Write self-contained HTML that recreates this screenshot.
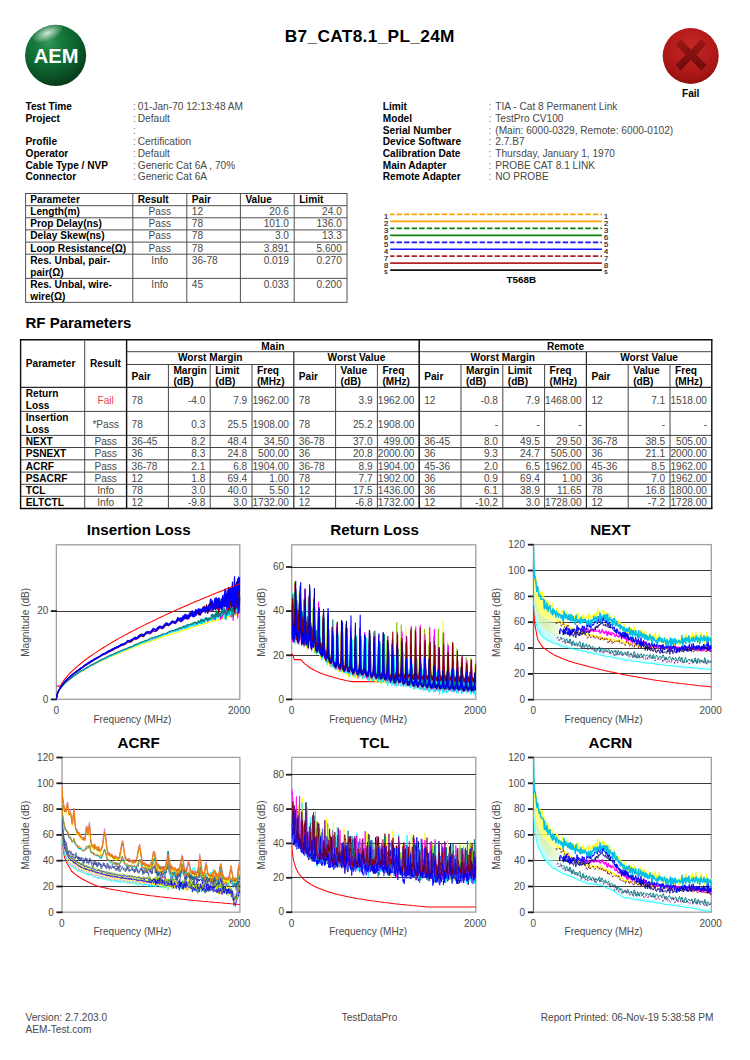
<!DOCTYPE html>
<html><head><meta charset="utf-8"><title>B7_CAT8.1_PL_24M</title>
<style>
html,body{margin:0;padding:0;background:#fff;}
body{width:750px;height:1060px;position:relative;overflow:hidden;font-family:"Liberation Sans", sans-serif;}
.t{position:absolute;white-space:nowrap;}
svg{position:absolute;left:0;top:0;}
</style></head><body>
<div class="t" style="top:25px;font-size:17.3px;line-height:22px;color:#000;font-weight:bold;left:219.80px;width:300px;text-align:center;letter-spacing:0.32px;">B7_CAT8.1_PL_24M</div>
<div class="t" style="top:100px;font-size:10.15px;line-height:13px;color:#000;font-weight:bold;left:25.50px;">Test Time</div>
<div class="t" style="top:100px;font-size:10.15px;line-height:13px;color:#808080;left:133.00px;">:</div>
<div class="t" style="top:100px;font-size:10.15px;line-height:13px;color:#484848;left:137.80px;">01-Jan-70 12:13:48 AM</div>
<div class="t" style="top:112px;font-size:10.15px;line-height:13px;color:#000;font-weight:bold;left:25.50px;">Project</div>
<div class="t" style="top:112px;font-size:10.15px;line-height:13px;color:#808080;left:133.00px;">:</div>
<div class="t" style="top:112px;font-size:10.15px;line-height:13px;color:#484848;left:137.80px;">Default</div>
<div class="t" style="top:124px;font-size:10.15px;line-height:13px;color:#808080;left:133.00px;">:</div>
<div class="t" style="top:135px;font-size:10.15px;line-height:13px;color:#000;font-weight:bold;left:25.50px;">Profile</div>
<div class="t" style="top:135px;font-size:10.15px;line-height:13px;color:#808080;left:133.00px;">:</div>
<div class="t" style="top:135px;font-size:10.15px;line-height:13px;color:#484848;left:137.80px;">Certification</div>
<div class="t" style="top:147px;font-size:10.15px;line-height:13px;color:#000;font-weight:bold;left:25.50px;">Operator</div>
<div class="t" style="top:147px;font-size:10.15px;line-height:13px;color:#808080;left:133.00px;">:</div>
<div class="t" style="top:147px;font-size:10.15px;line-height:13px;color:#484848;left:137.80px;">Default</div>
<div class="t" style="top:159px;font-size:10.15px;line-height:13px;color:#000;font-weight:bold;left:25.50px;">Cable Type / NVP</div>
<div class="t" style="top:159px;font-size:10.15px;line-height:13px;color:#808080;left:133.00px;">:</div>
<div class="t" style="top:159px;font-size:10.15px;line-height:13px;color:#484848;left:137.80px;">Generic Cat 6A , 70%</div>
<div class="t" style="top:170px;font-size:10.15px;line-height:13px;color:#000;font-weight:bold;left:25.50px;">Connector</div>
<div class="t" style="top:170px;font-size:10.15px;line-height:13px;color:#808080;left:133.00px;">:</div>
<div class="t" style="top:170px;font-size:10.15px;line-height:13px;color:#484848;left:137.80px;">Generic Cat 6A</div>
<div class="t" style="top:100px;font-size:10.15px;line-height:13px;color:#000;font-weight:bold;left:382.80px;">Limit</div>
<div class="t" style="top:100px;font-size:10.15px;line-height:13px;color:#808080;left:488.50px;">:</div>
<div class="t" style="top:100px;font-size:10.15px;line-height:13px;color:#484848;left:495.30px;">TIA - Cat 8 Permanent Link</div>
<div class="t" style="top:112px;font-size:10.15px;line-height:13px;color:#000;font-weight:bold;left:382.80px;">Model</div>
<div class="t" style="top:112px;font-size:10.15px;line-height:13px;color:#808080;left:488.50px;">:</div>
<div class="t" style="top:112px;font-size:10.15px;line-height:13px;color:#484848;left:495.30px;">TestPro CV100</div>
<div class="t" style="top:124px;font-size:10.15px;line-height:13px;color:#000;font-weight:bold;left:382.80px;">Serial Number</div>
<div class="t" style="top:124px;font-size:10.15px;line-height:13px;color:#808080;left:488.50px;">:</div>
<div class="t" style="top:124px;font-size:10.15px;line-height:13px;color:#484848;left:495.30px;">(Main: 6000-0329, Remote: 6000-0102)</div>
<div class="t" style="top:135px;font-size:10.15px;line-height:13px;color:#000;font-weight:bold;left:382.80px;">Device Software</div>
<div class="t" style="top:135px;font-size:10.15px;line-height:13px;color:#808080;left:488.50px;">:</div>
<div class="t" style="top:135px;font-size:10.15px;line-height:13px;color:#484848;left:495.30px;">2.7.B7</div>
<div class="t" style="top:147px;font-size:10.15px;line-height:13px;color:#000;font-weight:bold;left:382.80px;">Calibration Date</div>
<div class="t" style="top:147px;font-size:10.15px;line-height:13px;color:#808080;left:488.50px;">:</div>
<div class="t" style="top:147px;font-size:10.15px;line-height:13px;color:#484848;left:495.30px;">Thursday, January 1, 1970</div>
<div class="t" style="top:159px;font-size:10.15px;line-height:13px;color:#000;font-weight:bold;left:382.80px;">Main Adapter</div>
<div class="t" style="top:159px;font-size:10.15px;line-height:13px;color:#808080;left:488.50px;">:</div>
<div class="t" style="top:159px;font-size:10.15px;line-height:13px;color:#484848;left:495.30px;">PROBE CAT 8.1 LINK</div>
<div class="t" style="top:170px;font-size:10.15px;line-height:13px;color:#000;font-weight:bold;left:382.80px;">Remote Adapter</div>
<div class="t" style="top:170px;font-size:10.15px;line-height:13px;color:#808080;left:488.50px;">:</div>
<div class="t" style="top:170px;font-size:10.15px;line-height:13px;color:#484848;left:495.30px;">NO PROBE</div>
<div class="t" style="top:87px;font-size:10.15px;line-height:13px;color:#000;font-weight:bold;left:540.70px;width:300px;text-align:center;">Fail</div>
<div class="t" style="top:193px;font-size:10.15px;line-height:13px;color:#000;font-weight:bold;left:30.30px;">Parameter</div>
<div class="t" style="top:193px;font-size:10.15px;line-height:13px;color:#000;font-weight:bold;left:137.80px;">Result</div>
<div class="t" style="top:193px;font-size:10.15px;line-height:13px;color:#000;font-weight:bold;left:191.80px;">Pair</div>
<div class="t" style="top:193px;font-size:10.15px;line-height:13px;color:#000;font-weight:bold;left:245.40px;">Value</div>
<div class="t" style="top:193px;font-size:10.15px;line-height:13px;color:#000;font-weight:bold;left:299.20px;">Limit</div>
<div class="t" style="top:205px;font-size:10.15px;line-height:13px;color:#000;font-weight:bold;left:30.30px;">Length(m)</div>
<div class="t" style="top:205px;font-size:10.15px;line-height:13px;color:#484848;left:9.80px;width:300px;text-align:center;">Pass</div>
<div class="t" style="top:205px;font-size:10.15px;line-height:13px;color:#484848;left:191.80px;">12</div>
<div class="t" style="top:205px;font-size:10.15px;line-height:13px;color:#484848;right:461.00px;text-align:right;">20.6</div>
<div class="t" style="top:205px;font-size:10.15px;line-height:13px;color:#484848;right:408.20px;text-align:right;">24.0</div>
<div class="t" style="top:217px;font-size:10.15px;line-height:13px;color:#000;font-weight:bold;left:30.30px;">Prop Delay(ns)</div>
<div class="t" style="top:217px;font-size:10.15px;line-height:13px;color:#484848;left:9.80px;width:300px;text-align:center;">Pass</div>
<div class="t" style="top:217px;font-size:10.15px;line-height:13px;color:#484848;left:191.80px;">78</div>
<div class="t" style="top:217px;font-size:10.15px;line-height:13px;color:#484848;right:461.00px;text-align:right;">101.0</div>
<div class="t" style="top:217px;font-size:10.15px;line-height:13px;color:#484848;right:408.20px;text-align:right;">136.0</div>
<div class="t" style="top:229px;font-size:10.15px;line-height:13px;color:#000;font-weight:bold;left:30.30px;">Delay Skew(ns)</div>
<div class="t" style="top:229px;font-size:10.15px;line-height:13px;color:#484848;left:9.80px;width:300px;text-align:center;">Pass</div>
<div class="t" style="top:229px;font-size:10.15px;line-height:13px;color:#484848;left:191.80px;">78</div>
<div class="t" style="top:229px;font-size:10.15px;line-height:13px;color:#484848;right:461.00px;text-align:right;">3.0</div>
<div class="t" style="top:229px;font-size:10.15px;line-height:13px;color:#484848;right:408.20px;text-align:right;">13.3</div>
<div class="t" style="top:242px;font-size:10.15px;line-height:13px;color:#000;font-weight:bold;left:30.30px;">Loop Resistance(Ω)</div>
<div class="t" style="top:242px;font-size:10.15px;line-height:13px;color:#484848;left:9.80px;width:300px;text-align:center;">Pass</div>
<div class="t" style="top:242px;font-size:10.15px;line-height:13px;color:#484848;left:191.80px;">78</div>
<div class="t" style="top:242px;font-size:10.15px;line-height:13px;color:#484848;right:461.00px;text-align:right;">3.891</div>
<div class="t" style="top:242px;font-size:10.15px;line-height:13px;color:#484848;right:408.20px;text-align:right;">5.600</div>
<div class="t" style="top:254px;font-size:10.15px;line-height:13px;color:#000;font-weight:bold;left:30.30px;">Res. Unbal, pair-</div>
<div class="t" style="top:266px;font-size:10.15px;line-height:13px;color:#000;font-weight:bold;left:30.30px;">pair(Ω)</div>
<div class="t" style="top:254px;font-size:10.15px;line-height:13px;color:#484848;left:9.80px;width:300px;text-align:center;">Info</div>
<div class="t" style="top:254px;font-size:10.15px;line-height:13px;color:#484848;left:191.80px;">36-78</div>
<div class="t" style="top:254px;font-size:10.15px;line-height:13px;color:#484848;right:461.00px;text-align:right;">0.019</div>
<div class="t" style="top:254px;font-size:10.15px;line-height:13px;color:#484848;right:408.20px;text-align:right;">0.270</div>
<div class="t" style="top:278px;font-size:10.15px;line-height:13px;color:#000;font-weight:bold;left:30.30px;">Res. Unbal, wire-</div>
<div class="t" style="top:290px;font-size:10.15px;line-height:13px;color:#000;font-weight:bold;left:30.30px;">wire(Ω)</div>
<div class="t" style="top:278px;font-size:10.15px;line-height:13px;color:#484848;left:9.80px;width:300px;text-align:center;">Info</div>
<div class="t" style="top:278px;font-size:10.15px;line-height:13px;color:#484848;left:191.80px;">45</div>
<div class="t" style="top:278px;font-size:10.15px;line-height:13px;color:#484848;right:461.00px;text-align:right;">0.033</div>
<div class="t" style="top:278px;font-size:10.15px;line-height:13px;color:#484848;right:408.20px;text-align:right;">0.200</div>
<div class="t" style="top:313px;font-size:15px;line-height:19px;color:#000;font-weight:bold;left:25.50px;">RF Parameters</div>
<div class="t" style="top:357px;font-size:10.15px;line-height:13px;color:#000;font-weight:bold;left:25.80px;">Parameter</div>
<div class="t" style="top:357px;font-size:10.15px;line-height:13px;color:#000;font-weight:bold;left:90.00px;">Result</div>
<div class="t" style="top:340px;font-size:10.15px;line-height:13px;color:#000;font-weight:bold;left:122.90px;width:300px;text-align:center;">Main</div>
<div class="t" style="top:340px;font-size:10.15px;line-height:13px;color:#000;font-weight:bold;left:415.50px;width:300px;text-align:center;">Remote</div>
<div class="t" style="top:351px;font-size:10.15px;line-height:13px;color:#000;font-weight:bold;left:60.20px;width:300px;text-align:center;">Worst Margin</div>
<div class="t" style="top:351px;font-size:10.15px;line-height:13px;color:#000;font-weight:bold;left:206.50px;width:300px;text-align:center;">Worst Value</div>
<div class="t" style="top:370px;font-size:10.15px;line-height:13px;color:#000;font-weight:bold;left:131.60px;">Pair</div>
<div class="t" style="top:364px;font-size:10.15px;line-height:13px;color:#000;font-weight:bold;left:173.40px;">Margin</div>
<div class="t" style="top:375px;font-size:10.15px;line-height:13px;color:#000;font-weight:bold;left:173.40px;">(dB)</div>
<div class="t" style="top:364px;font-size:10.15px;line-height:13px;color:#000;font-weight:bold;left:215.20px;">Limit</div>
<div class="t" style="top:375px;font-size:10.15px;line-height:13px;color:#000;font-weight:bold;left:215.20px;">(dB)</div>
<div class="t" style="top:364px;font-size:10.15px;line-height:13px;color:#000;font-weight:bold;left:257.00px;">Freq</div>
<div class="t" style="top:375px;font-size:10.15px;line-height:13px;color:#000;font-weight:bold;left:257.00px;">(MHz)</div>
<div class="t" style="top:370px;font-size:10.15px;line-height:13px;color:#000;font-weight:bold;left:298.80px;">Pair</div>
<div class="t" style="top:364px;font-size:10.15px;line-height:13px;color:#000;font-weight:bold;left:340.60px;">Value</div>
<div class="t" style="top:375px;font-size:10.15px;line-height:13px;color:#000;font-weight:bold;left:340.60px;">(dB)</div>
<div class="t" style="top:364px;font-size:10.15px;line-height:13px;color:#000;font-weight:bold;left:382.40px;">Freq</div>
<div class="t" style="top:375px;font-size:10.15px;line-height:13px;color:#000;font-weight:bold;left:382.40px;">(MHz)</div>
<div class="t" style="top:351px;font-size:10.15px;line-height:13px;color:#000;font-weight:bold;left:352.80px;width:300px;text-align:center;">Worst Margin</div>
<div class="t" style="top:351px;font-size:10.15px;line-height:13px;color:#000;font-weight:bold;left:499.10px;width:300px;text-align:center;">Worst Value</div>
<div class="t" style="top:370px;font-size:10.15px;line-height:13px;color:#000;font-weight:bold;left:424.20px;">Pair</div>
<div class="t" style="top:364px;font-size:10.15px;line-height:13px;color:#000;font-weight:bold;left:466.00px;">Margin</div>
<div class="t" style="top:375px;font-size:10.15px;line-height:13px;color:#000;font-weight:bold;left:466.00px;">(dB)</div>
<div class="t" style="top:364px;font-size:10.15px;line-height:13px;color:#000;font-weight:bold;left:507.80px;">Limit</div>
<div class="t" style="top:375px;font-size:10.15px;line-height:13px;color:#000;font-weight:bold;left:507.80px;">(dB)</div>
<div class="t" style="top:364px;font-size:10.15px;line-height:13px;color:#000;font-weight:bold;left:549.60px;">Freq</div>
<div class="t" style="top:375px;font-size:10.15px;line-height:13px;color:#000;font-weight:bold;left:549.60px;">(MHz)</div>
<div class="t" style="top:370px;font-size:10.15px;line-height:13px;color:#000;font-weight:bold;left:591.40px;">Pair</div>
<div class="t" style="top:364px;font-size:10.15px;line-height:13px;color:#000;font-weight:bold;left:633.20px;">Value</div>
<div class="t" style="top:375px;font-size:10.15px;line-height:13px;color:#000;font-weight:bold;left:633.20px;">(dB)</div>
<div class="t" style="top:364px;font-size:10.15px;line-height:13px;color:#000;font-weight:bold;left:675.00px;">Freq</div>
<div class="t" style="top:375px;font-size:10.15px;line-height:13px;color:#000;font-weight:bold;left:675.00px;">(MHz)</div>
<div class="t" style="top:387px;font-size:10.15px;line-height:13px;color:#000;font-weight:bold;left:25.80px;">Return</div>
<div class="t" style="top:399px;font-size:10.15px;line-height:13px;color:#000;font-weight:bold;left:25.80px;">Loss</div>
<div class="t" style="top:394px;font-size:10.15px;line-height:13px;color:#e8474a;left:-44.35px;width:300px;text-align:center;">Fail</div>
<div class="t" style="top:394px;font-size:10.15px;line-height:13px;color:#484848;left:131.60px;">78</div>
<div class="t" style="top:394px;font-size:10.15px;line-height:13px;color:#484848;right:544.60px;text-align:right;">-4.0</div>
<div class="t" style="top:394px;font-size:10.15px;line-height:13px;color:#484848;right:502.80px;text-align:right;">7.9</div>
<div class="t" style="top:394px;font-size:10.15px;line-height:13px;color:#484848;right:461.00px;text-align:right;">1962.00</div>
<div class="t" style="top:394px;font-size:10.15px;line-height:13px;color:#484848;left:298.80px;">78</div>
<div class="t" style="top:394px;font-size:10.15px;line-height:13px;color:#484848;right:377.40px;text-align:right;">3.9</div>
<div class="t" style="top:394px;font-size:10.15px;line-height:13px;color:#484848;right:335.60px;text-align:right;">1962.00</div>
<div class="t" style="top:394px;font-size:10.15px;line-height:13px;color:#484848;left:424.20px;">12</div>
<div class="t" style="top:394px;font-size:10.15px;line-height:13px;color:#484848;right:252.00px;text-align:right;">-0.8</div>
<div class="t" style="top:394px;font-size:10.15px;line-height:13px;color:#484848;right:210.20px;text-align:right;">7.9</div>
<div class="t" style="top:394px;font-size:10.15px;line-height:13px;color:#484848;right:168.40px;text-align:right;">1468.00</div>
<div class="t" style="top:394px;font-size:10.15px;line-height:13px;color:#484848;left:591.40px;">12</div>
<div class="t" style="top:394px;font-size:10.15px;line-height:13px;color:#484848;right:84.80px;text-align:right;">7.1</div>
<div class="t" style="top:394px;font-size:10.15px;line-height:13px;color:#484848;right:43.00px;text-align:right;">1518.00</div>
<div class="t" style="top:411px;font-size:10.15px;line-height:13px;color:#000;font-weight:bold;left:25.80px;">Insertion</div>
<div class="t" style="top:423px;font-size:10.15px;line-height:13px;color:#000;font-weight:bold;left:25.80px;">Loss</div>
<div class="t" style="top:418px;font-size:10.15px;line-height:13px;color:#484848;left:-44.35px;width:300px;text-align:center;">*Pass</div>
<div class="t" style="top:418px;font-size:10.15px;line-height:13px;color:#484848;left:131.60px;">78</div>
<div class="t" style="top:418px;font-size:10.15px;line-height:13px;color:#484848;right:544.60px;text-align:right;">0.3</div>
<div class="t" style="top:418px;font-size:10.15px;line-height:13px;color:#484848;right:502.80px;text-align:right;">25.5</div>
<div class="t" style="top:418px;font-size:10.15px;line-height:13px;color:#484848;right:461.00px;text-align:right;">1908.00</div>
<div class="t" style="top:418px;font-size:10.15px;line-height:13px;color:#484848;left:298.80px;">78</div>
<div class="t" style="top:418px;font-size:10.15px;line-height:13px;color:#484848;right:377.40px;text-align:right;">25.2</div>
<div class="t" style="top:418px;font-size:10.15px;line-height:13px;color:#484848;right:335.60px;text-align:right;">1908.00</div>
<div class="t" style="top:418px;font-size:10.15px;line-height:13px;color:#484848;right:252.00px;text-align:right;">-</div>
<div class="t" style="top:418px;font-size:10.15px;line-height:13px;color:#484848;right:210.20px;text-align:right;">-</div>
<div class="t" style="top:418px;font-size:10.15px;line-height:13px;color:#484848;right:168.40px;text-align:right;">-</div>
<div class="t" style="top:418px;font-size:10.15px;line-height:13px;color:#484848;right:84.80px;text-align:right;">-</div>
<div class="t" style="top:418px;font-size:10.15px;line-height:13px;color:#484848;right:43.00px;text-align:right;">-</div>
<div class="t" style="top:435px;font-size:10.15px;line-height:13px;color:#000;font-weight:bold;left:25.80px;">NEXT</div>
<div class="t" style="top:435px;font-size:10.15px;line-height:13px;color:#484848;left:-44.35px;width:300px;text-align:center;">Pass</div>
<div class="t" style="top:435px;font-size:10.15px;line-height:13px;color:#484848;left:131.60px;">36-45</div>
<div class="t" style="top:435px;font-size:10.15px;line-height:13px;color:#484848;right:544.60px;text-align:right;">8.2</div>
<div class="t" style="top:435px;font-size:10.15px;line-height:13px;color:#484848;right:502.80px;text-align:right;">48.4</div>
<div class="t" style="top:435px;font-size:10.15px;line-height:13px;color:#484848;right:461.00px;text-align:right;">34.50</div>
<div class="t" style="top:435px;font-size:10.15px;line-height:13px;color:#484848;left:298.80px;">36-78</div>
<div class="t" style="top:435px;font-size:10.15px;line-height:13px;color:#484848;right:377.40px;text-align:right;">37.0</div>
<div class="t" style="top:435px;font-size:10.15px;line-height:13px;color:#484848;right:335.60px;text-align:right;">499.00</div>
<div class="t" style="top:435px;font-size:10.15px;line-height:13px;color:#484848;left:424.20px;">36-45</div>
<div class="t" style="top:435px;font-size:10.15px;line-height:13px;color:#484848;right:252.00px;text-align:right;">8.0</div>
<div class="t" style="top:435px;font-size:10.15px;line-height:13px;color:#484848;right:210.20px;text-align:right;">49.5</div>
<div class="t" style="top:435px;font-size:10.15px;line-height:13px;color:#484848;right:168.40px;text-align:right;">29.50</div>
<div class="t" style="top:435px;font-size:10.15px;line-height:13px;color:#484848;left:591.40px;">36-78</div>
<div class="t" style="top:435px;font-size:10.15px;line-height:13px;color:#484848;right:84.80px;text-align:right;">38.5</div>
<div class="t" style="top:435px;font-size:10.15px;line-height:13px;color:#484848;right:43.00px;text-align:right;">505.00</div>
<div class="t" style="top:447px;font-size:10.15px;line-height:13px;color:#000;font-weight:bold;left:25.80px;">PSNEXT</div>
<div class="t" style="top:447px;font-size:10.15px;line-height:13px;color:#484848;left:-44.35px;width:300px;text-align:center;">Pass</div>
<div class="t" style="top:447px;font-size:10.15px;line-height:13px;color:#484848;left:131.60px;">36</div>
<div class="t" style="top:447px;font-size:10.15px;line-height:13px;color:#484848;right:544.60px;text-align:right;">8.3</div>
<div class="t" style="top:447px;font-size:10.15px;line-height:13px;color:#484848;right:502.80px;text-align:right;">24.8</div>
<div class="t" style="top:447px;font-size:10.15px;line-height:13px;color:#484848;right:461.00px;text-align:right;">500.00</div>
<div class="t" style="top:447px;font-size:10.15px;line-height:13px;color:#484848;left:298.80px;">36</div>
<div class="t" style="top:447px;font-size:10.15px;line-height:13px;color:#484848;right:377.40px;text-align:right;">20.8</div>
<div class="t" style="top:447px;font-size:10.15px;line-height:13px;color:#484848;right:335.60px;text-align:right;">2000.00</div>
<div class="t" style="top:447px;font-size:10.15px;line-height:13px;color:#484848;left:424.20px;">36</div>
<div class="t" style="top:447px;font-size:10.15px;line-height:13px;color:#484848;right:252.00px;text-align:right;">9.3</div>
<div class="t" style="top:447px;font-size:10.15px;line-height:13px;color:#484848;right:210.20px;text-align:right;">24.7</div>
<div class="t" style="top:447px;font-size:10.15px;line-height:13px;color:#484848;right:168.40px;text-align:right;">505.00</div>
<div class="t" style="top:447px;font-size:10.15px;line-height:13px;color:#484848;left:591.40px;">36</div>
<div class="t" style="top:447px;font-size:10.15px;line-height:13px;color:#484848;right:84.80px;text-align:right;">21.1</div>
<div class="t" style="top:447px;font-size:10.15px;line-height:13px;color:#484848;right:43.00px;text-align:right;">2000.00</div>
<div class="t" style="top:460px;font-size:10.15px;line-height:13px;color:#000;font-weight:bold;left:25.80px;">ACRF</div>
<div class="t" style="top:460px;font-size:10.15px;line-height:13px;color:#484848;left:-44.35px;width:300px;text-align:center;">Pass</div>
<div class="t" style="top:460px;font-size:10.15px;line-height:13px;color:#484848;left:131.60px;">36-78</div>
<div class="t" style="top:460px;font-size:10.15px;line-height:13px;color:#484848;right:544.60px;text-align:right;">2.1</div>
<div class="t" style="top:460px;font-size:10.15px;line-height:13px;color:#484848;right:502.80px;text-align:right;">6.8</div>
<div class="t" style="top:460px;font-size:10.15px;line-height:13px;color:#484848;right:461.00px;text-align:right;">1904.00</div>
<div class="t" style="top:460px;font-size:10.15px;line-height:13px;color:#484848;left:298.80px;">36-78</div>
<div class="t" style="top:460px;font-size:10.15px;line-height:13px;color:#484848;right:377.40px;text-align:right;">8.9</div>
<div class="t" style="top:460px;font-size:10.15px;line-height:13px;color:#484848;right:335.60px;text-align:right;">1904.00</div>
<div class="t" style="top:460px;font-size:10.15px;line-height:13px;color:#484848;left:424.20px;">45-36</div>
<div class="t" style="top:460px;font-size:10.15px;line-height:13px;color:#484848;right:252.00px;text-align:right;">2.0</div>
<div class="t" style="top:460px;font-size:10.15px;line-height:13px;color:#484848;right:210.20px;text-align:right;">6.5</div>
<div class="t" style="top:460px;font-size:10.15px;line-height:13px;color:#484848;right:168.40px;text-align:right;">1962.00</div>
<div class="t" style="top:460px;font-size:10.15px;line-height:13px;color:#484848;left:591.40px;">45-36</div>
<div class="t" style="top:460px;font-size:10.15px;line-height:13px;color:#484848;right:84.80px;text-align:right;">8.5</div>
<div class="t" style="top:460px;font-size:10.15px;line-height:13px;color:#484848;right:43.00px;text-align:right;">1962.00</div>
<div class="t" style="top:472px;font-size:10.15px;line-height:13px;color:#000;font-weight:bold;left:25.80px;">PSACRF</div>
<div class="t" style="top:472px;font-size:10.15px;line-height:13px;color:#484848;left:-44.35px;width:300px;text-align:center;">Pass</div>
<div class="t" style="top:472px;font-size:10.15px;line-height:13px;color:#484848;left:131.60px;">12</div>
<div class="t" style="top:472px;font-size:10.15px;line-height:13px;color:#484848;right:544.60px;text-align:right;">1.8</div>
<div class="t" style="top:472px;font-size:10.15px;line-height:13px;color:#484848;right:502.80px;text-align:right;">69.4</div>
<div class="t" style="top:472px;font-size:10.15px;line-height:13px;color:#484848;right:461.00px;text-align:right;">1.00</div>
<div class="t" style="top:472px;font-size:10.15px;line-height:13px;color:#484848;left:298.80px;">78</div>
<div class="t" style="top:472px;font-size:10.15px;line-height:13px;color:#484848;right:377.40px;text-align:right;">7.7</div>
<div class="t" style="top:472px;font-size:10.15px;line-height:13px;color:#484848;right:335.60px;text-align:right;">1902.00</div>
<div class="t" style="top:472px;font-size:10.15px;line-height:13px;color:#484848;left:424.20px;">36</div>
<div class="t" style="top:472px;font-size:10.15px;line-height:13px;color:#484848;right:252.00px;text-align:right;">0.9</div>
<div class="t" style="top:472px;font-size:10.15px;line-height:13px;color:#484848;right:210.20px;text-align:right;">69.4</div>
<div class="t" style="top:472px;font-size:10.15px;line-height:13px;color:#484848;right:168.40px;text-align:right;">1.00</div>
<div class="t" style="top:472px;font-size:10.15px;line-height:13px;color:#484848;left:591.40px;">36</div>
<div class="t" style="top:472px;font-size:10.15px;line-height:13px;color:#484848;right:84.80px;text-align:right;">7.0</div>
<div class="t" style="top:472px;font-size:10.15px;line-height:13px;color:#484848;right:43.00px;text-align:right;">1962.00</div>
<div class="t" style="top:484px;font-size:10.15px;line-height:13px;color:#000;font-weight:bold;left:25.80px;">TCL</div>
<div class="t" style="top:484px;font-size:10.15px;line-height:13px;color:#484848;left:-44.35px;width:300px;text-align:center;">Info</div>
<div class="t" style="top:484px;font-size:10.15px;line-height:13px;color:#484848;left:131.60px;">78</div>
<div class="t" style="top:484px;font-size:10.15px;line-height:13px;color:#484848;right:544.60px;text-align:right;">3.0</div>
<div class="t" style="top:484px;font-size:10.15px;line-height:13px;color:#484848;right:502.80px;text-align:right;">40.0</div>
<div class="t" style="top:484px;font-size:10.15px;line-height:13px;color:#484848;right:461.00px;text-align:right;">5.50</div>
<div class="t" style="top:484px;font-size:10.15px;line-height:13px;color:#484848;left:298.80px;">12</div>
<div class="t" style="top:484px;font-size:10.15px;line-height:13px;color:#484848;right:377.40px;text-align:right;">17.5</div>
<div class="t" style="top:484px;font-size:10.15px;line-height:13px;color:#484848;right:335.60px;text-align:right;">1436.00</div>
<div class="t" style="top:484px;font-size:10.15px;line-height:13px;color:#484848;left:424.20px;">36</div>
<div class="t" style="top:484px;font-size:10.15px;line-height:13px;color:#484848;right:252.00px;text-align:right;">6.1</div>
<div class="t" style="top:484px;font-size:10.15px;line-height:13px;color:#484848;right:210.20px;text-align:right;">38.9</div>
<div class="t" style="top:484px;font-size:10.15px;line-height:13px;color:#484848;right:168.40px;text-align:right;">11.65</div>
<div class="t" style="top:484px;font-size:10.15px;line-height:13px;color:#484848;left:591.40px;">78</div>
<div class="t" style="top:484px;font-size:10.15px;line-height:13px;color:#484848;right:84.80px;text-align:right;">16.8</div>
<div class="t" style="top:484px;font-size:10.15px;line-height:13px;color:#484848;right:43.00px;text-align:right;">1800.00</div>
<div class="t" style="top:496px;font-size:10.15px;line-height:13px;color:#000;font-weight:bold;left:25.80px;">ELTCTL</div>
<div class="t" style="top:496px;font-size:10.15px;line-height:13px;color:#484848;left:-44.35px;width:300px;text-align:center;">Info</div>
<div class="t" style="top:496px;font-size:10.15px;line-height:13px;color:#484848;left:131.60px;">12</div>
<div class="t" style="top:496px;font-size:10.15px;line-height:13px;color:#484848;right:544.60px;text-align:right;">-9.8</div>
<div class="t" style="top:496px;font-size:10.15px;line-height:13px;color:#484848;right:502.80px;text-align:right;">3.0</div>
<div class="t" style="top:496px;font-size:10.15px;line-height:13px;color:#484848;right:461.00px;text-align:right;">1732.00</div>
<div class="t" style="top:496px;font-size:10.15px;line-height:13px;color:#484848;left:298.80px;">12</div>
<div class="t" style="top:496px;font-size:10.15px;line-height:13px;color:#484848;right:377.40px;text-align:right;">-6.8</div>
<div class="t" style="top:496px;font-size:10.15px;line-height:13px;color:#484848;right:335.60px;text-align:right;">1732.00</div>
<div class="t" style="top:496px;font-size:10.15px;line-height:13px;color:#484848;left:424.20px;">12</div>
<div class="t" style="top:496px;font-size:10.15px;line-height:13px;color:#484848;right:252.00px;text-align:right;">-10.2</div>
<div class="t" style="top:496px;font-size:10.15px;line-height:13px;color:#484848;right:210.20px;text-align:right;">3.0</div>
<div class="t" style="top:496px;font-size:10.15px;line-height:13px;color:#484848;right:168.40px;text-align:right;">1728.00</div>
<div class="t" style="top:496px;font-size:10.15px;line-height:13px;color:#484848;left:591.40px;">12</div>
<div class="t" style="top:496px;font-size:10.15px;line-height:13px;color:#484848;right:84.80px;text-align:right;">-7.2</div>
<div class="t" style="top:496px;font-size:10.15px;line-height:13px;color:#484848;right:43.00px;text-align:right;">1728.00</div>
<div class="t" style="top:1011px;font-size:10.15px;line-height:13px;color:#484848;left:25.50px;">Version: 2.7.203.0</div>
<div class="t" style="top:1023px;font-size:10.15px;line-height:13px;color:#484848;left:25.50px;">AEM-Test.com</div>
<div class="t" style="top:1011px;font-size:10.15px;line-height:13px;color:#484848;left:219.50px;width:300px;text-align:center;">TestDataPro</div>
<div class="t" style="top:1011px;font-size:10.15px;line-height:13px;color:#484848;right:36.50px;text-align:right;">Report Printed: 06-Nov-19 5:38:58 PM</div>
<svg width="750" height="1060" viewBox="0 0 750 1060" font-family='"Liberation Sans", sans-serif'>
<defs>
<radialGradient id="gLogo" cx="0.38" cy="0.28" r="0.8"><stop offset="0" stop-color="#36975c"/><stop offset="0.25" stop-color="#177c3d"/><stop offset="0.5" stop-color="#0f6831"/><stop offset="0.75" stop-color="#0a4f25"/><stop offset="1" stop-color="#053014"/></radialGradient>
<radialGradient id="gLogoHi" cx="0.5" cy="0.5" r="0.5"><stop offset="0" stop-color="#fff" stop-opacity="0.8"/><stop offset="1" stop-color="#fff" stop-opacity="0"/></radialGradient>
<radialGradient id="gFail" cx="0.5" cy="0.36" r="0.66"><stop offset="0" stop-color="#c62828"/><stop offset="0.55" stop-color="#b41b1b"/><stop offset="0.85" stop-color="#a01414"/><stop offset="1" stop-color="#820d0d"/></radialGradient><linearGradient id="gX" x1="0" y1="0" x2="0" y2="1"><stop offset="0" stop-color="#9a1818"/><stop offset="1" stop-color="#6e0a0a"/></linearGradient>
</defs>
<circle cx="55.6" cy="55.4" r="30.6" fill="url(#gLogo)"/>
<ellipse cx="47.5" cy="33" rx="17" ry="8" fill="url(#gLogoHi)" transform="rotate(-22 47.5 33)"/>
<text x="56.1" y="62.9" font-size="19.8" font-weight="bold" fill="#fff" text-anchor="middle" textLength="44.6" lengthAdjust="spacingAndGlyphs">AEM</text>
<circle cx="690.7" cy="56" r="28" fill="url(#gFail)"/>
<path d="M675.5 44.6 L680.8 39.3 L691 49.5 L701.2 39.3 L706.5 44.6 L696.3 54.8 L706.5 65 L701.2 70.3 L691 60.1 L680.8 70.3 L675.5 65 L685.7 54.8 Z" fill="url(#gX)"/>
<line x1="25.6" y1="193.5" x2="347.0" y2="193.5" stroke="#505050" stroke-width="1"/>
<line x1="25.6" y1="205.7" x2="347.0" y2="205.7" stroke="#505050" stroke-width="1"/>
<line x1="25.6" y1="217.8" x2="347.0" y2="217.8" stroke="#505050" stroke-width="1"/>
<line x1="25.6" y1="229.9" x2="347.0" y2="229.9" stroke="#505050" stroke-width="1"/>
<line x1="25.6" y1="242.1" x2="347.0" y2="242.1" stroke="#505050" stroke-width="1"/>
<line x1="25.6" y1="254.2" x2="347.0" y2="254.2" stroke="#505050" stroke-width="1"/>
<line x1="25.6" y1="278.4" x2="347.0" y2="278.4" stroke="#505050" stroke-width="1"/>
<line x1="25.6" y1="302.4" x2="347.0" y2="302.4" stroke="#505050" stroke-width="1"/>
<line x1="25.6" y1="193.0" x2="25.6" y2="302.9" stroke="#505050" stroke-width="1"/>
<line x1="132.8" y1="193.0" x2="132.8" y2="302.9" stroke="#505050" stroke-width="1"/>
<line x1="186.8" y1="193.0" x2="186.8" y2="302.9" stroke="#505050" stroke-width="1"/>
<line x1="240.4" y1="193.0" x2="240.4" y2="302.9" stroke="#505050" stroke-width="1"/>
<line x1="294.2" y1="193.0" x2="294.2" y2="302.9" stroke="#505050" stroke-width="1"/>
<line x1="347.0" y1="193.0" x2="347.0" y2="302.9" stroke="#505050" stroke-width="1"/>
<line x1="19.9" y1="339.7" x2="712.5" y2="339.7" stroke="#0c0c0c" stroke-width="1.5"/>
<line x1="126.6" y1="351.7" x2="711.8" y2="351.7" stroke="#454545" stroke-width="1"/>
<line x1="126.6" y1="364.5" x2="711.8" y2="364.5" stroke="#454545" stroke-width="1"/>
<line x1="20.6" y1="387.4" x2="711.8" y2="387.4" stroke="#2a2a2a" stroke-width="1.1"/>
<line x1="20.6" y1="411.4" x2="711.8" y2="411.4" stroke="#454545" stroke-width="1"/>
<line x1="20.6" y1="435.4" x2="711.8" y2="435.4" stroke="#454545" stroke-width="1"/>
<line x1="20.6" y1="447.5" x2="711.8" y2="447.5" stroke="#454545" stroke-width="1"/>
<line x1="20.6" y1="459.8" x2="711.8" y2="459.8" stroke="#454545" stroke-width="1"/>
<line x1="20.6" y1="472.1" x2="711.8" y2="472.1" stroke="#454545" stroke-width="1"/>
<line x1="20.6" y1="484.3" x2="711.8" y2="484.3" stroke="#454545" stroke-width="1"/>
<line x1="20.6" y1="496.3" x2="711.8" y2="496.3" stroke="#454545" stroke-width="1"/>
<line x1="19.9" y1="508.5" x2="712.5" y2="508.5" stroke="#0c0c0c" stroke-width="1.5"/>
<line x1="20.6" y1="339.7" x2="20.6" y2="508.5" stroke="#0c0c0c" stroke-width="1.4"/>
<line x1="711.8" y1="339.7" x2="711.8" y2="508.5" stroke="#0c0c0c" stroke-width="1.4"/>
<line x1="84.7" y1="339.7" x2="84.7" y2="508.5" stroke="#454545" stroke-width="1"/>
<line x1="126.6" y1="339.7" x2="126.6" y2="508.5" stroke="#0c0c0c" stroke-width="1.4"/>
<line x1="168.4" y1="364.5" x2="168.4" y2="508.5" stroke="#454545" stroke-width="1"/>
<line x1="210.2" y1="364.5" x2="210.2" y2="508.5" stroke="#454545" stroke-width="1"/>
<line x1="252.0" y1="364.5" x2="252.0" y2="508.5" stroke="#454545" stroke-width="1"/>
<line x1="293.8" y1="351.7" x2="293.8" y2="508.5" stroke="#2a2a2a" stroke-width="1.2"/>
<line x1="335.6" y1="364.5" x2="335.6" y2="508.5" stroke="#454545" stroke-width="1"/>
<line x1="377.4" y1="364.5" x2="377.4" y2="508.5" stroke="#454545" stroke-width="1"/>
<line x1="419.2" y1="339.7" x2="419.2" y2="508.5" stroke="#0c0c0c" stroke-width="1.5"/>
<line x1="461.0" y1="364.5" x2="461.0" y2="508.5" stroke="#454545" stroke-width="1"/>
<line x1="502.8" y1="364.5" x2="502.8" y2="508.5" stroke="#454545" stroke-width="1"/>
<line x1="544.6" y1="364.5" x2="544.6" y2="508.5" stroke="#454545" stroke-width="1"/>
<line x1="586.4" y1="351.7" x2="586.4" y2="508.5" stroke="#2a2a2a" stroke-width="1.2"/>
<line x1="628.2" y1="364.5" x2="628.2" y2="508.5" stroke="#454545" stroke-width="1"/>
<line x1="670.0" y1="364.5" x2="670.0" y2="508.5" stroke="#454545" stroke-width="1"/>
<line x1="390.2" y1="214.40" x2="601.9" y2="214.40" stroke="#ffa200" stroke-width="1.7" stroke-dasharray="5.4 2.15" stroke-dashoffset="1.2"/>
<text x="384" y="219.40" font-size="7.6" fill="#222" stroke="#222" stroke-width="0.2">1</text>
<text x="604" y="219.40" font-size="7.6" fill="#222" stroke="#222" stroke-width="0.2">1</text>
<line x1="390.2" y1="221.37" x2="601.9" y2="221.37" stroke="#ffa200" stroke-width="1.7"/>
<text x="384" y="226.37" font-size="7.6" fill="#222" stroke="#222" stroke-width="0.2">2</text>
<text x="604" y="226.37" font-size="7.6" fill="#222" stroke="#222" stroke-width="0.2">2</text>
<line x1="390.2" y1="228.34" x2="601.9" y2="228.34" stroke="#088008" stroke-width="1.7" stroke-dasharray="5.4 2.15" stroke-dashoffset="1.2"/>
<text x="384" y="233.34" font-size="7.6" fill="#222" stroke="#222" stroke-width="0.2">3</text>
<text x="604" y="233.34" font-size="7.6" fill="#222" stroke="#222" stroke-width="0.2">3</text>
<line x1="390.2" y1="235.31" x2="601.9" y2="235.31" stroke="#088008" stroke-width="1.7"/>
<text x="384" y="240.31" font-size="7.6" fill="#222" stroke="#222" stroke-width="0.2">6</text>
<text x="604" y="240.31" font-size="7.6" fill="#222" stroke="#222" stroke-width="0.2">6</text>
<line x1="390.2" y1="242.28" x2="601.9" y2="242.28" stroke="#1414ff" stroke-width="1.7" stroke-dasharray="5.4 2.15" stroke-dashoffset="1.2"/>
<text x="384" y="247.28" font-size="7.6" fill="#222" stroke="#222" stroke-width="0.2">5</text>
<text x="604" y="247.28" font-size="7.6" fill="#222" stroke="#222" stroke-width="0.2">5</text>
<line x1="390.2" y1="249.25" x2="601.9" y2="249.25" stroke="#1414ff" stroke-width="1.7"/>
<text x="384" y="254.25" font-size="7.6" fill="#222" stroke="#222" stroke-width="0.2">4</text>
<text x="604" y="254.25" font-size="7.6" fill="#222" stroke="#222" stroke-width="0.2">4</text>
<line x1="390.2" y1="256.22" x2="601.9" y2="256.22" stroke="#b02222" stroke-width="1.7" stroke-dasharray="5.4 2.15" stroke-dashoffset="1.2"/>
<text x="384" y="261.22" font-size="7.6" fill="#222" stroke="#222" stroke-width="0.2">7</text>
<text x="604" y="261.22" font-size="7.6" fill="#222" stroke="#222" stroke-width="0.2">7</text>
<line x1="390.2" y1="263.19" x2="601.9" y2="263.19" stroke="#b02222" stroke-width="1.7"/>
<text x="384" y="268.19" font-size="7.6" fill="#222" stroke="#222" stroke-width="0.2">8</text>
<text x="604" y="268.19" font-size="7.6" fill="#222" stroke="#222" stroke-width="0.2">8</text>
<line x1="390.2" y1="270.16" x2="601.9" y2="270.16" stroke="#111" stroke-width="1.6"/>
<text x="384.2" y="274.06" font-size="6.5" fill="#222" stroke="#222" stroke-width="0.2">s</text>
<text x="604.2" y="274.06" font-size="6.5" fill="#222" stroke="#222" stroke-width="0.2">s</text>
<text x="521.2" y="282.8" font-size="9.9" font-weight="bold" text-anchor="middle">T568B</text>
<g id="c1">
<text x="138.7" y="535.1" font-size="15.2" font-weight="bold" text-anchor="middle" fill="#000">Insertion Loss</text>
<rect x="56.4" y="544.8" width="183.4" height="154.5" fill="#fff" stroke="#a0a0a0" stroke-width="1.3"/>
<line x1="50.8" y1="699.4" x2="56.9" y2="699.4" stroke="#1a1a1a" stroke-width="1.8"/>
<text x="48.4" y="702.6" font-size="10" text-anchor="end" fill="#4a4a4a">0</text>
<line x1="56.4" y1="611.5" x2="239.8" y2="611.5" stroke="#3a3a3a" stroke-width="1"/>
<line x1="50.8" y1="611.1" x2="56.9" y2="611.1" stroke="#1a1a1a" stroke-width="1.8"/>
<text x="48.4" y="614.3" font-size="10" text-anchor="end" fill="#4a4a4a">20</text>
<clipPath id="c1c"><rect x="56.4" y="544.8" width="184.0" height="155.1"/></clipPath>
<g clip-path="url(#c1c)" fill="none" stroke-linejoin="round">
<path d="M56.4 699.3l.5-3.6 .5-1.6 .5-1.2 .5-.9 .5-.9 .5-.9 .5-.7 .5-.7 .5-.7 .5-.6 .5-.6 .5-.5 .6-.8 .7-.6 .7-.7 .6-.7 .7-.6 .7-.6 .7-.6 .6-.6 .7-.6 .7-.5 .6-.6 .7-.5 .7-.5 .6-.5 .7-.5 .7-.4 .7-.6 .6-.4 .7-.5 .7-.4 .6-.5 .7-.4 .7-.4 .6-.4 .7-.5 .7-.4 .7-.4 .6-.4 .7-.4 .7-.4 .6-.4 .7-.4 .7-.4 .6-.4 .7-.4 .7-.3 .7-.4 .6-.3 .7-.4 .7-.4 .6-.3 .7-.4 .7-.3 .6-.4 .7-.3 .7-.4 .7-.3 .6-.4 .7-.3 .7-.4 .6-.3 .7-.4 .7-.2 .6-.4 .7-.3 .7-.3 .7-.4 .6-.2 .7-.4 .7-.3 .6-.3 .7-.3 .7-.3 .6-.4 .7-.3 .7-.3 .7-.2 .6-.3 .7-.4 .7-.2 .6-.4 .7-.3 .7-.2 .6-.3 .7-.3 .7-.3 .7-.3 .6-.3 .7-.2 .7-.3 .6-.2 .7-.3 .7-.3 .7-.3 .6-.3 .7-.3 .7-.3 .6-.2 .7-.2 .7-.3 .6-.3 .7-.4 .7-.2 .7-.3 .6-.2 .7-.3 .7-.3 .6-.2 .7-.3 .7-.3 .6-.3 .7-.3 .7-.2 .7-.2 .6-.2 .7-.2 .7-.3 .6-.3 .7-.3 .7-.2 .6-.3 .7-.3 .7-.2 .7-.3 .6-.2 .7-.2 .7-.3 .6-.3 .7-.2 .7-.2 .6-.3 .7-.3 .7-.2 .7-.3 .6-.2 .7-.2 .7-.2 .6-.3 .7-.2 .7-.3 .6-.3 .7-.2 .7-.2 .7-.2 .6-.2 .7-.2 .7-.2 .6-.3 .7-.3 .7-.2 .6-.3 .7-.1 .7-.3 .7-.2 .6-.2 .7-.3 .7-.3 .6-.2 .7-.3 .7-.2 .6-.3 .7-.2 .7-.1 .7-.3 .6-.3 .7-.1 .7-.2 .6-.2 .7-.3 .7-.2 .6-.2 .7-.3 .7-.2 .7-.2 .6-.2 .7-.2 .7-.3 .6-.1 .7-.3 .4-.2 .2 0 .3 0 .2-.2 .3-.1 .2-.1 .3 0 .2-.1 .2-.3 .3 0 .2 .2 .3-.3 .2 .1 .3-.2 .2-.1 .3 0 .2-.1 .3 0 .2-.2 .3-.1 .2-.1 .3-.1 .2 0 .2-.1 .3-.2 .2-.1 .3 .1 .2 0 .3-.2 .2 0 .3-.1 .2-.1 .3-.2 .2 0 .3 .1 .2-.2 .2 .1 .3-.2 .2-.1 .3-.2 .2-.1 .3-.1 .2-.2 .3 .1 .2 0 .3-.1 .2 0 .3-.1 .2-.1 .3-.1 .2 0 .2-.1 .3 .2 .2-.3 .3-.2 .2 .1 .3 0 .2-.4 .3-.1 .2 .1 .3 .1 .2-.1 .3-.2 .2 0 .2-.3 .3-.1 .2 .2 .3-.2 .2-.1 .3-.1 .2 0 .3 0 .2-.1 .3-.2 .2-.2 .3-.2 .2-.1 .3 0 .2 .1 .2 0 .3-.2 .2-.3 .3 .2 .2-.2 .3 0 .2-.1 .3-.3 .2 .1 .3-.1 .2 .2 .3-.2 .2 0 .2-.2 .3 .1 .2-.1 .3-.3 .2 0 .3-.3 .2 0 .3 .2 .2-.2 .3 0 .2-.3 .3 .1 .2-.1 .3-.3 .2 0 .2 .1 .3-.1 .2 .1 .3-.4 .2-.1 .3 .2 .2-.2 .3-.2 .2 .1 .3-.1 .2 0 .3 0 .2 0 .2-.2 .3-.2 .2 .1 .3-.1 .2-.3 .3 .2 .2 0 .3 0 .2-.2 .3-.3 .2-.2 .3-.1 .2-.2 .3 .1 .2 .2 .2-.2 .3 0 .2 0 .3-.2 .2 0 .3-.3 .2 .1 .3-.2 .2-.3 .3 0 .2-.3 .3 .4 .2-.3 .2-.3 .3 .1 .2 .2 .3-.2 .2-.2 .3 0 .2-.1 .3 .1 .2 .1 .3 .2 .2-.4 .3-.2 .2-.2 .3-.1 .2 0 .2-.1 .3 0 .2 .1 .3-.2 .2 .2 .3-.1 .2 0 .3-.1 .2 .1 .3-.4 .2 .2 .3 0 .2-.3 .2-.9 .3 .1 .2 .1 .3 .3 .2-.5 .3 .1 .2 .3 .3 0 .2-.4 .3-.2 .2 .3 .3 .6 .2-1.3 .3 .1 .2-.3 .2 .3 .3 .4 .2-.8 .3 .7 .2 .4 .3-.7 .2-1 .3-.9 .2 .5 .3 .4 .2 .4 .3-.6 .2 .8 .2 .1 .3-.5 .2 .6 .3-.4 .2-.3 .3-.8 .2 .5 .3-.8 .2 .1 .3 0 .2 .4 .3 0 .2 .5 .3 .4 .2-.7 .2-.1 .3 .2 .2-1.1 .3 .5 .2 .5 .3-1.8 .2 .7 .3 .2 .2 .1 .3-.7 .2-.3 .3-.8 .2 .6 .2-.5 .3-.5 .2 .9 .3 .1 .2-.6 .3-.2 .2 1.3 .3-.4 .2-.4 .3-1 .2 .3 .3 0 .2 .2 .3 1.2 .2 .2 .2-.8 .3-1.5 .2 .1 .3 1.1 .2-.7 .3-.5 .2 1 .3-2.2 .2 1.2 .3 0 .2 .6 .3 .6 .2-1" stroke="#ffff00" stroke-width="1.1"/>
<path d="M56.4 699.3l.5-3.7 .5-1.6 .5-1.1 .5-1.1 .5-.7 .5-.8 .5-.8 .5-.7 .5-.8 .5-.7 .5-.6 .5-.5 .6-.8 .7-.6 .7-.9 .6-.4 .7-.8 .7-.7 .7-.6 .6-.4 .7-.6 .7-.7 .6-.4 .7-.7 .7-.2 .6-.7 .7-.5 .7-.7 .7-.3 .6-.7 .7-.3 .7-.4 .6-.6 .7-.5 .7-.3 .6-.4 .7-.3 .7-.6 .7-.4 .6-.5 .7-.4 .7-.3 .6-.4 .7-.6 .7-.3 .6-.6 .7-.2 .7-.2 .7-.3 .6-.5 .7-.3 .7-.5 .6-.3 .7-.4 .7-.4 .6-.3 .7-.2 .7-.2 .7-.6 .6-.5 .7 0 .7-.7 .6-.2 .7-.5 .7-.4 .6-.5 .7-.1 .7-.6 .7-.3 .6-.4 .7-.1 .7-.3 .6-.3 .7-.3 .7-.1 .6-.3 .7-.1 .7-.6 .7-.5 .6-.5 .7-.5 .7-.1 .6-.3 .7-.1 .7-.4 .6-.1 .7-.3 .7-.4 .7-.2 .6-.6 .7-.1 .7-.2 .6-.5 .7-.1 .7-.6 .7-.2 .6-.1 .7-.2 .7-.3 .6-.1 .7-.6 .7-.2 .6-.3 .7-.3 .7-.3 .7-.4 .6-.4 .7-.4 .7-.3 .6-.1 .7-.1 .7-.3 .6-.1 .7-.5 .7-.3 .7-.2 .6-.2 .7-.2 .7-.2 .6-.6 .7-.5 .7 .2 .6-.4 .7-.3 .7-.3 .7-.2 .6-.1 .7-.5 .7-.1 .6-.6 .7-.3 .7 .1 .6-.4 .7-.3 .7-.1 .7-.1 .6-.2 .7-.6 .7-.2 .6-.4 .7 .2 .7-.4 .6 0 .7-.5 .7-.3 .7-.4 .6-.1 .7 0 .7-.1 .6-.5 .7-.1 .7-.4 .6 0 .7-.4 .7-.1 .7-.6 .6-.4 .7-.4 .7-.1 .6 .2 .7-.1 .7-.6 .6-.4 .7-.2 .7-.1 .7-.2 .6 .2 .7-.2 .7-.8 .6-.7 .7-.1 .7-.1 .6-.4 .7 .2 .7-.4 .7-.5 .6-.1 .7-.3 .7 0 .6 .3 .7-.9 .4 .2 .2-.4 .3-.5 .2 0 .3-.4 .2 .3 .3 .3 .2-.1 .2 .3 .3-.1 .2-.2 .3 .5 .2-1.1 .3 .1 .2-.4 .3 .2 .2-.3 .3-.1 .2 .5 .3-.3 .2 .3 .3-.3 .2 0 .2-.2 .3-.3 .2 0 .3 0 .2 .3 .3-.4 .2-.1 .3-.4 .2 .2 .3 .1 .2 .2 .3 .2 .2-.7 .2 .3 .3-.3 .2-.4 .3 0 .2-.7 .3 .1 .2 .8 .3-.5 .2 .2 .3-1.4 .2 .4 .3 .4 .2 .8 .3 .1 .2-1.3 .2-.2 .3-.2 .2 0 .3 .2 .2 .1 .3-.1 .2-.9 .3-.4 .2-.3 .3 .6 .2-.7 .3 .9 .2 .2 .2 0 .3-.3 .2 .5 .3-1.2 .2 .8 .3-.8 .2 .8 .3-1.1 .2 1 .3-.5 .2 .2 .3 .8 .2-.7 .3-.6 .2-.3 .2-.4 .3-.5 .2 .5 .3-.4 .2 .3 .3-.7 .2 .5 .3 .4 .2-.2 .3 .3 .2-.5 .3 0 .2-.3 .2 .4 .3-.8 .2 .4 .3-1.1 .2 .7 .3 .4 .2 .4 .3-.4 .2-.6 .3 1.2 .2-.8 .3 .6 .2-2 .3 .5 .2-.8 .2-.4 .3-.3 .2 1.4 .3-.9 .2 1 .3 .1 .2-1 .3 .1 .2 0 .3 0 .2-.5 .3 .5 .2-1.2 .2 .1 .3 .7 .2-.7 .3 .5 .2-1.3 .3 .8 .2-1 .3 1.1 .2-1.2 .3 .2 .2 0 .3 .2 .2 .8 .3-.3 .2-1.1 .2 .2 .3 .9 .2-1.9 .3 .9 .2 .3 .3-1.2 .2 1.3 .3-1.1 .2-.3 .3 1.6 .2-.7 .3 .6 .2-1.5 .2-.1 .3 .2 .2 .9 .3 .6 .2-1.5 .3 0 .2-.5 .3 0 .2 .9 .3 1.3 .2-.8 .3-.7 .2-1.6 .3 1 .2 .2 .2-.3 .3-4.3 .2-.1 .3 2.3 .2-.5 .3-1.4 .2 1.5 .3-1.2 .2 3.3 .3-2.6 .2 .8 .3-.6 .2 .9 .2 0 .3-.7 .2 .6 .3-.4 .2 4.5 .3-3.7 .2 2.3 .3-2.5 .2-1.1 .3 1.3 .2 2.5 .3-1.3 .2-.5 .3-.2 .2-2 .2-1.5 .3 1.4 .2 .6 .3-2.6 .2-.6 .3 4.1 .2-4.6 .3-2.4 .2 2.7 .3 2.3 .2-1.2 .3 3.3 .2-3.6 .2-.4 .3-4.4 .2 3.1 .3 2.7 .2-1.6 .3-1.5 .2-.6 .3 .3 .2 3.4 .3-1.4 .2-2 .3 .7 .2 1.8 .3 .1 .2 2 .2-.2 .3 2.2 .2-3.5 .3-6.4 .2 1.6 .3-2.1 .2-2.7 .3 1.9 .2 2 .3 .2 .2 1.3 .3 0 .2 4.8 .2 6.9 .3-2.8 .2-4.5 .3-3.5 .2-1.9 .3 1.2 .2 5.8 .3-6.2 .2 5.9 .3-4.7 .2 4 .3-3.5 .2 .7 .3 1.1 .2-1.6 .2-.5 .3-3 .2 4.7 .3 3.6 .2 2.8 .3-7 .2-1.2 .3-2.8 .2-5.5 .3 1.3 .2 1.6 .3 8.4 .2-6.1" stroke="#ff00ff" stroke-width="1.1"/>
<path d="M56.4 699.2l.5-3.6 .5-1.5 .5-1.3 .5-.9 .5-.9 .5-.9 .5-.8 .5-.7 .5-.7 .5-.5 .5-.6 .5-.6 .6-.7 .7-.7 .7-.8 .6-.6 .7-.6 .7-.5 .7-.5 .6-.9 .7-.6 .7-.6 .6-.5 .7-.6 .7-.6 .6-.5 .7-.5 .7-.3 .7-.4 .6-.4 .7-.7 .7-.3 .6-.4 .7-.6 .7-.4 .6-.6 .7-.3 .7-.5 .7-.5 .6-.4 .7-.4 .7-.4 .6-.3 .7-.3 .7-.4 .6-.4 .7-.5 .7-.4 .7-.3 .6-.5 .7-.2 .7-.4 .6-.4 .7-.4 .7-.3 .6-.3 .7-.4 .7-.4 .7-.4 .6-.2 .7-.4 .7-.3 .6-.4 .7-.5 .7-.3 .6-.2 .7-.5 .7-.2 .7-.3 .6-.4 .7-.4 .7-.1 .6-.4 .7 0 .7-.7 .6-.3 .7-.3 .7-.3 .7-.1 .6-.4 .7-.4 .7-.4 .6-.1 .7-.3 .7-.4 .6-.5 .7-.2 .7-.2 .7-.4 .6-.3 .7-.3 .7-.1 .6-.3 .7-.4 .7-.2 .7-.4 .6-.3 .7-.3 .7-.3 .6-.2 .7-.4 .7-.2 .6-.2 .7-.3 .7-.3 .7-.5 .6-.2 .7-.4 .7-.3 .6 0 .7-.4 .7-.2 .6-.4 .7 .2 .7-.3 .7-.3 .6-.3 .7-.7 .7-.3 .6-.2 .7 0 .7-.4 .6 .1 .7-.5 .7-.5 .7 0 .6-.3 .7-.4 .7-.2 .6-.2 .7-.5 .7-.1 .6-.3 .7 0 .7-.5 .7 0 .6-.3 .7-.4 .7 0 .6-.5 .7-.5 .7 .2 .6-.4 .7-.1 .7-.3 .7-.1 .6-.3 .7-.5 .7-.3 .6-.3 .7-.4 .7-.1 .6-.2 .7 0 .7 .1 .7-.7 .6-.3 .7-.1 .7-.4 .6 0 .7-.6 .7-.4 .6 .1 .7-.5 .7-.1 .7-.3 .6-.3 .7 .1 .7-.3 .6-.4 .7-.3 .7-.2 .6 0 .7-.1 .7-.3 .7-.2 .6-.5 .7 0 .7-.7 .6 .1 .7 .3 .4 0 .2-.4 .3-.1 .2-.2 .3 .1 .2 0 .3-.2 .2-.1 .2-.1 .3-.2 .2 .2 .3 .3 .2-.4 .3-.2 .2-.2 .3-.7 .2-.2 .3 .3 .2-.1 .3-.2 .2-.3 .3-.1 .2 .6 .2 0 .3-.4 .2 0 .3 0 .2-.9 .3 .7 .2-.2 .3 0 .2-.2 .3 .1 .2-.3 .3 .3 .2-.2 .2 0 .3-.1 .2-.4 .3 1 .2-.7 .3 .5 .2-.8 .3-1 .2-.1 .3 .4 .2 .2 .3-.2 .2 .5 .3-.4 .2-.2 .2 .1 .3-.9 .2 .2 .3 .7 .2-.8 .3 .2 .2-.5 .3 .4 .2-.3 .3-.3 .2-.1 .3 .8 .2-.4 .2-.1 .3-.1 .2-.9 .3 .5 .2 .8 .3-.5 .2-.5 .3-.1 .2 .6 .3-.5 .2-.8 .3 .4 .2-.5 .3 0 .2 .7 .2-.6 .3 .9 .2-1 .3-.3 .2 .6 .3-1.1 .2 1.2 .3-.2 .2 0 .3-.7 .2 .6 .3-1.4 .2 .4 .2 .4 .3-.6 .2 .2 .3 .4 .2-.4 .3 .2 .2-.3 .3-.5 .2-.8 .3 .8 .2-1.8 .3 1.4 .2-.8 .3 .2 .2 1 .2 .7 .3-.6 .2-.4 .3-.2 .2-.7 .3 .4 .2 .7 .3-.6 .2 .5 .3-.2 .2-.2 .3 .2 .2-.8 .2-1.4 .3-.4 .2 .4 .3 .4 .2-.3 .3 .9 .2-1 .3-.2 .2-.4 .3-.8 .2 .7 .3 .1 .2-.5 .3 .4 .2-.8 .2 .5 .3-.2 .2 .4 .3-.3 .2-.4 .3 1.3 .2-1.1 .3 2.1 .2-.4 .3-2.1 .2 0 .3 .3 .2 .1 .2 0 .3-.1 .2-1.2 .3 .2 .2-1.1 .3 1.4 .2 1.3 .3-.1 .2-1 .3 .3 .2 .5 .3-.3 .2-.3 .3-.3 .2-.7 .2-.6 .3 1.4 .2-.1 .3-.6 .2-.2 .3-.1 .2-.8 .3 .5 .2 .7 .3-.6 .2 .5 .3-1 .2 .6 .2-.5 .3 .4 .2-2.4 .3-1.2 .2 2.5 .3-.1 .2-.7 .3 .3 .2-1.1 .3 .3 .2-.8 .3 0 .2-.9 .3 .3 .2-.9 .2-.2 .3-1.6 .2 4.9 .3-.6 .2 1.8 .3-2 .2 4.2 .3-.4 .2-1.3 .3 .6 .2-3.6 .3-.1 .2-1 .2 .1 .3-2.2 .2 1.4 .3 2.6 .2 .6 .3-2.5 .2 1.9 .3-6 .2-.2 .3 2.7 .2 3.7 .3-2.8 .2 3.2 .3-2.8 .2 2.8 .2-3.6 .3-1.1 .2 1.4 .3 2.1 .2-2.1 .3 1.9 .2-1.7 .3-.1 .2-1.6 .3-2.3 .2 2.8 .3 2.3 .2-3.9 .2 1.1 .3 .2 .2-6.1 .3 3 .2 .4 .3 5.5 .2-2.6 .3-1.1 .2 1.1 .3-4.2 .2 1 .3-.9 .2 3.2 .3-6.1 .2-.8 .2 8.4 .3 .1 .2 .4 .3-6.4 .2-2.6 .3-.2 .2 4.5 .3-4.2 .2 5.7 .3 .2 .2-4.1 .3-1.9 .2 .1" stroke="#00ffff" stroke-width="1.1"/>
<path d="M56.4 699.1l.5-3.5 .5-1.6 .5-1.3 .5-1.2 .5-.9 .5-.9 .5-.9 .5-.6 .5-.4 .5-.5 .5-.7 .5-.4 .6-1 .7-.9 .7-.7 .6-.8 .7-.4 .7-.5 .7-.6 .6-.7 .7-.6 .7-.7 .6-.3 .7-.5 .7-.5 .6-.4 .7-.6 .7-.6 .7-.6 .6-.2 .7-.6 .7-.4 .6-.5 .7-.5 .7-.7 .6-.1 .7-.8 .7-.4 .7-.6 .6-.2 .7-.2 .7-.4 .6-.6 .7-.2 .7-.4 .6-.4 .7-.6 .7-.2 .7-.7 .6-.2 .7-.3 .7-.5 .6-.5 .7-.3 .7-.5 .6-.3 .7-.3 .7-.1 .7-.4 .6-.3 .7-.5 .7-.3 .6-.3 .7-.1 .7-.5 .6-.5 .7-.4 .7-.4 .7-.2 .6-.3 .7-.4 .7-.5 .6 0 .7-.5 .7-.3 .6-.4 .7-.4 .7-.4 .7-.3 .6-.2 .7-.3 .7-.5 .6-.2 .7-.5 .7 .2 .6-.6 .7-.1 .7-.3 .7-.5 .6-.2 .7-.6 .7-.2 .6-.3 .7-.1 .7-.4 .7-.2 .6-.2 .7-.5 .7-.3 .6-.2 .7 0 .7-.6 .6-.4 .7-.1 .7-.3 .7 .3 .6-.4 .7-.2 .7-.6 .6-.3 .7-.3 .7-.2 .6-.5 .7 .2 .7-.4 .7-.3 .6-.3 .7-.4 .7-.4 .6-.5 .7-.4 .7 .2 .6-.5 .7-.2 .7-.3 .7-.5 .6 .1 .7-.6 .7-.3 .6-.2 .7-.4 .7-.1 .6 0 .7-.5 .7-.2 .7-.4 .6 .2 .7-.4 .7-.4 .6 0 .7-.6 .7-.3 .6-.7 .7-.3 .7 0 .7-.1 .6-.2 .7-.2 .7-.3 .6-.4 .7 .6 .7-.3 .6-.6 .7 .2 .7-.3 .7-1 .6 .2 .7-.3 .7-.3 .6-.4 .7 .1 .7-.9 .6 0 .7-.1 .7 0 .7-.2 .6-.1 .7-.6 .7-.2 .6-.5 .7-.3 .7-.5 .6 .2 .7-.4 .7-.5 .7-.2 .6 .2 .7 0 .7-.8 .6-.1 .7-.1 .4 .4 .2 0 .3-.7 .2-.2 .3 .5 .2-.3 .3-.5 .2 .2 .2 0 .3-.3 .2-.4 .3 .7 .2-.5 .3-.2 .2-.3 .3 .3 .2-.5 .3 .3 .2-.6 .3 .3 .2 .3 .3 .3 .2-.6 .2-.1 .3-.3 .2 0 .3 .2 .2-.2 .3-.8 .2 0 .3-.7 .2 1 .3 .1 .2 .1 .3-.2 .2-.8 .2 .2 .3 .5 .2 .1 .3-.1 .2-.9 .3-.7 .2 .4 .3-.9 .2 1.2 .3-.8 .2 .5 .3 0 .2 .2 .3-1.2 .2 .2 .2-.1 .3 .1 .2 0 .3-.3 .2 0 .3-.1 .2 .2 .3-.5 .2-.4 .3 .2 .2 .3 .3-.2 .2-.1 .2-.2 .3 .1 .2 .3 .3-.6 .2-.3 .3 .3 .2-1 .3 0 .2 .1 .3 .4 .2 .1 .3-.7 .2 .4 .3-.4 .2 .3 .2-.9 .3 1.5 .2-.8 .3 .1 .2 .4 .3 .5 .2 .7 .3-1.2 .2-.9 .3-.2 .2 .5 .3-1.2 .2-.6 .2 1.1 .3-.3 .2 .4 .3 .7 .2-.7 .3-.2 .2-.6 .3 0 .2 .6 .3-2.5 .2 .9 .3 1.4 .2 .7 .3-.7 .2-1.4 .2-.8 .3-.1 .2 1.1 .3-.2 .2 1.3 .3-1.2 .2 .1 .3 1.7 .2-.8 .3-1.6 .2-.3 .3-1 .2-.3 .2 1.6 .3-.3 .2-.8 .3-.1 .2-.4 .3-.4 .2 2 .3 .7 .2 .7 .3 .7 .2-2.5 .3-1.3 .2 .6 .3 0 .2 .5 .2 1.3 .3-1.7 .2 .9 .3-1.4 .2 0 .3 .6 .2-.4 .3 .5 .2-2.9 .3-1.2 .2 .1 .3 .7 .2-1.4 .2 2.6 .3-1.6 .2 1 .3 1.8 .2 .3 .3-3 .2-.6 .3 .5 .2 .7 .3-.1 .2 1 .3 3.2 .2-6.5 .3 3.1 .2-2.7 .2 .2 .3-2.5 .2-.7 .3 5.1 .2 .8 .3-2 .2-2 .3 .6 .2 1.4 .3 2.4 .2-1.9 .3 1.5 .2-.9 .2-1.7 .3-.1 .2-.8 .3 2.9 .2-2.4 .3 1.4 .2 1.5 .3-5.1 .2 1.9 .3-1.4 .2-1.6 .3-1.7 .2 3.6 .3-2.9 .2 3.5 .2 2.2 .3-1.4 .2 .3 .3-2.9 .2-4.4 .3 5.6 .2-2.7 .3 .9 .2 .5 .3 .5 .2-.7 .3 4.3 .2 4.6 .2-3.4 .3-2.3 .2-2.4 .3-.6 .2 4.1 .3-5.7 .2 1.1 .3 .9 .2-.5 .3-2.1 .2 1.5 .3 3.4 .2 .2 .3-2.1 .2-3.3 .2 1.4 .3-.8 .2 1.8 .3-2.2 .2-5.4 .3-1.4 .2 6.6 .3 3.6 .2 5.1 .3-1.3 .2-7.4 .3 1.4 .2 1.4 .2 1 .3-4.6 .2-1.3 .3-6.2 .2 6 .3 2.9 .2 .5 .3 3 .2-3.2 .3-5.8 .2-.1 .3 .2 .2-.9 .3 5 .2-5.1 .2 1.7 .3 4.7 .2-13.3 .3 1.6 .2 11.1 .3-7.9 .2 2.6 .3 6.6 .2-6.6 .3 1.7 .2-2.3 .3 10 .2 0" stroke="#008080" stroke-width="1.1"/>
<path d="M56.4 699.3l.5-4.1 .5-1.7 .5-1 .5-1.1 .5-.9 .5-1.3 .5-.8 .5-.8 .5-.8 .5-.6 .5-.7 .5-.5 .6-1 .7-.8 .7-.8 .6-.7 .7-.6 .7-.7 .7-.5 .6-.7 .7-.7 .7-.5 .6-.6 .7-.6 .7-.8 .6-.5 .7-.6 .7-.4 .7-.5 .6-.6 .7-.6 .7-.6 .6-.4 .7-.4 .7-.5 .6-.5 .7-.4 .7-.6 .7-.4 .6-.5 .7-.4 .7-.7 .6-.3 .7-.6 .7-.4 .6-.4 .7-.5 .7-.5 .7-.3 .6-.4 .7-.5 .7-.3 .6-.3 .7-.3 .7-.6 .6-.6 .7-.3 .7-.5 .7-.3 .6-.6 .7-.3 .7-.3 .6-.3 .7-.5 .7-.3 .6-.6 .7-.4 .7-.5 .7-.3 .6-.2 .7-.4 .7-.3 .6-.5 .7-.1 .7-.5 .6-.1 .7-.4 .7-.4 .7-.3 .6-.5 .7-.2 .7-.5 .6-.3 .7-.1 .7-.5 .6-.3 .7-.4 .7-.2 .7-.5 .6-.3 .7-.7 .7 0 .6-.5 .7-.1 .7-.3 .7-.4 .6-.5 .7-.3 .7-.3 .6-.8 .7 0 .7-.4 .6 0 .7-.2 .7-.3 .7-.4 .6-.7 .7-.1 .7-.7 .6-.3 .7-.2 .7 .1 .6 .1 .7-.5 .7-.1 .7-.8 .6-.5 .7-.4 .7-.5 .6-.1 .7 .3 .7 .1 .6-.6 .7-.5 .7-.1 .7-.8 .6-.6 .7-.6 .7-.8 .6 .4 .7 .3 .7 .1 .6 .1 .7-.6 .7-.9 .7-.7 .6-.4 .7-.3 .7-.4 .6 .2 .7 .2 .7 .3 .6-.3 .7-.4 .7-.7 .7-.8 .6-.6 .7-.1 .7 0 .6 .5 .7-.1 .7-.3 .6-.4 .7-.7 .7-.7 .7-.8 .6-.4 .7-.4 .7 .3 .6 .3 .7 .4 .7-.1 .6-1.1 .7-.2 .7-.9 .7-.8 .6-.4 .7-.3 .7 .3 .6 .5 .7-.2 .7-.7 .6-.3 .7-.6 .7-.8 .7-.2 .6-.8 .7 .5 .7 .8 .6-.1 .7 .3 .4-.7 .2-.3 .3-.5 .2-.1 .3-.6 .2 .2 .3-1 .2-.2 .2-.1 .3-.5 .2-.5 .3 .9 .2 .2 .3-.2 .2 .5 .3 0 .2 .1 .3-.2 .2 .5 .3-.1 .2 .7 .3-1 .2-.1 .2-.1 .3-.2 .2 .1 .3 0 .2-.9 .3 .4 .2 .2 .3-.7 .2-.1 .3-.2 .2 .2 .3-.3 .2-.4 .2-.2 .3-.6 .2 0 .3-.1 .2 .2 .3 .5 .2-.7 .3 .8 .2 .5 .3-1 .2 .4 .3 0 .2-.2 .3-.5 .2 .5 .2 .1 .3-.1 .2-.7 .3 .2 .2-.6 .3-1 .2-.1 .3 .1 .2 .1 .3-.7 .2 .3 .3-.2 .2-.1 .2-.1 .3-.3 .2 .1 .3 .3 .2-.8 .3 .3 .2 .6 .3 .9 .2 .5 .3-.8 .2-.5 .3 .7 .2-.6 .3 .3 .2-.5 .2 0 .3-.2 .2-1.8 .3 .1 .2 .7 .3 .4 .2-.3 .3-1.3 .2 .2 .3-1.6 .2 1.3 .3-.2 .2 .1 .2-.2 .3 .1 .2 2.3 .3-1.1 .2 .4 .3-.8 .2 .3 .3 1.1 .2-.1 .3-1.7 .2-.3 .3-.1 .2-.9 .3 .3 .2-.9 .2 .6 .3 .2 .2-.9 .3-.3 .2-.8 .3 .3 .2 .1 .3-1.1 .2 .8 .3 .6 .2-.1 .3 1 .2-1.4 .2 1 .3-.5 .2 0 .3-.4 .2-.3 .3 .1 .2-.4 .3 1 .2 .4 .3 1.9 .2-1 .3-.1 .2-1.3 .3-.7 .2-.5 .2 .6 .3-2.3 .2-.5 .3 0 .2 1.4 .3 .4 .2 .3 .3-.5 .2 1.2 .3-.3 .2 .3 .3-.9 .2 .1 .2 0 .3 .8 .2-1.5 .3-1.2 .2-.6 .3 2.2 .2-1.2 .3-.3 .2 .3 .3-.5 .2-1 .3-.5 .2-1.2 .3-.7 .2 1.5 .2 2.3 .3 1.1 .2-.3 .3-2.1 .2-.2 .3 .3 .2 1.8 .3 .1 .2-1.5 .3 1.1 .2 1 .3-.1 .2-.9 .2-.3 .3-3.8 .2 1.4 .3 1.5 .2-3.5 .3 3.9 .2-2.9 .3 1 .2 0 .3 1.3 .2-2 .3-.1 .2-2.9 .3 .8 .2-.3 .2-3.2 .3 4.3 .2 .7 .3 .1 .2 .4 .3-.3 .2 2.4 .3-4.4 .2 .8 .3-.4 .2 3.7 .3-.8 .2-4.1 .2-.4 .3 .5 .2 1.3 .3 6.3 .2-2.4 .3 .3 .2-4.7 .3-1.1 .2-2.5 .3-.9 .2 1 .3 2 .2-1.7 .3 3.7 .2-3.2 .2 2 .3-2.6 .2-1.4 .3 2 .2 3.6 .3-.8 .2-2.2 .3-.6 .2-3.1 .3 4 .2-.5 .3 3.7 .2-1.6 .2 2.1 .3-6.8 .2 2.6 .3 1.4 .2-3.2 .3 0 .2-1.6 .3-.8 .2-1 .3 2.5 .2 0 .3 5.8 .2 1.6 .3-.7 .2 1.5 .2 1.8 .3-9.1 .2 1 .3 1.7 .2-.3 .3-.8 .2 5.9 .3-6.4 .2 2.5 .3-.2 .2 .3 .3 3.7 .2-9.6" stroke="#800080" stroke-width="1.1"/>
<path d="M56.4 699.3l.5-4 .5-1.6 .5-1.4 .5-1 .5-1 .5-1.2 .5-.8 .5-.9 .5-.7 .5-.5 .5-.7 .5-.4 .6-1.2 .7-.7 .7-.8 .6-.7 .7-.7 .7-.7 .7-.6 .6-.8 .7-.7 .7-.7 .6-.7 .7-.3 .7-.8 .6-.3 .7-.7 .7-.8 .7-.2 .6-.8 .7-.5 .7-.4 .6-.7 .7-.3 .7-.7 .6-.3 .7-.6 .7-.4 .7-.5 .6-.5 .7-.5 .7-.3 .6-.6 .7-.5 .7-.5 .6-.2 .7-.5 .7-.5 .7-.1 .6-.6 .7-.7 .7-.2 .6-.5 .7-.7 .7-.4 .6-.5 .7-.1 .7-.6 .7-.5 .6-.4 .7-.3 .7-.4 .6-.5 .7-.3 .7-.5 .6-.4 .7-.2 .7-.3 .7-.5 .6-.6 .7-.3 .7-.3 .6-.5 .7-.3 .7-.3 .6 0 .7-.8 .7-.7 .7-.4 .6-.1 .7-.1 .7-.3 .6-.5 .7-.3 .7-.4 .6-.1 .7-.2 .7-.5 .7-.5 .6-.5 .7-.3 .7-.5 .6-.1 .7-.2 .7-.1 .7-.6 .6-.5 .7-.1 .7-.8 .6 0 .7-.2 .7-.3 .6-.3 .7 .2 .7-.7 .7-.1 .6-.6 .7-.8 .7-.2 .6-.9 .7 .3 .7 0 .6-.5 .7 .4 .7-.4 .7-1 .6-.5 .7-.5 .7-.4 .6-.2 .7 0 .7-.2 .6 .3 .7-.8 .7 .1 .7-1 .6-1 .7-.1 .7-.6 .6 .2 .7 .1 .7 .2 .6-.3 .7-.9 .7-.5 .7-.8 .6-.9 .7 .3 .7 .1 .6 .1 .7 .1 .7 .3 .6-.3 .7-.6 .7-1 .7-1.2 .6 .1 .7-.3 .7 .1 .6-.1 .7 .3 .7-.4 .6-.3 .7-.7 .7-.4 .7-.8 .6-.5 .7 .1 .7 .1 .6 .1 .7-.2 .7-.2 .6-1 .7-.7 .7-.2 .7-.2 .6-.8 .7 .4 .7-.1 .6 .3 .7-.1 .7-.6 .6-.5 .7-.7 .7-.9 .7-.7 .6 .4 .7 0 .7 .4 .6 .2 .7-.3 .4 0 .2 .1 .3-.3 .2-.9 .3-.7 .2-.8 .3 .6 .2-.3 .2 .6 .3-1 .2-.1 .3-.6 .2 .1 .3 .9 .2-.8 .3 .7 .2 1.4 .3-.1 .2-.7 .3 .1 .2-.3 .3 .1 .2 .1 .2 .1 .3-.5 .2 .2 .3-.1 .2-1 .3 .4 .2-1.1 .3-.6 .2 .8 .3-.2 .2-.9 .3-.5 .2 .2 .2-.6 .3 .7 .2-.4 .3 .8 .2-.4 .3-.2 .2-.8 .3 .7 .2 .6 .3 0 .2-.3 .3 .3 .2-1.4 .3 .3 .2 .5 .2 .2 .3-.5 .2-.8 .3-.9 .2 .3 .3 .1 .2-.3 .3-.8 .2 .3 .3-2 .2 .2 .3 0 .2 .8 .2 1.2 .3 1 .2-.3 .3 .2 .2-1.6 .3 .5 .2 1 .3-.5 .2 1.3 .3-.5 .2-1.2 .3-1.9 .2 .6 .3 .8 .2 .8 .2 .3 .3-1.8 .2-.4 .3-.6 .2-.2 .3 .5 .2 .2 .3-1 .2-.8 .3 .5 .2-.3 .3-.5 .2 2 .2 .2 .3 2.2 .2-.4 .3-1 .2-1 .3 .5 .2-1.4 .3 .3 .2 .1 .3-.8 .2 .5 .3 .2 .2-1 .3-.8 .2-.3 .2-.6 .3 .7 .2-.4 .3 .3 .2-1.6 .3 .3 .2-.5 .3 .4 .2-.1 .3 1 .2 .4 .3-1.5 .2-.4 .2 1.6 .3-.1 .2-.4 .3-1.6 .2 1.1 .3 2 .2 .2 .3-3.1 .2 .1 .3 1 .2 0 .3-2 .2-1 .3 0 .2 0 .2-1 .3-.5 .2 1.9 .3 1 .2 2.6 .3-.4 .2 0 .3-2.7 .2 1 .3-.2 .2 1 .3 .2 .2 .1 .2-2 .3 1.5 .2-.3 .3-1 .2 1.5 .3-4.9 .2 3.2 .3 1.9 .2-3.7 .3 1.4 .2-.3 .3-1.5 .2 .3 .3-2.8 .2 2.8 .2 1.1 .3-1.4 .2-.5 .3 .2 .2 .4 .3 1.4 .2 1.5 .3-3.4 .2-1.9 .3 3.7 .2 2 .3 .5 .2-2.9 .2-1.1 .3-1.6 .2-.8 .3 3.8 .2 .3 .3 2 .2-.8 .3-2.5 .2 .2 .3-1.4 .2-2.2 .3 .9 .2-.8 .3 3.3 .2 .2 .2-2.9 .3-.3 .2 .7 .3 .8 .2 1.7 .3-.2 .2-2.7 .3-1.1 .2 1.3 .3-.1 .2 3.3 .3 1 .2-.2 .2-3.9 .3 1.1 .2 1 .3 .7 .2-4.5 .3-3.4 .2-3 .3-.4 .2-3.5 .3-2.7 .2 5.9 .3 5.5 .2-3.8 .3 1.8 .2 3.4 .2 1.5 .3-.5 .2 .9 .3 3.2 .2 0 .3-1.8 .2-.8 .3 2.3 .2-.5 .3-4.3 .2-4.9 .3 2.1 .2 1.5 .2-1.6 .3 .9 .2-6.4 .3-5 .2 8.3 .3-.6 .2 2.1 .3-6.5 .2 3.8 .3 6 .2-3.6 .3-2.2 .2-2.6 .3-9.6 .2 11.2 .2-.2 .3 10.6 .2-2.3 .3 2.5 .2-3.8 .3 1.1 .2 8.6 .3-12.1 .2 2.3 .3-12.8 .2 5.6 .3 6.9 .2-1.3" stroke="#000080" stroke-width="1.1"/>
<path d="M56.4 699.1l.5-4 .5-1.7 .5-1.1 .5-1.3 .5-.9 .5-.9 .5-.8 .5-1 .5-.9 .5-.5 .5-.8 .5-.7 .6-.6 .7-.7 .7-.9 .6-.7 .7-.7 .7-1 .7-.4 .6-.9 .7-.6 .7-.3 .6-.5 .7-.7 .7-.5 .6-.7 .7-.4 .7-.5 .7-.5 .6-.5 .7-.5 .7-.4 .6-.6 .7-.6 .7-.3 .6-.4 .7-.6 .7-.6 .7-.4 .6-.3 .7-1 .7-.5 .6-.5 .7-.5 .7-.6 .6-.6 .7-.2 .7-.4 .7-.5 .6-.2 .7-.2 .7-.4 .6-1 .7-.1 .7-.8 .6-.2 .7-.4 .7-.5 .7 0 .6-.5 .7-.4 .7-.3 .6-.7 .7-.2 .7-.4 .6-.3 .7-.4 .7-.2 .7-.5 .6-.5 .7-.6 .7-.5 .6-.2 .7-.4 .7-.5 .6 .3 .7-.7 .7-.2 .7-.4 .6-.6 .7-.3 .7-.4 .6 .1 .7-.4 .7-.3 .6-.7 .7-.1 .7-.4 .7-.5 .6-.3 .7-.8 .7-.1 .6-.2 .7-.2 .7 0 .7-.6 .6-.7 .7-.5 .7-.2 .6-.3 .7 0 .7-.2 .6 .3 .7-.8 .7-.1 .7-.6 .6-.6 .7-.6 .7-.5 .6-.3 .7 .1 .7-.5 .6 .5 .7-.1 .7 .2 .7-1 .6-.7 .7-1.3 .7 0 .6-.3 .7-.4 .7-.3 .6 .7 .7-.8 .7-.4 .7-.7 .6 0 .7-.4 .7-.5 .6-.3 .7 .2 .7 .7 .6-.5 .7-.8 .7-.6 .7-1 .6-.3 .7-.4 .7-.4 .6-.4 .7-.1 .7 .7 .6 .4 .7-.6 .7 0 .7-1.3 .6-1.2 .7 .2 .7-.4 .6 .2 .7 .2 .7 .4 .6-.7 .7-.8 .7-.3 .7-1.2 .6 0 .7 0 .7 .5 .6 0 .7-.2 .7-.7 .6-.5 .7-.3 .7-.4 .7-1.1 .6 .2 .7 .1 .7-.6 .6 .8 .7-.4 .7 0 .6-.9 .7-1.2 .7-.3 .7-.7 .6-.2 .7 0 .7 .9 .6-.1 .7 .4 .4-.5 .2-1.4 .3-.3 .2 .2 .3 .8 .2-.4 .3-.3 .2-.1 .2-.7 .3-.2 .2-.5 .3-.3 .2 0 .3 .1 .2 .7 .3 1.1 .2-1.1 .3 1 .2-.4 .3 .2 .2 .6 .3-.6 .2-.9 .2-.3 .3 1.3 .2-.5 .3-.2 .2 .7 .3-1.4 .2-.6 .3 .2 .2-1 .3-.8 .2-.6 .3 .3 .2 .3 .2-.9 .3 .5 .2 .2 .3-1 .2 .6 .3-.8 .2 1.3 .3 .4 .2 1.4 .3-.9 .2 0 .3 .9 .2-.6 .3-.3 .2-.3 .2-.4 .3 1.2 .2-.9 .3-1.1 .2-1.5 .3 .6 .2-.8 .3-.8 .2 .9 .3-.8 .2 .4 .3-.2 .2-.2 .2 .6 .3-.3 .2 .7 .3-1.2 .2 1.1 .3-1.5 .2 1.2 .3-.8 .2-.2 .3 1.4 .2-.9 .3 1.4 .2-.1 .3-1.2 .2 .1 .2-1.7 .3 .7 .2-.1 .3-.2 .2-1.4 .3 .4 .2 .1 .3-1.2 .2-.3 .3 1.3 .2 .4 .3 .9 .2-.2 .2-2.2 .3-1.4 .2 .4 .3 .3 .2 1.9 .3 .9 .2-.2 .3 .3 .2-1.9 .3 1.1 .2-1 .3 0 .2 0 .3 .6 .2-.6 .2-1.2 .3 1.1 .2-.6 .3-.2 .2 .2 .3 .7 .2-.9 .3-2.9 .2 .6 .3-2 .2 3.5 .3-.3 .2 1.1 .2-1 .3 .3 .2 .1 .3-1.4 .2-3.8 .3 6.6 .2-1.3 .3 1 .2 .5 .3 .2 .2-.8 .3 .7 .2 0 .3-.9 .2-.8 .2 .3 .3-1.5 .2-1.6 .3 .2 .2-1.2 .3-1.6 .2-1.1 .3 1.4 .2-1.6 .3-1.8 .2 3.7 .3 .8 .2-.1 .2-.1 .3 .5 .2 .1 .3 2.3 .2 .9 .3-.5 .2-3.8 .3 .3 .2-2.6 .3 .8 .2 2.7 .3 .2 .2 .1 .3-4.3 .2 .3 .2 1.9 .3-.2 .2-4.5 .3 3.6 .2 .1 .3 2 .2 3.6 .3-.4 .2 1.1 .3 .3 .2 3 .3-.8 .2-1.2 .2-5.5 .3 .9 .2-3.3 .3 1.9 .2-1.1 .3-.3 .2-1.6 .3 5 .2-5.3 .3 1.8 .2 3.8 .3-1.2 .2 .2 .3-3.6 .2-2.1 .2 .8 .3 3.4 .2 1.7 .3-2.7 .2-3.1 .3 1.3 .2-3.9 .3 1.9 .2-7.1 .3 .3 .2 3.9 .3 .5 .2 .4 .2-2.8 .3 8.1 .2-4.6 .3 2.2 .2-1.8 .3 .6 .2-2.4 .3 12.2 .2-9.3 .3 4.1 .2 5.8 .3-7.7 .2 3.3 .3 3.3 .2-4 .2-3.6 .3-3.7 .2 5.4 .3 .4 .2-5.7 .3 9.6 .2-1.1 .3 0 .2-8 .3 8.3 .2-7.9 .3 6.2 .2-2.8 .2-4.7 .3-3.2 .2 13.4 .3 3.1 .2-5.9 .3-.4 .2 8.4 .3-21.1 .2 2.4 .3-9.5 .2 1.5 .3 3.9 .2 5.4 .3-7 .2 2.6 .2 11 .3-11.7 .2 6.6 .3-2 .2-2.7 .3-5 .2 .6 .3-.5 .2 6.7 .3-1.3 .2 6.5 .3-2 .2 5.4" stroke="#800000" stroke-width="1.1"/>
<path d="M56.4 699.3l.5-4.2 .5-1.9 .5-1.5 .5-.9 .5-1.3 .5-.3 .5-1.1 .5-.6 .5-.7 .5-.5 .5-.9 .5-.3 .6-1 .7-1.2 .7-.9 .6-.8 .7-.6 .7-.5 .7-.9 .6-.3 .7-.8 .7-.6 .6-.5 .7-.6 .7-1 .6-.6 .7-.1 .7-.6 .7-.8 .6-.5 .7-.4 .7-.6 .6-.3 .7-.7 .7-.4 .6-.5 .7-.4 .7-.6 .7-.9 .6-.3 .7 .1 .7-.5 .6-.4 .7-.8 .7-.8 .6-.8 .7-.3 .7 0 .7-.7 .6-.5 .7-.5 .7-.4 .6-.1 .7 .1 .7-.7 .6-.8 .7-.4 .7-.5 .7-.5 .6-.1 .7-.6 .7-.4 .6 .6 .7-1 .7-.7 .6 .1 .7-.4 .7-.6 .7-.4 .6-.8 .7 .2 .7-.7 .6-.7 .7-.3 .7-.1 .6-.1 .7 .1 .7-.6 .7-.9 .6-.4 .7-.6 .7-.4 .6 .1 .7-.3 .7-.5 .6-.6 .7-.3 .7-.2 .7 0 .6-.9 .7-.2 .7-.2 .6-.3 .7-.1 .7 .1 .7-1.1 .6-.3 .7-.4 .7-.8 .6 .2 .7-.7 .7-.1 .6 .2 .7-.2 .7-.3 .7-.8 .6-.3 .7-.8 .7-1.1 .6-.1 .7 .4 .7 .1 .6-.3 .7-.9 .7 0 .7-.6 .6-.2 .7-.5 .7-.6 .6-.4 .7-.4 .7 .8 .6-.2 .7-.2 .7-1.1 .7-.7 .6-.1 .7-.9 .7-.3 .6-.4 .7 .5 .7 .8 .6 .2 .7-1.3 .7-.4 .7-.6 .6-.6 .7-.4 .7-.3 .6 .1 .7 0 .7 0 .6 .3 .7-.6 .7-1.1 .7-.4 .6-1.5 .7-.3 .7 .4 .6 .3 .7 .8 .7-.5 .6-.7 .7-1 .7-.5 .7-.8 .6-.1 .7-.2 .7 .7 .6 .1 .7 .5 .7 .1 .6-1.3 .7-.5 .7-1.8 .7 .4 .6-1.6 .7 1.5 .7-.9 .6 1.6 .7-.4 .7-.3 .6-.9 .7 .5 .7-1.3 .7-.1 .6-.5 .7 .5 .7 .9 .6-.8 .7-.4 .4-.4 .2-.1 .3-1.6 .2-.1 .3 .2 .2-1 .3-.2 .2-1.4 .2 .1 .3 .6 .2 .1 .3 .4 .2 1.3 .3-1 .2 .8 .3-.7 .2 0 .3-.5 .2-.2 .3-.4 .2 1 .3-.2 .2-.9 .2 .1 .3 1.2 .2-.5 .3 .5 .2-1.4 .3-1.8 .2 .8 .3-.5 .2-.5 .3 .5 .2 .7 .3-.8 .2-.9 .2-.2 .3-.9 .2 1.3 .3 .7 .2-1 .3-.4 .2 .1 .3 .7 .2 1.1 .3-.5 .2 .7 .3-.2 .2 .6 .3-2.4 .2 .5 .2 .8 .3 .8 .2-.4 .3-.6 .2-3 .3 .3 .2 1.1 .3-1.1 .2-.2 .3 0 .2-.2 .3-1.1 .2 1.8 .2-1.7 .3-.8 .2-.4 .3 3 .2-1.4 .3-.2 .2 3.7 .3 .1 .2-.5 .3-1.2 .2-.9 .3 1.9 .2-1.6 .3 .1 .2-.7 .2-3.3 .3 .8 .2 1 .3-.1 .2 1.7 .3-1.4 .2-1.4 .3 2.2 .2-1 .3-.1 .2-1.2 .3 1.4 .2-3 .2 1.7 .3 .5 .2-2 .3 2.7 .2-.1 .3-1 .2-.5 .3-.7 .2 .4 .3 1 .2 2.2 .3-1.9 .2 1.9 .3-4 .2 2.3 .2-2.1 .3-.2 .2-.2 .3-.8 .2-.9 .3 0 .2 1 .3 3.3 .2-1.3 .3-.4 .2-.9 .3 .3 .2 1 .2-.3 .3-1.4 .2 2.2 .3-3.7 .2 .2 .3-.8 .2 .7 .3 .9 .2 .3 .3 .3 .2 1.6 .3-3.1 .2-.1 .3-.9 .2 0 .2-.7 .3 .8 .2-1.8 .3-1.3 .2-2 .3-1.3 .2 3.1 .3-3.6 .2 3.2 .3-.5 .2 1.6 .3 1.6 .2-.4 .2-1.1 .3-2.7 .2 2.6 .3 4.8 .2-3.3 .3 1 .2-1.1 .3 .2 .2-.8 .3-5.4 .2 2.8 .3 3 .2 5.5 .3-3.4 .2-8.1 .2-1.1 .3 4.3 .2-2.3 .3-.7 .2 3.2 .3 2.6 .2 1.6 .3-.6 .2-4.1 .3-2.9 .2 .1 .3-.8 .2 5.8 .2-5.2 .3 7 .2-1.8 .3 1.8 .2-.3 .3 .6 .2-.7 .3-2.3 .2 6.9 .3-4.9 .2-4.7 .3 4.3 .2-2.3 .3 6.9 .2-11.4 .2 3.7 .3-3.9 .2 .9 .3 4.6 .2-8.2 .3 1.3 .2 4.1 .3-10.8 .2 12.7 .3 4.5 .2-11.5 .3-1.1 .2 .5 .2-1 .3 4.7 .2 2 .3-3.4 .2 2.2 .3 .2 .2-8 .3 6.9 .2 5.8 .3-7.4 .2 11.2 .3-8.9 .2-9.3 .3 5.9 .2-7 .2 12.5 .3-2.8 .2-.7 .3-8.9 .2 .6 .3 3 .2 3.6 .3-3.5 .2-4.1 .3-2 .2-3.7 .3 12.9 .2 1.1 .2-6.4 .3-2.8 .2 7.7 .3-5.4 .2-6.7 .3-4.3 .2-1.7 .3 15.8 .2 17 .3-5.7 .2 5.3 .3-4.8 .2-6.7 .3-1.2 .2-7.9 .2 10.7 .3-14.6 .2 3.1 .3-8.6 .2 12.1 .3-3 .2 2.1 .3-13.1 .2 7.1 .3 7.4 .2 3.8 .3-5.1 .2-12.9" stroke="#0000ff" stroke-width="1.1"/>
<path d="M56.4 686.1l1.4 0 1.4 0 1.3-.7 .5-.7 2.2-3.5 2.3-2.9 2.3-2.7 2.2-2.4 2.3-2.3 2.3-2.1 2.2-2 2.3-1.9 2.3-1.9 2.2-1.8 2.3-1.7 2.2-1.7 2.3-1.6 2.3-1.6 2.2-1.5 2.3-1.5 2.3-1.5 2.2-1.4 2.3-1.5 2.3-1.3 2.2-1.4 2.3-1.4 2.2-1.3 2.3-1.3 2.3-1.3 2.2-1.3 2.3-1.2 2.3-1.3 2.2-1.2 2.3-1.2 2.3-1.2 2.2-1.2 2.3-1.1 2.2-1.2 2.3-1.2 2.3-1.1 2.2-1.1 2.3-1.1 2.3-1.1 2.2-1.1 2.3-1.1 2.3-1.1 2.2-1.1 2.3-1.1 2.2-1 2.3-1.1 2.3-1 2.2-1 2.3-1.1 2.3-1 2.2-1 2.3-1 2.2-1 2.3-1 2.3-1 2.2-1 2.3-1 2.3-.9 2.2-1 2.3-1 2.3-.9 2.2-1 2.3-.9 2.2-1 2.3-.9 2.3-.9 2.2-1 2.3-.9 2.3-.9 2.2-.9 2.3-.9 2.3-.9 2.2-1 2.3-.9 2.2-.9 2.3-.8 2.3-.9 2.2-.9 2.3-.9" stroke="#ff0000" stroke-width="1.05"/>
<path d="M56.4 699.3l.5-3.7 .5-1.8 .5-1.6 .5-1.1 .5-1.2 .5-.5 .5-1.3 .5-1 .5-.5 .5-1 .5-.3 .5-.7 .6-.6 .7-1 .7-.6 .6-1.1 .7-.5 .7-.9 .7-.8 .6-.2 .7-.4 .7-1.1 .6-.3 .7-.8 .7-.5 .6-.6 .7-.5 .7-.7 .7-.3 .6-.7 .7-.3 .7-.8 .6-.2 .7-.7 .7-.5 .6-.5 .7-.2 .7-.6 .7-.4 .6-.4 .7-.5 .7-.6 .6-.5 .7-.6 .7-.5 .6-.3 .7-.5 .7-.2 .7-.8 .6 0 .7-.9 .7-.4 .6-.7 .7-.6 .7-.5 .6 .2 .7-.2 .7-.4 .7-.8 .6-.6 .7 .2 .7-.4 .6-.5 .7-.4 .7-.3 .6-.2 .7-.5 .7-.7 .7-.5 .6-.2 .7-.2 .7-.7 .6-.6 .7 0 .7-.4 .6-.3 .7-.1 .7-.4 .7-.7 .6-.4 .7-.5 .7 .1 .6-.5 .7-.5 .7-.2 .6-.3 .7-.5 .7-.5 .7-.3 .6-.3 .7-.3 .7-.1 .6-.6 .7-.1 .7-.3 .7-.1 .6-.3 .7-.8 .7-.6 .6 .1 .7-.4 .7-.1 .6-.5 .7-.4 .7 .1 .7-.8 .6-.5 .7-.1 .7-.6 .6-.1 .7-.2 .7-.3 .6-.2 .7-.5 .7-.1 .7-.6 .6-.3 .7-.9 .7 .2 .6-.6 .7-.2 .7 .4 .6 0 .7-.4 .7-.5 .7-.4 .6-.5 .7-1.2 .7 .3 .6-.5 .7-.1 .7 .4 .6 0 .7 .1 .7-1 .7-.7 .6-1 .7-.1 .7-.4 .6 .3 .7-.3 .7-.5 .6 .7 .7-.2 .7-.9 .7-.2 .6-.7 .7-1.2 .7-.1 .6 .2 .7 .9 .7 .3 .6-.2 .7-1.3 .7-1.1 .7-1 .6-.5 .7 .2 .7 .8 .6 .3 .7 .8 .7-1.2 .6-.9 .7-.7 .7-1.3 .7 .2 .6-1 .7 .5 .7-.7 .6 .9 .7 .8 .7-1.4 .6-1 .7-.4 .7 0 .7-.3 .6-.2 .7 .4 .7-.6 .6 .6 .7-.6 .4 .4 .2-.3 .3-.3 .2-1.1 .3 0 .2-.3 .3-.1 .2-1 .2-.6 .3 .1 .2 .1 .3 1.3 .2-.5 .3-.2 .2 .6 .3-.5 .2-.2 .3 0 .2 .4 .3 1.1 .2 .2 .3 .8 .2-1.1 .2 .2 .3-.1 .2 .4 .3-1.4 .2-.7 .3-1.2 .2-.7 .3 1.6 .2 .1 .3-.2 .2-.7 .3-.4 .2-2 .2 .6 .3 1.8 .2-.4 .3-.3 .2 1.1 .3 .1 .2-.9 .3-.9 .2-.7 .3 0 .2 .5 .3 .4 .2 1.1 .3 1.3 .2-1.7 .2 .7 .3-1.8 .2-1.4 .3 1.4 .2-1.2 .3-.1 .2 .8 .3 0 .2-.5 .3 1 .2-.9 .3 0 .2-1 .2 .4 .3 .7 .2-.9 .3 .2 .2 1.8 .3-2.3 .2 .7 .3-.3 .2 1.2 .3-3.1 .2 3.4 .3-1.7 .2-.8 .3-.9 .2 .3 .2-.2 .3-.4 .2-.8 .3 1.7 .2 1.3 .3-3.1 .2-2.1 .3 3.1 .2-1.8 .3-.4 .2 0 .3-.4 .2 1.4 .2-.7 .3 .6 .2 1.5 .3-.6 .2-1.1 .3 0 .2 1.2 .3 .5 .2 1.4 .3-1.2 .2-.1 .3-2.6 .2 0 .3-.1 .2 1 .2-.2 .3-2.4 .2-1.1 .3-.2 .2 .4 .3 1.4 .2-.4 .3 2.6 .2-.7 .3-1.3 .2 .8 .3 0 .2 2.8 .2-2.3 .3-.7 .2-1.2 .3 .6 .2-.3 .3 1.4 .2 0 .3 2.4 .2 .2 .3-1.8 .2-.4 .3-2.3 .2 .8 .3-2.4 .2 2.4 .2 0 .3 .6 .2 .1 .3 .1 .2-.3 .3-2.7 .2-.6 .3-.5 .2-.3 .3-.9 .2 3 .3 .7 .2-2.8 .2 .2 .3 2.3 .2-2.8 .3 4.7 .2-1.6 .3-.6 .2-2.3 .3 2.9 .2-3.3 .3-.4 .2 .5 .3-1.4 .2 2.8 .3 1.1 .2-.4 .2-4.1 .3-2.6 .2-.3 .3-.2 .2 .4 .3 1.3 .2-3 .3 4.9 .2 4 .3-4.7 .2-.5 .3 3.1 .2-1.5 .2-3.5 .3 .3 .2 8 .3-3.5 .2 2.6 .3-.7 .2-6.4 .3-2.4 .2 .3 .3 .7 .2 1.5 .3-2.6 .2 .7 .3-3.7 .2 9.6 .2-1.3 .3-5.8 .2 1.6 .3-1.4 .2-.1 .3 4.2 .2-1.4 .3 2 .2 3.2 .3-9.7 .2-5.5 .3-1.4 .2 3.3 .2 7.1 .3 2.1 .2 6.2 .3-3.3 .2-4.3 .3 3.2 .2-3.6 .3 .6 .2-2.1 .3-3 .2 .6 .3-1.8 .2 .1 .3-.2 .2 3 .2-2 .3 1.8 .2 3.9 .3 .2 .2-7.2 .3 1 .2-3.6 .3 7 .2-4.7 .3 8.7 .2 3.9 .3-5.6 .2-5.7 .2 1.2 .3-1.8 .2 11.4 .3-12 .2-1.3 .3 8.8 .2 2.8 .3-2.1 .2 .8 .3-2 .2-5 .3-6.6 .2-1.8 .3 2.5 .2 2.2 .2 3.3 .3-9.5 .2 12.3 .3-2.4 .2 1.5 .3 16 .2-7.2 .3 .5 .2 4 .3-2.3 .2-6.6 .3-6.9 .2 2.1" stroke="#0000ff" stroke-width="1.1"/>
</g>
<text x="56.2" y="713.9" font-size="10" text-anchor="middle" fill="#4a4a4a">0</text>
<text x="239.2" y="713.9" font-size="10" text-anchor="middle" fill="#4a4a4a">2000</text>
<text x="132.4" y="722.5" font-size="10.1" text-anchor="middle" fill="#4a4a4a">Frequency (MHz)</text>
<text transform="translate(29.1 622.3) rotate(-90)" font-size="10.1" text-anchor="middle" fill="#4a4a4a">Magnitude (dB)</text>
</g>
<g id="c2">
<text x="374.6" y="535.1" font-size="15.2" font-weight="bold" text-anchor="middle" fill="#000">Return Loss</text>
<rect x="291.7" y="544.8" width="184.1" height="154.5" fill="#fff" stroke="#a0a0a0" stroke-width="1.3"/>
<line x1="286.1" y1="699.4" x2="292.2" y2="699.4" stroke="#1a1a1a" stroke-width="1.8"/>
<text x="284.1" y="702.6" font-size="10" text-anchor="end" fill="#4a4a4a">0</text>
<line x1="291.7" y1="655.5" x2="475.8" y2="655.5" stroke="#3a3a3a" stroke-width="1"/>
<line x1="286.1" y1="655.3" x2="292.2" y2="655.3" stroke="#1a1a1a" stroke-width="1.8"/>
<text x="284.1" y="658.5" font-size="10" text-anchor="end" fill="#4a4a4a">20</text>
<line x1="291.7" y1="611.5" x2="475.8" y2="611.5" stroke="#3a3a3a" stroke-width="1"/>
<line x1="286.1" y1="611.1" x2="292.2" y2="611.1" stroke="#1a1a1a" stroke-width="1.8"/>
<text x="284.1" y="614.3" font-size="10" text-anchor="end" fill="#4a4a4a">40</text>
<line x1="291.7" y1="567.5" x2="475.8" y2="567.5" stroke="#3a3a3a" stroke-width="1"/>
<line x1="286.1" y1="567.0" x2="292.2" y2="567.0" stroke="#1a1a1a" stroke-width="1.8"/>
<text x="284.1" y="570.2" font-size="10" text-anchor="end" fill="#4a4a4a">60</text>
<clipPath id="c2c"><rect x="291.7" y="544.8" width="184.7" height="155.1"/></clipPath>
<g clip-path="url(#c2c)" fill="none" stroke-linejoin="round">
<path d="M291.7 653.6l1.1 1.1 1.2 4 .5 .9 6.2 0 .7 .5 1.7 2 1.7 1.7 1.8 1.4 1.7 1.3 1.7 1.2 1.7 1 1.8 1 1.7 .9 1.7 .9 1.8 .7 1.7 .8 1.7 .7 1.8 .6 1.7 .6 1.7 .6 1.7 .6 1.8 .5 1.7 .5 1.7 .5 1.8 .5 1.7 .4 1.7 .5 1.8 .4 1.7 .4 1.7 .4 1.7 .4 1.8 .3 1.7 .4 1.7 .3 124.3 0" stroke="#ff0000" stroke-width="1.05"/>
<path d="M291.7 628.9l.3 .1 .2-5.5 .3 6.7 .3-17.6 .2 26.4 .3-32.2 .2 27 .3-17.7 .3-13.7 .2 29.4 .3-24.1 .3 8.5 .2-28 .3 19.4 .3 21.8 .2-22.9 .3 0 .2 25.1 .3 .4 .3-11.4 .2 5.6 .3-6.4 .3 19.8 .2 .3 .3 .3 .2 1.8 .3-8.5 .3 6 .2-25.9 .3-20.4 .3-7.3 .2 19.9 .3 24.4 .3-5.1 .2-.7 .3-5.7 .2 7.5 .3-1.6 .3-3 .2 .6 .3-4.1 .3 24.5 .2-1.2 .3-5.4 .3-4.5 .2-17.2 .3-8.7 .2-6.5 .3 18 .3 23.8 .2-21.1 .3 10.2 .3 10.3 .2-5.4 .3 7.7 .2-10.1 .3 15.6 .3-23.7 .2 18.8 .3 7.3 .3-19.8 .2-3 .3-5 .3-19.2 .2 2.5 .3 20.2 .2-1.7 .3 18.4 .3-.9 .2-2.7 .3 6.3 .3 .3 .2-3.7 .3-.5 .3-1.4 .2-3.1 .3 9.8 .2-1.1 .3-9.3 .3 4.8 .2-16.5 .3-26.6 .3 27.6 .2 .9 .3 25.8 .3-17.3 .2 3.1 .3 13.7 .2-4.7 .3-6.5 .3 4.8 .2-6.6 .3 12.9 .3 2.1 .2-9.9 .3 9.9 .2-5 .3-10.2 .3-14.9 .2-7.8 .3 23.5 .3 4.3 .2 2.5 .3 2.9 .3 3 .2-1.9 .3 3.6 .2 3.6 .3-1.9 .3 1.7 .2-1.3 .3-4.4 .3 1.5 .2 4.6 .3-12.2 .3-7.2 .2-13.9 .3-.2 .2 14.9 .3 10.8 .3 6.7 .2-4.6 .3 7.4 .3-6.9 .2 3.4 .3-2.1 .2 5.2 .3 1 .3 1.4 .2 1.5 .3-9.3 .3 6 .2-5.2 .3-11.4 .3-23.6 .2 17.2 .3 13.4 .2 5.7 .3 6.7 .3-1.5 .2 3.9 .3-3.5 .3 2.3 .2 2.8 .3-4.6 .3 3.2 .2-4.1 .3 1.6 .2 .7 .3-5.2 .3-3.6 .2-15.9 .3-12.5 .3 26.8 .2 6.8 .3 5.9 .3 1.9 .2-.4 .3 .4 .2 .1 .3 .4 .3 .8 .2-1.1 .3 1.3 .3-1.7 .2 1.4 .3-2.4 .2-5.5 .3-12.2 .3-26.2 .2 24.4 .3 15.3 .3 8.2 .2 .5 .3-.1 .3-.3 .2-.8 .3 1.6 .2-.2 .3 .4 .3-.8 .2 .8 .3-.5 .3-.2 .2-1.8 .3-6.9 .3-15.5 .2-11.6 .3 20.6 .2 9.6 .3 3.6 .3 2.4 .2 1.2 .3-1.1 .3-.5 .2 1 .3 2.2 .2-1.3 .3-.5 .3 0 .2 .3 .3-.4 .3-5.8 .2-8.7 .3-22.2 .3 12.2 .2 15.9 .3 7.9 .2 1.6 .3 1.3 .3 1 .2-1.7 .3 .9 .3 .2 .2-1.1 .3 3 .3-1.8 .2-.7 .3-3 .2-1.9 .3-8 .3-21.7 .2 8.3 .3 16.9 .3 5.9 .2 3.7 .3-.3 .2 .4 .3 .7 .3 .4 .2-.8 .3 2.2 .3-.5 .2 .9 .3-4.3 .3 .1 .2 2.3 .3-6 .2-10.7 .3-23.1 .3 18.2 .2 10.9 .3 8 .3 4.9 .2-2.8 .3 2.4 .3 .4 .2-.4 .3 .2 .2 .5 .3-.2 .3 0 .2-1.3 .3-.4 .3-1.7 .2-1.2 .3-5.1 .3-14.6 .2-12.1 .3 20.7 .2 9.1 .3 4.3 .3 .1 .2 1.2 .3 1.1 .3-1 .2 2 .3-1.8 .2 .2 .3 .8 .3-1.8 .2 .8 .3 1.2 .3-5.6 .2-7.9 .3-17.5 .3-5.4 .2 22.7 .3 7.8 .2 3.1 .3 1.6 .3 .7 .2 .4 .3-.8 .3 1.2 .2-2.7 .3 2.2 .3 .6 .2 1.6 .3-2.1 .2 .1 .3-5.1 .3-9 .2-25.4 .3 14 .3 17 .2 7 .3 1.7 .2 .1 .3 1.2 .3 .6 .2-.2 .3-1 .3 2 .2-1.8 .3 1.2 .3-1.5 .2-.4 .3-1.1 .2-6.7 .3-16.5 .3-14 .2 23 .3 10.9 .3 4.6 .2-1.2 .3 4.3 .3-1.6 .2 .9 .3-.9 .2 .9 .3 .7 .3-.9 .2-.9 .3-.4 .3-1.8 .2-4.4 .3-12.1 .3-27.3 .2 17.5 .3 19.5 .2 5.8 .3 2.4 .3 2 .2-1.8 .3 1.7 .3 1.9 .2-1 .3-2.1 .2 1.6 .3-2.9 .3 4.1 .2-3.2 .3-3.6 .3-8.2 .2-17.7 .3-5.8 .3 21.6 .2 9.7 .3 3.5 .2-.2 .3 2.8 .3-2.1 .2 2.9 .3-1.5 .3-.4 .2 .3 .3-1.1 .3 .1 .2-2.4 .3-.4 .2-9.8 .3-18.9 .3 3.4 .2 19.5 .3 7.1 .3 1.7 .2 .4 .3 1.6 .2 .1 .3-1.5 .3-1 .2 2 .3-.7 .3-.5 .2 1.3 .3-2.7 .3-3.1 .2-9.5 .3-23.7 .2 10.2 .3 17 .3 5.2 .2 4.5 .3 .8 .3 .7 .2 .9 .3-1.2 .3 1.3 .2-.9 .3 1.2 .2-3 .3-.1 .3 1.6 .2-4.6 .3-4 .3-17.9 .2-15.8 .3 26.2 .3 9.5 .2 3.7 .3 1.2 .2 .7 .3 1.3 .3-2.2 .2 .2 .3 1 .3 .3 .2 2 .3-1.9 .2-1 .3-1.2 .3-5.2 .2-12.6 .3-21.9 .3 16.1 .2 15.9 .3 7.8 .3 .7 .2 1.8 .3 1.9 .2-4.3 .3 3.3 .3-2.8 .2 1.5 .3 1.6 .3-1.3 .2-.6 .3-.1 .3-3.8 .2-4.4 .3-14.6 .2-30 .3 29.1 .3 14.9 .2 6.1 .3 1.9 .3 .4 .2-.3 .3 1.1 .2 .5 .3-1.2 .3 1.4 .2 1.4 .3-.8 .3-1.3 .2-.3 .3-2.4 .3-4.2 .2-12.6 .3-23.5 .2 19.8 .3 14.1 .3 7 .2 .3 .3 .6 .3 1.2 .2 1.5 .3-2.1 .3 3.1 .2-1 .3-1.2 .2 .4 .3-.2 .3-1.9 .2-2.5 .3-7.1 .3-21.7 .2-1.9 .3 20.7 .3 10 .2 2.7 .3-.8 .2 2 .3-.2 .3 1 .2-.5 .3 .6 .3-.6 .2 1.9 .3-3.7 .2 3 .3-5.5 .3-5.5 .2-16.8 .3-15.5 .3 23.9 .2 13.6 .3 2.3 .3 .9 .2 2 .3 1.5 .2-2 .3 2.4 .3-1.6 .2 1.6 .3-.9 .3-.1 .2 1.5 .3-2.8 .3-3.4 .2-7.3 .3-21.4 .2-8.9 .3 25.7 .3 10 .2 3.3 .3 3.2 .3-1.9 .2 2.1 .3 1.8 .2-2.3 .3 2.7 .3-1.1 .2-1.1 .3-1 .3 1.5 .2-1.9 .3-2.3 .3-5.6 .2-15.1 .3-30.1 .2 28.7 .3 14.8 .3 7.9 .2 2.9 .3-.7 .3-.3 .2 2.7 .3-.6 .3-.3 .2 .2 .3-2.1 .2 1 .3 1.2 .3-1 .2-3.2 .3-4.1 .3-13.2 .2-31.5 .3 27.3 .2 15.5 .3 8.2 .3-.2 .2 .8 .3 4.1 .3-1 .2-1.8 .3 1.9 .3-.9 .2-1.1 .3-2.1 .2-.1 .3 1.3 .3-2.7 .2-11.3 .3-20.4 .3-13.4 .2 29.1 .3 12.1 .3 5.9 .2 .5 .3-1.2 .2 3.1 .3-2.5 .3 2 .2 4.3 .3-4.9 .3 1.3 .2 .2 .3-4.3 .3 1.6 .2-9.5 .3-14.2 .2-37 .3 37 .3 15.7 .2 8.3 .3 1.9 .3 .3 .2-1.7 .3 1.9 .2-.9 .3-.4 .3 1.4 .2-.6 .3 .2 .3-3 .2-.9 .3-4.2 .3-9 .2-25.8 .3 12.1 .2 19.9 .3 4.3 .3 4.6 .2 4 .3-2 .3 .3 .2-2.6 .3 2.5 .3-.5 .2 2.4 .3-3.5 .2-.9 .3 1.5 .3-2.2 .2-7.2 .3-11.3 .3-19.1 .2 22 .3 10.8 .2 5.2 .3 1.5 .3 .8 .2 .9 .3-.4 .3 .4 .2-1.8 .3 1.3 .3-.3 .2-.1 .3-2.2 .2 .5 .3-1.8 .3-3.7 .2-9.7 .3-16.4 .3 17.9 .2 8.1 .3 5.8 .3 1.4 .2 1.6 .3-.3 .2-.9 .3-.4 .3-.2 .2 .1 .3 1.7 .3-2.2 .2 .5 .3-2.4 .3-.9 .2-6.8 .3-14.1 .2 2 .3 14.3 .3 6.4 .2 .4 .3-.1 .3 1.8 .2 .3 .3 1.9 .2-.8 .3-1 .3-.3 .2 .5 .3 0 .3-2.4 .2-1.5 .3-3.6 .3-13.4 .2 0 .3 15.1 .2 2 .3 2.8 .3 1.5 .2-.4 .3 1.6 .3-.8 .2-.7 .3 1.2 .3-.8 .2-.6 .3 2 .2-3.3 .3-4.5 .3-3.1 .2-8.6 .3-5.4 .3 12.7 .2 6.2 .3 1.8 .2 1.8 .3-.4 .3-1.1 .2 2.4 .3-.3 .3 0 .2 .8 .3 0 .3-1.2 .2 1.2 .3-1.3 .2-2.2 .3-4.8 .3-13.8 .2 2.2 .3 10.1" stroke="#ffff00" stroke-width="1.1"/>
<path d="M291.7 600.6l.3-8.7 .2 22.8 .3-3.7 .3 21.1 .2-2.4 .3 9.1 .2-28 .3 11.6 .3-15.8 .2-.5 .3 18.9 .3-23 .2 42 .3-3.8 .3-23.1 .2 18.4 .3-21.6 .2 6.3 .3 2.9 .3 14.7 .2-24.1 .3 5.3 .3-8.2 .2 8 .3-2.5 .2-4.3 .3 19.4 .3-9.9 .2 23.2 .3-17.8 .3-.2 .2-14.3 .3 10.3 .3-12.4 .2-8.9 .3 23.6 .2 11 .3 9 .3-29.1 .2 1.5 .3 25.9 .3-25.1 .2 1.3 .3 7.7 .3 11.2 .2 8.4 .3-.9 .2-26 .3-.8 .3 3.2 .2-7.8 .3-15 .3-1.7 .2 16.4 .3 18.8 .2-1.4 .3 4.8 .3-9.8 .2-.7 .3 6.5 .3 .2 .2-12.5 .3 26.5 .3-26.3 .2 25.1 .3-2.3 .2-21.7 .3 3.3 .3-1.1 .2 5.6 .3-17.6 .3 14.5 .2 9.3 .3 7.1 .3-12.1 .2 13 .3-3.2 .2-2.9 .3 .3 .3 3 .2 1.4 .3-6.6 .3 2.2 .2-6.9 .3 3.6 .3 3.4 .2-9.7 .3-2.9 .2-17.5 .3 27.3 .3-2.6 .2 18.4 .3 3.9 .3-2.1 .2-6.4 .3-1.9 .2 3.8 .3-5.9 .3-.7 .2 5.5 .3-9.6 .3 6.4 .2 2.1 .3 7.1 .3-16.5 .2-15.5 .3-5.2 .2 22.6 .3 .2 .3 7.6 .2-.8 .3 2.5 .3-2.1 .2 14.3 .3-11.7 .3 3.6 .2 6.2 .3-.3 .2-7.7 .3-1.6 .3 2.2 .2-6.6 .3-6.4 .3-15.8 .2 11.6 .3 14.7 .2 4.6 .3 1.9 .3 .2 .2 7.2 .3-8.5 .3 6.5 .2-4.6 .3-1.8 .3 10.9 .2-2.6 .3-2.6 .2-.9 .3-2.8 .3-3.1 .2-9.9 .3-12.9 .3 17.6 .2 10.2 .3 3.5 .3 1.9 .2-1.4 .3 1.4 .2 3.3 .3-1.2 .3-1.3 .2 1 .3 1.5 .3-2.3 .2 3.1 .3-3 .3-4.8 .2-5.5 .3-19.9 .2 15.8 .3 11.3 .3 4.3 .2-.3 .3 4 .3 .5 .2-2.2 .3 1.2 .2 1 .3-1 .3 1.1 .2-2.2 .3-.1 .3-1.6 .2 0 .3-8.3 .3-22.6 .2 11.8 .3 13.9 .2 5 .3 2.8 .3 .4 .2 .9 .3 1.3 .3 .7 .2-1.7 .3 1 .3 .4 .2-1 .3-1.7 .2 2.6 .3-.5 .3-8.7 .2-10.3 .3-19.5 .3 21.8 .2 11.2 .3 2.6 .2 3.7 .3 .3 .3 .6 .2-.2 .3-.4 .3 1.3 .2-1.5 .3 1.1 .3-1.1 .2-.1 .3 .9 .2-3 .3-5.5 .3-12.4 .2-15.7 .3 21.9 .3 8.3 .2 6.2 .3-.9 .3 2.4 .2-.1 .3-2 .2 4.9 .3-1.1 .3-2.1 .2 1.3 .3-1.1 .3-.2 .2-.5 .3-1.3 .2-5 .3-16.6 .3-10 .2 20 .3 8.5 .3 3.5 .2 3.8 .3-1.3 .3 .2 .2 1.7 .3-.3 .2-1.6 .3 0 .3-.8 .2 2.2 .3-2.6 .3-.8 .2-2.1 .3-11.8 .3-22.6 .2 4.6 .3 23.2 .2 9.8 .3-.9 .3 3.9 .2 .6 .3-.2 .3-.8 .2-1.1 .3 2.2 .3-1.8 .2 .8 .3-1.1 .2-1.2 .3 2 .3-4.5 .2-10.4 .3-21 .3 16.2 .2 12.2 .3 6.4 .2 3.4 .3-2.7 .3 1.5 .2 .6 .3-.9 .3-1.3 .2 1.4 .3 .7 .3-1.6 .2 .7 .3 .4 .2-3.6 .3-.4 .3-8.9 .2-18.8 .3-6.8 .3 22.4 .2 10.1 .3 5.3 .3 3.1 .2-3.1 .3 1.3 .2-1.7 .3 3.9 .3-.1 .2 1.4 .3-2.9 .3 1.1 .2-1.8 .3-.8 .2-2 .3-7 .3-16.1 .2 4.5 .3 14.2 .3 5.8 .2-.4 .3 3 .3 1.8 .2 .2 .3-1.5 .2-.3 .3 .9 .3-.1 .2-.8 .3-1.9 .3 .3 .2-3.8 .3-9.8 .3-27.2 .2 18.6 .3 14.8 .2 4.4 .3 2.9 .3 1.8 .2 .8 .3-1.3 .3 1.5 .2 .4 .3-1.2 .3 .7 .2 1.6 .3-2.7 .2-1.5 .3-2.3 .3-10.6 .2-18.4 .3-1.1 .3 19.1 .2 10.5 .3 3.2 .2 5.8 .3-3.1 .3 0 .2-1.1 .3 2.1 .3 0 .2 0 .3 .2 .3-1.3 .2 .7 .3-4.1 .2-.4 .3-9.8 .3-18.3 .2 8.5 .3 14.6 .3 8 .2 .8 .3-.7 .3 2.6 .2 .4 .3 .7 .2 0 .3-2.6 .3 2.6 .2 2.5 .3-3.7 .3-.2 .2-2.7 .3-5.3 .2-12.5 .3-8.4 .3 17.3 .2 8.4 .3 2.9 .3 .8 .2-1.3 .3 1.8 .3-.1 .2 1.5 .3-.7 .2 2 .3-2.9 .3-1.4 .2 2.8 .3-4.3 .3-1.3 .2-4.1 .3-15.7 .3-1.3 .2 15 .3 7.5 .2 1.5 .3 0 .3 3.2 .2-.3 .3 .1 .3 0 .2-.8 .3 3.1 .3-3.7 .2-.3 .3-.2 .2 .8 .3-1.2 .3-6.6 .2-12.5 .3-1.4 .3 15.9 .2 3.4 .3 .5 .2 1.8 .3 1.3 .3 1.2 .2-.4 .3 .7 .3-.9 .2 .1 .3-1.5 .3 1.3 .2-.4 .3-2.1 .2-2.1 .3-10.2 .3-17.1 .2 16.6 .3 10.2 .3 3.9 .2 1.4 .3-1.8 .3 2.6 .2 .3 .3-.4 .2-.8 .3 .8 .3-1.6 .2 1.2 .3-1.8 .3 1.7 .2-2.5 .3-5.7 .2-8.5 .3 3.7 .3 6.7 .2 5.3 .3 0 .3 .2 .2 2.1 .3-.3 .3 .9 .2 .3 .3-.1 .2-2.4 .3 1.6 .3-.4 .2 .2 .3-.8 .3-2.4 .2-8.5 .3-10.7 .3 4.1 .2 12.2 .3 4.3 .2 4.2 .3-3.5 .3 3.4 .2-1.8 .3-.2 .3-.5 .2 .3 .3 1 .3-1.2 .2 2.2 .3-2.1 .2-1.4 .3-1.3 .3-3.9 .2-6.7 .3 3.2 .3 5.1 .2 2.7 .3 3.8 .2-1.2 .3 1 .3-.6 .2 1.8 .3-1.9 .3 2.4 .2-1.9 .3 .1 .3 1.4 .2-2.9 .3 1.4 .2-5.2 .3-1.9 .3-11.2 .2 3.3 .3 9.6 .3 1.8 .2 2.4 .3 2.4 .3 2 .2-3.4 .3 1.7 .2 .2 .3-.8 .3 .9 .2-.9 .3 2.2 .3-1.8 .2-2 .3-.9 .2-4.4 .3-2.6 .3-.3 .2 6.9 .3 .9 .3 1 .2 2.5 .3-1.5 .3 3.3 .2-1.5 .3 2 .2-1.7 .3-1.5 .3 1.8 .2-2.1 .3 .2 .3-.2 .2-1.3 .3-6.2 .3-6.4 .2 4.9 .3 6.1 .2 1.5 .3 1.7 .3 .9 .2-1.1 .3 3.1 .3-1 .2-1.3 .3-.1 .2 1.2 .3-1.4 .3 2.2 .2-.3 .3-1.7 .3-3 .2-4.5 .3-9.8 .3 8.2 .2 6.8 .3 .8 .2 .9 .3 1.3 .3 .6 .2-1.5 .3 .1 .3 1.7 .2 0 .3-2.1 .3 5 .2-3.9 .3-1.5 .2-.7 .3-3.4 .3-8.6 .2 2.5 .3 5.1 .3 5.1 .2 1.7 .3-.4 .3 .2 .2 3.1 .3-.7 .2-2.6 .3 1.5 .3-1.5 .2 1.7 .3-.8 .3 .8 .2-3.1 .3-3 .2-7.7 .3 .9 .3 5.6 .2 5.2 .3 2.1 .3 .6 .2 .6 .3-1.3 .3 .6 .2-.9 .3 .8 .2-1.7 .3-.7 .3 .4 .2-1.4 .3 1 .3-3.2 .2-3.7 .3-10.3 .3 9.9 .2 4.1 .3 2.5 .2 2 .3-.2 .3-2 .2 2.9 .3-1.3 .3 .2 .2 .2 .3-1.4 .2 2.1 .3 .2 .3-1.8 .2 .5 .3-3.1 .3-2 .2-7.6 .3 4.3 .3 7.5 .2 .5 .3-1 .2 2.3 .3-.9 .3-.2 .2 3.3 .3-2 .3-1.7 .2 1.6 .3 1.3 .3-.8 .2 0 .3-3 .2 .4 .3-4.5 .3-7.7 .2 2.6 .3 6 .3 4.9 .2-.7 .3 .9 .3 .9 .2-.6 .3 2.8 .2-1.1 .3-1.9 .3 .1 .2 1.6 .3-1.2 .3-.7 .2-1.2 .3-1.3 .2-5.6 .3-3.7 .3 6.9 .2 3.5 .3 .2 .3 .7 .2-.2 .3 1.4 .3 .5 .2 .2 .3-1.8 .2 1.3 .3 .1 .3 .9 .2-1.9 .3-.3 .3-1 .2-4.8 .3-4.4 .3 5.7 .2 3.9 .3 1.4 .2 .4 .3 .1 .3-.1 .2 2.4 .3-1 .3 .9 .2-2.5 .3 1.7 .2-.9 .3-1 .3-1.3 .2 1.7 .3-2.6 .3-7.6 .2 2.3 .3 4.6 .3 2.3 .2 4.2 .3-3.8 .2 1.2 .3 0 .3 1.2 .2 .3 .3-1.1" stroke="#00ffff" stroke-width="1.1"/>
<path d="M291.7 639.6l.3-17.7 .2 .7 .3-13.9 .3-4.8 .2 14 .3 12.9 .2 1.9 .3-23.9 .3 1.9 .2 5.2 .3-33.6 .3 19.6 .2 17.2 .3-13.2 .3 22.8 .2-5 .3-13.1 .2 5.5 .3 22.8 .3-18 .2-8 .3-1.1 .3 22.8 .2 6.2 .3-18.4 .2 5.4 .3-6.2 .3-7.7 .2-23.1 .3 30.3 .3-1.6 .2-6.1 .3 22.2 .3-8 .2 12 .3-14.6 .2-7.8 .3-1.5 .3 29.3 .2-13 .3-12.7 .3 13.7 .2 5.1 .3 .5 .3-22.4 .2-11.6 .3-6 .2 11.3 .3 15.9 .3-9.7 .2 19.7 .3 8.6 .3-22.4 .2 23 .3-8.7 .2 4.6 .3-3.4 .3 5.2 .2-15.2 .3 4.1 .3-14.6 .2 13.8 .3-33.3 .3 4 .2 29.5 .3-5.5 .2 11.4 .3 0 .3 6.8 .2-5.5 .3-2.3 .3-6.3 .2 4.2 .3-4.8 .3 14.5 .2-6.4 .3 4.2 .2 1.3 .3-6.7 .3-12.7 .2-14.5 .3 19.5 .3 9.2 .2 1.1 .3 6.7 .3-5.4 .2-.9 .3 13.7 .2-9.3 .3 7.5 .3-16 .2 .2 .3 5.9 .3-4.8 .2 10.2 .3-4.3 .2 5.1 .3-21.8 .3-14.1 .2 4.3 .3 20.6 .3 3.8 .2 2.3 .3 1.2 .3 6 .2-4.8 .3 6.7 .2-8.3 .3 .3 .3 3.5 .2-.7 .3 .6 .3 7.9 .2-10.1 .3 5 .3-9.1 .2-9.6 .3-15.7 .2 17.1 .3 13 .3 7.6 .2 3.1 .3-2.1 .3 .9 .2 1.8 .3-5.1 .2 .5 .3-.3 .3 4.9 .2-4.8 .3 2.9 .3 1.7 .2-3.6 .3-5.9 .3-14.3 .2-8 .3 19.5 .2 11 .3 1 .3 4.7 .2 1.3 .3-3.7 .3 1.2 .2-.3 .3 1 .3-.3 .2 .7 .3 .6 .2-1 .3-1.4 .3-6.5 .2-10 .3-15.1 .3 18.9 .2 12.1 .3 3.7 .3-2.4 .2 6.2 .3-3.5 .2 2.2 .3-.9 .3 1.2 .2-.5 .3 .5 .3 1.9 .2-.4 .3-.8 .2-4 .3-7 .3-18.7 .2 1.3 .3 17.1 .3 6.9 .2 2.2 .3 1.7 .3 1.5 .2 .2 .3 .6 .2-1.3 .3 .9 .3-.1 .2 .2 .3 .6 .3 .4 .2-3 .3-5.9 .3-13.3 .2-14.1 .3 19.8 .2 10.3 .3 3.6 .3 1.2 .2 3.6 .3-2.7 .3 1.1 .2 1 .3-1.6 .2 1.8 .3-1.6 .3 .8 .2-.4 .3-2 .3-6.8 .2-10.8 .3-24.6 .3 25.6 .2 13.6 .3 3.9 .2 2.2 .3 1 .3-3.1 .2 1.5 .3 1 .3 .3 .2 1.1 .3-2 .3 1.8 .2-.9 .3-2.7 .2 .4 .3-5.5 .3-13.5 .2-23.2 .3 22.7 .3 11.6 .2 7.8 .3 .1 .2 2.3 .3-.2 .3 .5 .2 2.3 .3-1 .3-.8 .2 3.3 .3-.8 .3-3.6 .2 1.8 .3-.9 .2-2.7 .3-9.4 .3-20.5 .2 11 .3 14.2 .3 3.2 .2 4.2 .3 1.5 .3-.8 .2 2.9 .3-3.1 .2-1 .3 2 .3-.5 .2 1.3 .3-.6 .3-2.1 .2-2.9 .3-5.3 .3-17.5 .2 4.9 .3 12 .2 9.1 .3 1.9 .3-.5 .2 1.1 .3 2 .3-2.1 .2 1.6 .3-2.6 .2 2.2 .3-3 .3 4.1 .2-3.2 .3-2.2 .3-5.6 .2-14.1 .3-10.3 .3 19.8 .2 8.7 .3 1.8 .2 .8 .3 2.7 .3-1.3 .2 .1 .3 1 .3 3.4 .2-2.1 .3-1.3 .3 .4 .2 3.8 .3-4.5 .2-1.4 .3-3.2 .3-10.8 .2-17.8 .3 12.7 .3 13.4 .2 3.7 .3 3.2 .2 2 .3 .2 .3-1 .2 .6 .3-.8 .3 1.2 .2 .2 .3 .4 .3-1.6 .2 1.3 .3-1.8 .2-6.2 .3-15.2 .3-20.7 .2 25.2 .3 13.2 .3 2.3 .2 2.5 .3 1.2 .3-1 .2 1.1 .3-.3 .2 1.4 .3-.7 .3 .4 .2 .2 .3-1.4 .3-2.7 .2-7.6 .3-18.5 .3 .2 .2 18.2 .3 6.4 .2 2.4 .3 2.8 .3-.8 .2 2.2 .3-2.8 .3 .5 .2 2.8 .3-2.5 .2 .1 .3-.7 .3 0 .2-7.5 .3-13.6 .3-7.7 .2 17.6 .3 7.2 .3 1.7 .2 2.4 .3 2.1 .2-.9 .3-.2 .3-2.4 .2 1.2 .3 1.2 .3-1 .2 .4 .3-.9 .3-1.5 .2-5.6 .3-14 .2-14.1 .3 19.9 .3 10.6 .2 4.1 .3 2.9 .3-2.1 .2 3.4 .3-1.5 .2-1 .3-1.6 .3 3.2 .2-1.1 .3 .2 .3 1.1 .2-2.2 .3-.3 .3-3 .2-8.1 .3-13.3 .2-11.2 .3 18.8 .3 8.3 .2 7.8 .3 1.3 .3 .9 .2-.9 .3 .2 .3-3 .2 3.7 .3-3 .2 1.8 .3 0 .3 .1 .2-.8 .3-4.6 .3-5 .2-17.3 .3-26.1 .3 34.9 .2 11.9 .3 4.5 .2 3.7 .3-2.2 .3 2.9 .2-2 .3 .1 .3 2.1 .2-1.4 .3-2.8 .2 3.2 .3-2.7 .3 .8 .2-7.4 .3-16.3 .3-27.1 .2 28.9 .3 15.7 .3 4.6 .2 3.2 .3-1.5 .2 2.4 .3-1.1 .3-1.9 .2 1.2 .3 1.2 .3-1.7 .2 0 .3 .5 .3-1 .2-4.3 .3-8.1 .2-20.6 .3 7.9 .3 15.1 .2 7 .3 3.2 .3 1.9 .2-.5 .3-.2 .2-1 .3 1.2 .3 1.3 .2-2.9 .3 2.1 .3 .5 .2-1.4 .3-2.6 .3-4.9 .2-11.8 .3-26.1 .2 19.2 .3 14.8 .3 5.9 .2 3.6 .3 .6 .3 .1 .2 .8 .3 .5 .3-1.1 .2 2.1 .3-.6 .2-1.3 .3-1.3 .3 .4 .2-1.2 .3-5.2 .3-14.6 .2-24.7 .3 27.6 .3 14.6 .2 2.8 .3 2.9 .2-.7 .3-1.3 .3 2.4 .2-.4 .3 2.2 .3-2.5 .2 2.3 .3-.8 .2-2.6 .3-3.4 .3 .1 .2-8 .3-15.5 .3 2.5 .2 14.6 .3 6.1 .3 3.2 .2 .2 .3 1.7 .2 .7 .3-.1 .3 .3 .2 2.1 .3-3.5 .3 2.9 .2-1.4 .3-2.1 .3-3.2 .2-6.1 .3-20 .2-17.2 .3 28.5 .3 12.6 .2 4 .3 4 .3-.8 .2-.5 .3 2.6 .2 .7 .3-4.1 .3-.5 .2 1.6 .3 1.4 .3-1.3 .2-2.8 .3-1.9 .3-10.3 .2-17.7 .3 11.9 .2 11.6 .3 6 .3 3.2 .2 2.7 .3-1.3 .3 .3 .2-.7 .3 .4 .3 .5 .2-.2 .3-1.1 .2-2.1 .3 .6 .3-1.6 .2-1.8 .3-12.5 .3-24.5 .2 15.8 .3 16.3 .2 7.3 .3 1.6 .3 .2 .2 1.7 .3-1.5 .3 1.3 .2-.3 .3 .3 .3-.2 .2 .6 .3-1.7 .2 .5 .3-4 .3-5 .2-15 .3-24.9 .3 28 .2 13.3 .3 6.3 .3 5.3 .2-3.4 .3 .4 .2 1.1 .3-.5 .3 1 .2-2.1 .3-1 .3 4.5 .2-3.4 .3-1.9 .3-5.5 .2-8.5 .3-29.9 .2 10.3 .3 21.1 .3 8.8 .2 4.5 .3 2.2 .3 .8 .2-1.8 .3 1 .2-1.8 .3 2.8 .3-1.4 .2 .4 .3 .1 .3-1.7 .2-1.9 .3-2.9 .3-10.6 .2-18.9 .3 .1 .2 21.2 .3 8 .3 3.3 .2 1.3 .3 .5 .3 2.6 .2-.8 .3-.8 .3 1.9 .2-.1 .3-1.4 .2 .3 .3-2.1 .3 0 .2-1.3 .3-9.7 .3-18.9 .2 2.6 .3 19.7 .2 5.5 .3 2.4 .3-.2 .2 1.1 .3 .2 .3 1.6 .2-2.2 .3 .6 .3 .8 .2-1.2 .3 .3 .2 .7 .3-4 .3-3.3 .2-11.3 .3-12.6 .3 19.6 .2 7.5 .3 2.3 .3 1.3 .2-.1 .3 0 .2-.1 .3 1.3 .3 .2 .2-1 .3 .1 .3-.5 .2-.2 .3-1.5 .3-5.5 .2-8.6 .3-4.5 .2 12.2 .3 8.6 .3 0 .2 1 .3 .8 .3-.3 .2-3.4 .3 2.9 .2-.1 .3 .6 .3-2.4 .2 .2 .3 .4 .3-.9 .2-3.3 .3-4.8 .3-13 .2 11.4 .3 7 .2 .3 .3 2.4 .3 1.5 .2 1.7 .3-1.5 .3-1.1 .2 1.9 .3-.5 .3-.4 .2 1.6 .3-.9 .2-.1 .3-2.5 .3-3 .2-7.5 .3-9.5 .3 11 .2 6.2 .3 3.1 .2 .8 .3 2.6 .3-2.6 .2 .4 .3-1 .3 3.8 .2-1.4 .3 .3 .3-1.8 .2-2.1 .3 1.3 .2-1.9 .3-2.1 .3-7.3 .2-1 .3 5.5" stroke="#80c000" stroke-width="1.1"/>
<path d="M291.7 616.9l.3 12.4 .2 2 .3-17.3 .3 25.4 .2-40.9 .3 6.8 .2 6.4 .3-1.4 .3 2 .2-5.9 .3-4.9 .3 21.8 .2-2.8 .3-16.9 .3 12.6 .2 11.1 .3 2 .2-.1 .3 12 .3-38 .2 39.6 .3-42 .3 21.7 .2 1.7 .3-12.7 .2 26.8 .3-.4 .3-32.3 .2 31.7 .3-21.9 .3 1.6 .2-4.3 .3 18.6 .3-9 .2 12.4 .3-26.3 .2 29.6 .3-20.3 .3 8.2 .2-10.8 .3 2.6 .3 4.7 .2 21.4 .3-11.5 .3-13.2 .2 11.7 .3 9.4 .2 6.3 .3-26.4 .3 12.8 .2-6.5 .3-3.8 .3 16.6 .2 2 .3-12 .2 2 .3 1.7 .3-13.9 .2 16.5 .3-7.7 .3-11.2 .2 30.3 .3-15.8 .3 17.5 .2-17.6 .3-8.9 .2 6.6 .3 2.8 .3-5.1 .2-1 .3 8.1 .3 .5 .2 9.7 .3-20.6 .3 15.9 .2 12.3 .3-4.2 .2 2.3 .3-4.8 .3 1.7 .2-8.3 .3 6.9 .3-16.8 .2 17 .3-17.3 .3 7 .2 1.4 .3 .8 .2 10.4 .3-8.4 .3 7.4 .2-4.5 .3-7.5 .3 4.4 .2 0 .3 11.6 .2 0 .3-7.8 .3-2.7 .2 2.4 .3-4 .3 1.2 .2 3.8 .3-.9 .3-3.4 .2 7.8 .3 3.1 .2 1.6 .3-9.1 .3 2.3 .2 6.1 .3-7.8 .3 5.2 .2 8.3 .3-2.6 .3-2.2 .2-1.9 .3 3 .2-3.2 .3 1.5 .3-5.9 .2-2.5 .3 11.2 .3-2.2 .2-1.3 .3-.9 .2 1.2 .3 3.6 .3 5.1 .2-5.2 .3 2 .3 3.8 .2 .6 .3-4.4 .3 1.4 .2-1.1 .3-1.4 .2-2.4 .3-4.7 .3 2.9 .2 3.8 .3 4.7 .3 3.6 .2-2.1 .3-.4 .3 .8 .2 2.2 .3-2.9 .2 2.2 .3 3.7 .3-1.9 .2-1.9 .3 .4 .3 1.2 .2-5.3 .3-5.4 .3 3.2 .2 6.2 .3 .4 .2 2.5 .3 1 .3-1.1 .2 .9 .3 1.8 .3-.4 .2 .8 .3-1.3 .2-.2 .3 1.7 .3-2.7 .2 .1 .3-.9 .3-5.5 .2-6.2 .3 5.3 .3 4.1 .2 4.6 .3-1.4 .2 1.3 .3 .8 .3 1.2 .2 .2 .3-1.5 .3 .2 .2 2.1 .3-2 .3-1.3 .2-.5 .3 1.8 .2-1.6 .3-1.9 .3-7.1 .2-.7 .3 7.6 .3 2.8 .2 1 .3 2.7 .2-2.5 .3 1.9 .3-.3 .2 .4 .3 1 .3-1.9 .2-2.9 .3 3.9 .3-.1 .2-.9 .3-3.9 .2-9.5 .3-4.9 .3 12.5 .2 5.7 .3 2.8 .3 .5 .2-2.5 .3 1.5 .3 .3 .2-.4 .3-.1 .2-.6 .3-2.4 .3 2.1 .2 .7 .3-2.6 .3-5 .2-12.3 .3 10.7 .2 7.1 .3 1.2 .3 2.5 .2-1.5 .3 1.3 .3-.9 .2 .9 .3 .1 .3 .8 .2-.5 .3 1.3 .2-2.2 .3 .9 .3-4.1 .2-4.4 .3-7.7 .3 1 .2 8.6 .3 2.5 .3 3.9 .2-.6 .3 1.4 .2 1.1 .3-.1 .3 3.2 .2-2.5 .3-.7 .3-2.3 .2 2.7 .3-4 .3 .5 .2-2.7 .3-7.5 .2-11.7 .3 15.1 .3 3.9 .2 6.1 .3-.1 .3-.4 .2 1.4 .3 0 .2-.2 .3-2.1 .3 3.7 .2-5.6 .3 4.4 .3-1.6 .2-2.3 .3-5.4 .3-15.6 .2 6.5 .3 13.2 .2 4.1 .3-.1 .3-1.3 .2 2.9 .3-.7 .3 .6 .2 1.5 .3-1.6 .3-3.2 .2 2.2 .3 1.1 .2-.2 .3-1.8 .3-6.2 .2-8.7 .3 4.9 .3 8.3 .2 3.3 .3 0 .2-1.7 .3 3.3 .3 .6 .2-2.4 .3 .3 .3 2.5 .2 .5 .3-2.6 .3 .6 .2 .8 .3-1.7 .2-4.3 .3-2.5 .3-10.1 .2 6.4 .3 5.9 .3 4.1 .2 1.5 .3 1 .3-.1 .2 1.2 .3-3.2 .2 1.4 .3 1.6 .3-.9 .2-.5 .3-.9 .3-.5 .2 0 .3-2.7 .3-6.3 .2-13.5 .3 15.1 .2 4.9 .3 3.3 .3 .8 .2 0 .3-.3 .3 2.4 .2-1 .3 .8 .2-1 .3 .7 .3-1.3 .2-.4 .3-1.2 .3-1.4 .2-3.8 .3-9.2 .3-8.8 .2 14.5 .3 5 .2 3.3 .3 3 .3 1 .2-.1 .3 .4 .3-.3 .2-.3 .3 .4 .3 0 .2 .2 .3-3.1 .2 2.1 .3-4.9 .3-6.8 .2-8.7 .3 13.6 .3 3.2 .2 4.2 .3 1.2 .2-.3 .3-.7 .3 2.1 .2-.6 .3 .5 .3-2.7 .2 1.6 .3 .1 .3-1.1 .2-1.9 .3-3.1 .2-10 .3 1.4 .3 11.2 .2 1.8 .3 2.8 .3 .2 .2-.6 .3 1 .3-1.7 .2 2 .3-.9 .2 3.1 .3-3 .3-.8 .2 .1 .3-.8 .3-7.5 .2-7.4 .3 .5 .3 8.7 .2 5.7 .3 .7 .2-.7 .3 2.4 .3 1.6 .2-.8 .3-.5 .3-1.4 .2-1.4 .3 2.2 .2-1.8 .3 .5 .3-2.1 .2-1.3 .3-4.8 .3-4.9 .2 7.3 .3 5.5 .3-.5 .2 2.4 .3-1.1 .2 .8 .3 3 .3-1.1 .2-2.4 .3 .3 .3 .9 .2-.8 .3 .9 .3-1.7 .2-1.7 .3-2.4 .2-6.7 .3 1.8 .3 8.5 .2-.5 .3 3.4 .3-.9 .2-1.2 .3-.2 .2 2.3 .3 0 .3 .1 .2-.3 .3 1.3 .3-.7 .2-.5 .3-1 .3-.1 .2-2.4 .3-5.8 .2 1 .3 5.4 .3 3.5 .2-.4 .3 .1 .3-2.1 .2 3.2 .3-.6 .3-.4 .2 .3 .3-2 .2-1.7 .3 6.1 .3-4 .2 .8 .3-1.1 .3-2.2 .2-6.2 .3 2.5 .3 1.1 .2 6.8 .3-.6 .2 2.1 .3-.5 .3 .4 .2-1.9 .3 1.3 .3-1.8 .2 1.6 .3 .7 .2-.2 .3-2 .3-.9 .2-1.4 .3-2.2 .3-3 .2 4.1 .3 3.4 .3-.6 .2 3.3 .3 .7 .2-2.3 .3 3.8 .3-1.7 .2-1.3 .3 1.7 .3-1.8 .2 .8 .3 1 .3-2.8 .2 1.1 .3-6.9 .2-5.9 .3 6.4 .3 5.8 .2 1.2 .3-1.8 .3 3.1 .2-2.5 .3 .5 .2 2.9 .3-1.2 .3 1.6 .2-.4 .3-.8 .3-1.3 .2-1.2 .3 .8 .3-4 .2-8.2 .3 5.2 .2 5.5 .3-.3 .3 1.1 .2 1.8 .3-.8 .3 2.5 .2-.4 .3-.2 .3 .7 .2-1 .3-1.5 .2-.3 .3 .8 .3-2 .2-1.1 .3 1.2 .3-4.3 .2 2.1 .3 4.7 .2-.1 .3 1.6 .3-.8 .2 .1 .3 1.1 .3 1 .2-2.7 .3 .9 .3-.3 .2 .1 .3-.8 .2-1.9 .3-2.2 .3-.9 .2-2.5 .3 5.3 .3 .4 .2 .6 .3 1.2 .3 .6 .2-.2 .3 1.1 .2 .3 .3 .1 .3-.6 .2-1 .3-2.4 .3 2.8 .2-2.1 .3-1.6 .3-1.5 .2-4.7 .3 4.8 .2 1.8 .3 .6 .3 1.7 .2 2 .3-.9 .3-.2 .2 1 .3-1.1 .2 1.3 .3 .4 .3-.8 .2 1.1 .3-2.5 .3-1.2 .2-.1 .3-2.9 .3-3.4 .2 3 .3 2.9 .2 2.3 .3-1 .3 .6 .2 .4 .3 .6 .3-1.2 .2 .9 .3-1.6 .3 2.8 .2-.6 .3-.6 .2-1.4 .3-.8 .3-1.6 .2-5.8 .3 3.3 .3 4 .2 1.3 .3-.6 .2-.6 .3 4.4 .3-.7 .2-.6 .3 1.1 .3-3 .2 2.6 .3 0 .3-1.5 .2 1.3 .3-1.5 .2-6 .3-1.9 .3 1.3 .2 4.6 .3 1.4 .3-1.3 .2 2.7 .3 0 .3-.2 .2 1.9 .3-3 .2 1.4 .3-1.6 .3 .7 .2-.3 .3 1.6 .3-3.6 .2-1.7 .3-4.5 .3 4.6 .2 2.4 .3 1.2 .2 1.5 .3 .6 .3-1.8 .2 .8 .3 1.1 .3-.8 .2-.7 .3 .5 .2-.3 .3 1.2 .3-2.5 .2 .1 .3-3 .3-.7 .2-2.1 .3 3.9 .3 3.5 .2-.6 .3-.6 .2 1.3 .3-.9 .3 1.2 .2 1.5 .3-.3 .3-1.1 .2 .8 .3-2 .3 .8 .2 .5 .3-3 .2-2.8 .3-3 .3 5 .2 2 .3 .5 .3 .8 .2-1.6 .3 2.2 .2-1.1 .3 2.1 .3-.7 .2 .2 .3-1.4 .3 .9 .2 1.7 .3-4.3 .3-.5 .2-.7 .3-4.8 .2 .8 .3 4.2 .3 1.2 .2 1.9 .3 1" stroke="#d080d0" stroke-width="1.1"/>
<path d="M291.7 600l.3-2.3 .2 44.3 .3-2.7 .3-.1 .2-22.6 .3 21.6 .2-34.4 .3 19.9 .3-14.4 .2 14.1 .3-7.6 .3-18.3 .2-12.4 .3 12.4 .3 27.2 .2 1.5 .3 4.3 .2-10 .3-9.6 .3-3.1 .2 27.5 .3-18.9 .3-4.1 .2 31.5 .3-28.6 .2 5.1 .3 17.5 .3-8 .2-25.1 .3 11.9 .3-30.4 .2 18.6 .3 21.5 .3-7.9 .2 10.4 .3 13.9 .2-23.1 .3 4.7 .3-.4 .2 6.6 .3-4.2 .3-8.8 .2 5.1 .3 8.4 .3 8.3 .2-10.8 .3 .2 .2-6.5 .3-18 .3-15.4 .2 18.1 .3 27.9 .3-1 .2-9.9 .3 9.4 .2 8.9 .3-14.1 .3-6.4 .2 10.5 .3 4.2 .3-1.1 .2-7.3 .3-5.8 .3 23.2 .2-5.9 .3-18.2 .2-25.7 .3 .2 .3 20.7 .2 10.4 .3 14.3 .3-6.6 .2 10.1 .3 3.5 .3 .3 .2-11.3 .3-6.2 .2-3.4 .3 14.9 .3-7.9 .2 6.7 .3-16.4 .3 13.7 .2-28.8 .3-11.1 .3 29.4 .2 .1 .3 7.7 .2-1.3 .3 4 .3 11.6 .2-2.4 .3 .2 .3-10 .2 8.8 .3 1 .2-8.6 .3-3.6 .3 2.3 .2-1.6 .3-7.7 .3-26.8 .2 27.8 .3 10.5 .3 6.3 .2-6.6 .3 10.9 .2-8.1 .3 1.5 .3 3.7 .2 3.1 .3 .5 .3-6.5 .2 6.5 .3-1.5 .3-3.9 .2-1.5 .3-1.5 .2-19.2 .3-10.9 .3 22.2 .2 9 .3 10 .3 4.4 .2-6.2 .3 .2 .2 3.4 .3 .9 .3-1.7 .2 1.9 .3-.3 .3 1.9 .2-4.7 .3 4.2 .3-9.6 .2-2.8 .3-20.5 .2 10 .3 13.9 .3 4.4 .2 3.7 .3-.3 .3 3.5 .2-3.1 .3 .9 .3 3.2 .2-1.6 .3 .2 .2 2 .3-1.2 .3 2.3 .2-5.6 .3-6.2 .3-15.4 .2-7.5 .3 20.7 .3 7.7 .2 4.3 .3 2.9 .2 .2 .3 .9 .3-1.6 .2 2.2 .3 1.3 .3-2 .2 2.5 .3-2.9 .2-.4 .3-1.1 .3-4 .2-12.1 .3-22.9 .3 21.7 .2 10.7 .3 7.2 .3 .8 .2 4.5 .3-2.9 .2 2.1 .3-2.2 .3 1.4 .2-.6 .3 3 .3-2.4 .2-1.9 .3 .1 .3-2 .2-10.6 .3-18 .2 5.8 .3 17.3 .3 5.3 .2 1.8 .3 1.9 .3 2.2 .2-2.2 .3 4.4 .2-3.8 .3 2.9 .3-2 .2 .5 .3-.6 .3-2.4 .2-2.8 .3-9.2 .3-18.7 .2 4.3 .3 16.4 .2 8.4 .3 6 .3-3.3 .2 1.8 .3 2.1 .3-.9 .2-1 .3 .8 .3 1.5 .2-2 .3-.3 .2-1 .3-.5 .3-6.1 .2-13.3 .3-20.1 .3 22.2 .2 12.7 .3 5.7 .2 1.7 .3 1.3 .3 0 .2-.6 .3-.7 .3-.8 .2 2.9 .3-2.2 .3 2.1 .2-3.7 .3 2.2 .2-3.7 .3-5.7 .3-14.4 .2-5.3 .3 17.9 .3 8.7 .2 2.5 .3 2.4 .3-1.5 .2 1.1 .3-.3 .2-.8 .3 2.7 .3-2.9 .2-.7 .3-.5 .3 .9 .2-1.5 .3-3.4 .3-10.9 .2-21.2 .3 13.1 .2 14.1 .3 7.1 .3 2.6 .2 .3 .3 1.9 .3 .2 .2 1.1 .3-2.7 .2 2.3 .3-.3 .3-1.6 .2-1.1 .3 .2 .3-.8 .2-6.4 .3-11.1 .3-20.9 .2 25 .3 11 .2 2.4 .3 1.6 .3 2.3 .2-2.7 .3 6.2 .3-1 .2-2 .3-2.5 .3 3.2 .2-1 .3-2.3 .2 2 .3-6 .3-6.6 .2-19 .3 8.3 .3 14.3 .2 7.4 .3 1.9 .2-1.6 .3 1.3 .3 .8 .2 1.2 .3 .4 .3-2.7 .2 .5 .3 .9 .3-1.7 .2 1.1 .3-2.3 .2-4.1 .3-10.9 .3-24.5 .2 18.2 .3 15.5 .3 5.1 .2 2.7 .3 .4 .3 .6 .2-.4 .3 1.5 .2 1.1 .3 0 .3-1.8 .2-.9 .3 1.9 .3-2.2 .2-1.4 .3-4.4 .3-11.2 .2-22.1 .3 22.3 .2 9.4 .3 5.9 .3 1.9 .2-.1 .3 1.5 .3 .4 .2-.8 .3 .8 .2 .2 .3-.3 .3-3 .2 3.1 .3-2.7 .3-1.1 .2-7 .3-13.6 .3-14 .2 23.2 .3 8.2 .2 5.3 .3-.6 .3 .3 .2 .9 .3 0 .3 1.9 .2 1.1 .3-.9 .3-2.5 .2 2.6 .3-1.6 .2-1.9 .3-2.2 .3-8.5 .2-18.9 .3-2.4 .3 21.9 .2 8.2 .3 2 .2 1.6 .3-.7 .3 2.6 .2-.8 .3 1 .3-2.1 .2 1.1 .3-1.8 .3-.2 .2 .8 .3-3.4 .2-1 .3-12.2 .3-20.2 .2 8.4 .3 15.6 .3 8.8 .2 1.6 .3 3.3 .3-1.1 .2 1.7 .3-.3 .2 .2 .3-.6 .3-1.2 .2 .8 .3-.6 .3-.5 .2-2.4 .3-4.9 .3-10.5 .2-25.6 .3 18.2 .2 14.6 .3 8.4 .3 .8 .2 2.6 .3-.7 .3-.8 .2 1.2 .3 2.1 .2-2 .3-.1 .3 .8 .2 .4 .3-3.9 .3 1.8 .2-7 .3-10.3 .3-26.7 .2 18.8 .3 15.5 .2 6.6 .3 2.8 .3 2 .2-2.2 .3 .9 .3 .8 .2 1.5 .3-2 .3 1.7 .2-1.4 .3-.2 .2-1.5 .3-3.1 .3-4.5 .2-19.7 .3-9.8 .3 23.2 .2 9 .3 1.7 .2 4.3 .3 2 .3-.5 .2-1.4 .3-.3 .3 .9 .2-1.5 .3 1.1 .3-.5 .2 .4 .3-1.1 .2-7.8 .3-15.1 .3-26.1 .2 30 .3 12.3 .3 5.7 .2 1.8 .3 2.1 .3-1 .2-1.3 .3-.1 .2 .9 .3-1.3 .3 2.9 .2-1.3 .3-1.1 .3-.7 .2-4.5 .3-12.8 .3-31.1 .2 23.6 .3 16.8 .2 7.9 .3-.3 .3 1.5 .2 3.1 .3-1.2 .3 .4 .2-3.1 .3 2.1 .2-.4 .3 .4 .3-.6 .2-.6 .3-5.2 .3-16.2 .2-29.5 .3 26.9 .3 15.6 .2 5.5 .3 3 .2 2.1 .3-1.2 .3-1.7 .2 5 .3-4.2 .3 .4 .2 1 .3-.8 .3-.4 .2 .6 .3-4.6 .2-6.8 .3-18.3 .3-13.2 .2 24.4 .3 9.8 .3 6.4 .2 .7 .3 1 .2 2.2 .3 1.5 .3-1.3 .2 2.1 .3-3.1 .3-.5 .2 2.4 .3-2.8 .3 3.3 .2-3.9 .3-6.2 .2-14.6 .3-28.4 .3 8.3 .2 24 .3 10.7 .3 3.6 .2 4.2 .3 2 .3-1.1 .2 1.4 .3-2.7 .2-1.7 .3 4 .3-2.5 .2 .6 .3 0 .3 .6 .2-5.1 .3-16 .2-28.4 .3 16.5 .3 19 .2 11.1 .3 1.2 .3 1 .2 .8 .3 .6 .3-.8 .2-.4 .3 .4 .2-1.6 .3 1.9 .3-2.4 .2-.2 .3-.5 .3-11.9 .2-16.5 .3 2.6 .3 15.4 .2 9.1 .3 3.9 .2-.5 .3 .9 .3-1.1 .2 1.9 .3 1.3 .3-.9 .2 .6 .3-1.2 .3-.5 .2-.6 .3-2.8 .2-5.9 .3-16.2 .3-20.6 .2 26.4 .3 13.4 .3 4.5 .2 .1 .3-.5 .2 2.2 .3 1 .3-.1 .2-.9 .3 1.8 .3-3 .2 1.4 .3 1 .3-1.4 .2-3.7 .3-7.8 .2-18.4 .3-3.1 .3 21.4 .2 7.4 .3 3.8 .3 1.2 .2-1 .3 .9 .3-.7 .2 .7 .3 1.1 .2-1.6 .3 1.9 .3-1.7 .2-1.4 .3-.2 .3-4.2 .2-8.1 .3-21.6 .2 17.6 .3 9.2 .3 7.3 .2-.6 .3 2.3 .3-.2 .2 .3 .3-.4 .3 1.3 .2-.7 .3-.7 .2 1.2 .3-1.5 .3-.7 .2-2.7 .3-6.1 .3-12.3 .2 4.2 .3 10.6 .3 5.3 .2 2.9 .3 2.3 .2-.7 .3-.8 .3 1.7 .2-1.6 .3-1.7 .3 .8 .2 3.5 .3-4.3 .3-1.5 .2 2 .3-3.4 .2-5.8 .3-14.2 .3 6.6 .2 11.3 .3 .8 .3 3.1 .2 2.3 .3-1.1 .2 0 .3 1.8 .3-2.8 .2 3.6 .3-1 .3-.6 .2 1.2 .3-2.5 .3-3.4 .2 1 .3-6.8 .2-8.2 .3-1.1 .3 10.8 .2 6.3 .3 2.4 .3-1.5 .2 4.2 .3-2.6 .3 .4 .2 1.1 .3-1.9 .2 2.1 .3-2.7 .3-.7 .2-.2 .3 1.5 .3-6.1 .2-9.5 .3-4.5 .2 13.4 .3 6.1 .3 .9 .2 .8 .3-.6 .3-.7 .2 .4 .3 1.4 .3-.8 .2 1.3 .3-2.3 .2 0 .3 .4 .3-.5 .2-7.3 .3-6.6" stroke="#ff00ff" stroke-width="1.1"/>
<path d="M291.7 603.3l.3 23.3 .2-10.4 .3 22.7 .3-7.2 .2-22.1 .3 17 .2-4.8 .3 9.5 .3-11.3 .2-8.2 .3 12.7 .3-8.3 .2-11 .3-7.3 .3 13.1 .2 13.1 .3 10 .2-1.1 .3-7.1 .3 12.4 .2-17.4 .3 7 .3 8.8 .2-10.9 .3 10.9 .2 .2 .3 1.3 .3 .9 .2 1.3 .3-26.9 .3-2.7 .2-6.6 .3 19.5 .3 7.3 .2-2 .3-7 .2-2.1 .3 15.5 .3-16.3 .2 10.7 .3 7.8 .3 4 .2-2.7 .3 1.6 .3-17.3 .2 13.6 .3-1.1 .2-11 .3-4.5 .3-9.6 .2 17.8 .3 .7 .3-5.7 .2 14.7 .3 1.4 .2-12.6 .3 11.4 .3-7.5 .2 5 .3-7.8 .3 14.2 .2-14.7 .3 16.8 .3-11.4 .2 6.7 .3-19.1 .2-16.5 .3 22 .3 4.1 .2 8.6 .3-11.7 .3 4.2 .2 4.6 .3 8.2 .3 2.2 .2-10.2 .3-2.9 .2 .1 .3 10 .3-9.9 .2 8.3 .3-14 .3 4.9 .2-22.9 .3 18 .3 10.1 .2-3.2 .3 8.6 .2-3 .3-.7 .3 8.6 .2-5.6 .3 1.4 .3-6.4 .2 4.9 .3 .7 .2 8.2 .3-4 .3-.8 .2-10.6 .3-6 .3-10.1 .2 13.5 .3 8.2 .3 7.1 .2-5.7 .3 9.3 .2-1.7 .3-2.2 .3 6.4 .2-1 .3-5.1 .3 .2 .2-2.1 .3 .8 .3 6.2 .2-8.7 .3 2.5 .2-7.5 .3-18.3 .3 17.6 .2 10.4 .3 2.1 .3-1.1 .2 5.4 .3-2.9 .2 3.5 .3 .3 .3 2.7 .2-7.8 .3 6.7 .3-3.4 .2 3.5 .3-1.9 .3-3.6 .2-5.6 .3-9.5 .2-6.7 .3 14.6 .3 6.4 .2 7.5 .3-2.9 .3 1.3 .2-1.4 .3 2.8 .3 2.5 .2-1.6 .3-.3 .2-.6 .3 1.6 .3-2.3 .2 .4 .3-1.8 .3-7.2 .2-13.1 .3 2.4 .3 11.8 .2 8.6 .3 3 .2-1 .3 .3 .3 .6 .2 1.2 .3 1.8 .3-.5 .2-2 .3 1.4 .2-.9 .3 .2 .3-1.1 .2-2.4 .3-11.5 .3-17.5 .2 14.1 .3 15.2 .3 .8 .2 2.5 .3 .5 .2-1.4 .3 3.5 .3-.6 .2-1.7 .3 .4 .3 2.5 .2-3.9 .3 1.1 .3-.6 .2-1 .3-7.2 .2-17.9 .3 10.8 .3 12.6 .2 2.1 .3 1.2 .3 .8 .2 .5 .3 2.3 .2-.1 .3 .1 .3 .5 .2-.4 .3-.1 .3-2.5 .2 .9 .3-2.9 .3-8.7 .2-17.1 .3 18.7 .2 5.8 .3 2.9 .3 2 .2 1.2 .3 1.7 .3-1.6 .2 2.7 .3-4.2 .3 3.2 .2-1.1 .3-1.6 .2 .9 .3-3.2 .3-1.1 .2-9.8 .3-22.1 .3 20 .2 12 .3 4.3 .2 .7 .3 1 .3-1.3 .2 2.6 .3-1.9 .3 .9 .2-1.2 .3 1.2 .3 .9 .2-1.8 .3-1 .2-2.8 .3-5 .3-9.8 .2-5.7 .3 15.4 .3 5.3 .2 3.3 .3 1.6 .3 1.1 .2-.4 .3-.8 .2-.2 .3 1.2 .3-.8 .2 .9 .3 .3 .3-1.6 .2-.9 .3-1.6 .3-3.2 .2-6.9 .3-15.4 .2 14.1 .3 8.5 .3 3.7 .2 2.2 .3 .6 .3-1.3 .2 2.6 .3-.3 .2-2.8 .3 1.6 .3 .9 .2 .4 .3-.4 .3-1.3 .2 1.1 .3-7.6 .3-3.2 .2-16 .3 10.2 .2 9.6 .3 5.3 .3 2.7 .2-1.4 .3 2.4 .3-.7 .2-1 .3 2.7 .3-1.2 .2-.7 .3 1.8 .2-2.4 .3-2.2 .3 .2 .2-5.7 .3-9.3 .3-15.6 .2 18.5 .3 8.5 .2 5.2 .3 .6 .3 .8 .2 2.6 .3-.8 .3-.3 .2-1 .3-.2 .3 1.4 .2-.2 .3-.2 .2-2.7 .3-2.5 .3-8 .2-19 .3 12.4 .3 10.2 .2 7.4 .3 2.2 .3-1.1 .2-.5 .3 1.4 .2 1 .3-.9 .3 .7 .2 0 .3 .4 .3-1.7 .2-1.2 .3-2.5 .3-3.9 .2-11.9 .3 .3 .2 10.6 .3 4.8 .3 1.5 .2 1.5 .3 .1 .3 1.2 .2 1.5 .3-1.5 .2 .3 .3 1 .3-1.9 .2-1.8 .3 1 .3 1.5 .2-4.2 .3-6.3 .3-15.5 .2 6.7 .3 12.3 .2 5.3 .3 .6 .3 .8 .2 1.1 .3-.8 .3-.7 .2 1.6 .3 0 .3-.3 .2-.5 .3-.7 .2 .9 .3-3.6 .3-1.8 .2-8.8 .3-16.2 .3 11.7 .2 10.1 .3 5.6 .2 2.5 .3 .1 .3 2.3 .2-.6 .3-1.5 .3 .9 .2-.6 .3 .8 .3-.8 .2 2.5 .3-2.5 .2-4.5 .3-5 .3-18.2 .2 10.3 .3 8.8 .3 5.1 .2 3.4 .3 .9 .3 .3 .2-.8 .3 0 .2 .1 .3-1 .3 2.8 .2-.7 .3-4 .3 2 .2-4.4 .3-6.2 .3-20.9 .2 12.2 .3 12.7 .2 6.6 .3-.4 .3-.1 .2 .8 .3-.6 .3 1.8 .2 .4 .3-1.9 .2 2 .3-3.2 .3 1.5 .2-1.1 .3-2.7 .3-2.8 .2-12.3 .3-14.8 .3 18.3 .2 7.9 .3 6.5 .2-.3 .3-.6 .3 1.8 .2-.3 .3 2.2 .3-.5 .2 1.1 .3-.7 .3-1 .2-1.7 .3-.5 .2-.1 .3-3.9 .3-9.7 .2-23.8 .3 21.7 .3 10.9 .2 3.7 .3 2.1 .2 .6 .3 1.4 .3-1 .2 .5 .3-1.4 .3 1.7 .2-1 .3-1.4 .3 1 .2 .5 .3-4.5 .2-7.6 .3-17.8 .3 7.4 .2 13.5 .3 6.6 .3 .3 .2 .2 .3 .7 .3 .8 .2 .1 .3 .2 .2 .1 .3-1 .3 1.4 .2-1.4 .3-1.6 .3-7 .2-10.3 .3-24.7 .3 21.8 .2 15.5 .3 6 .2-.5 .3 .5 .3 2 .2-.1 .3 1.1 .3-.6 .2-.8 .3 1.4 .2-.1 .3-3 .3 1.8 .2-6.3 .3-6.8 .3-18.3 .2 2.6 .3 17.6 .3 6.2 .2 4.5 .3 .8 .2 .3 .3-.5 .3 1.1 .2-.5 .3 1 .3-.8 .2 .7 .3-.2 .3-.3 .2-4.2 .3 .5 .2-3.3 .3-7.4 .3-19 .2 9.6 .3 11.9 .3 7.3 .2 2.2 .3 1.7 .2 .5 .3 1.4 .3-1.7 .2-.3 .3-.4 .3 1.2 .2 .2 .3-.7 .3-1.2 .2 .1 .3-2.8 .2-2.6 .3-12.5 .3-9.6 .2 16.9 .3 8.6 .3 4.3 .2-2.7 .3 2.1 .3-.5 .2-.2 .3 1.1 .2-1.2 .3 .1 .3 2.2 .2 .3 .3-1.7 .3-1.9 .2-7.5 .3-10.2 .2-16.4 .3 22.9 .3 9 .2 2.6 .3 1.8 .3 .5 .2 .6 .3-.7 .3 .3 .2 .9 .3-2 .2 .8 .3 1.6 .3-2.3 .2-2 .3-4.7 .3-13.2 .2-9.5 .3 15.7 .3 9.4 .2 3 .3 .8 .2 2 .3-.8 .3-2 .2 3.1 .3 .9 .3-3.4 .2 2.1 .3-.1 .3 .9 .2-3.3 .3-.9 .2-4.4 .3-11.7 .3-4.5 .2 11.7 .3 6.8 .3 4.3 .2-1.8 .3 3.4 .2-1.9 .3-1.6 .3 3.7 .2-.8 .3-.2 .3 1 .2 0 .3-2 .3-.5 .2-.9 .3-3.9 .2-8.9 .3-9.7 .3 15.8 .2 5.3 .3 3.2 .3 .2 .2-.7 .3 .6 .3 2.1 .2 .5 .3-1 .2-3.5 .3 2.6 .3-.8 .2-3 .3 1.8 .3 .3 .2-9 .3-8 .2 6.5 .3 8.4 .3 2.6 .2-.3 .3 1.6 .3 .3 .2-2.5 .3 2 .3 1.5 .2-1.8 .3-.1 .2 1.7 .3-2.1 .3 1.3 .2-3 .3-4.1 .3-8.9 .2-1.9 .3 11.5 .3 4.2 .2 2.1 .3 .3 .2-1.5 .3 2.2 .3 .4 .2-3.7 .3 2.4 .3-1.3 .2 1.5 .3 .4 .3-1.6 .2 0 .3-2.7 .2-3.7 .3-8.9 .3 8.7 .2 3.3 .3 2.4 .3 3.9 .2-2.6 .3 1.1 .2-.4 .3 .4 .3-.2 .2-.9 .3-.1 .3 3.1 .2-3.4 .3 1.4 .3-.7 .2-2.3 .3-4.5 .2-6.9 .3 7.4 .3 5.2 .2 1.1 .3 .6 .3 .4 .2-2.9 .3 2.2 .3 3 .2-2.8 .3 .4 .2-.2 .3-.5 .3 1.1 .2-.2 .3-4 .3-1.8 .2-7.4 .3 3 .2 5.1 .3 2.6 .3 2.5 .2-2.2 .3 3.2 .3-1.2 .2-.5 .3 1.5 .3 .3 .2-.9 .3 .8 .2 .1 .3-1.5 .3-1.1 .2-.4 .3-4.4" stroke="#800080" stroke-width="1.1"/>
<path d="M291.7 626.9l.3 10 .2-3.8 .3-28.2 .3-10.6 .2 31.7 .3 11.9 .2-28.6 .3-4.9 .3 20.7 .2-29.2 .3-3.2 .3 38.2 .2-27.9 .3 7.3 .3-.7 .2-20.2 .3 25.5 .2-14.9 .3 34.7 .3-24.4 .2 9.6 .3 15.5 .3-23.6 .2 6 .3 15.2 .2 5.7 .3-24.3 .3-10.5 .2 17.4 .3 11 .3-15 .2-3.9 .3-13 .3-1.6 .2 7.6 .3 17.5 .2 10.7 .3 6.8 .3-5.6 .2-24.1 .3 22.1 .3-20.3 .2 15.6 .3-13.9 .3 10.8 .2 10.6 .3-6.1 .2-3.6 .3-5.7 .3-11.8 .2 2.9 .3 17.8 .3 9.7 .2-.5 .3 6.2 .2-10.4 .3-10.8 .3 2.8 .2-10.3 .3 1.3 .3 8.2 .2 21.5 .3-31.2 .3 24.4 .2-9.3 .3-9.7 .2-10.3 .3-21.8 .3 16.9 .2 18.1 .3 13 .3 1.6 .2-13.5 .3-.7 .3 15.4 .2-13.4 .3 10 .2 5.7 .3-2.6 .3 6 .2-7.5 .3-13.7 .3 0 .2 8.3 .3-8.3 .3-15.5 .2 10.5 .3 10 .2 14 .3 2.6 .3-14 .2 .7 .3-3.1 .3 3.4 .2 3.6 .3-1.1 .2 5.6 .3 3.6 .3-4.9 .2-3.1 .3 4.9 .3 2 .2-10.9 .3-8 .3-9.1 .2 18.2 .3 4.2 .2-1.7 .3 12.8 .3-7.1 .2 4.8 .3-1.2 .3 7.3 .2 .3 .3-10.1 .3 12.3 .2-8.7 .3-.7 .2 2.4 .3-3.2 .3-6.1 .2-14.2 .3-7.9 .3 20.9 .2 7.3 .3 7.2 .2 1.1 .3 1.8 .3 2.5 .2-8.2 .3 5.3 .3 5.7 .2-1.5 .3-4.7 .3 2.9 .2 .5 .3-8.7 .2 .6 .3-17.3 .3-2 .2 18.1 .3 9.1 .3 2.7 .2 .4 .3 1.2 .3-5.9 .2 6.1 .3-.7 .2-3.8 .3 1.2 .3 1.2 .2-2.4 .3-1 .3-.1 .2-13.8 .3-23.8 .3 15.8 .2 20.9 .3 .7 .2 8.1 .3-1.5 .3 1.9 .2-.3 .3-1.8 .3 .4 .2 1.2 .3 .9 .2 1 .3-1.7 .3-.4 .2-2.4 .3-3 .3-7.3 .2-21.3 .3 12.8 .3 14.3 .2 4.1 .3 2.3 .2 2.1 .3-1.8 .3 2.3 .2 .1 .3 .4 .3 1.4 .2-2.8 .3 2.6 .3-1.1 .2-1.2 .3-1.5 .2-.8 .3-5.2 .3-13 .2-23.9 .3 16.4 .3 15.4 .2 9.8 .3 1.6 .2 3.7 .3 1.3 .3-.6 .2 .2 .3-1.9 .3 1.1 .2 .1 .3 .6 .3-2.5 .2 .9 .3-1.5 .2-5.5 .3-11.6 .3-21.2 .2 24.7 .3 10.2 .3 5.2 .2-.3 .3 1.2 .3 1.7 .2-.5 .3 .8 .2-1.9 .3-.6 .3 1.6 .2-.3 .3-2.9 .3 0 .2-5.9 .3-15.9 .2 .9 .3 16.9 .3 4 .2 1.6 .3 1.9 .3 2.1 .2-2.8 .3 2.9 .3-1.6 .2 .1 .3 1.1 .2-.8 .3-2.4 .3 2.1 .2-3.9 .3-10.6 .3-19.5 .2-.2 .3 20.3 .3 11.1 .2 5.9 .3-2.4 .2-.2 .3 1.1 .3 1.2 .2-3.4 .3 2 .3 2.1 .2-2.1 .3-.8 .3-.5 .2 .5 .3-3.7 .2-7.2 .3-17.7 .3-6.9 .2 20.8 .3 10 .3 4.7 .2 .5 .3 2 .2-1.6 .3-.5 .3 2.3 .2-1.5 .3 .4 .3-.7 .2-1.9 .3 2 .3-.2 .2-3.2 .3-11.1 .2-21.3 .3 12 .3 15.1 .2 6.5 .3 3.3 .3-1 .2-1.2 .3 2.6 .3 .6 .2-1 .3 .6 .2 1.4 .3-.8 .3-2.6 .2 1.7 .3-5.3 .3-10.2 .2-24.6 .3 2.9 .2 20.9 .3 10.1 .3 5 .2 3.1 .3-.5 .3-2 .2 1.5 .3 2.2 .3-1.2 .2-.7 .3-.3 .2 .1 .3 .1 .3-2.6 .2 .4 .3-6.7 .3-11.9 .2-24 .3 19.6 .3 14.6 .2 8.5 .3-1.7 .2 4.7 .3 0 .3-.1 .2 1.2 .3-1.1 .3-.9 .2 .9 .3-.7 .3 .6 .2 2.6 .3-3.5 .2-2.3 .3-5.2 .3-16.7 .2-9.7 .3 19.3 .3 12.3 .2 4.7 .3-1.5 .2 .1 .3 2.8 .3-1.4 .2 .3 .3 .6 .3-3.4 .2 3.2 .3-.5 .3 .6 .2-2 .3-6.8 .2-15.6 .3-19.7 .3 27.7 .2 8.6 .3 7 .3-.4 .2 .1 .3 2.5 .3-.6 .2-1.5 .3 .5 .2-1.9 .3 3.9 .3-.3 .2-2.9 .3-.1 .3-2.8 .2-6.5 .3-18.1 .2 12.9 .3 8.9 .3 6.5 .2-.3 .3 .3 .3 4.8 .2-2.5 .3-2.5 .3 1.8 .2-.1 .3 .9 .2 .1 .3-.1 .3-.3 .2-4.2 .3-6 .3-10.5 .2-5.5 .3 12.8 .3 11.3 .2-.4 .3 1 .2 .5 .3-1 .3 .5 .2 2.6 .3 1.8 .3-1.8 .2 .1 .3-2 .3-.3 .2 .7 .3-3.4 .2-10.2 .3-16.9 .3 19.8 .2 5.9 .3 4.1 .3-.5 .2 .8 .3 1.9 .2 1.3 .3-1.7 .3 .8 .2-.3 .3 .4 .3-.4 .2-.6 .3-1.7 .3-3.3 .2-9.4 .3-17.1 .2 14.9 .3 9.9 .3 5.3 .2-.1 .3 3.3 .3-.2 .2-.1 .3 1.3 .3-.7 .2 .4 .3-1.9 .2 .7 .3 .2 .3 1.8 .2-4.7 .3-1 .3-8.1 .2-9 .3 10 .2 6.6 .3 1.9 .3 1.9 .2-.9 .3 2.7 .3-.1 .2 1.3 .3-.7 .3-.9 .2 1 .3 .3 .2-3.4 .3 2.8 .3-3.2 .2 1.5 .3-8.1 .3-6.2 .2 1.5 .3 8.9 .3 2.5 .2 1.9 .3-.1 .2 .3 .3 1.8 .3-.9 .2 2.5 .3-2.2 .3 .9 .2-1.1 .3 1.4 .3 .9 .2-3.5 .3-3.3 .2-7.6 .3-13.8 .3 13.1 .2 8.4 .3 3.3 .3-.5 .2 5.2 .3-2.1 .2-.2 .3-.7 .3 .6 .2-1 .3-.9 .3 1.8 .2 .2 .3-1.8 .3-3.4 .2-4.2 .3-10.9 .2 6.3 .3 7.2 .3 1.9 .2 5.9 .3-1.3 .3 2 .2-1.6 .3-.6 .3 .5 .2 .2 .3 .5 .2-1.5 .3 .4 .3-1 .2-1.2 .3-2.9 .3-5.9 .2-4 .3 8.5 .2 3.5 .3 1.5 .3-1.4 .2 6.3 .3-1 .3-1 .2 1.2 .3-1.6 .3 1.9 .2-.1 .3-.9 .2-2.8 .3 2.4 .3-4.1 .2-6.3 .3-6.2 .3 8.8 .2 5.1 .3 2.4 .3-.1 .2 1.2 .3 .6 .2-1.1 .3-2 .3 2.5 .2-1 .3 1.2 .3-.1 .2-.3 .3 .7 .2-3.4 .3-3.9 .3-10.1 .2 10.7 .3 3.6 .3 .2 .2 3.1 .3 .1 .3-1.1 .2 .7 .3 .1 .2-1 .3 .7 .3 2.1 .2-3.6 .3 .6 .3 0 .2-.4 .3-2.8 .3-2.8 .2-8 .3 6.7 .2 5.8 .3 1.8 .3-.1 .2 .3 .3 .9 .3 .7 .2-1.2 .3 .8 .3-.4 .2 1 .3 .1 .2-1.5 .3 .7 .3-3.5 .2 1.6 .3-3.3 .3-4 .2-6 .3 8.6 .2 4.4 .3-2.1 .3 4.9 .2-.8 .3-.1 .3 1.6 .2-1.3 .3-.9 .3-.4 .2 1.7 .3 1 .2-1.7 .3-3.5 .3 1.7 .2-2.4 .3-4 .3-4.9 .2 5.4 .3 3 .3 4.1 .2 0 .3 1.2 .2-.2 .3-1 .3 0 .2 .1 .3 1.7 .3-.1 .2-1 .3-2 .2 2.3 .3-4.5 .3-2.6 .2-10.9 .3 6.5 .3 6.2 .2 3.8 .3 .8 .3 1.7 .2-1.2 .3 .4 .2-.4 .3 .9 .3-.3 .2 0 .3 .1 .3-1.2 .2-1.1 .3-.8 .3-4.5 .2-8.2 .3 6.1 .2 5.5 .3 3.1 .3-.1 .2-.5 .3 .3 .3 1.2 .2 1.1 .3-1.8 .3 1.2 .2-2.5 .3 3.3 .2 .5 .3-1.8 .3-3 .2-2.6 .3-5 .3 6.4 .2 2.2 .3 1.1 .2 .2 .3 3.2 .3-2.8 .2 3.1 .3-3.4 .3 2.4 .2-.7 .3 .2 .3-2 .2 .9 .3-1.7 .2-2.4 .3-1.9 .3-6.7 .2 5.1 .3 6.7 .3 .8 .2 .5 .3 .4 .3 .3 .2-.8 .3-2.3 .2 1.9 .3 .9 .3 .5 .2-.8 .3-.1 .3-1.1 .2-1.5 .3-2.3 .2-3.9 .3-2.4 .3 5.5 .2 4 .3 .5 .3-.7 .2 2 .3 .4 .3 1.6 .2-1.2 .3-1.1 .2 1.7 .3-2 .3 .2 .2-2 .3 .3" stroke="#008080" stroke-width="1.1"/>
<path d="M291.7 618.9l.3 20.5 .2-40.8 .3 1 .3 9 .2 25 .3-.7 .2 3 .3-10.9 .3-.2 .2-4 .3 15.8 .3-30.3 .2 8.5 .3-31.6 .3 11.8 .2 20 .3 20.6 .2 4.1 .3-16.6 .3 5 .2 .4 .3-5.3 .3-8.9 .2-4.2 .3 30.1 .2 3.1 .3-27.3 .3 1.8 .2-2 .3-12.2 .3-10.2 .2 29 .3-3.7 .3-4.7 .2 12.3 .3 5.6 .2 5.5 .3 7 .3-8.6 .2-6.4 .3 .4 .3-12.5 .2 24.1 .3-.3 .3-3.1 .2-17.3 .3 7.9 .2-28.2 .3 7.5 .3 6.5 .2 2.1 .3 16.3 .3-2.8 .2 12.9 .3-1.1 .2 1.3 .3-3.9 .3-17.8 .2 8.8 .3 .8 .3 11.2 .2-8.4 .3-8.5 .3 15.8 .2-19.1 .3-2.1 .2-23.8 .3 15.9 .3 18.7 .2-1.7 .3 8.3 .3-2.6 .2-6.9 .3 17.3 .3-17.5 .2 18.4 .3-2.7 .2-7.8 .3 9.2 .3-5.7 .2-8.9 .3 1.8 .3 3.2 .2-24.8 .3-11 .3 26.9 .2 2.7 .3 7.2 .2 4.8 .3-7.2 .3 5.8 .2 9 .3 2.4 .3-.1 .2-7.4 .3 .9 .2 4 .3-3.4 .3 .1 .2-12.1 .3-10.4 .3-4.9 .2 13.5 .3 12.4 .3 8.4 .2-6.9 .3 2.1 .2-4.7 .3 4.8 .3 .1 .2 6.2 .3-9.4 .3 6.2 .2 .3 .3 2.9 .3-3.6 .2-2 .3-11.6 .2-17.9 .3 14.1 .3 10.3 .2 9.2 .3 3.2 .3-4.9 .2 4.7 .3-2 .2 2.8 .3-3.7 .3 5.2 .2-3.8 .3 .4 .3 1.8 .2-3.1 .3-.6 .3-4.5 .2-13 .3-15.4 .2 22.3 .3 9.8 .3 7.5 .2-1 .3-.9 .3 .8 .2 3.6 .3 1.6 .3-4.9 .2 2.7 .3 .4 .2-.6 .3-.2 .3-.3 .2-2.1 .3-9.9 .3-20.7 .2 13.5 .3 15.6 .3 2.3 .2 1.3 .3 2.1 .2 0 .3 2.7 .3-1 .2-.6 .3 .8 .3 1.8 .2-.7 .3-.7 .2-.5 .3-2.8 .3-4.8 .2-17 .3-11.5 .3 19.6 .2 12.1 .3 5.7 .3 .4 .2-.8 .3-.1 .2 1.7 .3-.5 .3 1 .2 1.5 .3-2.6 .3 3.1 .2-1.7 .3-3.5 .3-3.3 .2-12.5 .3-27.4 .2 28.6 .3 13.1 .3 3.4 .2 3.7 .3-.8 .3-.7 .2 .4 .3 1.8 .2 1 .3-2.8 .3-1.5 .2 1.9 .3 2.1 .3-3.3 .2-3.6 .3-10.8 .3-24.6 .2 20.6 .3 13 .2 3.9 .3 2 .3 0 .2 1.7 .3 1.6 .3-1 .2 0 .3 1.2 .3-2.2 .2-1.5 .3 3.7 .2-2.2 .3-4.2 .3-5.7 .2-15 .3-6.6 .3 18.5 .2 8.1 .3 4.2 .2 1.4 .3 1.9 .3-1.7 .2 1 .3-.5 .3-.7 .2 1.3 .3-.5 .3 .7 .2-.1 .3-2.9 .2-2.8 .3-9.6 .3-18.2 .2 12.1 .3 13.4 .3 3.9 .2 3.9 .3 .4 .3 1.1 .2-.3 .3 .2 .2 1 .3-.7 .3-.5 .2 1.1 .3-1.5 .3-1.2 .2 1 .3-4.8 .3-9.2 .2-19 .3 9.3 .2 13.3 .3 7.5 .3 2.6 .2 .9 .3 1.3 .3-.1 .2 1 .3 .4 .2-1.3 .3 .1 .3 .6 .2-2 .3 1.1 .3-.1 .2-5.4 .3-2.4 .3-12.1 .2-15.4 .3 17.9 .2 12.5 .3 3.9 .3 .8 .2 2.5 .3-1.3 .3-.1 .2-1 .3-1 .3 3.2 .2-1.4 .3-.7 .2 1.6 .3-1.7 .3-.9 .2-6.3 .3-12 .3-23.2 .2 24.9 .3 10.5 .2 6.9 .3 1.2 .3 1 .2-.8 .3-.1 .3 1.1 .2 .3 .3 1 .3-.7 .2 .2 .3-2.1 .2-2.1 .3-5 .3-13.3 .2-17.1 .3 24.7 .3 10.1 .2 3.5 .3-.8 .3 3.7 .2-3.7 .3 1 .2-.2 .3 1.4 .3 1 .2-1.5 .3 1.9 .3-2.8 .2-.4 .3-5.7 .3-17.2 .2-8.4 .3 18.3 .2 9.1 .3 1.8 .3 2.9 .2 .4 .3-.9 .3 2.4 .2-.8 .3-.6 .2 .3 .3 .1 .3-.3 .2 1.4 .3-2 .3-5.6 .2-8.4 .3-17.9 .3 9.8 .2 12.8 .3 8.8 .2-2.3 .3 3.6 .3 1.1 .2 .7 .3-1 .3-.9 .2 .4 .3-2.1 .3 2.1 .2-2.1 .3 3.2 .2-3.1 .3-3.4 .3-12.2 .2-22.6 .3 18 .3 13.8 .2 4.5 .3 3.6 .2 .2 .3 1 .3 1.3 .2-.9 .3 .4 .3-.3 .2-2.8 .3 1.8 .3-.7 .2-2.4 .3 .9 .2-3.4 .3-10.4 .3-19.8 .2-8.9 .3 24 .3 12.7 .2 8 .3-.6 .3-.5 .2 3.3 .3 1.6 .2-3.7 .3-.4 .3 1.6 .2-1.3 .3-1.2 .3 .8 .2-2 .3-3.3 .3-4.8 .2-18.5 .3-13 .2 26.4 .3 8.7 .3 5.6 .2-.8 .3 1.9 .3-1.9 .2 1.6 .3-.2 .2 .1 .3 .1 .3 .7 .2-1.5 .3-1.5 .3-5.1 .2-4 .3-16.8 .3-9.5 .2 24.1 .3 8 .2 1.5 .3 4.1 .3 1.3 .2-.8 .3-1 .3-.5 .2 1.1 .3 .1 .3 2.2 .2-1.7 .3-3.4 .2-2.1 .3-10 .3-19 .2 1.3 .3 20.2 .3 7.8 .2 1.6 .3 .6 .2 .5 .3 1 .3 1.5 .2-.6 .3-.8 .3-.3 .2 0 .3 .8 .3 0 .2-4.4 .3-4.5 .2-17.9 .3-20.4 .3 27.9 .2 11.1 .3 6.1 .3 3.1 .2-.2 .3 1.4 .3-2.1 .2 2.9 .3-1.1 .2 1.4 .3-1.7 .3-.8 .2-.8 .3-2.8 .3-3.8 .2-11.6 .3-26.8 .3 14.4 .2 18.7 .3 8.4 .2 2.5 .3 2.6 .3-.8 .2-.2 .3 1.3 .3 1.6 .2-2.9 .3-.3 .2 1.9 .3-1.6 .3 1.6 .2-5.2 .3-6 .3-13.1 .2-26.1 .3 27.1 .3 10.7 .2 9 .3 3 .2 .9 .3-2 .3 .5 .2 1.9 .3-.4 .3-1.5 .2 1.1 .3 .4 .3-1.7 .2 2.4 .3-4.4 .2-.7 .3-11.2 .3-20.1 .2-2.5 .3 20.8 .3 8.5 .2 4.8 .3 2.6 .2-1.3 .3 2.8 .3 .9 .2-2.2 .3-.5 .3 .8 .2 .8 .3 .1 .3 1.6 .2-2.1 .3-1.4 .2-2.4 .3-10.3 .3-17.4 .2-4.3 .3 18.5 .3 11.5 .2 4.3 .3 1 .3-.7 .2 2.3 .3-.3 .2 .1 .3 .6 .3-.6 .2-1.4 .3 1.5 .3-.1 .2-1.1 .3-2.9 .2-4.7 .3-17.4 .3-7.4 .2 19.8 .3 9 .3 3.7 .2 2 .3 .6 .3-2.4 .2 .2 .3 2.3 .2-.4 .3-.9 .3 1 .2-2.7 .3-.2 .3-1.2 .2-9.3 .3-19 .3 6.3 .2 15 .3 7 .2 .1 .3 4 .3-1.5 .2 .4 .3-1.4 .3 .8 .2 .3 .3-.7 .3 1.7 .2-3.3 .3-.1 .2-6.7 .3-18.2 .3-7.6 .2 21.3 .3 9.6 .3 3.3 .2-.3 .3 .8 .2 1.9 .3-1.4 .3 .7 .2-.1 .3 1.5 .3-.9 .2-1.7 .3-1.8 .3-2 .2-7.1 .3-14.4 .2-1.5 .3 16.6 .3 6.6 .2 3.5 .3-.3 .3 1.7 .2-.3 .3-1.3 .3 .7 .2-.8 .3 1.6 .2-1.8 .3 2.2 .3-.2 .2-2.4 .3-2.8 .3-10.2 .2-22.5 .3 10.3 .2 17.2 .3 5.7 .3 .9 .2 .7 .3 3.2 .3 0 .2 .2 .3 1 .3-2.1 .2-1.3 .3 2.5 .2-.8 .3-1.4 .3 .4 .2-4.9 .3-6.9 .3-15.8 .2 13.7 .3 7.2 .3 6.2 .2 .3 .3-.2 .2 2.9 .3-.4 .3-1 .2-.6 .3 2.3 .3-2.2 .2-1.1 .3-.2 .3-1.3 .2 2.6 .3-7.6 .2-6 .3-8.9 .3 11.5 .2 8.7 .3 0 .3 2.6 .2 .4 .3 1.3 .2-.5 .3-1 .3 .7 .2-.4 .3 2 .3-3.9 .2 .6 .3 .3 .3-2.2 .2-4.3 .3-9.2 .2 1.9 .3 5.6 .3 8 .2-.4 .3 2.5 .3-1.8 .2-.9 .3 1.3 .3 2.2 .2-1.7 .3 .6 .2 1.5 .3-2.9 .3-.1 .2 .6 .3-5 .3-4.3 .2-10.2 .3 11.7 .2 5.5 .3 .2 .3 .7 .2 2.3 .3 .2 .3-.5 .2 1.3 .3-3.1 .3 2.6 .2-1.4 .3 .8 .2-1.1 .3 .3 .3-2.1 .2-4.3 .3-9.8" stroke="#800000" stroke-width="1.1"/>
<path d="M291.7 633l.3-2.3 .2 7.1 .3-8.9 .3 1 .2 8.7 .3-5.9 .2-1.2 .3-1.5 .3 12 .2-7.1 .3-4.7 .3 8.5 .2-15.7 .3-9.3 .3-32.4 .2 31.4 .3 13.3 .2 9.2 .3 .8 .3-2.8 .2 0 .3-.3 .3 8.9 .2-10.2 .3 3.6 .2-3.1 .3 9.4 .3-10.7 .2 3.8 .3-5.9 .3 4.4 .2-10.3 .3-24.7 .3 10.1 .2 21.5 .3-.9 .2 9.6 .3 5.5 .3-11.1 .2 3.6 .3 2.3 .3-6.3 .2 3.6 .3-1.3 .3 7.3 .2-8.2 .3 11.5 .2-4.6 .3-4.1 .3-21.9 .2-25.5 .3 23.8 .3 15.4 .2 5.9 .3 9.5 .2 .9 .3-6 .3-1.1 .2 4.9 .3-3.6 .3 4.9 .2-6.2 .3 10.1 .3-13.5 .2 6 .3 .2 .2-15.6 .3-40.1 .3 9.2 .2 27 .3 19.2 .3 1.4 .2-.1 .3 7.7 .3-.4 .2-5.7 .3 2.1 .2-.3 .3 .7 .3 .9 .2-1.7 .3-2.1 .3 4.7 .2-11.6 .3-16.1 .3-31 .2 29.1 .3 18.6 .2 5.2 .3 3.9 .3 .5 .2 4.2 .3-3.5 .3 2.3 .2-1.6 .3 5.3 .2-.9 .3-2.1 .3 .6 .2-.8 .3-1.8 .3-4.4 .2-9.8 .3-25.8 .3 24.4 .2 12.2 .3 3.1 .2 4.6 .3 1.9 .3 .3 .2-3.8 .3 3.7 .3 2.4 .2-2.1 .3 1.8 .3-1.5 .2-2.9 .3 3.9 .2-6.3 .3-10.8 .3-25.2 .2 19.5 .3 14.5 .3 7.7 .2-1.6 .3 1.3 .2 1.2 .3 1.2 .3-.1 .2 2.8 .3-1.6 .3-2.8 .2 2 .3-.5 .3 .7 .2-5.6 .3-15.3 .2-23.2 .3 24.7 .3 16.6 .2 3.7 .3 1.8 .3 1.2 .2 .6 .3-.9 .3-.6 .2 .2 .3-.7 .2 3.7 .3-3.2 .3 1.5 .2 .6 .3-3.1 .3-9.1 .2-15.6 .3 1.1 .3 16.5 .2 7.7 .3 1.9 .2 .5 .3 3.5 .3-2.9 .2 .4 .3 2 .3-.4 .2 2.2 .3 0 .2-2 .3 2 .3-3.6 .2-4.6 .3-6.7 .3-20.7 .2-1 .3 18.5 .3 12.6 .2 1.7 .3 1.2 .2 .7 .3 2.8 .3-1 .2 .4 .3 1.5 .3-.3 .2-1 .3-2.5 .3-.6 .2-2.1 .3-6 .2-19.7 .3-15.1 .3 30.2 .2 8.5 .3 4.4 .3 4.1 .2-.3 .3 .9 .2-.6 .3-.9 .3 1.8 .2 .2 .3-1.1 .3 .8 .2-1.6 .3-2 .3-9.4 .2-25.9 .3-9.8 .2 30.4 .3 11.9 .3 4 .2 1.6 .3-.8 .3 2.6 .2 .3 .3 .8 .3-2 .2 1.3 .3 .6 .2-3.3 .3-1 .3 1.2 .2-8.9 .3-16.3 .3-5.8 .2 21.5 .3 8.1 .2 1.8 .3 2 .3-.3 .2 3.3 .3-.9 .3-.5 .2-1.4 .3 1.7 .3-.8 .2 .5 .3-2 .2-1.9 .3-7.4 .3-19.2 .2-13.6 .3 25.9 .3 9.3 .2 7.1 .3 .3 .3-.4 .2 2.5 .3-2.9 .2 3.1 .3-.1 .3 1.8 .2-3.5 .3-2 .3 3.8 .2-2.7 .3-4.4 .3-18.2 .2-20 .3 25.7 .2 11.1 .3 5.4 .3 2.8 .2 .7 .3-.6 .3 .4 .2 .3 .3 .6 .2-1.4 .3-1.7 .3 1 .2 .1 .3-.1 .3-3.2 .2-6.2 .3-16.5 .3-11.5 .2 22.8 .3 9.7 .2 4.8 .3 1.2 .3 1.1 .2 1.2 .3-1.9 .3 .4 .2 1.5 .3-.5 .3-.4 .2 .3 .3 1.4 .2-3 .3-1.2 .3-7.8 .2-9.1 .3-25.4 .3 5 .2 23 .3 10.3 .2 2.4 .3 2.2 .3 3.2 .2 1.4 .3-3.4 .3 .9 .2 1 .3-.6 .3-.2 .2 .3 .3-1.1 .2-2.1 .3-2.8 .3-7.3 .2-15.8 .3-3.3 .3 21.2 .2 8 .3 2.8 .3 1.5 .2 0 .3-.1 .2 1.7 .3-1.5 .3 .9 .2-.3 .3-1.1 .3-.2 .2-1.6 .3-2.8 .3-7.5 .2-23 .3 9 .2 17.7 .3 6.6 .3 1.6 .2-.1 .3 3.1 .3-.5 .2-2 .3-.1 .2 1.8 .3-.4 .3 .1 .2-2.2 .3-1.7 .3-3.7 .2-12.9 .3-25 .3 25.2 .2 9.6 .3 8 .2 1.3 .3 .5 .3 2.1 .2-2.3 .3 .6 .3 2.2 .2-.4 .3-1 .3-.6 .2 0 .3-1 .2-2.3 .3-4.2 .3-16.1 .2-14 .3 20.4 .3 12.8 .2 4.2 .3 .6 .2 0 .3 1.7 .3-1.5 .2 1.6 .3-.7 .3-.3 .2 2.6 .3-3.1 .3 1.4 .2-1.5 .3-2.4 .2-5.3 .3-13.9 .3-5.7 .2 15.7 .3 8.4 .3 4 .2 .2 .3 3 .3-2.6 .2 1.5 .3-1.7 .2 3.4 .3-3.3 .3 1.8 .2-1 .3-.3 .3-1.5 .2-3.3 .3-9.7 .3-20.2 .2 21.3 .3 9 .2 2.3 .3 2.4 .3-1.3 .2 3 .3-.7 .3-.3 .2 .2 .3 .8 .2-.8 .3-.9 .3 1.5 .2-3.4 .3-2.3 .3-8 .2-14.8 .3 14.7 .3 5.7 .2 5.5 .3 2.6 .2 1.4 .3-1.5 .3 2.1 .2-1.8 .3 .3 .3 .1 .2 .1 .3 .6 .3-1.1 .2-.6 .3-3.7 .2-4.4 .3-12.9 .3-2 .2 13.6 .3 7.1 .3 2.4 .2 2 .3 0 .2 1.9 .3-.8 .3-1 .2 .4 .3-1.4 .3 2.2 .2-2.1 .3-.3 .3-3.4 .2-1.6 .3-5.6 .2-12.9 .3 14.2 .3 6 .2 2 .3 1.5 .3-.5 .2 .2 .3 2.5 .3-1.6 .2 1.9 .3 .1 .2 .5 .3 0 .3-2.3 .2-1.4 .3 1.4 .3-3.2 .2-10.6 .3-3.4 .3 9.1 .2 6.5 .3 1.1 .2 1.8 .3-2 .3 1.3 .2 1.3 .3 .8 .3 .5 .2-2.3 .3 1.8 .2-.4 .3-1.6 .3-2.7 .2 .6 .3-3.8 .3-10 .2 2.5 .3 9.5 .3 2.7 .2-.3 .3 2.7 .2-1.1 .3 2.1 .3-.8 .2-1.5 .3 2.6 .3-1 .2-1.9 .3 2.8 .3-3.5 .2-.5 .3-4.1 .2-9.4 .3 5.8 .3 6.3 .2 2.7 .3 1.4 .3 .6 .2-1 .3 1.1 .2-.6 .3 1 .3 1.2 .2-.2 .3-1.8 .3-.8 .2 .6 .3-2.9 .3-5.1 .2-18.4 .3 7.2 .2 12.4 .3 4.6 .3 2.3 .2-1.5 .3 3.4 .3-1.1 .2 1.6 .3-1.7 .3-.2 .2 2 .3-1.9 .2 1.7 .3-2.3 .3-2 .2-2.6 .3-4.7 .3-10.2 .2 9.3 .3 8.2 .2 1.5 .3-.3 .3 3 .2-.7 .3-.6 .3 .9 .2-1.8 .3 .9 .3 2.4 .2-4.6 .3 2.5 .2-.4 .3-2.2 .3-1.2 .2-13 .3 1.3 .3 9.2 .2 5.2 .3 2 .3 .5 .2-2.1 .3 2.7 .2-.3 .3-.3 .3-1.3 .2 1.2 .3-.7 .3-1.3 .2-1.3 .3-.1 .3-5.2 .2-8.6 .3 9.9 .2 3.6 .3 2.4 .3 .3 .2-.1 .3 2 .3-.4 .2-1.3 .3 .8 .2-.2 .3 .4 .3-.9 .2-.7 .3-.9 .3-5.4 .2-4.4 .3-4.9 .3 10.8 .2 2.9 .3 1.9 .2 0 .3 .4 .3-.1 .2 1.5 .3 1.2 .3-2.3 .2 .5 .3-.7 .3 1.8 .2-2.3 .3 1.6 .2-1.4 .3-3.4 .3-5.5 .2-8.2 .3 11.4 .3 2.5 .2 3.2 .3 .1 .2 2.7 .3-2.6 .3-.8 .2 1.7 .3 0 .3 .7 .2 .2 .3-1.1 .3-1.2 .2 1.8 .3-3.4 .2-1.5 .3-5.9 .3-6.1 .2 10.7 .3 2.3 .3 4.3 .2-1.3 .3-1.9 .3 4.1 .2-.2 .3 .3 .2 .2 .3-2.5 .3-.1 .2 1.1 .3-1.8 .3-.9 .2-3.3 .3-4.7 .3-10.6 .2 11.4 .3 6.8 .2 1.1 .3 2 .3 .5 .2-1.7 .3 2.1 .3 .8 .2 0 .3 1 .2-2.3 .3 1.8 .3-1.8 .2 .9 .3-2.7 .3-5.6 .2-5.6 .3 3.6 .3 3.5 .2 4.9 .3-1.3 .2 1.5 .3 1.6 .3-.1 .2-2.1 .3 .8 .3 2.2 .2-2 .3-.8 .3 .2 .2 1.2 .3-3.9 .2-4.5 .3-8.6 .3 8 .2 4.3 .3 5.5 .3-1.7 .2 1.4 .3 1.6 .2-4.1 .3 2.5 .3-.9 .2 1.7 .3-.5 .3-.5 .2-2.2 .3 2.2 .3-2.6 .2-4.4 .3-9.5 .2 8.2 .3 4.9 .3 1.8 .2 1.8 .3-1.7" stroke="#000080" stroke-width="1.1"/>
<path d="M291.7 607.3l.3 12.9 .2 16.6 .3 1.1 .3-4.5 .2-8 .3 8.9 .2 7.3 .3-13.5 .3-1.4 .2 12.8 .3-12.2 .3 1.4 .2-1.1 .3 7 .3-18.5 .2-20.9 .3 11.5 .2 23.4 .3 2 .3-.2 .2-1.4 .3 11.1 .3-8.8 .2 9.2 .3-1 .2-9.3 .3 7.7 .3-7.1 .2 7.4 .3-11.4 .3 3.8 .2-12.2 .3-27.9 .3-9.5 .2 32.2 .3 14.7 .2 8.3 .3 3.9 .3-3.3 .2-.2 .3-2.2 .3 7.1 .2 1.3 .3-3 .3-3.3 .2 5.3 .3-1.4 .2-9.7 .3-3 .3-15.9 .2-6.7 .3 17.5 .3 10.4 .2 1.4 .3-.5 .2 .2 .3 7.1 .3-.3 .2-4.3 .3 4.6 .3-3.1 .2 .5 .3 .2 .3-1.5 .2-4.9 .3-9 .2-23.8 .3-13.8 .3 34.2 .2 8.1 .3 10.9 .3 5.7 .2-4.5 .3 4.9 .3 2.5 .2-4.2 .3-3.6 .2 1.5 .3 2.7 .3 1.6 .2-6.2 .3 1.7 .3 .4 .2-8.4 .3-20.7 .3-11.7 .2 21.3 .3 17.7 .2-.3 .3 5.6 .3 1.6 .2-2.4 .3 1.6 .3 2.6 .2-2.7 .3 1.4 .2 1.7 .3 0 .3 1.4 .2-3.6 .3-3.8 .3-8.4 .2-24.5 .3-2.4 .3 23.4 .2 13.7 .3 7 .2-.3 .3-3.7 .3 5.5 .2-4.3 .3 4 .3-4.5 .2 3.2 .3-.2 .3 1.3 .2-3.1 .3 1.7 .2-4.5 .3-12.7 .3-26.3 .2 22.3 .3 14.5 .3 9.4 .2 .5 .3 .9 .2 1.3 .3-1.8 .3 2 .2-1.9 .3 .5 .3 1 .2-1.8 .3 1.2 .3-.6 .2-6.2 .3-11 .2-31.1 .3 2.7 .3 29.2 .2 13 .3 2.9 .3 2.2 .2 3 .3-1.1 .3 .5 .2 .6 .3-1.4 .2 .9 .3-.2 .3 .5 .2-.5 .3-5.7 .3-5.6 .2-19.6 .3 4.2 .3 19.2 .2 8.3 .3 1.5 .2-.3 .3-.5 .3 1.7 .2 0 .3-1.2 .3 2.5 .2 .1 .3-.9 .2-.4 .3-.5 .3-.4 .2-8.3 .3-17.4 .3-15.4 .2 23.9 .3 13.9 .3 3.6 .2 1 .3-1.1 .2 1.8 .3-.2 .3 1.5 .2-.1 .3 .8 .3 .1 .2-2.2 .3 2 .3-.1 .2-1.1 .3-7 .2-9 .3-27.7 .3 13 .2 19.9 .3 8 .3 3.3 .2 .6 .3 1.5 .2 1 .3 2 .3-.4 .2-2 .3-.1 .3 .3 .2-2.2 .3 .3 .3-1.2 .2-6.4 .3-15.9 .2-7.9 .3 20.6 .3 9.3 .2 1 .3 2.4 .3 1.1 .2-1.7 .3 1.2 .3-1 .2-.2 .3 1.3 .2-1.1 .3-1.1 .3-3.8 .2-1.9 .3-13.5 .3-32.6 .2 33 .3 14.1 .2 4.4 .3 3.2 .3-1.7 .2 1.3 .3-.2 .3 1.5 .2-1.2 .3 .1 .3-1.2 .2 .1 .3 1.3 .2-1.7 .3-5 .3-11 .2-29.8 .3 28.5 .3 13.3 .2 2.8 .3 1.5 .3 2.4 .2-1.4 .3 .4 .2 .6 .3 .8 .3 1.8 .2-2.1 .3 .7 .3-1.5 .2-2.2 .3-1.8 .3-8.6 .2-22.6 .3-20.6 .2 28.5 .3 18.8 .3 6.8 .2 3.4 .3-.1 .3-1.4 .2 1 .3 .8 .2 .2 .3 .6 .3-1.6 .2 .6 .3 .9 .3-.1 .2-2.4 .3-6.4 .3-13.2 .2-16.9 .3 22.3 .2 11.4 .3 1.9 .3 .7 .2 3.4 .3 .2 .3-.3 .2 .6 .3-1.9 .3 2 .2-.1 .3-2 .2 .8 .3-1.3 .3-5.1 .2-11 .3-23.4 .3 18.6 .2 11.8 .3 9.1 .2 .4 .3 1.8 .3-.1 .2-.5 .3 1.8 .3 .8 .2-2.8 .3 1.7 .3-.5 .2-1.7 .3 1 .2-4.1 .3-9.4 .3-19.8 .2-2.7 .3 22.4 .3 9.6 .2 2.8 .3 1.8 .3 2.8 .2-1.5 .3 .8 .2-1.8 .3-.6 .3 2.8 .2-3 .3 .2 .3 .5 .2 1.6 .3-3 .3-8.1 .2-19.4 .3-12.4 .2 23.2 .3 13 .3 4.2 .2 2 .3-.1 .3 .7 .2-.2 .3-.2 .2 1.4 .3 .3 .3-.8 .2-.9 .3-.3 .3-1.7 .2-5 .3-9.8 .3-26.6 .2 20 .3 14.5 .2 8.7 .3 .1 .3 .6 .2 .9 .3-1.2 .3 .2 .2 2.3 .3-1.6 .3-.2 .2 1.4 .3-3 .2-1.7 .3-8.9 .3-19.9 .2 3.4 .3 17.9 .3 8.4 .2 2 .3 1.1 .2-.1 .3 2.4 .3-1.4 .2 1.5 .3-.7 .3 1.6 .2-2.5 .3 .3 .3-3 .2-1.4 .3-10 .2-20 .3 11.8 .3 14.7 .2 3.8 .3 4.1 .3-.6 .2-.5 .3-.1 .3 1.2 .2 .4 .3 1.7 .2-1.6 .3-1.2 .3 1.6 .2-.5 .3-2.2 .3-2.3 .2-5 .3-11.8 .3-2.9 .2 13.8 .3 8.6 .2-1.2 .3 2.7 .3 .9 .2-1.5 .3 1.6 .3 .8 .2-.8 .3 1 .2-1.6 .3 .4 .3-.5 .2 .7 .3-3.3 .3-4.3 .2-13.4 .3-17.2 .3 24.2 .2 9.3 .3 5 .2-1.9 .3 2.2 .3-.1 .2-2.4 .3 2.2 .3-.1 .2 2.6 .3-1.4 .3 .1 .2-2.2 .3 1.1 .2-.5 .3-7.1 .3-12.6 .2-1.2 .3 12.8 .3 5.7 .2 4.4 .3-.5 .2 1.2 .3 .5 .3-1.6 .2 1.1 .3 .2 .3-1.4 .2 .5 .3 .7 .3-.5 .2-2.8 .3-5.5 .2-13.1 .3-3 .3 14.9 .2 6 .3 2.6 .3-.3 .2 1.4 .3 .2 .3 1.8 .2-.4 .3-1.1 .2-.5 .3-.7 .3 1.7 .2-1.6 .3-1 .3-2.7 .2-3.2 .3-13.5 .3 12.1 .2 6 .3 .7 .2 1.2 .3 2.5 .3 .2 .2 .1 .3-1.5 .3 .6 .2 1.8 .3-.8 .2 2 .3-4 .3-1.5 .2-2.5 .3-8.2 .3-12.2 .2 12.2 .3 7.2 .3 6.8 .2-1.2 .3 .7 .2 .8 .3 .2 .3 .2 .2 .9 .3-.2 .3-1 .2 .2 .3-1.7 .3 .7 .2-3.3 .3-9.2 .2-13.5 .3 15.3 .3 7.5 .2 1.3 .3 1.4 .3 .3 .2 1.5 .3 .8 .2 .8 .3 .2 .3-2.4 .2 2.1 .3-.7 .3-.6 .2-3.2 .3 2.2 .3-2.9 .2-4.6 .3-9.3 .2 3 .3 10.3 .3 1.8 .2 .8 .3 1.6 .3 1.3 .2-.5 .3-1 .3 .5 .2 1.2 .3-.8 .2 1.1 .3 .4 .3-1.1 .2 2.3 .3-5.7 .3-2 .2-5.7 .3-9.2 .2 9 .3 5.8 .3 3.6 .2 1.7 .3 .9 .3-1 .2 1.4 .3 .3 .3 .5 .2-1.6 .3-.7 .2 .1 .3-2.1 .3 .5 .2-.2 .3-4.8 .3-9.5 .2 6.4 .3 8.9 .3 .6 .2 1.5 .3-.8 .2-1 .3 2.4 .3-.2 .2 0 .3-.5 .3 .9 .2-.5 .3-.9 .3-.4 .2-2.5 .3-2.3 .2-7.7 .3 2.2 .3 5 .2 3.1 .3 3.5 .3 .3 .2 .2 .3-1.6 .2 .4 .3 2.2 .3-3.2 .2 2.1 .3-1.6 .3 .7 .2-.1 .3-3.1 .3-6.3 .2-7.5 .3 1.5 .2 9.2 .3 .4 .3 4.8 .2 1 .3 0 .3 .5 .2-.1 .3 2 .3-2.1 .2 .4 .3 1 .2-.5 .3-2.9 .3 .4 .2-.7 .3-4.7 .3-11.4 .2 7.9 .3 6.8 .2 1.2 .3 2.7 .3-.2 .2 1.2 .3-.3 .3 .6 .2 1.7 .3-3.9 .3 2.1 .2 .3 .3-1.5 .2 1.1 .3-4.6 .3-2.6 .2-6.7 .3-4.5 .3 10.3 .2 4.4 .3 .5 .3 1.4 .2-.3 .3 1.8 .2-.9 .3 2.5 .3-2.2 .2 1.7 .3-2.1 .3-1.3 .2 1.2 .3-2.8 .3 0 .2-5.5 .3-10.1 .2 9.9 .3 5.5 .3 1.9 .2 .8 .3 1.6 .3 .2 .2-1.2 .3 .9 .2-.1 .3 1.4 .3-1.9 .2 .4 .3-.7 .3-1.6 .2 .1 .3-1.2 .3-1.3 .2-11.9 .3 5.6 .2 6.6 .3 2.6 .3 1.1 .2 2.1 .3-1.2 .3 .4 .2 2.3 .3-1.1 .3-.6 .2-2.3 .3 1.9 .2-1 .3-1.5 .3 .6 .2-2.9 .3-4 .3-4.3 .2 6.1 .3 4.5 .2 1.5 .3-.2 .3 .5 .2 .6 .3 .4 .3-2.6 .2 2.6 .3-1.3 .3 2.2 .2-3.5 .3 .2 .2-.5 .3-.8 .3-7.1 .2-.2 .3 4.6" stroke="#0000ff" stroke-width="1.1"/>
</g>
<text x="291.5" y="713.9" font-size="10" text-anchor="middle" fill="#4a4a4a">0</text>
<text x="475.2" y="713.9" font-size="10" text-anchor="middle" fill="#4a4a4a">2000</text>
<text x="368.2" y="722.5" font-size="10.1" text-anchor="middle" fill="#4a4a4a">Frequency (MHz)</text>
<text transform="translate(264.9 622.3) rotate(-90)" font-size="10.1" text-anchor="middle" fill="#4a4a4a">Magnitude (dB)</text>
</g>
<g id="c3">
<text x="610.4" y="534.9" font-size="15.2" font-weight="bold" text-anchor="middle" fill="#000">NEXT</text>
<rect x="533.5" y="544.6" width="177.8" height="155.0" fill="#fff" stroke="#a0a0a0" stroke-width="1.3"/>
<line x1="527.9" y1="699.7" x2="534.0" y2="699.7" stroke="#1a1a1a" stroke-width="1.8"/>
<text x="525.0" y="702.9" font-size="10" text-anchor="end" fill="#4a4a4a">0</text>
<line x1="533.5" y1="673.5" x2="711.3" y2="673.5" stroke="#3a3a3a" stroke-width="1"/>
<line x1="527.9" y1="673.9" x2="534.0" y2="673.9" stroke="#1a1a1a" stroke-width="1.8"/>
<text x="525.0" y="677.1" font-size="10" text-anchor="end" fill="#4a4a4a">20</text>
<line x1="533.5" y1="648.5" x2="711.3" y2="648.5" stroke="#3a3a3a" stroke-width="1"/>
<line x1="527.9" y1="648.0" x2="534.0" y2="648.0" stroke="#1a1a1a" stroke-width="1.8"/>
<text x="525.0" y="651.2" font-size="10" text-anchor="end" fill="#4a4a4a">40</text>
<line x1="533.5" y1="622.5" x2="711.3" y2="622.5" stroke="#3a3a3a" stroke-width="1"/>
<line x1="527.9" y1="622.2" x2="534.0" y2="622.2" stroke="#1a1a1a" stroke-width="1.8"/>
<text x="525.0" y="625.4" font-size="10" text-anchor="end" fill="#4a4a4a">60</text>
<line x1="533.5" y1="596.5" x2="711.3" y2="596.5" stroke="#3a3a3a" stroke-width="1"/>
<line x1="527.9" y1="596.4" x2="534.0" y2="596.4" stroke="#1a1a1a" stroke-width="1.8"/>
<text x="525.0" y="599.6" font-size="10" text-anchor="end" fill="#4a4a4a">80</text>
<line x1="533.5" y1="570.5" x2="711.3" y2="570.5" stroke="#3a3a3a" stroke-width="1"/>
<line x1="527.9" y1="570.5" x2="534.0" y2="570.5" stroke="#1a1a1a" stroke-width="1.8"/>
<text x="525.0" y="573.7" font-size="10" text-anchor="end" fill="#4a4a4a">100</text>
<line x1="527.9" y1="544.7" x2="534.0" y2="544.7" stroke="#1a1a1a" stroke-width="1.8"/>
<text x="525.0" y="547.9" font-size="10" text-anchor="end" fill="#4a4a4a">120</text>
<line x1="533.5" y1="544.6" x2="533.5" y2="699.6" stroke="#6a6a6a" stroke-width="1.1"/>
<clipPath id="c3c"><rect x="533.5" y="544.6" width="178.4" height="155.6"/></clipPath>
<g clip-path="url(#c3c)" fill="none" stroke-linejoin="round">
<linearGradient id="pg00" gradientUnits="userSpaceOnUse" x1="533.5" x2="569.1" y1="0" y2="0"><stop offset="0" stop-color="#ffff60" stop-opacity="0.95"/><stop offset="0.4" stop-color="#ffff60" stop-opacity="0.8"/><stop offset="0.75" stop-color="#ffff60" stop-opacity="0.25"/><stop offset="1" stop-color="#ffff60" stop-opacity="0"/></linearGradient>
<linearGradient id="pg01" gradientUnits="userSpaceOnUse" x1="533.5" x2="569.1" y1="0" y2="0"><stop offset="0" stop-color="#d0f2a8" stop-opacity="0.95"/><stop offset="0.4" stop-color="#d0f2a8" stop-opacity="0.8"/><stop offset="0.75" stop-color="#d0f2a8" stop-opacity="0.25"/><stop offset="1" stop-color="#d0f2a8" stop-opacity="0"/></linearGradient>
<linearGradient id="pg02" gradientUnits="userSpaceOnUse" x1="533.5" x2="569.1" y1="0" y2="0"><stop offset="0" stop-color="#bafafa" stop-opacity="0.95"/><stop offset="0.4" stop-color="#bafafa" stop-opacity="0.8"/><stop offset="0.75" stop-color="#bafafa" stop-opacity="0.25"/><stop offset="1" stop-color="#bafafa" stop-opacity="0"/></linearGradient>
<polygon points="533.5,548.9 533.7,557.0 533.9,564.4 534.1,568.9 534.2,571.3 534.4,573.1 534.6,574.7 534.8,576.1 535.0,577.4 535.2,578.6 535.3,579.8 535.5,580.9 535.7,581.9 535.9,582.9 536.1,583.9 536.3,584.8 536.4,585.7 536.6,586.6 536.8,587.4 537.0,588.1 537.2,588.8 537.4,589.3 537.5,589.8 537.7,590.3 537.9,590.8 538.1,591.2 538.3,591.7 538.5,592.1 538.7,592.5 538.8,593.0 539.1,593.7 539.5,594.5 540.0,595.4 540.4,596.2 540.8,597.1 541.3,597.9 541.7,598.6 542.1,599.2 542.6,599.8 543.0,600.4 543.4,600.9 543.8,601.5 544.3,602.0 544.7,602.5 545.1,603.0 545.6,603.5 546.0,604.0 546.4,604.5 546.9,605.0 547.3,605.5 547.7,605.9 548.2,606.4 548.6,606.9 549.0,607.3 549.5,607.7 549.9,608.2 550.3,608.6 550.8,609.0 551.2,609.4 551.6,609.8 552.0,610.1 552.5,610.3 552.9,610.5 553.3,610.7 553.8,610.9 554.2,611.1 554.6,611.3 555.1,611.4 555.5,611.6 555.9,611.8 556.4,612.0 556.8,612.2 557.2,612.3 557.7,612.5 558.1,612.7 558.5,612.8 559.0,613.0 559.4,613.2 559.8,613.4 560.2,613.5 560.7,613.7 561.1,613.8 561.5,614.0 562.0,614.2 562.4,614.3 562.8,614.5 563.3,614.6 563.7,614.8 564.1,614.9 564.6,615.0 565.0,615.1 565.4,615.2 565.9,615.3 566.3,615.4 566.7,615.5 567.2,615.6 567.6,615.7 568.0,615.8 568.4,615.9 568.9,615.9 569.3,616.0 569.7,616.1 570.2,616.2 570.6,616.3 570.6,629.6 570.2,629.3 569.7,629.1 569.3,628.9 568.9,628.6 568.4,628.4 568.0,628.1 567.6,627.9 567.2,627.6 566.7,627.4 566.3,627.1 565.9,626.9 565.4,626.6 565.0,626.4 564.6,626.1 564.1,625.9 563.7,625.6 563.3,625.3 562.8,625.1 562.4,624.8 562.0,624.5 561.5,624.3 561.1,624.0 560.7,623.7 560.2,623.5 559.8,623.3 559.4,623.2 559.0,623.1 558.5,622.9 558.1,622.8 557.7,622.7 557.2,622.6 556.8,622.5 556.4,622.3 555.9,622.2 555.5,622.1 555.1,622.0 554.6,621.8 554.2,621.7 553.8,621.6 553.3,621.5 552.9,621.3 552.5,621.2 552.0,621.0 551.6,620.9 551.2,620.7 550.8,620.6 550.3,620.4 549.9,620.2 549.5,620.0 549.0,619.8 548.6,619.6 548.2,619.4 547.7,619.2 547.3,619.0 546.9,618.8 546.4,618.5 546.0,618.3 545.6,618.1 545.1,617.9 544.7,617.6 544.3,617.4 543.8,617.1 543.4,616.9 543.0,616.6 542.6,616.2 542.1,615.8 541.7,615.3 541.3,614.7 540.8,614.0 540.4,613.4 540.0,612.7 539.5,612.0 539.1,611.5 538.8,610.9 538.7,610.5 538.5,610.2 538.3,609.8 538.1,609.4 537.9,609.0 537.7,608.4 537.5,607.9 537.4,607.2 537.2,606.6 537.0,605.9 536.8,605.3 536.6,604.6 536.4,603.9 536.3,603.1 536.1,602.4 535.9,601.6 535.7,600.8 535.5,599.9 535.3,599.0 535.2,598.1 535.0,597.0 534.8,596.0 534.6,594.8 534.4,593.5 534.2,592.1 534.1,590.3 533.9,588.1 533.7,585.6 533.5,583.4" fill="url(#pg00)" fill-opacity="1.0" stroke="none"/>
<polygon points="533.5,583.4 533.7,585.6 533.9,588.1 534.1,590.3 534.2,592.1 534.4,593.5 534.6,594.8 534.8,596.0 535.0,597.0 535.2,598.1 535.3,599.0 535.5,599.9 535.7,600.8 535.9,601.6 536.1,602.4 536.3,603.1 536.4,603.9 536.6,604.6 536.8,605.3 537.0,605.9 537.2,606.6 537.4,607.2 537.5,607.9 537.7,608.4 537.9,609.0 538.1,609.4 538.3,609.8 538.5,610.2 538.7,610.5 538.8,610.9 539.1,611.5 539.5,612.0 540.0,612.7 540.4,613.4 540.8,614.0 541.3,614.7 541.7,615.3 542.1,615.8 542.6,616.2 543.0,616.6 543.4,616.9 543.8,617.1 544.3,617.4 544.7,617.6 545.1,617.9 545.6,618.1 546.0,618.3 546.4,618.5 546.9,618.8 547.3,619.0 547.7,619.2 548.2,619.4 548.6,619.6 549.0,619.8 549.5,620.0 549.9,620.2 550.3,620.4 550.8,620.6 551.2,620.7 551.6,620.9 552.0,621.0 552.5,621.2 552.9,621.3 553.3,621.5 553.8,621.6 554.2,621.7 554.6,621.8 555.1,622.0 555.5,622.1 555.9,622.2 556.4,622.3 556.8,622.5 557.2,622.6 557.7,622.7 558.1,622.8 558.5,622.9 559.0,623.1 559.4,623.2 559.8,623.3 560.2,623.5 560.7,623.7 561.1,624.0 561.5,624.3 562.0,624.5 562.4,624.8 562.8,625.1 563.3,625.3 563.7,625.6 564.1,625.9 564.6,626.1 565.0,626.4 565.4,626.6 565.9,626.9 566.3,627.1 566.7,627.4 567.2,627.6 567.6,627.9 568.0,628.1 568.4,628.4 568.9,628.6 569.3,628.9 569.7,629.1 570.2,629.3 570.6,629.6 570.6,641.6 570.2,641.5 569.7,641.3 569.3,641.2 568.9,641.0 568.4,640.9 568.0,640.7 567.6,640.6 567.2,640.4 566.7,640.3 566.3,640.1 565.9,639.9 565.4,639.8 565.0,639.6 564.6,639.5 564.1,639.3 563.7,639.1 563.3,639.0 562.8,638.8 562.4,638.6 562.0,638.5 561.5,638.3 561.1,638.1 560.7,637.9 560.2,637.8 559.8,637.6 559.4,637.4 559.0,637.2 558.5,637.0 558.1,636.9 557.7,636.7 557.2,636.5 556.8,636.3 556.4,636.1 555.9,635.9 555.5,635.7 555.1,635.5 554.6,635.3 554.2,635.1 553.8,634.9 553.3,634.7 552.9,634.5 552.5,634.3 552.0,634.1 551.6,633.9 551.2,633.6 550.8,633.4 550.3,633.1 549.9,632.8 549.5,632.6 549.0,632.3 548.6,632.0 548.2,631.7 547.7,631.4 547.3,631.1 546.9,630.8 546.4,630.5 546.0,630.2 545.6,629.8 545.1,629.5 544.7,629.2 544.3,628.8 543.8,628.5 543.4,628.1 543.0,627.7 542.6,627.3 542.1,626.8 541.7,626.2 541.3,625.5 540.8,624.8 540.4,624.1 540.0,623.4 539.5,622.6 539.1,622.0 538.8,621.4 538.7,621.0 538.5,620.6 538.3,620.2 538.1,619.8 537.9,619.3 537.7,618.7 537.5,618.1 537.4,617.4 537.2,616.7 537.0,616.0 536.8,615.2 536.6,614.5 536.4,613.7 536.3,612.9 536.1,612.1 535.9,611.2 535.7,610.3 535.5,609.4 535.3,608.4 535.2,607.4 535.0,606.3 534.8,605.1 534.6,603.8 534.4,602.5 534.2,600.9 534.1,599.0 533.9,596.5 533.7,593.8 533.5,591.4" fill="url(#pg01)" fill-opacity="1.0" stroke="none"/>
<polygon points="533.5,591.4 533.7,593.8 533.9,596.5 534.1,599.0 534.2,600.9 534.4,602.5 534.6,603.8 534.8,605.1 535.0,606.3 535.2,607.4 535.3,608.4 535.5,609.4 535.7,610.3 535.9,611.2 536.1,612.1 536.3,612.9 536.4,613.7 536.6,614.5 536.8,615.2 537.0,616.0 537.2,616.7 537.4,617.4 537.5,618.1 537.7,618.7 537.9,619.3 538.1,619.8 538.3,620.2 538.5,620.6 538.7,621.0 538.8,621.4 539.1,622.0 539.5,622.6 540.0,623.4 540.4,624.1 540.8,624.8 541.3,625.5 541.7,626.2 542.1,626.8 542.6,627.3 543.0,627.7 543.4,628.1 543.8,628.5 544.3,628.8 544.7,629.2 545.1,629.5 545.6,629.8 546.0,630.2 546.4,630.5 546.9,630.8 547.3,631.1 547.7,631.4 548.2,631.7 548.6,632.0 549.0,632.3 549.5,632.6 549.9,632.8 550.3,633.1 550.8,633.4 551.2,633.6 551.6,633.9 552.0,634.1 552.5,634.3 552.9,634.5 553.3,634.7 553.8,634.9 554.2,635.1 554.6,635.3 555.1,635.5 555.5,635.7 555.9,635.9 556.4,636.1 556.8,636.3 557.2,636.5 557.7,636.7 558.1,636.9 558.5,637.0 559.0,637.2 559.4,637.4 559.8,637.6 560.2,637.8 560.7,637.9 561.1,638.1 561.5,638.3 562.0,638.5 562.4,638.6 562.8,638.8 563.3,639.0 563.7,639.1 564.1,639.3 564.6,639.5 565.0,639.6 565.4,639.8 565.9,639.9 566.3,640.1 566.7,640.3 567.2,640.4 567.6,640.6 568.0,640.7 568.4,640.9 568.9,641.0 569.3,641.2 569.7,641.3 570.2,641.5 570.6,641.6 570.6,648.3 570.2,648.1 569.7,648.0 569.3,647.9 568.9,647.8 568.4,647.7 568.0,647.6 567.6,647.5 567.2,647.3 566.7,647.2 566.3,647.1 565.9,647.0 565.4,646.9 565.0,646.8 564.6,646.6 564.1,646.5 563.7,646.4 563.3,646.3 562.8,646.1 562.4,646.0 562.0,645.9 561.5,645.8 561.1,645.6 560.7,645.5 560.2,645.4 559.8,645.2 559.4,645.1 559.0,644.9 558.5,644.8 558.1,644.6 557.7,644.5 557.2,644.3 556.8,644.2 556.4,644.0 555.9,643.9 555.5,643.7 555.1,643.6 554.6,643.4 554.2,643.3 553.8,643.1 553.3,642.9 552.9,642.8 552.5,642.6 552.0,642.4 551.6,642.2 551.2,642.1 550.8,641.8 550.3,641.6 549.9,641.4 549.5,641.2 549.0,641.0 548.6,640.7 548.2,640.5 547.7,640.3 547.3,640.0 546.9,639.8 546.4,639.5 546.0,639.3 545.6,639.0 545.1,638.8 544.7,638.5 544.3,638.2 543.8,637.9 543.4,637.6 543.0,637.3 542.6,636.9 542.1,636.5 541.7,635.9 541.3,635.3 540.8,634.7 540.4,634.0 540.0,633.4 539.5,632.7 539.1,632.1 538.8,631.6 538.7,631.2 538.5,630.8 538.3,630.5 538.1,630.1 537.9,629.6 537.7,629.0 537.5,628.4 537.4,627.7 537.2,627.0 537.0,626.3 536.8,625.6 536.6,624.8 536.4,624.0 536.3,623.2 536.1,622.4 535.9,621.6 535.7,620.7 535.5,619.7 535.3,618.7 535.2,617.7 535.0,616.6 534.8,615.4 534.6,614.2 534.4,612.8 534.2,611.2 534.1,609.3 533.9,606.8 533.7,604.2 533.5,601.7" fill="url(#pg02)" fill-opacity="1.0" stroke="none"/>
<path d="M533.5 601.7l.2 2.6 .2 2.8 .2 2.5 .1 1.9 .2 1.4 .2 1.1 .2 1.1 .2 1.2 .2 1.3 .1 1.4 .2 1 .2 .7 .2 .7 .2 .9 .2 .9 .1 .7 .2 .8 .2 .9 .2 1 .2 .8 .2 .5 .1 .3 .2 .7 .2 .7 .2 .7 .2 .4 .2 .3 .2 .4 .1 .4 .3 .5 .4 .5 .5 .5 .4 .5 .4 .6 .5 .7 .4 .5 .4 .5 .5 .4 .4 .5 .4 .7 .4 .5 .5 .3 .4 0 .4 0 .5 .2 .4 .3 .4 .5 .5 .4 .4 .4 .4 .2 .5 0 .4 .1 .4 .2 .5 .2 .4 .2 .4 .2 .5 .2 .4 .4 .4 .4 .4 .2 .5 .2 .4 .2 .4 .2 .5 .1 .4 .1 .4 .1 .5 0 .4 .1 .4 .1 .5 .2 .4 .1 .4 .2 .5 .1 .4 .2 .4 .1 .5 .2 .4 .3 .4 .3 .4 .2 .5 .1 .4 .1 .4 .3 .5 .3 .4 .2 .4 .1 .5-.1 .4-.1 .4 0 .5 .1 .4 .1 .4 0 .5 .2 .4 .3 .4 .2 .5 .1 .4 .1 .4 .2 .4 .2 .5 .1 .4-.1 .4-.1 .5 .1 .4 .1 .4 .2 .5 .1 .4 .1 .4 .1 .5 .1 .4 .1 .4 .1 .5 .1 .4 .1 .4 .3 .5 .2 .4 0 .4 0 .4 .1 .5 0 .4 .1 .4 .2 .5 .4 .4 .2 .4-.1 .5-.1 .4-.1 .4 0 .5 .1 .4 .2 .4 .2 .5 .2 .4 .2 .4 .2 .5 .1 .4 0 .4-.2 .4 .1 .5 .1 .4 .1 .4 .1 .5 .2 .4 .3 .4 .2 .5-.1 .4-.1 .4 .1 .5 .2 .4 .1 .4 0 .5 0 .4 .2 .4 .2 .5 0 .4 .1 .4 .1 .4 .3 .5 .2 .4 .1 .4-.1 .5 0 .4 .2 .4 .1 .5 0 .4 0 .4 .2 .5 .1 .4 0 .4-.1 .5 .1 .4 .3 .4 .1 .5 .1 .4 .1 .4 .2 .4 .1 .5 .1 .4 .1 .4 .1 .5 .1 .4 .1 .4 .2 .5 0 .4 0 .4 .1 .5 .2 .4 .3 .4 .1 .5 .1 .4-.1 .4 .1 .5 0 .4 0 .4-.1 .4 0 .5 .1 .4 .1 .4 0 .5 .1 .4 .2 .4 .4 .5 .3 .4 0 .4-.1 .5 0 .4 .2 .4 0 .5 0 .4 0 .4 0 .5 .2 .4 .2 .4 .2 .4 .1 .5 0 .4 .1 .4 0 .5 .1 .4 0 .4 .2 .5 0 .4 0 .4 .1 .5 .1 .4 .2 .4 0 .5 0 .4 0 .4 .2 .5 .1 .4 .1 .4 .2 .4 .1 .5 .1 .4-.1 .4-.1 .5 0 .4 .1 .4 .1 .5-.1 .4-.1 .4 0 .5 0 .4 .2 .4 .4 .5 .3 .4 .2 .4 0 .5 0 .4 0 .4 .1 .4 .2 .5 .1 .4-.1 .4-.1 .5 .1 .4 .1 .4 0 .5 0 .4 0 .4 0 .5 .1 .4 0 .4 .1 .5 .2 .4 .2 .4 0 .5 0 .4 0 .4 .2 .4 .1 .5 .1 .4-.1 .4 .1 .5 .1 .4 .1 .4 .1 .5 0 .4 .1 .4 .1 .5 .1 .4 0 .4-.2 .5-.1 .4 .1 .4 .2 .5 .2 .4 .1 .4 0 .4 0 .5-.1 .4-.1 .4 0 .5 0 .4 .1 .4 .1 .5 .1 .4 .1 .4 0 .5 .2 .4 .4 .4 .1 .5 0 .4-.1 .4-.1 .5-.1 .4 0 .4 .1 .4 .2 .5 .1 .4 0 .4 .1 .5 0 .4 .1 .4 .1 .5 0 .4 0 .4 .1 .5 .1 .4 .2 .4 .1 .5 .2 .4 .1 .4 0 .5 0 .4 0 .4 0 .4 0 .5-.1 .4 0 .4 .1 .5 .1 .4 0 .4-.1 .5 0 .4 0 .4 .3 .5 .2 .4 0 .4 0 .5-.1 .4 0 .4-.1 .5 .1 .4 .3 .4 .1 .4 .1 .5-.1 .4 0 .4 .2 .5 .1 .4 0 .4 0 .5 0 .4-.1 .4-.1 .5 .1 .4 .3 .4 .3 .5 0 .4-.2 .4-.1 .5 0 .4-.1 .4 0 .4 0 .5 .1 .4 .3 .4 .2 .5 0 .4 0 .4 .2 .5 .1 .4 .1 .4-.2 .5-.1 .4 0 .4 .1 .5-.1 .4-.1 .4 0 .5 .1 .4 .1 .4 .2 .4 .1 .5 .1 .4 0 .4-.1 .5 0 .4 .2 .4 .2 .5 0 .4-.1 .4 .1 .5 0 .4-.1 .4-.2 .5 0 .4 .1 .4 .1 .5 .1 .4 .3 .4 .2 .4 .1 .5-.2 .4 0 .4 .2 .5 .1 .4 .1 .4-.1 .5 .1 .4 0 .4 0 .5 0 .4 0 .4 0 .5 .1 .4-.1 .4 0 .5 .1 .4 .1 .4 0 .4-.1 .5 0 .4 .1 .4 .2 .5 .1 .4 .1 .4 0 .5-.2 .4 0" stroke="#00ffff" stroke-width="1.2" stroke-opacity="0.75"/>
<path d="M533.5 599.8l.2 2.3 .2 2.7 .2 2.5 .1 2.1 .2 1.6 .2 1.4 .2 1.3 .2 1.3 .2 1.1 .1 1.1 .2 1 .2 1.1 .2 .9 .2 .8 .2 .5 .1 .6 .2 .8 .2 .7 .2 .6 .2 .7 .2 .9 .1 1 .2 .7 .2 .3 .2 .3 .2 .3 .2 .4 .2 .4 .1 .5 .3 .5 .4 .6 .5 .6 .4 .6 .4 .7 .5 .8 .4 .8 .4 .5 .5 .5 .4 .4 .4 .2 .4 .1 .5 .3 .4 .3 .4 .4 .5 .2 .4 .1 .4 .2 .5 .2 .4 .2 .4 .3 .5 .3 .4 .4 .4 .3 .5 .2 .4 .2 .4 .2 .5 .1 .4 .2 .4 .2 .4 .3 .5 .3 .4 .3 .4 .1 .5-.2 .4-.3 .4 0 .5 .3 .4 .5 .4 .3 .5 .4 .4 .4 .4 .2 .5-.1 .4-.2 .4 0 .5 .1 .4 .3 .4 .4 .4 .3 .5 .2 .4 .1 .4-.1 .5 0 .4 .1 .4 .2 .5 .1 .4 .2 .4 .3 .5 .2 .4 .1 .4 .1 .5 .1 .4-.1 .4 .1 .5 .1 .4 .2 .4 .3 .4 .2 .5 .2 .4 .1 .4 0 .5 .1 .4 .1 .4 .2 .5 .1 .4 .1 .4 .1 .5 .2 .4 .1 .4 .1 .5 0 .4 .1 .4 .2 .5 .1 .4 .2 .4 .1 .4 0 .5-.1 .4 .1 .4 .2 .5 .2 .4 0 .4-.1 .5 0 .4 .1 .4 0 .5 .2 .4 .2 .4 .2 .5 .2 .4 .1 .4 0 .5 0 .4 0 .4 .1 .4 .1 .5 .2 .4 .1 .4 .2 .5 0 .4-.1 .4-.3 .5 .1 .4 .2 .4 .3 .5 .2 .4 .2 .4 .2 .5 .3 .4 .2 .4 0 .5-.1 .4 .1 .4 .1 .4 .2 .5 0 .4 0 .4 0 .5 0 .4 .1 .4 .3 .5 .3 .4 .3 .4 .1 .5 0 .4 .1 .4 0 .5 0 .4 .1 .4 .2 .5 0 .4-.1 .4 .1 .4 .2 .5 0 .4 0 .4 .1 .5 .2 .4 0 .4 0 .5 .2 .4 .3 .4 .1 .5-.1 .4 0 .4 0 .5 0 .4 0 .4 0 .5 .2 .4 .3 .4 .3 .4 .1 .5 0 .4 0 .4 .1 .5 0 .4 0 .4 0 .5 .2 .4 .2 .4 0 .5-.1 .4 0 .4 .1 .5 .3 .4 .3 .4 .1 .5 0 .4 .1 .4 0 .4 .1 .5 0 .4 0 .4 .1 .5 .1 .4 .2 .4 .3 .5 .2 .4-.1 .4 0 .5 .1 .4 .2 .4 0 .5-.1 .4 .1 .4 .1 .5 .2 .4 0 .4-.1 .4 0 .5 .1 .4 .2 .4 .1 .5 0 .4-.1 .4-.1 .5 0 .4 .2 .4 .2 .5 .1 .4 .1 .4 .2 .5 .1 .4 .2 .4 0 .5 0 .4 .1 .4 .1 .4 .1 .5 0 .4 .1 .4 0 .5 .1 .4 .1 .4 .1 .5 0 .4 0 .4 0 .5 0 .4 0 .4 0 .5 .2 .4 .2 .4 .1 .5 0 .4 0 .4 .1 .4 0 .5 0 .4 0 .4 .2 .5 .3 .4 .1 .4-.1 .5-.2 .4 .1 .4 .2 .5 .2 .4-.1 .4-.1 .5 0 .4 .1 .4 .1 .5 0 .4 0 .4 .1 .4 .2 .5 .2 .4 .1 .4 .1 .5 0 .4 .1 .4 .1 .5-.1 .4 0 .4 0 .5 .1 .4 .1 .4 0 .5 0 .4 .1 .4 .1 .5 .1 .4 0 .4-.1 .4 0 .5 0 .4-.1 .4 0 .5 .2 .4 .2 .4 .2 .5-.1 .4-.1 .4-.1 .5 .2 .4 .2 .4 .1 .5-.1 .4-.1 .4 .1 .5 .2 .4 .2 .4 .2 .4 0 .5 .1 .4 .2 .4 0 .5-.1 .4-.1 .4 0 .5 .1 .4 0 .4-.1 .5 .1 .4 .1 .4 .1 .5 0 .4 0 .4 .1 .5 .1 .4 .1 .4 .1 .4 .1 .5 .3 .4 .2 .4 .1 .5-.2 .4-.2 .4 0 .5 0 .4 .1 .4 0 .5 .1 .4 .2 .4 .2 .5-.1 .4-.2 .4 0 .5 0 .4 0 .4 0 .4 0 .5 0 .4 .1 .4 .1 .5 .1 .4 .2 .4 0 .5-.1 .4 0 .4 0 .5 0 .4-.1 .4 0 .5 .1 .4 .1 .4 .1 .5 0 .4 .2 .4 .1 .4 .1 .5 0 .4-.1 .4-.1 .5 .1 .4 0 .4-.1 .5 0 .4-.1 .4 .1 .5 .2 .4 .3 .4 .1 .5-.1 .4-.1 .4 0 .5 .1 .4 .1 .4 .2 .4 .2 .5 0 .4-.1 .4-.1 .5-.2 .4 0 .4 .2 .5 .1 .4 0 .4-.2 .5 .1 .4 .2 .4 .2 .5 .2 .4 .1 .4 .1 .5 .2 .4-.1 .4-.1 .4-.1 .5 .1 .4 0 .4 0 .5 0 .4 0 .4 0 .5 .1 .4-.1" stroke="#a0ffff" stroke-width="0.9" stroke-opacity="0.7"/>
<path d="M533.5 545.9l.2 13.1 .2 5.5 .2 5.6 .1-1 .2 8.4 .2-2 .2 1.2 .2-2 .2 5.1 .1-1.1 .2 2.1 .2-1.2 .2-.4 .2 3.9 .2-3.7 .1 1.2 .2 1.6 .2 0 .2 3.9 .2-.2 .2 2.3 .1-.4 .2-.8 .2 3.2 .2 .3 .2 1.3 .2 1.1 .2 .4 .1-.6 .3 2.9 .4-2 .5-2.5 .4 1.7 .4 1.7 .5 1.3 .4 0 .4-4 .5 4.4 .4 2.7 .4-.1 .4-2.5 .5 4.7 .4-.6 .4 .5 .5 .9 .4 1.1 .4-1.7 .5-.2 .4-.9 .4 .6 .5 1.2 .4 2.7 .4 0 .5 4 .4-3.6 .4 1.3 .5 1.1 .4-2 .4 .8 .4-2.3 .5-.3 .4-.4 .4 8.1 .5 1.3 .4-.9 .4-.7 .5-1.3 .4 .7 .4 3.9 .5-4 .4-2.7 .4 1.2 .5-.6 .4 2.8 .4 1.1 .5 .4 .4 .5 .4 1 .4 .2 .5 1.1 .4-2.7 .4-.2 .5-2.4 .4-.1 .4 2.4 .5 1.9 .4 1.7 .4-1 .5 1.5 .4 1.2 .4-.8 .5 .8 .4-3.4 .4 1.5 .5-3.8 .4 1.5 .4 0 .4 4.1 .5-1.4 .4-.1 .4 4.1 .5-1 .4-.8 .4 2.1 .5-4.1 .4-1.8 .4 2.7 .5-2.4 .4 3.5 .4-1.7 .5 4.1 .4-4.4 .4 2.1 .5 1.1 .4 1.2 .4-4.7 .4-2.2 .5 6.5 .4-6.6 .4-.9 .5 2.8 .4 3.7 .4-3.1 .5 2.9 .4 1.5 .4 1.3 .5-3.7 .4-1.2 .4 1.8 .5-3.1 .4 2.6 .4-4 .5 1.8 .4 1.2 .4 .7 .4-1 .5 .8 .4 .6 .4 .4 .5-.7 .4-2 .4-.2 .5-1.5 .4 1.6 .4 4.3 .5-6.1 .4-1.5 .4 4.1 .5 1.5 .4 0 .4-.5 .5-1.1 .4 1.1 .4-2.2 .4 .3 .5-2.6 .4 1.3 .4-.9 .5 2.1 .4-1.5 .4 2 .5-3.9 .4 7.4 .4-3.4 .5-4 .4-4.2 .4 4.7 .5-.8 .4 .8 .4-2.3 .5 3.9 .4-1.1 .4 2.3 .4 1.9 .5-3.5 .4-1.1 .4-2.3 .5 1.9 .4 .6 .4-2.2 .5 1.2 .4 .8 .4 1.8 .5-1.4 .4 2.1 .4-2.8 .5 1.3 .4 .3 .4 3.8 .5-4.8 .4 .2 .4-.4 .4 .4 .5 3.9 .4-1 .4 3.8 .5-4 .4 6.8 .4 .8 .5-.6 .4-2 .4 0 .5-6 .4 4.8 .4 2.8 .5-3.5 .4 4.6 .4 2.5 .5-3.3 .4 .9 .4 1.9 .4-4 .5 1.9 .4-3.3 .4 2.1 .5-1.6 .4 3.6 .4 3.8 .5-5.8 .4 7 .4 .1 .5 1.2 .4-1.1 .4-1.4 .5-.6 .4-1.5 .4-2.5 .5 3.9 .4 2.9 .4 .9 .4 .1 .5 2.9 .4-4.3 .4 2.6 .5-.7 .4-1.3 .4 1.9 .5-1.7 .4-3.3 .4 .3 .5 2.7 .4-3.4 .4 7.1 .5-1 .4 .3 .4 5 .5-9.6 .4 2.3 .4 1.9 .4-6.6 .5 2.5 .4 .5 .4 2.6 .5-.4 .4 4.1 .4-3.6 .5 2.7 .4-1.1 .4-2.5 .5 1 .4-.9 .4-.6 .5 1.6 .4-2.8 .4-.7 .5 2.5 .4 .8 .4 4.2 .4 .4 .5 1.1 .4-5.7 .4 2.2 .5-4.1 .4 3.6 .4-.8 .5-.8 .4-.9 .4 2.7 .5 .8 .4 1.2 .4 .1 .5 2.5 .4-2.8 .4-.3 .5-1 .4-1.7 .4 2.1 .4-.8 .5 1.1 .4-.3 .4 .4 .5 4.2 .4-2.6 .4-2.9 .5 6.4 .4-1.9 .4-.7 .5-1.7 .4-3.8 .4 3.5 .5 2.2 .4-1.5 .4 3.5 .5-2.5 .4 2 .4-2.1 .4 3.5 .5-7.9 .4 3.6 .4-.2 .5 1.3 .4 1.7 .4 1.1 .5-.3 .4 2.3 .4-1.2 .5 2.5 .4-2.8 .4-1.2 .5 2.5 .4-4.4 .4 2.2 .5-2.8 .4 1.8 .4-.5 .4 5.2 .5-.7 .4-2.2 .4 4.3 .5 2.6 .4-.7 .4 .3 .5-1.6 .4-3.8 .4-3.5 .5 3.6 .4-.8 .4 1.7 .5 .6 .4 .9 .4 .1 .5-1.6 .4 2.4 .4-5.2 .4-.8 .5 1.5 .4-2.2 .4 3.1 .5 .3 .4-.5 .4 1.4 .5 1 .4 .5 .4-.6 .5-3.7 .4 4.5 .4-5.4 .5 .4 .4-2.2 .4 .6 .5 7 .4-5.7 .4 1.2 .4 1 .5 .9 .4-3.1 .4 1.5 .5-5.4 .4 1.4 .4-3.8 .5 5.3 .4 2.1 .4-4.3 .5 .5 .4 2.3 .4 3.4 .5-2.1 .4-2.6 .4 .6 .5-1.2 .4-.9 .4 .7 .4-1 .5 2 .4-5.4 .4 5.2 .5-1 .4 3.4 .4-3.4 .5 4.7 .4-6.2 .4 .9 .5-5 .4 6.1 .4-2.8 .5-.1 .4-.9 .4 4.2 .5-.2 .4 4.9 .4-2.4 .4-2.9 .5-2 .4 1.8 .4-5.3 .5 .1 .4 3.5 .4 5 .5-.3 .4-1 .4-2.7 .5 2.1 .4 4.8 .4-4 .5-4.3 .4 3 .4 0 .5-5.8 .4 3.9 .4 1.6 .4-.8 .5 1.7 .4 1.8 .4-2.6 .5 .3 .4 .2 .4 1.1 .5-3.3 .4 1.6" stroke="#ffff00" stroke-width="1.0"/>
<path d="M556.8 638.4l.4-.3 .5-.9 .4 0 .4 2.2 .5 1.2 .4-.8 .4-.7 .4-.9 .5-.3 .4 1.3 .4 1.5 .5 1 .4 .1 .4-.2 .5 0 .4-.7 .4-.5 .5 .7 .4 1.4 .4 .9 .5 0 .4-1.1 .4-.3 .5 .9 .4-.8 .4-1.7 .4 0 .5 1.6 .4 2 .4 .3 .5-.4 .4-.4 .4-.2 .5-.3 .4-1.5 .4 .1 .5 2 .4 1 .4 .9 .5 .3 .4-1.3 .4-1.2 .5 .4 .4 .6 .4 .4 .4 .1 .5 .6 .4 .9 .4-.3 .5-.2 .4 .5 .4-.5 .5-.4 .4 .6 .4 1.5 .5 1.4 .4-.4 .4-.5 .5-.6 .4-1.7 .4-.3 .5 1 .4 .8 .4 1 .4 .9 .5-.5 .4-.6 .4 .5 .5-.9 .4-.3 .4 1.8 .5 .5 .4-.4 .4-.7 .5-.4 .4 .7 .4-.3 .5-1.7 .4 .1 .4 1.8 .5 .9 .4 .2 .4-.1 .4-.8 .5-.3 .4 .4 .4-.6 .5 .2 .4 1.1 .4 1.3 .5 1.1 .4-1.2 .4-.8 .5 .1 .4-.7 .4-.8 .5-.8 .4 .9 .4 2.4 .5 1.4 .4-.2 .4-.8 .4-.5 .5 .1 .4 .3 .4 .6 .5 1 .4 .8 .4-1.2 .5-1.5 .4 .7 .4 .2 .5-.9 .4 .3 .4 .5 .5 .1 .4-.1 .4 .6 .5 0 .4-.6 .4 .5 .4 .2 .5 .6 .4 .8 .4-.1 .5-.4 .4-.1 .4-.2 .5-1.3 .4-.6 .4 1.4 .5 1.7 .4 1 .4 1.2 .5-1.3 .4-3.5 .4-1.3 .5 .6 .4 1 .4 .6 .4 .5 .5 1 .4 .8 .4 .8 .5-.3 .4-1.9 .4-1.4 .5 .3 .4 .8 .4 .7 .5 1.8 .4 .6 .4-1.3 .5-.2 .4-.1 .4-1 .5-.4 .4 .9 .4-.5 .4-1.1 .5 .7 .4 1.3 .4 .7 .5-1 .4-.7 .4 1.5 .5 1.3 .4 .2 .4 .4 .5-.6 .4-1.9 .4-1.1 .5 .6 .4 .9 .4 .2 .5 .4 .4 1.4 .4 1.2 .4-.9 .5-1.7 .4-1.2 .4-.4 .5 1.2 .4 2.2 .4 1.4 .5-.5 .4-1.7 .4-.7 .5-.6 .4-.4 .4 1.2 .5 1.5 .4 .6 .4-.4 .5-.9 .4 .2 .4 .3 .4-1.3 .5-.3 .4 1.3 .4 1.3 .5 1 .4-.2 .4 0 .5 .3 .4-1.3 .4-1.2 .5-.1 .4 0 .4 .9 .5 1.5 .4-.4 .4-1.5 .5 .3 .4 .3 .4-.2 .4-.1 .5-.3 .4 .2 .4 .5 .5 .2 .4-.1 .4-.7 .5-.1 .4 .8 .4 .8 .5 1.2 .4 .6 .4-.7 .5 .4 .4 0 .4-.2 .5-.3 .4-1.2 .4-.1 .4 .6 .5 .6 .4 .6 .4-.6 .5-.9 .4-.1 .4-.5 .5-.3 .4 .7 .4 1.9 .5 1.6 .4-.8 .4-1.4 .5-.7 .4-1.4 .4-.9 .5 .9 .4 1.6 .4 1.7 .4 1 .5-.2 .4-.7 .4-1 .5-.5 .4 .2 .4 1.3 .5 1.1 .4 .3 .4 0 .5-.4 .4-1 .4-1.5 .5-1.6 .4-.3 .4 1.4 .5 1.2 .4 .8 .4 1.8 .4 .2 .5-2.2 .4-1.2 .4-.1 .5 .9 .4 1.8 .4 .2 .5-1.4 .4-.2 .4-.2 .5-1 .4 .5 .4 .4 .5 .2 .4 1.4 .4 .6 .5-.2 .4-.7 .4-1.5 .4-.4 .5 .8 .4 .2 .4 0 .5 1 .4 .7 .4-.7 .5-.7 .4-.4 .4-.3 .5 1 .4 .5 .4-.3 .5 1.1 .4 .8 .4-.5 .5-1 .4-.7 .4 0 .4-1.5 .5-1.3 .4 2.5 .4 2.4 .5-.8 .4-1.6 .4-.9 .5 .2 .4-.1 .4-.8 .5 1.4 .4 2 .4 0 .5-.7 .4-.6 .4-.6 .5-.8 .4-.3 .4 .6 .4 1.2 .5 1.2 .4-.1 .4-.7 .5-1.1 .4-1.2 .4-.2 .5-.2 .4 .2 .4 1.6 .5 1.5 .4 .7 .4-1.1 .5-1.7 .4-.7 .4 .2 .5 1.8 .4 1.3 .4 .3 .4-.4 .5-1.8 .4-.1 .4 1.2 .5-.4 .4-.6 .4 0 .5 .5 .4 0" stroke="#800080" stroke-width="0.9" stroke-dasharray="2.5 1.8"/>
<path d="M560.2 637l.5 .1 .4 .8 .4 .2 .5 .3 .4 .3 .4 .3 .5-.3 .4-.1 .4 .2 .5 .6 .4 2 .4 1.1 .5-1.5 .4-2 .4-.3 .5 1 .4 .7 .4 .7 .4 1.4 .5 .5 .4-1.3 .4-2.2 .5-.6 .4 1.9 .4 2 .5 1.7 .4 1.2 .4-1 .5-2.2 .4-1.8 .4 .7 .5 1.6 .4 .8 .4 1.2 .5 .8 .4-1.3 .4-1.3 .4-.5 .5 .8 .4 1.9 .4 .3 .5-1 .4-1.1 .4-1.3 .5-.9 .4 .8 .4 2 .5 1.8 .4 1.5 .4 .2 .5-1.6 .4-2.6 .4-.8 .5 1 .4 1.4 .4 1.8 .4 .4 .5-.7 .4-.9 .4-1.6 .5-.1 .4 2 .4 1.3 .5 .1 .4-1 .4-.9 .5-.7 .4 0 .4 1.7 .5 1.7 .4 .6 .4 .3 .5-1.2 .4-1.5 .4 0 .4 .1 .5 .7 .4 1.9 .4 2 .5 .3 .4-1.9 .4-1.7 .5 0 .4 .9 .4 1 .5 .8 .4-.5 .4-1.2 .5-.5 .4-1 .4-.6 .5 2 .4 2.6 .4-.1 .4-1.8 .5-1.5 .4 0 .4 1.1 .5 1.1 .4 .6 .4 .7 .5 .1 .4-1 .4-1.3 .5-.4 .4 1 .4 .9 .5 .5 .4 .6 .4-.7 .5-1.5 .4-.3 .4 .7 .4 1.9 .5 1.6 .4-.5 .4-1.1 .5-1.1 .4-.7 .4 .5 .5 1.1 .4 .3 .4-.3 .5 .3 .4-.1 .4-1.1 .5-.2 .4 .5 .4 .9 .5 2 .4 1.2 .4-1.2 .4-2.1 .5-1.5 .4 .1 .4 1.5 .5 1.1 .4 .6 .4-.2 .5-1.4 .4-.8 .4 .1 .5 .7 .4 1.7 .4 1 .5-.4 .4-.8 .4-.8 .5-.7 .4-.2 .4 1.1 .4 1.7 .5 .7 .4-.3 .4-1.6 .5-2.3 .4 .8 .4 1.7 .5 .8 .4 1.1 .4-.4 .5-1.3 .4-.4 .4-.2 .5 .4 .4 1.5 .4 1.9 .5 .2 .4-1.9 .4-2.1 .4-1.4 .5-.1 .4 1.7 .4 2.3 .5 1.5 .4 .4 .4-1.1 .5-1.8 .4-1.3 .4 .4 .5 2 .4 1.8 .4 .3 .5-1.5 .4-2 .4-.6 .5 .1 .4 0 .4 1.3 .4 1.8 .5 .2 .4-1.3 .4-1.4 .5-.4 .4 .5 .4 .8 .5 .5 .4 .4 .4-.3 .5-.9 .4-.2 .4 0 .5 .5 .4 1.1 .4 .4 .5-.1 .4-1.1 .4-1.4 .4 .3 .5 1.3 .4 1.7 .4 1 .5-.1 .4-1.6 .4-1.9 .5-.6 .4 1.3 .4 2.7 .5 .6 .4-.7 .4-.8 .5-1.7 .4-.7 .4 .7 .5 .1 .4 .4 .4 1.5 .4 .6 .5-.8 .4-.8 .4 .1 .5-.3 .4-.3 .4 1.2 .5 .6 .4-1.3 .4-1.4 .5-.6 .4 .1 .4 1.6 .5 1.7 .4 1.1 .4 .9 .5-1.3 .4-1.7 .4 .1 .4 1 .5 1.4 .4 0 .4-1.6 .5-.6 .4-.5 .4-.7 .5 .7 .4 1.2 .4 .8 .5 .6 .4 .1 .4-1.4 .5-.8 .4 .4 .4 .6 .5 1.1 .4 .1 .4-.4 .4-.7 .5-1.1 .4 .2 .4 1.6 .5 1.1 .4 .6 .4-.1 .5-1.1 .4-1.1 .4-.9 .5-1.2 .4 .8 .4 2.6 .5 1.1 .4-1 .4-2.1 .5-.8 .4 1.3 .4 1.6 .4 1.4 .5 1.2 .4-.3 .4-1.6 .5-1.7 .4-1.7 .4 .6 .5 2.6 .4 1.6 .4-.5 .5-1.3 .4-.3 .4-.3 .5-.9 .4 .6 .4 1.1 .5 .1 .4-.2 .4-.4 .4-.6 .5-.6 .4 1.1 .4 1.8 .5 .8 .4 .2 .4-.9 .5-2 .4-2 .4-.1 .5 1.3 .4 1.7 .4 2.4 .5 .2 .4-2.4 .4-2.3 .5-.4 .4 .5 .4 1.8 .4 1.9 .5-.9 .4-1.8 .4 .3 .5 .5 .4-.3 .4 .5 .5 1.1 .4 .7 .4-.1 .5-1 .4-2.5 .4-1.4 .5 1.7 .4 2.6 .4 1.6 .5 .3 .4-2 .4-1.7 .4-.3 .5 .1 .4 .6 .4 1 .5 .5 .4 .1 .4-.1 .5-1 .4-.8" stroke="#008080" stroke-width="1.0"/>
<path d="M555.9 621l.5-.2 .4-.8 .4-.3 .5 .9 .4 .2 .4-.1 .5 .2 .4 .4 .4 .8 .4-.3 .5-.8 .4 .4 .4 .8 .5 .4 .4 .6 .4 .7 .5 .6 .4 0 .4 0 .5 .9 .4 .7 .4-1.3 .5-.2 .4 2.4 .4 .9 .5-.7 .4-.5 .4-.6 .4-.3 .5-.3 .4 .5 .4 1.3 .5 .8 .4 .2 .4 .4 .5 .9 .4 0 .4-.8 .5 .5 .4 .4 .4-.2 .5 .7 .4 .5 .4 .6 .5 1.6 .4 .4 .4-.9 .4-.4 .5-.3 .4-.5 .4-.4 .5-.1 .4 1.9 .4 1.2 .5-1 .4-1.2 .4 0 .5 1.1 .4 .5 .4-1.1 .5-.5 .4 1.1 .4 .1 .5 .2 .4 .9 .4 .2 .4 .2 .5 .4 .4-.4 .4-.9 .5 0 .4 .5 .4 .2 .5-.3 .4 0 .4 .2 .5 .2 .4 1 .4 .8 .5-.6 .4-.3 .4-.2 .5-.4 .4 0 .4 .5 .4 1.2 .5 .6 .4-.7 .4 .2 .5 .1 .4-.9 .4-.2 .5 .3 .4 .1 .4 .8 .5 1.3 .4 .2 .4-1 .5-.5 .4 .4 .4-.1 .5-.6 .4-.2 .4 .2 .4 .1 .5 .7 .4 .9 .4 .6 .5 1.3 .4 .5 .4-1.3 .5-1.2 .4-.3 .4 .5 .5 .2 .4 .2 .4 .9 .5-.1 .4-.7 .4-.1 .5 0 .4 .7 .4 1 .4-.7 .5-.8 .4 .6 .4 .1 .5-.6 .4 .8 .4 1.3 .5-.5 .4-.9 .4 0 .5-.2 .4 .5 .4 .8 .5 .1 .4 .2 .4 .5 .5 0 .4-.4 .4-.5 .4 0 .5 .5 .4-.4 .4-1 .5-.1 .4 .5 .4 1 .5 .9 .4-.3 .4-.5 .5-.2 .4 0 .4 .1 .5 0 .4 .7 .4 1.2 .5 .2 .4-.4 .4 .7 .4 .7 .5-1.1 .4-2.2 .4-.4 .5 2.2 .4 1.3 .4 0 .5 0 .4-.1 .4 0 .5 .3 .4-.5 .4-.8 .5-.3 .4 .3 .4 .6 .5 .1 .4 .4 .4 .6 .4-.1 .5-.3 .4 .3 .4 .4 .5-.4 .4-.7 .4-.2 .5 .8 .4 .7 .4 0 .5 .9 .4 .8 .4-.1 .5-.4 .4-.3 .4-.7 .5-1.1 .4-.4 .4 0 .4 .3 .5 1.1 .4 1.3 .4 .6 .5-.5 .4-1.2 .4-.6 .5 .1 .4-.6 .4 .1 .5 1.6 .4 .8 .4 .3 .5 .4 .4 .1 .4-.8 .5-.2 .4 .4 .4-1.2 .4-1.2 .5 .2 .4 1.2 .4 1.9 .5-.1 .4-1.5 .4-.6 .5-.1 .4 .1 .4 .6 .5 1 .4 .1 .4-.5 .5 .3 .4 .2 .4-.1 .5 .8 .4 .6 .4-.6 .4-1.2 .5-.4 .4 .8 .4 .1 .5-.2 .4-.2 .4-.1 .5 .2 .4 .2 .4 .1 .5-.5 .4 .3 .4 1.8 .5 .9 .4-.6 .4-1.2 .5-1.5 .4 .1 .4 1.1 .4-.1 .5 0 .4 .7 .4 .7 .5-.2 .4 0 .4 .2 .5-.3 .4-.7 .4-.7 .5-.1 .4 .4 .4 .5 .5 .2 .4 .1 .4 .5 .5 .2 .4 .1 .4-.5 .4-1.1 .5 0 .4 .5 .4 .5 .5 .2 .4 .4 .4 .9 .5 .3 .4-.8 .4-.3 .5 .5 .4 0 .4-.6 .5-.6 .4 .3 .4 1.2 .5 .3 .4-.7 .4-.2 .4-.1 .5-.4 .4-1 .4-.7 .5 .6 .4 .9 .4-.2 .5-.6 .4 .6 .4 1.6 .5 .8 .4-.6 .4-1.5 .5-.8 .4 .9 .4 1.4 .5-.2 .4-.8 .4 0 .4 .4 .5 .3 .4 0 .4-.5 .5 .2 .4 .5 .4-.7 .5-.6 .4 0 .4-.5 .5 .3 .4 .3 .4-.7 .5 .5 .4 .5 .4-.3 .5 .4 .4-.3 .4-.1 .4 .4 .5 .3 .4 .3 .4 .4 .5 0 .4-1.2 .4-1.5 .5-.1 .4 .8 .4 .4 .5 0 .4 .6 .4 1.1 .5 .2 .4-1.3 .4-.4 .5 .4 .4-.5 .4-.5 .4 .3 .5 1 .4 .3 .4-.4 .5 .4 .4 .3 .4-.3 .5-1 .4-1" stroke="#ffff00" stroke-width="1.1"/>
<path d="M555.9 622.4l.5 1.2 .4-.2 .4-.4 .5-.4 .4 0 .4 .3 .5-.3 .4-.4 .4-.5 .4 .8 .5 2 .4 1.2 .4-.4 .5-.2 .4-.6 .4-1.7 .5-.3 .4 1.3 .4 1.4 .5 .9 .4 1.8 .4 .5 .5-1 .4 .7 .4 1.4 .5-1.1 .4-2.5 .4-.9 .4 1.7 .5 1.8 .4 1.1 .4 .8 .5 .2 .4 0 .4-.6 .5-1 .4-.1 .4 .4 .5 .5 .4 .9 .4 .3 .5 1 .4 1.3 .4-.9 .5-.8 .4 0 .4 .4 .4 .6 .5-.4 .4 0 .4-.2 .5-.7 .4 .8 .4 1.1 .5-.1 .4-.2 .4-.1 .5-.1 .4 1 .4 0 .5-1 .4 .4 .4 .4 .5-.4 .4 0 .4 .1 .4 .8 .5 1.1 .4-.3 .4 .2 .5 1.6 .4 1 .4 .3 .5 .2 .4-.9 .4-1.8 .5-1.1 .4 1.8 .4 1.5 .5-.5 .4 .1 .4 .2 .5-.6 .4-.2 .4-.5 .4-.8 .5 .5 .4 1.4 .4 1.2 .5 .5 .4-.5 .4-.9 .5-.5 .4-.1 .4-.4 .5-.5 .4 1 .4 1.3 .5 .7 .4 .5 .4-.6 .5-1.2 .4 .9 .4 1.5 .4-.1 .5-.7 .4-1.5 .4 0 .5 1.6 .4 .7 .4 .2 .5-.8 .4-.9 .4 1.1 .5 .5 .4-1.2 .4-.4 .5 .3 .4 1 .4 2.3 .5 .7 .4-1.5 .4-.2 .4 .8 .5-1 .4-1.5 .4 .1 .5 .6 .4 .8 .4 1.7 .5 1 .4-.1 .4-.7 .5-.9 .4-.5 .4-.2 .5 .2 .4 .2 .4-.5 .5-.6 .4 .2 .4 .9 .4 .3 .5-.5 .4-1.5 .4-.1 .5 1.4 .4 .9 .4 .8 .5 .6 .4-.1 .4-.5 .5-.3 .4 .7 .4-.2 .5-.3 .4 .4 .4 .6 .5 1 .4 .4 .4 .1 .4-1 .5-2.3 .4-1.7 .4-.1 .5 .8 .4 .7 .4 .6 .5 1.7 .4 1.8 .4 .2 .5-1.5 .4-1.1 .4 .5 .5 .4 .4 .2 .4 .5 .5 1.2 .4 .1 .4-.3 .4 1.2 .5-.3 .4-2.3 .4-1 .5 .7 .4 .7 .4 .4 .5 .3 .4 .3 .4 1.1 .5 .7 .4-.9 .4-1.6 .5-1.7 .4 0 .4 2.3 .5 2.2 .4-.4 .4-1.5 .4 .5 .5-.4 .4-1 .4 .9 .5 .5 .4 .3 .4 .1 .5-1 .4 .8 .4 1.6 .5-.5 .4-.5 .4-.4 .5 0 .4 .5 .4 .1 .5-.8 .4-1.7 .4 0 .4 2.6 .5 1.1 .4-1.1 .4-1.2 .5-1.6 .4-1.2 .4 1.1 .5 2.4 .4 1.9 .4 .3 .5 .1 .4-.4 .4-1.5 .5-.6 .4 .5 .4-.2 .5-.9 .4 .7 .4 2.2 .4 .3 .5 .1 .4 .4 .4-.6 .5-1.8 .4-1.4 .4 .8 .5 1.6 .4 .4 .4-.1 .5 .7 .4 .1 .4-.7 .5 0 .4 .1 .4-.9 .5-.8 .4 .3 .4 .6 .4 .6 .5 .9 .4 .3 .4-.5 .5-1 .4 .3 .4 1.1 .5-1.1 .4-1 .4 1.1 .5 .8 .4 .3 .4 .9 .5-.4 .4-1.5 .4-.1 .5 1.1 .4-.3 .4-1 .4 .9 .5-.1 .4-.7 .4 2.4 .5 .4 .4-3.2 .4-.8 .5-.2 .4-.7 .4 1 .5 1 .4 1.3 .4 .9 .5-.7 .4-1 .4-.9 .5 .1 .4 .9 .4-.6 .4-1.1 .5 1 .4 1 .4-.4 .5-.5 .4 .6 .4 1 .5-.4 .4-1.6 .4 .1 .5 1.8 .4 .8 .4-.5 .5 .2 .4-.4 .4-1.5 .5-.1 .4-.6 .4-1.2 .4 .6 .5 1.2 .4 1 .4 1.1 .5 .9 .4-.2 .4-.5 .5-.5 .4-1.6 .4 .3 .5 1.1 .4-.2 .4 .3 .5 .5 .4 .7 .4-.2 .5-1.9 .4-.7 .4 1.3 .4 .2 .5-1 .4-.3 .4 .8 .5 .1 .4-.5 .4 .5 .5 .8 .4-.1 .4-.8 .5-.3 .4 .5 .4-.1 .5 .1 .4 1.1 .4 .4 .5-1 .4-.3 .4 .9 .4-.8 .5-1.8 .4 .8 .4 1.4 .5-.7 .4-.3 .4 1.6 .5 .7 .4-1.7" stroke="#800000" stroke-width="0.9" stroke-dasharray="3 1.5"/>
<path d="M580.1 630.9l.4-.8 .5-1.1 .4 .6 .4 1.3 .5-.5 .4 .5 .4-.9 .5 2 .4-1.4 .4-2.3 .4-.7 .5 3.8 .4-1.8 .4 2.2 .5 0 .4-.2 .4-.9 .5-1.9 .4 .2 .4 .9 .5 1 .4 .1 .4 .4 .5-1.1 .4 1.1 .4-1 .5-.1 .4 .1 .4 .1 .4 .6 .5-.8 .4 1.4 .4-2 .5 1.5 .4-.1 .4-.5 .5 .1 .4 .6 .4-.6 .5 .2 .4 .4 .4 .4 .5-.5 .4-1.6 .4 1.6 .5 2.1 .4-.2 .4 0 .4-2 .5 .9 .4-2.8 .4 1.5 .5 .8 .4 1.1 .4-.9 .5 1.4 .4 .5 .4-1.8 .5 .2 .4-1.4 .4 1.5 .5 3.4 .4-3.1 .4 3.1 .5-3.5 .4-.5 .4 1.9 .4 .6 .5 .5 .4-1.9 .4 1.7 .5 .9 .4-.3 .4-2.6 .5 1.5 .4-.7 .4 .1 .5 .2 .4 .5 .4 2.4 .5-.3 .4 .4 .4-.4 .5-2.2 .4 1.7 .4-.1 .4 1.2 .5 .4 .4-1.1 .4 1.2 .5-.3 .4-1.3 .4-.1 .5 0 .4 1.2 .4 2.5 .5-2.1 .4 .2 .4-.8 .5 1.5 .4-3.6 .4 4.1 .5-1.5 .4 1.3 .4 1 .4-1.2 .5 .9 .4 1.8 .4-1.4 .5-1.5 .4-1.4 .4 4.4 .5-.9 .4-1.3 .4 .7 .5 .7 .4 .8 .4 .4 .5-.7 .4 .2 .4 2.6 .5-.3 .4-2.1 .4 .4 .4 0 .5-.4 .4 .8 .4-1.3 .5-.1 .4-.1 .4 1.5 .5-.3 .4-1.1 .4-.4 .5 .5 .4 .8 .4 2.5 .5 1.4 .4-2.5 .4 .8 .5-.4 .4 .6 .4 .5 .4-2.4 .5 1.6 .4 2 .4-1.4 .5-.1 .4-.6 .4-2 .5 2.3 .4 1.6 .4-.8 .5 1.2 .4-1 .4 .2 .5-.5 .4 .6 .4-1.1 .5 1.2 .4-.5 .4 1.4 .4 1.1 .5-1.7 .4 .9 .4-2.6 .5 .9 .4 .2 .4 .8 .5 .7 .4 2.8 .4-3.7 .5 1.9 .4-2.3 .4 1.4 .5-.4 .4 .5 .4 1.4 .5-.4 .4-.6 .4 .7 .4 .4 .5-1.1 .4-.9 .4-.6 .5 .8 .4 1 .4 1.5 .5-2.2 .4 .5 .4-.1 .5-1.4 .4 .5 .4 .6 .5 2.2 .4-.3 .4 1 .5-2.4 .4-.3 .4-1.1 .4 .9 .5 1 .4-2.1 .4 3.6 .5 .2 .4-1.1 .4-1.6 .5 .6 .4 .1 .4 1.1 .5-2.2 .4 2.6 .4 .5 .5-1.3 .4 .3 .4-1 .5-1.7 .4 2.2 .4 .1 .4 .7 .5 0 .4-1.3 .4-.1 .5 .5 .4 .4 .4-.6 .5-.5 .4 1.4 .4 .3 .5 1.6 .4-3.3 .4 2.1 .5-.4 .4-.8 .4 0 .5 .5 .4 1.1 .4-.5 .4-.1 .5 .8 .4-1.9 .4 .5 .5-.7 .4 1 .4-.8 .5 .4 .4-.6 .4-.7 .5 .1 .4 .9 .4-1.3 .5 2.9 .4-.5 .4-.8 .5 .9 .4-1.5 .4 1.2 .4-.4 .5-.9 .4 .4 .4-.1 .5 1.5 .4-.5 .4-.8 .5-.2 .4 1.6 .4-.6 .5-1.7 .4 3.3 .4-1.7 .5 1.1 .4-1.9 .4 1.4 .5-1.1 .4 2.2 .4-1.7 .4-.6 .5 3 .4-2.8 .4 1.7 .5-1.2 .4 2.5 .4-4 .5 2.3 .4 .2 .4 1.1 .5-.1 .4-2.5 .4 1.3 .5-1.9 .4 1 .4-.3 .5 1.4 .4-.5 .4-2.1 .4 1.8 .5-.2 .4 .6 .4-1.8 .5-.1 .4 3.6 .4 .1 .5-3.3 .4 1.6" stroke="#ff00ff" stroke-width="1.1"/>
<path d="M562.8 631.5l.5 3.6 .4-3.6 .4 2.1 .5-4 .4 2.2 .4 1.3 .5-1.2 .4 1.9 .4 .2 .5-.2 .4-.2 .4-1.2 .4 0 .5 1.1 .4-1.1 .4 4 .5-1.2 .4-2 .4 2 .5-3.1 .4 1.5 .4 1.7 .5-.5 .4 1.2 .4 .6 .5-3.2 .4-.3 .4 1.3 .5 .6 .4 2.8 .4-1.6 .4-1 .5-1.4 .4-1.6 .4 2.4 .5 .8 .4-1.6 .4 1.2 .5 1 .4-3.7 .4 2.1 .5-.3 .4 1 .4-1.2 .5-.8 .4 1.3 .4-1.5 .5 .5 .4-3.4 .4 1.3 .4 2.8 .5-1.3 .4-.9 .4-.1 .5 .8 .4-.9 .4-.8 .5 .6 .4 1.7 .4-1.9 .5 1 .4 .7 .4-3.1 .5-.7 .4 .9 .4-1 .5-.6 .4 1 .4 .4 .4-1.1 .5 1.6 .4-1.3 .4 .2 .5-.5 .4-1.8 .4 2.9 .5-4 .4 1.4 .4-1.4 .5 .9 .4 1.3 .4-2.9 .5 1 .4-2.1 .4 1 .5 0 .4-.5 .4-2.1 .4 .9 .5 .2 .4-2.4 .4 2 .5 .8 .4 1.5 .4-.9 .5 .1 .4 .5 .4 1.1 .5-2.1 .4 .1 .4 1.3 .5 1.1 .4 .3 .4-.8 .5-2.4 .4 1.4 .4 2.6 .4-1.8 .5 2 .4-2.8 .4 3 .5-.6 .4-.3 .4 .3 .5 1.1 .4 .8 .4 .8 .5 .4 .4-.5 .4 .9 .5-.5 .4 .9 .4 .6 .5 .6 .4-.3 .4-.9 .4 .6 .5-.3 .4 .4 .4 1.4 .5 .4 .4-.5 .4 2.1 .5-3 .4 1.4 .4 4.2 .5-4.1 .4 2.6 .4-2.2 .5 2 .4-1.2 .4-1 .5 2.1 .4 1 .4-.3 .4-1.4 .5 .2 .4-.6 .4 1.1 .5 .2 .4 .1 .4 1.3 .5 2.1 .4-1.9 .4 1.2 .5 .3 .4-.9 .4 1 .5-.3 .4 1.2 .4 .9 .5-.6 .4 .4 .4-.1 .4-1.3 .5 1.8 .4 1.6 .4 0 .5 .1 .4-.8 .4 1.5 .5-2 .4 1.8 .4-.5 .5-.1 .4 .6 .4 1.2 .5 .2 .4-2 .4 .7 .5 3.3 .4-.2 .4-2.5 .4 .8 .5-2.4 .4 2 .4 .2 .5 1.9 .4 .9 .4 1.1 .5 1.2 .4-4.7 .4 .5 .5 2.1 .4-1.1 .4 3.4 .5-3.5 .4 .9 .4-1.7 .5 3.9 .4-3.2 .4 1.3 .4 1.2 .5 1.5 .4-1.7 .4-.3 .5 .9 .4 1.3 .4 .3 .5-.1 .4-1.8 .4-.3 .5-1 .4 1.2 .4 2.5 .5-.2 .4 1.1 .4-.8 .5-2.1 .4 1.3 .4 0 .4-.9 .5 .3 .4 .3 .4 2.5 .5-.2 .4-1 .4-1.8 .5 .6 .4 1.8 .4-2.7 .5 3.1 .4-.5 .4-.5 .5 .3 .4-1 .4 .2 .5 .3 .4 .4 .4 .9 .4 0 .5-2.8 .4 1.3 .4-1.4 .5 1.3 .4-2.1 .4 3.3 .5 1.4 .4-2.1 .4-2.1 .5-.7 .4 .6 .4 1.8 .5-1 .4 2.7 .4-1 .5-.1 .4-1.7 .4-.5 .4 2 .5-.2 .4 .8 .4-.7 .5-1 .4-1.8 .4 1.6 .5 .4 .4-.4 .4 .3 .5 1 .4-3.5 .4 1.9 .5 0 .4 .6 .4-.5 .5 .9 .4-1.2 .4-2.2 .4 2.5 .5 1.4 .4-3.3 .4 1.6 .5-.5 .4-.5 .4 .7 .5-1.1 .4 2.2 .4-1.5 .5 .2 .4 1.6 .4-.9 .5-1.3 .4-1 .4 .5 .5-1.4 .4 1.2 .4 .1 .4 2.8 .5-2.2 .4-1.2 .4 .5 .5-.4 .4 1.4 .4 .6 .5-1 .4-.7 .4-.1 .5-.5 .4-1 .4 1.1 .5 0 .4 .2 .4 .2 .5-.1 .4-2.8 .4 2.1 .4-.3 .5 2.1 .4 1 .4-.6 .5-1.6 .4 .7 .4-2.3 .5 1.9 .4 .6 .4-2.2 .5 2 .4-.4 .4-4.1 .5 2.6 .4 .8 .4 1.2 .5-1.7 .4 0 .4 3.7 .4-3.3 .5-.4 .4 0 .4 2.7 .5-1 .4-2.1 .4 .2 .5 2 .4-1.7" stroke="#000080" stroke-width="0.9" stroke-opacity="0.9"/>
<path d="M559.4 630.4l.4 3.7 .4-5.4 .5 0 .4 2 .4-.3 .5-.3 .4 1.8 .4-.5 .5 1.4 .4-4.1 .4 1.2 .5 .6 .4 3.8 .4-6 .5 1.9 .4 .4 .4-4.1 .5 4.6 .4 3.2 .4-2 .4 2.6 .5-6.7 .4 2.7 .4 1.4 .5-2.5 .4 5 .4-4.7 .5 3.9 .4-2.6 .4 1.7 .5-3.9 .4-.4 .4 3.1 .5-3.1 .4 1.5 .4-.9 .5 3.2 .4 1.9 .4-.5 .4-4.9 .5-3.9 .4 3.9 .4 2.2 .5-4 .4 2.5 .4-.8 .5-.9 .4 .9 .4 1.1 .5 2.5 .4-3.8 .4 .1 .5-3.1 .4 2.9 .4 3.5 .5-2.8 .4-3.5 .4 2.8 .4 0 .5 .4 .4 .3 .4-.8 .5 1.5 .4-5.8 .4 2.3 .5-1.1 .4-1.9 .4 .5 .5 3.2 .4-1.8 .4-1.8 .5 1.2 .4 3.3 .4-3.7 .5-.3 .4 .2 .4 1.4 .4-1.9 .5 .9 .4 .1 .4-2.6 .5-1 .4 .5 .4-.7 .5-.2 .4 1.8 .4 .5 .5 .7 .4-2.2 .4-5.2 .5 2.4 .4 2.7 .4 .7 .5 .5 .4-3.3 .4-1 .4 3.1 .5-2.9 .4 2.9 .4-3.3 .5 1.8 .4-3.5 .4 3.9 .5 .5 .4 0 .4-.9 .5 .6 .4 2.5 .4-2.7 .5 1 .4 1.9 .4 1.2 .5-4.4 .4 3.3 .4 .7 .4-1.9 .5 2.1 .4 1.3 .4-1.4 .5 0 .4 0 .4-.5 .5 2.4 .4 2.7 .4-.2 .5-.2 .4-1.7 .4 2.7 .5 2.5 .4-2.3 .4 3 .5 .7 .4-4.7 .4 2.2 .4-1.3 .5 3 .4 1.5 .4-.1 .5-2 .4-.4 .4 1.8 .5 .1 .4 2.9 .4-3.1 .5 2.7 .4-3.1 .4-1 .5 .5 .4-.4 .4 5.8 .5-4.8 .4-1.2 .4 1 .4 4.5 .5-1.6 .4-2.5 .4 5.4 .5-4 .4-.8 .4 4.4 .5-1.4 .4 3.2 .4-1 .5-.5 .4-1.7 .4 1.5 .5-.8 .4 3.7 .4-1.9 .5-2.5 .4 .7 .4 4.3 .4-2.5 .5 2.5 .4-1.9 .4-.6 .5-1.9 .4 2.7 .4 4.6 .5-.3 .4-4.1 .4 1 .5-2.9 .4 2.1 .4 2.9 .5-2.6 .4 3.2 .4 1.6 .5-7.9 .4 7.5 .4-3.6 .4 .2 .5 1.5 .4 2.6 .4-5.5 .5 4.7 .4 .7 .4-.9 .5-1.9 .4 .3 .4-1.6 .5 2.3 .4 .3 .4 2.7 .5-1.2 .4-2.2 .4 .8 .5-1.6 .4 2.6 .4 1 .4-.7 .5-.1 .4-2.2 .4 .4 .5-2.2 .4 4.5 .4 .5 .5 1.2 .4-2.7 .4-1.6 .5 2.9 .4-.3 .4-.7 .5 1.4 .4-.1 .4-3.2 .5 1.8 .4 .3 .4-.6 .4 .1 .5 2 .4-.4 .4-1.4 .5 1.6 .4 4 .4-5.6 .5 1.6 .4-2 .4 3.3 .5-3.8 .4 4.3 .4-.6 .5 1.8 .4-3 .4-.2 .5 .5 .4-.2 .4 1.1 .4-2.1 .5 1.8 .4 .5 .4-1.3 .5-.3 .4-.5 .4 .5 .5 3.9 .4-4.5 .4-1.6 .5 3.4 .4 1.7 .4-1.6 .5 .7 .4-2.7 .4 1.3 .5-1.7 .4 2.4 .4 2.2 .4-3.1 .5-1.3 .4 2.7 .4 .4 .5 4.3 .4-5.6 .4 2.1 .5 1.9 .4-.9 .4-2.2 .5-1 .4 1.9 .4-1.6 .5 1.9 .4 .1 .4-3.6 .5 1.5 .4 1.4 .4-2.8 .4 3.2 .5-1.6 .4-2.3 .4-.6 .5 3.8 .4-3.2 .4 3.2 .5-2.4 .4 1.1 .4 3.3 .5-2.6 .4-1.4 .4 1.2 .5-.9 .4-2.7 .4 5.5 .5 1.2 .4-1.5 .4 .3 .4-5.5 .5 1.7 .4 2.8 .4 .3 .5-6 .4 5.6 .4-.6 .5-2.3 .4-.1 .4 1.6 .5 2.4 .4 0 .4-4.1 .5 .7 .4 3.2 .4-4.2 .5 1.2 .4 1.4 .4-.8 .4-1.5 .5 1.8 .4 2 .4-2.4 .5 3 .4-4.2 .4 2.6 .5-2.3 .4 .8 .4-2.8 .5 5.1 .4-.1 .4-2.3 .5 .8 .4-.3 .4-1 .5-.6 .4-2.3 .4 3.5 .4-6.4 .5 1.8 .4 4.8 .4 4 .5-4.6 .4-1.2 .4 3.9 .5-3.8 .4 1.3" stroke="#0000ff" stroke-width="1.0"/>
<path d="M533.5 545.6l.2 7.8 .2 10.6 .2 4.4 .1 6.3 .2-4.1 .2 6.6 .2 0 .2 .2 .2 1.5 .1-2 .2 3.2 .2 1.2 .2 1.8 .2-1.2 .2 4.9 .1 .5 .2-.2 .2 4.3 .2-1.9 .2-1.8 .2-1.2 .1 1.9 .2 1.8 .2-3.2 .2 3.8 .2 .6 .2 .8 .2 1.4 .1 1.7 .3-1.3 .4 2.6 .5-1.5 .4 .8 .4 3.2 .5 0 .4 .2 .4-.5 .5 .3 .4 .2 .4-.1 .4 2.3 .5 7.1 .4-8.4 .4 6 .5 1.6 .4-1.7 .4 2.9 .5-6 .4 1.2 .4 3.9 .5 3.4 .4-2.4 .4-2 .5 1.2 .4-2.9 .4 4 .5 1.3 .4 2.4 .4-2.2 .4 .4 .5 3.6 .4-6.3 .4 5.7 .5-1 .4-3.4 .4 2 .5 .9 .4 1.1 .4 3.2 .5-5.9 .4 1.2 .4 2.1 .5-1.3 .4 2.2 .4 2 .5-3.2 .4-.2 .4 .4 .4 1.4 .5-.1 .4 2.5 .4-3.2 .5 1.8 .4-1.1 .4 4.5 .5 1.3 .4-4.4 .4-6.1 .5 3.4 .4 3.4 .4-3.8 .5 4 .4-1.2 .4-2 .5 2.3 .4 1.9 .4 .7 .4-2 .5-2.9 .4 4.9 .4 .3 .5-2.8 .4-2.9 .4 6.6 .5-4.3 .4-1.1 .4 4.7 .5 .8 .4-4.5 .4 2.3 .5 .7 .4 1.2 .4 2.4 .5 1.2 .4-7.7 .4-1.4 .4 3.6 .5 2.2 .4-1 .4 .2 .5 1.7 .4-.8 .4-1.6 .5 2.6 .4 1.7 .4-1.5 .5-5 .4 5.3 .4-3.3 .5 1.6 .4 1.7 .4-2.4 .5-.9 .4 1 .4 1.3 .4-2.3 .5-.4 .4 1.8 .4 .1 .5 2.8 .4-.1 .4-2 .5 3 .4-4.8 .4 1.3 .5 1.5 .4 1.8 .4-2.7 .5-.8 .4-.9 .4 5.6 .5-3.2 .4-2.3 .4 1 .4-.4 .5-2.1 .4-2.2 .4 3.6 .5-1.3 .4-.1 .4-1.2 .5 1.5 .4 3.5 .4-3.2 .5-2.5 .4 2.1 .4-1.3 .5-.4 .4 .6 .4 .5 .5-5.2 .4 1.8 .4 3.4 .4 4 .5-3.5 .4-2.2 .4 .2 .5 0 .4-1.5 .4 1.9 .5-1.9 .4 3.7 .4-2.6 .5-1.2 .4 5.1 .4-5.2 .5 4.5 .4-1.9 .4-3.3 .5 8.4 .4-4.5 .4 3.1 .4-1.3 .5-2.2 .4 1.5 .4 .4 .5 1.5 .4-.6 .4 .8 .5-2 .4 6.6 .4-4.5 .5 .4 .4-3.2 .4-.2 .5 6.3 .4-2 .4 3 .5-1.4 .4-3.2 .4 1 .4 1.6 .5 2.3 .4-.7 .4 1.3 .5-1.2 .4-1.2 .4 4.9 .5-.2 .4-3.3 .4 .5 .5 1.7 .4-.5 .4-.4 .5 4 .4-.1 .4-3.6 .5 2.6 .4 .6 .4 1.1 .4-.1 .5-2.6 .4-.5 .4 3.7 .5-2.4 .4-.5 .4 1.7 .5-1.5 .4-1.8 .4 6.7 .5 .5 .4-1.8 .4-1.8 .5-1.4 .4 1.9 .4 5.3 .5-5 .4-1.3 .4 3 .4-2.3 .5 3.7 .4 .6 .4 .1 .5-5.3 .4 3.9 .4-.4 .5 .4 .4 3 .4-2.1 .5-1.4 .4-3 .4 6.8 .5-1.2 .4-.6 .4-.4 .5-3.6 .4 3.4 .4 2.3 .4-1.7 .5-1.7 .4 2.7 .4-3.1 .5 1.6 .4 2.7 .4 1.3 .5-4.3 .4-.3 .4 3.5 .5 .7 .4-3.3 .4 3.6 .5 1.3 .4-3.4 .4 .4 .5 .3 .4 2.1 .4-5.5 .4 3.5 .5-.8 .4-.1 .4 2.7 .5 3.9 .4-6.9 .4 .4 .5 2.8 .4-1.9 .4 .4 .5 1.8 .4 .6 .4 .9 .5-1.5 .4 1.8 .4-1.3 .5 3.4 .4-5.4 .4 3.1 .4-.1 .5-4.3 .4 3.1 .4-3 .5 1.2 .4 .7 .4 2.2 .5 .3 .4-3.4 .4 3.5 .5-.4 .4-.6 .4 1.2 .5-4.2 .4 2.3 .4 .1 .5 .5 .4 4.7 .4-5.5 .4 2.1 .5-2.6 .4 3.2 .4 2.4 .5-1.5 .4-.4 .4-2.7 .5 1.6 .4-4.3 .4 5.5 .5 2.3 .4-3.2 .4-3.8 .5 2.5 .4 3.3 .4 0 .5-2.9 .4-2.8 .4 3.5 .4-3.2 .5 5.3 .4-4.9 .4 3 .5 .6 .4-1.8 .4 .9 .5-.5 .4-1 .4-.6 .5 2 .4-1.2 .4 2.1 .5-.4 .4-.2 .4-.6 .5-6.3 .4 6.5 .4 3.7 .4-2.8 .5-4.3 .4 .2 .4 2.9 .5-2.2 .4-1.6 .4 5.6 .5-4 .4-1.7 .4 .1 .5 2.8 .4-1.4 .4 2.4 .5-5.9 .4 4.6 .4 3.3 .5-3.1 .4-.6 .4 .3 .4-1.4 .5-.7 .4 2.8 .4 .5 .5-3.7 .4-.8 .4 3 .5-.4 .4 2.1 .4-2.1 .5-2.3 .4-1.1 .4 3.3 .5 .2 .4 2.2 .4-4 .5-.2 .4 1 .4 .1 .4 5 .5-1.8 .4-3.1 .4-3.1 .5 4 .4-.3 .4-1 .5 2.5 .4-3.3 .4 1.5 .5-3.6 .4 4.7 .4-1.4 .5 1.5 .4-2.7 .4 1.9 .5-1.8 .4 5.2 .4-6.5 .4 1.8 .5-1.1 .4 3.3 .4-.4 .5 .2 .4-.9 .4-1.8 .5 3.5 .4 4" stroke="#00c0e8" stroke-width="1.45"/>
<path d="M533.5 605.7l.3 5.8 .3 5.1 .3 3.1 .3 2.7 .3 2.3 .3 2.1 .3 1.9 .4 1.8 .3 1.7 .3 1.6 .3 1.5 .3 1.5 .3 1.4 .3 1.1 .3 .7 .3 .6 .3 .5 .3 .5 .3 .6 .3 .4 .3 .5 .3 .5 .4 .5 .3 .4 .3 .5 .3 .4 .3 .4 .3 .4 .3 .4 .4 .9 2.9 1.8 2.8 2.1 2.9 1.9 2.9 1.6 2.8 1.3 2.9 1.3 2.8 1.2 2.9 1.1 2.8 1.1 2.9 .9 2.8 .9 2.9 .8 2.9 .8 2.8 .7 2.9 .8 2.8 .7 2.9 .8 2.8 .7 2.9 .7 2.8 .7 2.9 .6 2.9 .7 2.8 .7 2.9 .6 2.8 .6 2.9 .6 2.8 .6 2.9 .6 2.8 .6 2.9 .5 2.9 .5 2.8 .5 2.9 .5 2.8 .5 2.9 .5 2.8 .5 2.9 .5 2.8 .5 2.9 .4 2.8 .5 2.9 .4 2.9 .4 2.8 .4 2.9 .4 2.8 .3 2.9 .4 2.8 .3 2.9 .4 2.8 .3 2.9 .3 2.9 .4 2.8 .3 2.9 .3 2.8 .4 2.9 .3 2.8 .3 2.9 .3 2.8 .3 2.9 .3" stroke="#ff0000" stroke-width="1.05"/>
</g>
<text x="533.3" y="714.2" font-size="10" text-anchor="middle" fill="#4a4a4a">0</text>
<text x="710.7" y="714.2" font-size="10" text-anchor="middle" fill="#4a4a4a">2000</text>
<text x="603.6" y="722.8" font-size="10.1" text-anchor="middle" fill="#4a4a4a">Frequency (MHz)</text>
<text transform="translate(500.3 622.4) rotate(-90)" font-size="10.1" text-anchor="middle" fill="#4a4a4a">Magnitude (dB)</text>
</g>
<g id="c4">
<text x="138.7" y="747.7" font-size="15.2" font-weight="bold" text-anchor="middle" fill="#000">ACRF</text>
<rect x="62.0" y="757.4" width="177.9" height="154.8" fill="#fff" stroke="#a0a0a0" stroke-width="1.3"/>
<line x1="56.4" y1="912.3" x2="62.5" y2="912.3" stroke="#1a1a1a" stroke-width="1.8"/>
<text x="53.8" y="915.5" font-size="10" text-anchor="end" fill="#4a4a4a">0</text>
<line x1="62.0" y1="886.5" x2="239.9" y2="886.5" stroke="#3a3a3a" stroke-width="1"/>
<line x1="56.4" y1="886.5" x2="62.5" y2="886.5" stroke="#1a1a1a" stroke-width="1.8"/>
<text x="53.8" y="889.7" font-size="10" text-anchor="end" fill="#4a4a4a">20</text>
<line x1="62.0" y1="860.5" x2="239.9" y2="860.5" stroke="#3a3a3a" stroke-width="1"/>
<line x1="56.4" y1="860.7" x2="62.5" y2="860.7" stroke="#1a1a1a" stroke-width="1.8"/>
<text x="53.8" y="863.9" font-size="10" text-anchor="end" fill="#4a4a4a">40</text>
<line x1="62.0" y1="834.5" x2="239.9" y2="834.5" stroke="#3a3a3a" stroke-width="1"/>
<line x1="56.4" y1="834.9" x2="62.5" y2="834.9" stroke="#1a1a1a" stroke-width="1.8"/>
<text x="53.8" y="838.1" font-size="10" text-anchor="end" fill="#4a4a4a">60</text>
<line x1="62.0" y1="809.5" x2="239.9" y2="809.5" stroke="#3a3a3a" stroke-width="1"/>
<line x1="56.4" y1="809.1" x2="62.5" y2="809.1" stroke="#1a1a1a" stroke-width="1.8"/>
<text x="53.8" y="812.3" font-size="10" text-anchor="end" fill="#4a4a4a">80</text>
<line x1="62.0" y1="783.5" x2="239.9" y2="783.5" stroke="#3a3a3a" stroke-width="1"/>
<line x1="56.4" y1="783.3" x2="62.5" y2="783.3" stroke="#1a1a1a" stroke-width="1.8"/>
<text x="53.8" y="786.5" font-size="10" text-anchor="end" fill="#4a4a4a">100</text>
<line x1="56.4" y1="757.5" x2="62.5" y2="757.5" stroke="#1a1a1a" stroke-width="1.8"/>
<text x="53.8" y="760.7" font-size="10" text-anchor="end" fill="#4a4a4a">120</text>
<clipPath id="c4c"><rect x="62.0" y="757.4" width="178.5" height="155.4"/></clipPath>
<g clip-path="url(#c4c)" fill="none" stroke-linejoin="round">
<path d="M62 824.6l.3 9.4 .3 7.6 .3 3.7 .3 2.8 .3 2.5 .3 2.2 .3 2 .4 1.9 .3 1.4 .3 .9 .3 .8 .3 .7 .3 .7 .3 .6 .3 .6 .3 .6 .3 .6 .3 .6 .3 .6 .3 .5 .3 .5 .3 .5 .4 .5 .3 .5 .3 .5 .3 .5 .3 .5 .3 .4 .3 .5 .4 1.3 2.9 2.4 2.9 2.3 2.8 1.8 2.9 1.7 2.8 1.5 2.9 1.5 2.8 1.3 2.9 1.3 2.9 1.2 2.8 .8 2.9 .7 2.8 .6 2.9 .6 2.8 .5 2.9 .6 2.9 .5 2.8 .5 2.9 .6 2.8 .4 2.9 .5 2.8 .5 2.9 .5 2.8 .4 2.9 .5 2.9 .4 2.8 .4 2.9 .4 2.8 .4 2.9 .3 2.8 .3 2.9 .4 2.9 .3 2.8 .3 2.9 .4 2.8 .3 2.9 .3 2.8 .3 2.9 .3 2.9 .3 2.8 .3 2.9 .3 2.8 .3 2.9 .3 2.8 .2 2.9 .3 2.9 .3 2.8 .2 2.9 .3 2.8 .2 2.9 .3 2.8 .2 2.9 .3 2.9 .2 2.8 .3 2.9 .2 2.8 .3 2.9 .2 2.8 .2 2.9 .2" stroke="#ff0000" stroke-width="1.05"/>
<path d="M62 829.6l.2 3.6 .1 3.5 .2 2.2 .1 1.5 .2 1.8 .1 2.1 .2 1.3 .1 .4 .2 .9 .1 1.6 .2 1.2 .2 .5 .1 .7 .2 .3 .1 .3 .2 .8 .1 .8 .2 .6 .1 .8 .2 .6 .1 .4 .2 .5 .2 .6 .2 .7 .4 .8 .4 .9 .4 .9 .4 .6 .5 1 .4 1.2 .4 .5 .4 .7 .4 .8 .4 .1 .4-.2 .4 .3 .4 .7 .4 .2 .4 .4 .4 .8 .4 .1 .4-.5 .4-.2 .4 .2 .4 .4 .5 .5 .4 .1 .4 .3 .4 .7 .4 .2 .4 .3 .4 .3 .4-.1 .4 .3 .4-.1 .4-.1 .4 .8 .4 .3 .4-.2 .4 .7 .4 .3 .4-.3 .4 0 .5 .2 .4 0 .4-.1 .4 .2 .4 .6 .4 .7 .4 .6 .4 .1 .4-.1 .4 .1 .4-.6 .4-.1 .4 .9 .4 .5 .4-.2 .4-.1 .4 .4 .5 .3 .4 0 .4-.1 .4-.1 .4 .5 .4 .1 .4-.2 .4 .2 .4 .4 .4-.2 .4-.2 .4 .3 .4 .6 .4 .7 .4-.2 .4-.4 .4 .1 .5 0 .4-.6 .4 0 .4 .5 .4 .6 .4 1.2 .4 .3 .4-.8 .4-.2 .4 0 .4 .1 .4 .2 .4 0 .4 .4 .4 .5 .4-.2 .4-.6 .4 .1 .5 .6 .4 .3 .4 0 .4-.3 .4-.4 .4 .4 .4 .5 .4-.1 .4 .1 .4 .5 .4-.2 .4-.6 .4 .1 .4 .7 .4 .3 .4 .3 .4 .1 .5-.5 .4-.1 .4 .5 .4 .5 .4-.1 .4-.4 .4 .1 .4 .2 .4-.2 .4 0 .4 .6 .4 .3 .4 .2 .4-.1 .4-.5 .4-.2 .4 .4 .5 .7 .4 .1 .4-.3 .4-.1 .4 .1 .4 0 .4-.5 .4-.6 .4 0 .4 .3 .4 .5 .4 .2 .4 .2 .4 0 .4 .4 .4 .3 .4-.1 .4-.3 .5-.1 .4 .5 .4 .3 .4 .1 .4-.1 .4-.5 .4 .1 .4 .3 .4 .3 .4 .7 .4 0 .4-.8 .4-.3 .4 .7 .4 .2 .4 .1 .4 .5 .5 .1 .4-.5 .4-.2 .4-.3 .4-.3 .4 .2 .4 0 .4-.5 .4 .3 .4 1.1 .4-.1 .4-.3 .4 .6 .4 .4 .4 .1 .4 .1 .4-.2 .5-.7 .4-.7 .4 0 .4 1 .4 .8 .4-.3 .4-.4 .4-.1 .4 .5 .4 .5 .4 0 .4 .4 .4-.3 .4-.8 .4-.6 .4 .4 .4 1.2 .4-.5 .5-.7 .4 .3 .4 .3 .4 .3 .4-.5 .4 0 .4 1 .4 .2 .4-.2 .4-.4 .4-.7 .4-.4 .4-.5 .4 .1 .4 1.1 .4 1 .4 .7 .5 .3 .4-.5 .4-.4 .4 .2 .4-.3 .4-.2 .4 .5 .4-.7 .4-1.7 .4 .2 .4 1.9 .4 .8 .4-.2 .4-.8 .4-1.5 .4-.3 .4-.4 .5 .3 .4 2 .4 .8 .4-.9 .4-.6 .4 .3 .4-.5 .4-.9 .4 .1 .4 1.5 .4 2.4 .4 .1 .4-2.3 .4 0 .4 1.9 .4 .3 .4 .4 .4 .4 .5-1 .4-.1 .4-.6 .4-1 .4 0 .4-.2 .4 .1 .4 .5 .4-.8 .4-1 .4 .3 .4 .7 .4 1 .4-.1 .4 .2 .4 2.7 .4 .3 .5-2.3 .4 .7 .4 .8 .4-1.4 .4-.7 .4 .2 .4 1.3 .4 .4 .4-1 .4 0 .4-.4 .4-1.5 .4-.1 .4 1.4 .4 1 .4 1 .4 1.2 .5-.1 .4-.3 .4-.4 .4-1.2 .4-1.4 .4-1.9 .4 1.1 .4 2.9 .4 .4 .4-.8 .4-1 .4-.8 .4-.3 .4 0 .4 .5 .4 2.4 .4 2.5 .4-.4 .5-1.4 .4-.3 .4-1.1 .4-1.8 .4-.3 .4 .3 .4 0 .4 .3 .4 1.2 .4 .7 .4 .2 .4-1.6 .4-.5 .4 2.8 .4 .4 .4-1.5 .4 .5 .5 .2 .4-1.6 .4-.9 .4-.2 .4 1.3 .4 2 .4-1 .4-1 .4 1.7 .4 0 .4-2.1 .4-1 .4 1.4 .4 .8 .4-1.6 .4 .5 .4 1.2 .5 .1 .4 .8 .4 .6 .4-1.3 .4-.7 .4 2.9 .4 1.2 .4-2.8 .4-1.8 .4-.9 .4 .1 .4 1.8 .4 .2 .4-1.3 .4-1 .4 1 .4 2.8 .4 1.1 .5-.2 .4-.6 .4-1.6 .4 .2 .4 1.2 .4-.8 .4-1.8 .4 .5 .4 1 .4-.3 .4-.2 .4-.7 .4-.3 .4 1 .4 .1 .4-.8 .4-.4 .5 .7 .4 1.4 .4 .7 .4 .1 .4 .1 .4-.9 .4-.5 .4 .4 .4 1.2 .4 1.1 .4-.8 .4-1.6 .4 .5 .4 1.8 .4 .9 .4 .9 .4 .2 .5-2.8 .4-1 .4 1.5 .4 1.5 .4-.5 .4-1.8 .4-.4 .4-.7 .4-1 .4 1.8 .4 3 .4 .6 .4-.5 .4 .6 .4 1.3 .4-.1 .4-1.6 .4-1.6 .5-.9 .4-.6 .4 .4 .4 2.8 .4 .7 .4-1.6 .4 .5 .4 .8 .4-1.2 .4-.8 .4 1.4 .4 2.4 .4 .9 .4-.2 .4-.7 .4-.6 .4 .2 .5 .7 .4 .1 .4-3.2 .4-2.4 .4 .5 .4 1.1 .4 1.6 .4 .7 .4-.5" stroke="#d0a070" stroke-width="0.9" stroke-dasharray="2.5 1.5"/>
<path d="M62 828.1l.2 2.6 .1 3.7 .2 2.7 .1 2 .2 1.9 .1 1.2 .2 1.2 .1 1.5 .2 1.7 .1 1.1 .2 .3 .2 .7 .1 .9 .2 .5 .1 .8 .2 1.4 .1 1.1 .2 .5 .1 .5 .2 .4 .1-.1 .2 .1 .2 .3 .2 .7 .4 1 .4 1 .4 1.1 .4 1.2 .5 .9 .4 .6 .4 .8 .4 .5 .4-.1 .4-.1 .4 .5 .4 .8 .4 .4 .4-.3 .4 .3 .4 1.2 .4-.1 .4-.4 .4 .5 .4 .2 .4-.3 .5 .2 .4 .8 .4 .5 .4 .4 .4 .1 .4 0 .4-.1 .4 .4 .4 .3 .4 0 .4 .2 .4 .7 .4 .4 .4 0 .4 .5 .4 .4 .4-.3 .4-.3 .5 .3 .4 .5 .4-.4 .4-.1 .4 .8 .4 .5 .4 .3 .4 .3 .4 .5 .4 .1 .4-.4 .4-.6 .4 0 .4 1.1 .4 .7 .4-.4 .4-.2 .5 .1 .4 .4 .4 .5 .4-.2 .4-.4 .4 .3 .4 .3 .4 .1 .4 .5 .4 .1 .4-.1 .4 .6 .4 .1 .4-.3 .4-.1 .4 .3 .4 .4 .5 .3 .4-.6 .4-.7 .4 .4 .4 .4 .4 .1 .4-.2 .4-.1 .4 .6 .4 .8 .4 .1 .4-.2 .4 .5 .4 0 .4-1 .4-.1 .4 .7 .4 .5 .5 .1 .4-.1 .4 .4 .4 .5 .4-.2 .4-.1 .4 .5 .4 0 .4-.8 .4-.4 .4 .4 .4 .1 .4-.1 .4 .8 .4 .2 .4-.6 .4-.2 .5 .9 .4 .7 .4-.6 .4-.4 .4 .2 .4-.2 .4-.1 .4 .7 .4 .8 .4 .3 .4-.4 .4 0 .4 .3 .4-.1 .4-.4 .4-.3 .4 .4 .5 .3 .4-.3 .4 .4 .4 .6 .4 0 .4 .2 .4-.1 .4-.9 .4 .1 .4 .6 .4 .2 .4 0 .4 .2 .4-.2 .4-.3 .4 0 .4 .3 .4 .4 .5-.2 .4 .2 .4 .5 .4 .2 .4-.3 .4-.5 .4-.2 .4 .4 .4 .5 .4-.2 .4-.6 .4 .1 .4 .5 .4 .1 .4 .4 .4 .6 .4-.1 .5-.3 .4-.2 .4 .1 .4-.1 .4-.1 .4 .5 .4 .2 .4-.4 .4-.2 .4 0 .4 0 .4 0 .4 .6 .4 .1 .4-.8 .4-.2 .4 .3 .5-.4 .4-.2 .4 .5 .4 1 .4 1 .4 .1 .4-.7 .4-.6 .4 .2 .4 .2 .4 .3 .4 .2 .4-.2 .4-.4 .4-.5 .4 .3 .4 .8 .4 .6 .5 .1 .4-.4 .4 0 .4-.6 .4-.8 .4 .1 .4-.5 .4-.9 .4 .5 .4 .9 .4 1.2 .4 .7 .4-.1 .4 1.3 .4 .7 .4-2 .4-.6 .5 .3 .4-.8 .4 .4 .4 1.2 .4-.3 .4-.9 .4 .5 .4 .9 .4 .1 .4 .8 .4 .6 .4-.3 .4-1.1 .4-.4 .4 .2 .4-.3 .4 .4 .5 .6 .4-.6 .4-.5 .4-.4 .4-.4 .4 1.2 .4 1.7 .4-1.2 .4-2.2 .4 2 .4 2.2 .4-2.5 .4-3 .4 .4 .4 1.6 .4 .3 .4-.1 .4 .9 .5-.3 .4-1.2 .4 .4 .4 1.1 .4 1.8 .4 .9 .4-.9 .4-1.1 .4 .4 .4 .9 .4-.3 .4-1.6 .4-.7 .4 .7 .4-.1 .4 .4 .4 .6 .5-1.4 .4 .6 .4 2.2 .4-2.2 .4-2.1 .4 1.2 .4-.1 .4-.5 .4 .6 .4 0 .4-1 .4 .2 .4 1 .4 1 .4 1.1 .4-.1 .4-.6 .5 .4 .4-.3 .4-1.3 .4-.3 .4 1.3 .4 1.8 .4 .4 .4-.5 .4-1.6 .4-3.1 .4-.7 .4 2.2 .4 1.6 .4 .8 .4 0 .4-.7 .4 1.1 .4 .6 .5-1.2 .4-.3 .4-.1 .4-.6 .4-.6 .4-.1 .4 .5 .4 1.1 .4 .3 .4-.5 .4-.2 .4-.1 .4-1.1 .4-.6 .4 1.3 .4 .9 .4-.7 .5 .1 .4 2.1 .4 .4 .4-2.4 .4-.5 .4 1.5 .4 .3 .4-1.3 .4 .4 .4 1.7 .4 .7 .4-1.1 .4-1.4 .4 1.2 .4 1.8 .4-1 .4-2 .5 .4 .4 2.2 .4 1 .4-.9 .4-.9 .4 .4 .4 .3 .4-.3 .4 .8 .4 1.2 .4 .4 .4-.5 .4-1.1 .4-1.2 .4 .2 .4 .1 .4-.4 .4 .4 .5 .1 .4 .8 .4-.4 .4-1.9 .4 .3 .4 1.5 .4 .7 .4 .4 .4-.7 .4-.7 .4-.4 .4-1.2 .4-.1 .4 1.1 .4 1.2 .4 0 .4-1.1 .5-.8 .4 .6 .4 1.8 .4 1.4 .4-1.3 .4-3.1 .4-1 .4 1.3 .4 .4 .4-.7 .4 .8 .4 1.7 .4 1.7 .4 .3 .4-1.6 .4-.4 .4 1.3 .5 2.1 .4 1.1 .4-1.8 .4-3.6 .4-.8 .4 2.3 .4 2 .4 1 .4-.7 .4-1.2 .4 0 .4-1.1 .4-1 .4 1.7 .4 .4 .4-2.2 .4-.1 .4 1.1 .5 .5 .4 .1 .4 .6 .4 1.3 .4 .5 .4 .3 .4-.6 .4-.4 .4 .1 .4 0 .4 2.2 .4 2 .4-.3 .4-.4 .4-.1 .4 0 .4-.9 .5-.3 .4 .3 .4-1.2 .4-.6 .4 .3 .4-.8 .4-.3 .4 2.2 .4 .4" stroke="#c080ff" stroke-width="0.9" stroke-dasharray="2.5 1.5"/>
<path d="M62 829.5l.2 4.3 .1 4 .2 2.3 .1 1.3 .2 1.3 .1 1.2 .2 1.4 .1 1 .2 .6 .1 1.5 .2 2 .2 .9 .1-.1 .2 .7 .1 1.4 .2 .5 .1 .5 .2 1.1 .1-.2 .2 0 .1 1.1 .2-.3 .2 0 .2 1.6 .4 1.4 .4 .5 .4 .7 .4 1.4 .5 1.7 .4 .8 .4 .1 .4 .1 .4 .1 .4 .7 .4 .2 .4-.4 .4 1 .4 1 .4 0 .4-.1 .4-.1 .4 .4 .4 .7 .4 .5 .4-.1 .5-.9 .4-.1 .4 1 .4 .5 .4 .4 .4 .8 .4 .4 .4 .6 .4 .6 .4-.3 .4-.9 .4 0 .4 .7 .4 .3 .4-.6 .4-.1 .4 1.4 .4 .8 .5-.3 .4-.1 .4 .3 .4 .2 .4 0 .4 .1 .4 .3 .4 .1 .4 0 .4 .8 .4 0 .4-.7 .4-.1 .4 1 .4 .8 .4-.7 .4-.2 .5 1 .4 .4 .4-1.1 .4-.8 .4 .4 .4 .5 .4 .7 .4 .5 .4 .4 .4 .4 .4 0 .4 .2 .4 .2 .4 0 .4-.1 .4-.2 .4 .3 .5 .3 .4 .2 .4 .4 .4-.4 .4 .3 .4 .8 .4-.6 .4-1.1 .4 .3 .4 .8 .4 .2 .4-.4 .4-.2 .4 0 .4 0 .4 0 .4 .5 .4 .9 .5 .4 .4-.4 .4-.2 .4 .1 .4 .1 .4 .6 .4 .2 .4-.2 .4-.4 .4-.1 .4 .6 .4 .6 .4 .1 .4-.5 .4-.4 .4 .2 .4-.2 .5 0 .4 .8 .4 .8 .4 .4 .4-.7 .4-.6 .4 .4 .4-.3 .4-.4 .4 .4 .4 .4 .4 .2 .4 .3 .4-.6 .4-.7 .4 .8 .4 .7 .5-.3 .4-.4 .4 .2 .4 .8 .4 .6 .4-.4 .4-.9 .4-.1 .4 .9 .4 .2 .4 0 .4 .3 .4-.3 .4-.3 .4 .4 .4-.4 .4-.2 .4 .5 .5-.2 .4 .2 .4 .2 .4-.3 .4 .2 .4 .5 .4 .4 .4 .2 .4-.1 .4-.5 .4-.3 .4 .2 .4 .2 .4 .1 .4-.1 .4-.3 .4-.2 .5 .7 .4 .9 .4-.1 .4-.6 .4-.4 .4 0 .4-.1 .4 .2 .4 .7 .4 .2 .4 0 .4-.6 .4-1.3 .4 .9 .4 1.8 .4 .2 .4-.6 .5 .2 .4 .9 .4 0 .4-.7 .4-.5 .4-.1 .4-.3 .4 .3 .4 .8 .4-.1 .4 .2 .4 0 .4-.2 .4 .8 .4-.2 .4-1 .4 0 .4 .8 .5-.4 .4-.6 .4 .4 .4 .2 .4 .8 .4 .9 .4 .4 .4-.3 .4-2 .4-.2 .4 1 .4-.6 .4 .7 .4 1.7 .4-.7 .4-1.3 .4 .5 .5 .6 .4-.9 .4 .3 .4 1.2 .4 .1 .4-1.7 .4-.3 .4 1.6 .4 .3 .4-.7 .4 .3 .4-.6 .4-1.9 .4-.2 .4 1.1 .4-.4 .4-1.2 .5 2 .4 2.2 .4-1.5 .4 .2 .4 1.5 .4-.1 .4-.6 .4-1.5 .4 .4 .4 1.5 .4-1.7 .4 .5 .4 2.1 .4-2.4 .4-2 .4-.2 .4 .2 .4 2.3 .5 1.4 .4-.8 .4-.5 .4 1.5 .4 2.3 .4-2.9 .4-4.2 .4 .6 .4 1.2 .4 1.1 .4 .6 .4-1.1 .4 .1 .4 1.6 .4-.1 .4-.2 .4 1.6 .5-.3 .4-2.9 .4-.5 .4 .8 .4-1.1 .4 .1 .4 1.9 .4 .8 .4-.3 .4 .7 .4 .7 .4-.8 .4-1.5 .4 .3 .4 .6 .4-2.2 .4-2.1 .5 2.7 .4 3.8 .4-.4 .4-.8 .4 1.2 .4-.8 .4-3 .4-.6 .4 .8 .4 .4 .4 0 .4 .4 .4 1.1 .4 1.4 .4 1.2 .4-.2 .4-.5 .4-.2 .5-.2 .4-.3 .4 .1 .4 .7 .4-1.6 .4-2.3 .4 .9 .4 1.1 .4-.7 .4 .3 .4 .8 .4 1.6 .4 1.1 .4-2 .4-1.7 .4 .9 .4 1.1 .5-.3 .4 1.3 .4 1.7 .4-.7 .4-1.4 .4-1.4 .4-1.9 .4-.5 .4 1 .4 2.4 .4 2.7 .4 .5 .4-2.8 .4-3.1 .4 1 .4 3 .4-1 .5-.8 .4 1.5 .4 .3 .4-.3 .4-.7 .4-.3 .4 .6 .4 .5 .4 .1 .4 1.8 .4 1.6 .4-3.4 .4-1.8 .4 2.3 .4-.5 .4-1 .4 1.4 .4 .5 .5-1.5 .4-.1 .4 1.4 .4-1 .4-.2 .4 1.5 .4-1.7 .4-2 .4 1.4 .4 .2 .4-.8 .4 1.6 .4-.2 .4-2.8 .4 .4 .4 3.3 .4 .3 .5-2.2 .4-1 .4 1.4 .4 1.2 .4 1 .4 1.8 .4-1.7 .4-2.9 .4-.4 .4 2.1 .4 1.6 .4-1 .4 .4 .4-.2 .4 0 .4 .3 .4-2.9 .5-1 .4 1.8 .4 .9 .4-.3 .4-.2 .4 1.9 .4 1.5 .4-1.4 .4-1.6 .4-.5 .4 .4 .4 .8 .4 1.5 .4 2.8 .4 .5 .4-1.8 .4-1.2 .4 0 .5 1.2 .4-.6 .4-1.7 .4 .9 .4 1.1 .4-.9 .4 .9 .4 2.6 .4 .6 .4-.3 .4 1 .4 1.4 .4 2.6 .4 1.2 .4-3.1 .4-2.2 .4 1.2 .5 .9 .4-2 .4-2.2 .4-.7 .4 1.1 .4 .7 .4-2.8 .4-2.1 .4-.6" stroke="#00ffff" stroke-width="0.9"/>
<path d="M62 823.3l.2 3 .1 3.5 .2 2.9 .1 2.2 .2 1.8 .1 1.4 .2 1 .1 .8 .2 .8 .1 1.1 .2 1.4 .2 1.6 .1 1.1 .2-.3 .1 .1 .2 1 .1 .7 .2 .3 .1 .2 .2 1.1 .1 1.2 .2 .5 .2 .2 .2 0 .4 .8 .4 1.9 .4 1.4 .4 .8 .5 1 .4 .8 .4 .8 .4 .4 .4 .3 .4 .2 .4 0 .4 .3 .4 .5 .4 .3 .4 0 .4 .2 .4 .5 .4 1 .4 1.1 .4 .1 .4-.4 .5-.1 .4 .2 .4 .4 .4 .5 .4 .8 .4 .6 .4 0 .4-.1 .4 0 .4 .1 .4 .4 .4 .3 .4-.1 .4 .2 .4 .8 .4 .6 .4 .1 .4 .2 .5 .4 .4 .2 .4 .2 .4 0 .4-.1 .4-.1 .4 0 .4 .2 .4 .2 .4 .1 .4 .1 .4 .3 .4 .1 .4 0 .4 .2 .4 .3 .4 .7 .5 .3 .4-.5 .4 .3 .4 .7 .4 .4 .4 .2 .4 .1 .4-.3 .4-.3 .4 .1 .4 0 .4 0 .4 0 .4 .2 .4 .4 .4 .4 .4 .3 .5-.4 .4 .1 .4 .9 .4 .1 .4-.8 .4-.1 .4 .3 .4-.2 .4 .4 .4 .5 .4-.2 .4-.1 .4 .3 .4 .1 .4 .2 .4 0 .4-.1 .4 .5 .5 .7 .4-.4 .4-.3 .4 .5 .4-.1 .4-.4 .4 .5 .4 .9 .4 .2 .4-.3 .4-.4 .4 0 .4-.2 .4-.1 .4 .5 .4 .3 .4 .1 .5 .3 .4 .5 .4 .1 .4-.3 .4-.4 .4 .1 .4 .4 .4 0 .4-.2 .4 .3 .4 .6 .4 .5 .4-.7 .4-.4 .4 .4 .4 .3 .4 0 .5-.3 .4-.1 .4 .3 .4 .3 .4 0 .4-.2 .4 .2 .4 .3 .4 .4 .4 .2 .4-.6 .4-.1 .4 .4 .4 .2 .4-.3 .4-.1 .4 .2 .4 .2 .5 0 .4-.5 .4 0 .4 .6 .4 .2 .4-.3 .4 .2 .4 .5 .4-.1 .4-.1 .4 .4 .4 0 .4-.3 .4 .3 .4 .5 .4-.3 .4-.3 .5 .2 .4 .3 .4 .4 .4 .3 .4-.2 .4-.3 .4 .2 .4 0 .4-.4 .4-.1 .4 .1 .4-.1 .4 .1 .4 .1 .4-.3 .4 .1 .4 1 .5 .7 .4-.4 .4-.6 .4 .3 .4 .3 .4-.2 .4-.2 .4-.2 .4 .1 .4-.1 .4 .6 .4 .9 .4-.1 .4-.5 .4 0 .4 .4 .4-.5 .4 .1 .5 .5 .4-.2 .4-.1 .4-.2 .4 .2 .4 .7 .4 0 .4-.9 .4-.1 .4 .7 .4 .1 .4-.1 .4 .8 .4 .7 .4 0 .4-.7 .4-1.4 .5 0 .4 .7 .4 0 .4-.7 .4-.9 .4-.3 .4-.2 .4 .2 .4 2.1 .4 1.9 .4 .5 .4-.2 .4-1.1 .4-.6 .4 .8 .4 .3 .4 .6 .5-.6 .4-2.8 .4-.3 .4 2 .4-1.4 .4-2.1 .4-.4 .4-.1 .4-1 .4-1.2 .4 .7 .4 .6 .4 .6 .4 .4 .4-1.8 .4-.6 .4 2.3 .4 1.8 .5-.5 .4-.3 .4 1.1 .4 1.2 .4 .5 .4 .6 .4 .5 .4 .4 .4 1 .4 .9 .4-.3 .4-2 .4-1.7 .4 .6 .4 2 .4 1.3 .4 .2 .5-.4 .4-.4 .4-.5 .4-1.9 .4-1.5 .4 1.3 .4 .7 .4-.8 .4 1 .4 .4 .4-1.3 .4 1 .4 3.9 .4 .7 .4-1.8 .4-.2 .4-1.4 .5-1.9 .4 0 .4 .8 .4 1 .4 .6 .4-.3 .4-.2 .4 .3 .4 .3 .4 .5 .4-.9 .4-.3 .4 1.1 .4 .2 .4 .8 .4 1.3 .4 .9 .4 .4 .5-.5 .4-.4 .4-.1 .4-.3 .4 0 .4-1.5 .4-.1 .4 1.3 .4-.6 .4 0 .4-.2 .4-1.7 .4-.3 .4 2.5 .4 2.6 .4-1.2 .4-1.3 .5 .7 .4-1.5 .4-1.5 .4 1.4 .4 1.7 .4 1.6 .4-.7 .4-1.6 .4 .6 .4 .6 .4 .5 .4 .2 .4-1.4 .4-.2 .4 0 .4-3.2 .4-1.1 .5 2.9 .4 2 .4-1.9 .4-4.2 .4-.8 .4 .1 .4-2.2 .4-1 .4 .2 .4 .8 .4 2.3 .4 2.8 .4 .3 .4-.4 .4 2.3 .4 2.7 .4 .3 .4-1 .5-1.3 .4 .3 .4 1.4 .4-.6 .4-1.5 .4-.9 .4 1 .4 1.3 .4 .6 .4 .5 .4 .7 .4 .3 .4-2 .4-1.1 .4 2.6 .4 1.9 .4-.7 .5-1 .4-.2 .4 .7 .4-1.1 .4-2.3 .4-.2 .4 1 .4 .2 .4 .6 .4 2 .4 2 .4 .4 .4-2.3 .4-1.1 .4 2.7 .4 .7 .4-1 .5 .4 .4-.6 .4 .1 .4 .5 .4-1.1 .4-.5 .4 .6 .4 .9 .4-1.2 .4-1.3 .4 1.9 .4 .8 .4-1.4 .4-.8 .4-.4 .4 .5 .4 1.3 .4 1.2 .5 .6 .4-.7 .4-1.2 .4-1.2 .4 .9 .4 1.7 .4-.1 .4 .6 .4 1.7 .4 2.2 .4 2.7 .4 .3 .4-.9 .4 .3 .4-1.5 .4-2.6 .4 .8 .5 .9 .4-2.8 .4-2.6 .4 .2 .4-1.1 .4-2.8 .4-.4 .4 2.3 .4 1.8" stroke="#ff00ff" stroke-width="0.95"/>
<path d="M62 822.2l.2 3.4 .1 3.4 .2 2 .1 1.9 .2 2.1 .1 1.6 .2 1.4 .1 1.3 .2 1.3 .1 1.3 .2 1 .2 1 .1 .8 .2 .7 .1 .9 .2 .3 .1-.1 .2 .1 .1 .6 .2 .7 .1 .2 .2 .1 .2 1 .2 1.7 .4 1.2 .4 .3 .4 .7 .4 1.1 .5 1 .4 .9 .4 .9 .4 .5 .4 .6 .4 .2 .4-.1 .4 .5 .4 .9 .4 .6 .4 .3 .4 .3 .4 .5 .4 .1 .4-.2 .4 .2 .4 .6 .5 .5 .4 .1 .4 0 .4 .2 .4 .3 .4 .1 .4 .3 .4 .5 .4 .6 .4 .4 .4 .1 .4 0 .4 .4 .4 .2 .4-.1 .4 .3 .4 .5 .4 .5 .5 .6 .4 .2 .4-.8 .4-.8 .4 0 .4 .4 .4 .9 .4 .5 .4 .2 .4 .8 .4 .6 .4-.8 .4-.5 .4 0 .4 .1 .4 .3 .4 .6 .5 .5 .4 .2 .4 .2 .4-.3 .4-.4 .4 .2 .4 .6 .4-.1 .4 0 .4 .8 .4 .3 .4-.4 .4 .4 .4 .2 .4-.3 .4-.2 .4 .4 .5 .3 .4 .2 .4 .4 .4 .4 .4-.1 .4-.2 .4 .2 .4 .2 .4 .1 .4 .2 .4 .1 .4 0 .4 .2 .4 .3 .4-.1 .4-.1 .4 .4 .4 0 .5 .1 .4 .4 .4 .2 .4-.2 .4-.3 .4-.1 .4 .5 .4 .5 .4-.1 .4-.5 .4 0 .4 .2 .4-.2 .4 .3 .4 .4 .4 .1 .4 .3 .5 .2 .4 0 .4-.2 .4-.1 .4 .1 .4 .1 .4 .3 .4 .1 .4 .3 .4 .2 .4-.5 .4-.8 .4 0 .4 .7 .4 .2 .4 .1 .4 .3 .5 .2 .4 .6 .4 .2 .4-.3 .4-.2 .4-.1 .4 .4 .4 .1 .4-.1 .4-.1 .4-.3 .4 0 .4 .2 .4 .2 .4 .4 .4 .7 .4 0 .4-.3 .5 .1 .4 0 .4-.2 .4 .1 .4 .3 .4 0 .4-.4 .4-.1 .4 .6 .4-.1 .4-.4 .4 .2 .4 .3 .4 0 .4-.3 .4 .2 .4 .7 .5 0 .4-.4 .4-.2 .4 .1 .4-.1 .4 0 .4-.2 .4-.1 .4 .7 .4 .7 .4 0 .4-.4 .4-.1 .4 .4 .4 0 .4-.6 .4 0 .5 .5 .4 .4 .4-.1 .4-.6 .4-.3 .4 .2 .4 .6 .4 .8 .4 0 .4-.4 .4 .1 .4 .2 .4-.3 .4-.3 .4 .2 .4-.1 .4 0 .4 .5 .5 .9 .4 .9 .4-.8 .4-1.1 .4 1.2 .4 .6 .4-.8 .4-.3 .4-.6 .4 .6 .4 1.3 .4-.8 .4-1.5 .4 .4 .4 .7 .4 .1 .4 .4 .5 .1 .4-1.3 .4-.7 .4 .2 .4-.5 .4 1 .4 1.8 .4-1.2 .4 0 .4 2.4 .4-.2 .4-1.1 .4 .5 .4 .1 .4 .3 .4 .5 .4-.2 .5-.3 .4-.1 .4 .2 .4 .9 .4 .6 .4-.8 .4-.4 .4-.3 .4-.5 .4-.4 .4-.7 .4 1.1 .4 1.9 .4-.4 .4-1 .4 .5 .4 1 .4-.9 .5-1 .4-.5 .4 1.3 .4 2.9 .4-.2 .4-1.8 .4-2.3 .4-.5 .4 3 .4 .9 .4-2.2 .4-2.4 .4 0 .4 .8 .4-.7 .4-1.1 .4-.7 .5-.3 .4-.1 .4 .6 .4 1.2 .4-.5 .4-1.2 .4 .8 .4 .8 .4-1.1 .4-1.3 .4 .7 .4 1.9 .4 .2 .4 .1 .4 .7 .4-.2 .4 1.3 .5 1.6 .4-.4 .4-.7 .4-.4 .4 .2 .4-1.4 .4-.8 .4 2 .4 2 .4 1 .4-.5 .4-2 .4-1.6 .4 1.7 .4 2 .4-.1 .4-.4 .4-1.6 .5-.4 .4 2.6 .4 1.6 .4-.4 .4 .6 .4 .7 .4 .2 .4 .5 .4-1.4 .4-1.9 .4 .2 .4 1.7 .4-.4 .4-2.5 .4 .9 .4 2.6 .4-1.3 .5-.9 .4 .9 .4-.3 .4 .7 .4 1.6 .4-.4 .4-1.3 .4 3 .4 3.6 .4-1.3 .4-1.7 .4-1.5 .4-1.7 .4 1.1 .4 .7 .4-1.4 .4 .3 .5 2.7 .4 1.4 .4-1.8 .4-2.1 .4-.5 .4 .3 .4 0 .4-1.1 .4-.3 .4 .2 .4-.7 .4-.5 .4 .9 .4 .5 .4-1.8 .4-1.8 .4-1.2 .4-.5 .5-.2 .4-2 .4-1.6 .4 1 .4 1.6 .4 .1 .4 .6 .4 2.1 .4 1.4 .4 1.7 .4 1.1 .4-1.6 .4-.3 .4 2 .4 .5 .4-1.6 .4-.6 .5 .5 .4-1 .4 1.7 .4 3.7 .4-.5 .4-1.4 .4-.3 .4-.7 .4 0 .4 .8 .4 2 .4 1.3 .4-.9 .4-.7 .4-1.1 .4-2.2 .4-1.5 .5 3.1 .4 2 .4-2.8 .4-.8 .4 .1 .4 .9 .4 3.1 .4 .6 .4-1.1 .4 1.9 .4 1.6 .4-1.3 .4-2 .4-.6 .4 1.1 .4 .4 .4-1.1 .4-.7 .5 .7 .4 .2 .4-.8 .4 .8 .4-.4 .4 .4 .4 2.7 .4 1.5 .4 .5 .4-.3 .4 .7 .4 2 .4 1.7 .4 .4 .4-1.5 .4-1 .4 .7 .5-1.1 .4-2.5 .4-1 .4-1.3 .4-2.9 .4-2.7 .4 0 .4 2 .4 1.3" stroke="#40a040" stroke-width="0.95"/>
<path d="M62 821.6l.2 3.2 .1 3.4 .2 2.5 .1 1.7 .2 1.7 .1 1.7 .2 1 .1 1 .2 1.1 .1 1.4 .2 1.3 .2 .8 .1 1.1 .2 .7 .1 .1 .2 .2 .1 .6 .2 .7 .1 .7 .2 .9 .1 0 .2 .3 .2 1.4 .2 .9 .4 .7 .4 1.2 .4 .9 .4 .9 .5 1 .4 1 .4 .8 .4 .4 .4 .6 .4 .2 .4-.1 .4 .6 .4 1 .4 .4 .4 .1 .4 .3 .4 .2 .4-.1 .4 .3 .4 .5 .4 .1 .5 .3 .4 .6 .4 .4 .4 .2 .4 .4 .4 .1 .4 .2 .4 .7 .4-.1 .4-.2 .4 .8 .4 .3 .4-.1 .4 .1 .4 .1 .4 .1 .4 .3 .4 .7 .5 .6 .4-.1 .4-.3 .4 0 .4 .1 .4 .7 .4 .5 .4 0 .4-.3 .4-.2 .4 0 .4 .6 .4 .7 .4 0 .4-.3 .4 0 .4 .3 .5 .5 .4 .4 .4 .5 .4-.1 .4-.4 .4 0 .4 0 .4 .3 .4 .1 .4 .1 .4 .1 .4 0 .4 .2 .4 .2 .4 .1 .4 .3 .4 0 .5 .1 .4-.1 .4-.1 .4 .6 .4 .1 .4-.3 .4 .1 .4 .4 .4 .7 .4 0 .4-.4 .4 .1 .4 .4 .4-.1 .4-.4 .4 .3 .4 .4 .4 0 .5 .3 .4 .7 .4 .2 .4-.2 .4-.2 .4 .4 .4 .4 .4-.1 .4-.5 .4-.4 .4 .3 .4 .4 .4 .3 .4 .4 .4 0 .4-.5 .4 .1 .5 .6 .4-.1 .4-.4 .4 .2 .4 .2 .4 .2 .4 .4 .4 .2 .4 0 .4-.1 .4-.3 .4-.3 .4-.2 .4 .8 .4 .4 .4-.3 .4 .2 .5 .1 .4-.4 .4 .2 .4 .8 .4-.1 .4-.3 .4 0 .4-.1 .4 .2 .4 .2 .4 .2 .4 .4 .4 0 .4 .1 .4-.2 .4-.4 .4 .1 .4 .3 .5-.2 .4-.1 .4 .4 .4 .2 .4 0 .4 .4 .4-.1 .4-.3 .4 .3 .4 .1 .4-.1 .4-.1 .4-.6 .4-.1 .4 .9 .4 .6 .4 .1 .5 0 .4-.3 .4-.4 .4 .1 .4 0 .4 .4 .4 .5 .4-.2 .4 .1 .4 .4 .4 .1 .4-.4 .4-.2 .4 .8 .4 .4 .4-.8 .4-.2 .5 .5 .4 .4 .4 .2 .4-.3 .4-.5 .4 .1 .4 .4 .4 0 .4-.8 .4-.7 .4 .7 .4 1.2 .4 .2 .4 .1 .4-.2 .4-1.2 .4-.9 .4 .8 .5 1.2 .4 .1 .4 .2 .4 .4 .4-.9 .4-.2 .4 .3 .4-1.4 .4-.4 .4 1.6 .4 .5 .4 .5 .4 .1 .4-.9 .4 .5 .4 1.8 .4 .3 .5-.7 .4 .7 .4 .3 .4-.9 .4-.7 .4-1.5 .4-.4 .4 1.1 .4 .4 .4 .9 .4-.5 .4-2.6 .4 .2 .4 2 .4-.5 .4 .1 .4 .5 .5-1.3 .4-2.2 .4-.3 .4 2.9 .4 2.7 .4 1.9 .4 1.7 .4-1.5 .4-2 .4 1.8 .4 .9 .4-1.1 .4 0 .4 .5 .4 .1 .4-1.9 .4-2.6 .4 0 .5 2 .4 1.1 .4-.6 .4 0 .4 1.8 .4 .3 .4-1 .4 .5 .4 .3 .4-.9 .4 .3 .4-.5 .4-2 .4 .4 .4 1 .4-1.3 .4-.6 .5 3.4 .4 3.7 .4-.8 .4-2.6 .4-2 .4-1.3 .4 1 .4 1 .4 .1 .4 .2 .4 .6 .4 .3 .4-1.3 .4-.5 .4 .6 .4 1.7 .4 1.6 .5-1.1 .4-1.4 .4-.5 .4-.3 .4 .2 .4 1.8 .4 1.1 .4-.7 .4-.8 .4-1.4 .4-1.5 .4-.5 .4-.7 .4-1.7 .4-1.3 .4-.2 .4-.1 .4-.6 .5 .1 .4 2.8 .4 3 .4-1.8 .4-1.1 .4 2.7 .4 .5 .4-1.5 .4-1.1 .4 1.1 .4 2 .4 1.8 .4 0 .4-2.8 .4 .7 .4 3.2 .4 0 .5-.8 .4 1.2 .4 0 .4-1.5 .4-.1 .4-.4 .4 .2 .4 .4 .4-1.6 .4 .6 .4 3.5 .4 .7 .4-1.9 .4-.5 .4 1.1 .4 .1 .4-.3 .5-.3 .4-1.7 .4-2.4 .4 .6 .4 3.1 .4 1.2 .4-.1 .4-.1 .4-1.1 .4-1.9 .4 .5 .4 1.1 .4-.2 .4 1 .4 0 .4-.6 .4 1.3 .4 .5 .5-1.6 .4-.8 .4-.4 .4-1.5 .4 .8 .4 1.3 .4-.6 .4-.5 .4-1.1 .4-1.4 .4-1.5 .4-1.2 .4 .2 .4 .4 .4 1.3 .4 1.4 .4-.9 .5 .5 .4 1.8 .4-1.4 .4-1.8 .4 .4 .4 .9 .4 1.1 .4 2.2 .4 1.3 .4 .6 .4 .3 .4-.1 .4 .3 .4-.3 .4 1.1 .4 1.8 .4 .3 .5-.9 .4 .1 .4 2.3 .4 .3 .4-1.1 .4-.6 .4-2.2 .4-1 .4-.6 .4-1.7 .4 2.7 .4 1.7 .4-2.3 .4 .6 .4 2.1 .4-.9 .4-2.4 .4-.1 .5 2.9 .4 2.3 .4-.7 .4-1.3 .4 .2 .4 .6 .4-.2 .4 .7 .4 2.9 .4 3.9 .4 2.6 .4 1 .4 1 .4-.5 .4-1.6 .4-.8 .4 .1 .5-.2 .4-3.4 .4-4.3 .4-3.1 .4-2.3 .4-1.8 .4-1 .4 1.4 .4 1.3" stroke="#ffff00" stroke-width="0.95"/>
<path d="M62 821l.2 2.6 .1 3.3 .2 2.7 .1 1.9 .2 2 .1 1.8 .2 1.3 .1 .7 .2 1.2 .1 1.8 .2 1.1 .2 .2 .1 .3 .2 .6 .1 .6 .2 .9 .1 .9 .2 .3 .1 .1 .2 .8 .1 .7 .2 .1 .2 .4 .2 .7 .4 .9 .4 1.7 .4 1.8 .4 1.2 .5 .3 .4 .5 .4 .8 .4 .6 .4 .2 .4 .4 .4 .5 .4 .5 .4 .2 .4 .2 .4 .6 .4 .6 .4 .3 .4 .2 .4 .1 .4 .2 .4 .4 .5 .7 .4 .4 .4 0 .4 .3 .4 .1 .4-.2 .4 .6 .4 .5 .4 .1 .4 .3 .4 .2 .4-.1 .4-.3 .4 .2 .4 1 .4 .5 .4-.2 .4 .1 .5 .3 .4 .1 .4 .4 .4 .6 .4 .1 .4 0 .4 .3 .4 .2 .4-.1 .4-.3 .4-.1 .4 .2 .4 .9 .4 .2 .4-.6 .4 .2 .4 .6 .5 .3 .4 0 .4 .1 .4 0 .4 .1 .4 .4 .4 .4 .4 .3 .4-.1 .4-.1 .4-.1 .4 .2 .4 .1 .4 .5 .4 .5 .4-.3 .4 0 .5 .5 .4 .6 .4 .2 .4-.4 .4-.1 .4 .4 .4-.4 .4-.2 .4 .6 .4-.1 .4-.1 .4 .4 .4 .2 .4 .2 .4-.4 .4-.2 .4 .6 .4 .7 .5 0 .4-.9 .4-.1 .4 .7 .4 .3 .4-.1 .4 .1 .4 .5 .4 .3 .4 .2 .4-.1 .4-.3 .4-.2 .4 .2 .4 .6 .4 .4 .4-.2 .5-.6 .4 .1 .4 .8 .4 .3 .4-.3 .4 0 .4 .3 .4-.1 .4-.1 .4 .1 .4 .1 .4 .1 .4 .2 .4 .1 .4-.1 .4 .1 .4 .2 .5 0 .4 .2 .4 0 .4-.3 .4 .3 .4 .5 .4 0 .4-.1 .4 .2 .4-.2 .4 .1 .4 .4 .4 .5 .4-.1 .4-.8 .4-.3 .4 .7 .4 .4 .5-.6 .4-.2 .4 .1 .4 .3 .4-.1 .4 .3 .4 .5 .4-.1 .4-.1 .4 0 .4-.2 .4 0 .4 .1 .4 .1 .4-.1 .4 .4 .4 .5 .5-.2 .4-.3 .4-.1 .4-.3 .4 .1 .4 .6 .4 0 .4 0 .4 0 .4-.3 .4 0 .4 .6 .4 .4 .4 .2 .4-.2 .4-.2 .4 .1 .5-.5 .4-.2 .4 1 .4 .1 .4-.6 .4 .3 .4 .5 .4 0 .4-.3 .4 0 .4 .5 .4 .2 .4-.3 .4-.1 .4 .5 .4 .9 .4-.3 .4-1 .5 .1 .4 .2 .4-.2 .4-.5 .4-.3 .4 .3 .4 .1 .4 .1 .4 .8 .4 .9 .4-.4 .4-.8 .4 .5 .4 .5 .4 .4 .4 .7 .4-.3 .5-.5 .4 .7 .4 0 .4-1.6 .4-.6 .4 1.3 .4 .4 .4-1.2 .4 .6 .4 2.1 .4 .8 .4 .6 .4-.8 .4-3.3 .4 0 .4 2.5 .4-.5 .5-.9 .4-.3 .4-.9 .4 .2 .4 1.5 .4 .5 .4-1.8 .4-.2 .4 2.9 .4 1 .4-.5 .4 .3 .4-1 .4-1.6 .4 .2 .4 1.1 .4 .7 .4 0 .5-.7 .4 1.2 .4 1.4 .4-.7 .4-2 .4-1.3 .4 1.4 .4-.1 .4-1.7 .4 .3 .4 .3 .4 .1 .4 1.6 .4 1.4 .4-.2 .4 .7 .4 .5 .5-1.2 .4-.3 .4-.6 .4 .9 .4 2.1 .4 .2 .4 .9 .4 .4 .4-1.8 .4 .8 .4 1.4 .4-1.8 .4-2.5 .4-1.5 .4 .4 .4 2.7 .4 1.9 .5-1.2 .4-1.9 .4-.9 .4 0 .4 .8 .4 .9 .4 1 .4-.2 .4-1.6 .4 .4 .4 2.1 .4 .3 .4-1.4 .4-.9 .4-1.3 .4-1.3 .4 2 .4 2.4 .5 .2 .4-.2 .4-.5 .4-1.7 .4-1.8 .4 0 .4 2.2 .4 1.8 .4-.2 .4 .3 .4-.5 .4-1 .4-1.2 .4-1.3 .4 1.5 .4 1.6 .4-1 .5-.3 .4 1.5 .4 .2 .4-.9 .4-.2 .4 0 .4-2.3 .4-1.9 .4-.2 .4-.4 .4 .6 .4 1.2 .4-.1 .4-1.4 .4-.5 .4 .4 .4 .6 .5 .4 .4-.5 .4 1.9 .4 2.7 .4 .3 .4 .6 .4 1.7 .4-.8 .4-2.7 .4-.4 .4-.6 .4-.9 .4 2.4 .4 2.1 .4-.1 .4-.2 .4-1.1 .4-.8 .5 1 .4 3 .4 1.3 .4-2.5 .4-1.5 .4 1 .4 1.1 .4 .4 .4-.5 .4 0 .4 1.3 .4-.7 .4-1.5 .4 .6 .4 1 .4-.4 .4-1.5 .5 .3 .4 .1 .4-2.7 .4-.3 .4 1.9 .4 .8 .4-1.6 .4-2.8 .4 .2 .4 2.1 .4-.7 .4-1.4 .4-1.3 .4-2.6 .4 .6 .4 4.1 .4 2.3 .5-.3 .4 .5 .4 1.8 .4 .6 .4-.9 .4-.5 .4-.4 .4 .8 .4 1.8 .4 .8 .4 .3 .4 .4 .4-.1 .4 .5 .4 1 .4-1.1 .4-1.6 .4 .4 .5 1.1 .4-.6 .4-.7 .4 .8 .4 .7 .4 1 .4 1.6 .4 2.2 .4 1.7 .4 0 .4-.3 .4 1 .4 1.4 .4-.9 .4 .9 .4 2.5 .4-3 .5-4.2 .4-1.7 .4-2.9 .4-2.8 .4-1.7 .4-2.4 .4-1.8 .4 1.9 .4 4.7" stroke="#0000ff" stroke-width="0.95"/>
<path d="M62 820.2l.2 2.8 .1 2.8 .2 2.2 .1 2.2 .2 2.2 .1 1.6 .2 .9 .1 .9 .2 1.4 .1 1.4 .2 1.3 .2 1 .1 .3 .2 .3 .1 .9 .2 .6 .1 .3 .2 .5 .1 .4 .2 .6 .1 .7 .2 .7 .2 .3 .2 .8 .4 1.3 .4 1.2 .4 1.5 .4 .8 .5 .6 .4 1 .4 .5 .4 .3 .4 .9 .4 .8 .4-.1 .4-.1 .4 .7 .4 .5 .4 .6 .4 .6 .4-.1 .4-.5 .4 .3 .4 .6 .4 .7 .5 .3 .4 .1 .4 .3 .4 .4 .4 .4 .4 .2 .4 .4 .4 .1 .4 .3 .4 .6 .4 .2 .4 .6 .4 .7 .4 0 .4-.3 .4-.4 .4-.3 .4 .2 .5 .8 .4 .6 .4-.2 .4-.3 .4 .3 .4 .6 .4 .1 .4 0 .4 .6 .4 .2 .4-.2 .4 .2 .4 .2 .4-.2 .4 .4 .4 .6 .4 0 .5 0 .4 0 .4 0 .4 .3 .4-.3 .4-.3 .4 .3 .4 .2 .4 .5 .4 .5 .4-.2 .4-.1 .4 0 .4 0 .4 .3 .4 .6 .4 .3 .5-.2 .4 0 .4 0 .4 .2 .4 .4 .4-.3 .4-.1 .4 .9 .4 .2 .4-.7 .4 0 .4 .5 .4 .3 .4 .4 .4 .1 .4-.1 .4 .1 .4 .3 .5 .2 .4 0 .4 .5 .4 .4 .4 .2 .4-.3 .4-.3 .4-.1 .4-.1 .4-.2 .4-.1 .4 .2 .4 .4 .4 .7 .4 .4 .4-.6 .4-.2 .5 .5 .4 .4 .4 .1 .4-.1 .4-.3 .4 .1 .4 .1 .4 .3 .4 .1 .4-.3 .4 .4 .4 .2 .4-.4 .4 .1 .4 .6 .4 .5 .4 .3 .5-.3 .4-.2 .4-.1 .4-.1 .4 0 .4 .2 .4 .2 .4 0 .4 0 .4 .1 .4 .1 .4 .1 .4-.3 .4-.3 .4 0 .4 0 .4 0 .4 .2 .5 .1 .4 .2 .4 .4 .4 .3 .4 .2 .4-.2 .4-.5 .4 .2 .4 .2 .4 .4 .4 .6 .4-.4 .4-.4 .4 .2 .4 .3 .4-.1 .4-.5 .5-.2 .4 .3 .4 .4 .4 .2 .4 .3 .4 .1 .4 0 .4 .3 .4 .3 .4-.3 .4-.1 .4 0 .4 .2 .4 .3 .4 0 .4 .1 .4 .1 .5-.5 .4-.3 .4 .3 .4 .2 .4 0 .4 .2 .4 .3 .4 0 .4 .1 .4 .3 .4 0 .4 .1 .4-.4 .4-1 .4-.2 .4 1.3 .4 .4 .4-.5 .5 .2 .4 0 .4-.3 .4 .3 .4 .6 .4 .3 .4-.7 .4 .3 .4 .5 .4-.2 .4-.8 .4-1.3 .4 .7 .4 1.7 .4 .2 .4 .3 .4 .5 .5-.1 .4-.7 .4-.6 .4 .2 .4 .2 .4-.9 .4-.2 .4 .3 .4-1.1 .4 .1 .4 2 .4 .4 .4-.6 .4-1.1 .4-1.2 .4 1.1 .4 1.6 .5-.3 .4-1.2 .4-.8 .4 1.4 .4 1.4 .4-.2 .4 .7 .4 1.3 .4 .2 .4 .2 .4 .6 .4-.4 .4-1.6 .4-1.6 .4-.1 .4 2.1 .4 1.1 .4-1.7 .5-1.7 .4 .1 .4 2 .4 3.4 .4-1.8 .4-3.6 .4 .7 .4 1.1 .4 1.8 .4 .8 .4-1.9 .4-.8 .4-1.1 .4-.7 .4 2.2 .4 .3 .4-2.2 .5 .3 .4 1.8 .4-.1 .4 .7 .4 .9 .4-1.1 .4 .3 .4 .9 .4-.6 .4 .4 .4 1.5 .4-.4 .4 .3 .4 1.1 .4-.8 .4-1.1 .4 .3 .5 .6 .4-.7 .4 .6 .4 1 .4-1.2 .4-.3 .4 0 .4-2.6 .4 .7 .4 3.9 .4 .4 .4 .2 .4-.5 .4-2.2 .4 .1 .4 .4 .4-.5 .4 1.3 .5 1.5 .4-1.7 .4-2.2 .4 .1 .4 .6 .4 1.7 .4 2.5 .4-.7 .4-2.8 .4-2.1 .4-1.2 .4 1 .4 1.3 .4 1.4 .4 2.9 .4 .2 .4 0 .5 .6 .4-1.2 .4-.6 .4-1.3 .4-.7 .4 1.6 .4-.2 .4-.6 .4 .2 .4-1.2 .4 1.2 .4 2.3 .4-1.8 .4-1.4 .4 .7 .4 0 .4 1.1 .5 .8 .4-2 .4-.7 .4 2.6 .4 1 .4-2.7 .4-1.6 .4-.1 .4 .2 .4 1.1 .4 .8 .4-1.7 .4-1.9 .4 .4 .4-.1 .4-1.6 .4-.1 .4 1.4 .5 .4 .4-1.8 .4-2.1 .4 .6 .4 .5 .4-.9 .4 .5 .4-.5 .4-1.5 .4-.2 .4 1.8 .4 3.5 .4 1.6 .4-.7 .4 1 .4 2 .4-1.2 .5-1.7 .4 1.7 .4 2.2 .4 1.1 .4-.4 .4-2.4 .4 .7 .4 2.1 .4-1.7 .4-2 .4 1.4 .4 1.6 .4-2.2 .4-1.3 .4 1.6 .4 1.3 .4 1.3 .5-.6 .4-1.4 .4 .5 .4-2.5 .4-3.3 .4-.8 .4-.5 .4 .9 .4 1.4 .4 .8 .4 .5 .4 .2 .4-.3 .4 .2 .4 2 .4 .6 .4-.6 .4 0 .5 1.4 .4 3.3 .4 1.6 .4-1.3 .4-1.4 .4 1.1 .4 1.3 .4 .2 .4 2.8 .4 3.7 .4 .7 .4-.9 .4-.3 .4 1 .4 .7 .4 .2 .4 .7 .5-.7 .4-4.5 .4-5.6 .4-3 .4-.6 .4-.7 .4-2.4 .4 .1 .4 3.2" stroke="#80c000" stroke-width="0.95"/>
<path d="M62 824.2l.2 3.6 .1 3.4 .2 2.8 .1 1.9 .2 1.1 .1 1.4 .2 1.7 .1 1.1 .2 .7 .1 .9 .2 1.5 .2 .9 .1 .4 .2 .7 .1 .5 .2 .9 .1 .6 .2 .1 .1 .8 .2 .8 .1 .3 .2 .2 .2 1.1 .2 1.5 .4 .6 .4 .6 .4 .9 .4 1.2 .5 1.1 .4 1 .4 .4 .4 .8 .4 .6 .4 .2 .4 .5 .4 .6 .4 .4 .4-.1 .4 0 .4 .9 .4 .4 .4 .2 .4 .8 .4 .4 .4-.4 .5-.3 .4 .6 .4 .8 .4-.2 .4-.2 .4 1 .4 .3 .4-.3 .4 .2 .4 .3 .4 .4 .4 .6 .4 .4 .4 .1 .4-.2 .4 .3 .4 .7 .4 .4 .5 .1 .4-.3 .4 .2 .4 .3 .4-.2 .4-.4 .4 .2 .4 1.1 .4 1 .4-.4 .4-.5 .4 .1 .4 .6 .4 .3 .4 0 .4 .1 .4-.1 .5-.3 .4-.1 .4 0 .4 .2 .4 .7 .4 .8 .4 .5 .4-.2 .4-.7 .4-.2 .4 .1 .4 .3 .4 .8 .4 .5 .4-.3 .4 0 .4-.2 .5-.2 .4 .5 .4 .2 .4 0 .4 .7 .4 .3 .4-.2 .4-.2 .4-.3 .4 0 .4 .1 .4 .2 .4 .5 .4 .3 .4 .1 .4 .1 .4 .3 .4 .1 .5-.1 .4-.1 .4 .2 .4 .1 .4 .2 .4 .2 .4 0 .4 .2 .4 .2 .4-.1 .4 0 .4 .2 .4 0 .4 .2 .4 .5 .4 .4 .4 .1 .5-.1 .4-.1 .4 .1 .4 .1 .4 .1 .4 0 .4 .1 .4 0 .4-.1 .4 .2 .4 .4 .4-.1 .4-.2 .4-.1 .4-.1 .4 .4 .4 .8 .5 .4 .4-.5 .4-.5 .4 .3 .4 .3 .4-.1 .4-.2 .4-.2 .4-.2 .4 0 .4 .4 .4 .3 .4 .1 .4 0 .4 .1 .4 .1 .4 0 .4 0 .5-.1 .4-.2 .4 .2 .4 .1 .4 .1 .4 .5 .4 .5 .4-.2 .4-.2 .4 .4 .4 0 .4-.3 .4 0 .4-.1 .4 .2 .4-.3 .4-.4 .5 .4 .4 .5 .4-.3 .4-.1 .4 .2 .4 .2 .4-.2 .4-.1 .4 .2 .4 .3 .4 .4 .4 .2 .4 .2 .4 .2 .4 .2 .4-.1 .4 .2 .5 0 .4-.5 .4 .2 .4 .4 .4-.4 .4-.4 .4-.2 .4 0 .4 .6 .4 .9 .4 .2 .4-.4 .4-.4 .4 .1 .4 .2 .4-.4 .4 .4 .4 .6 .5-.4 .4-.7 .4-.8 .4-.3 .4 0 .4-.1 .4 .5 .4 1.1 .4 .8 .4-.7 .4 .1 .4 1.2 .4 0 .4-.8 .4-.5 .4 .7 .4 1 .5-.9 .4-.4 .4 2 .4 .4 .4-.7 .4 .4 .4-1 .4-1.1 .4 .7 .4 1.1 .4 0 .4-.6 .4-.6 .4 .6 .4 1.2 .4-1.2 .4-2.7 .5-.2 .4 1.1 .4 0 .4 1.4 .4 2.1 .4 .3 .4 0 .4-.8 .4-.4 .4 1.6 .4 .8 .4 .9 .4 .9 .4-.4 .4-.8 .4-2 .4-.4 .4 1.4 .5-1.7 .4-1.1 .4 1.7 .4 1.4 .4 0 .4-1.5 .4-2.4 .4-.9 .4 2.1 .4 2.8 .4-.6 .4-.3 .4 3 .4 0 .4-2.4 .4 0 .4-1.7 .5-3 .4 .5 .4 1.2 .4 0 .4 .9 .4 1 .4-.4 .4 1.2 .4 1.9 .4 .6 .4-1 .4-4.8 .4-1 .4 4.2 .4 .6 .4-1.3 .4 0 .5 .3 .4-.9 .4-.7 .4 2.1 .4 .8 .4-.9 .4 1 .4 1.9 .4 .3 .4-.2 .4 0 .4-1.5 .4-.2 .4 1.9 .4 .9 .4-.2 .4-.8 .4-2.2 .5-2.9 .4-.5 .4 2.7 .4 2.3 .4 .5 .4-1.7 .4-1.5 .4 .8 .4 1.1 .4-.2 .4 .3 .4 1.9 .4 2.6 .4-.3 .4-3.3 .4-3.1 .4-.6 .5 1.1 .4 2.1 .4 1.7 .4-.2 .4-1.1 .4-1.3 .4 0 .4 2.2 .4-.7 .4-3.6 .4-.6 .4 3 .4 1.7 .4-1.4 .4-.3 .4 .5 .4 .2 .5 .7 .4 1.1 .4 .4 .4-.4 .4 1.1 .4 .1 .4-2.1 .4-1.4 .4 .4 .4 .6 .4-.3 .4-.3 .4 0 .4 1.7 .4 2 .4 0 .4-.4 .4-.8 .5-2.6 .4 .1 .4 2.6 .4 .3 .4-.6 .4-.4 .4-.5 .4 .7 .4-.1 .4-1.4 .4 .2 .4 .8 .4 0 .4 .5 .4 .5 .4 .1 .4-.8 .5-1.5 .4-1.2 .4-1.1 .4 .3 .4 1.6 .4-.3 .4 .3 .4 3.3 .4 2.8 .4-.6 .4-1.9 .4 .2 .4 .4 .4-.8 .4-.9 .4-.4 .4 .2 .5 1.3 .4 .1 .4 .3 .4 1.6 .4-.6 .4-1.9 .4-1.3 .4-.4 .4 1.2 .4 1.3 .4-1 .4-.2 .4 2.7 .4 .7 .4-.6 .4 .8 .4-.6 .4-.9 .5-.4 .4 .2 .4 .8 .4 1.3 .4 1.5 .4-1 .4-2 .4 1.8 .4 2.1 .4 1.4 .4 3.4 .4 1.7 .4 .5 .4 .1 .4-2.3 .4-2.7 .4-1.1 .5 .5 .4 .2 .4-1.8 .4-1.5 .4 .4 .4-.4 .4-2.3 .4-.4 .4 .9" stroke="#ffff00" stroke-width="1.0"/>
<path d="M62 823.8l.2 1.9 .1 3.9 .2 3.1 .1 .9 .2 2.2 .1 1.8 .2 1.4 .1 .4 .2 1.4 .1 1.5 .2 .7 .2 1.9 .1-.5 .2 1 .1 .8 .2 .5 .1 0 .2 2 .1-1.2 .2 .6 .1 1.3 .2-.1 .2 1.6 .2 .6 .4 1.1 .4 .2 .4 1.8 .4 .8 .5 1.1 .4 .1 .4 1.9 .4 .1 .4-.2 .4 .3 .4 1 .4 .2 .4-.2 .4 1 .4-.2 .4 0 .4 1.1 .4 .4 .4 .9 .4-.7 .4 .1 .5 .4 .4 1.3 .4-.9 .4 .1 .4 .8 .4 .8 .4 .3 .4-.2 .4 .9 .4 .1 .4-.1 .4 .5 .4 .3 .4 .3 .4-.6 .4 1.1 .4-.3 .4 .4 .5 0 .4 .4 .4 .1 .4 .1 .4 .2 .4-.2 .4 0 .4 .8 .4-.2 .4 1.2 .4-.8 .4 .1 .4 .2 .4 .4 .4-.4 .4 .6 .4 .4 .5-.7 .4 .1 .4 1.1 .4-.3 .4 .4 .4-.9 .4 .4 .4 .1 .4 .9 .4-.8 .4 .8 .4-.1 .4 0 .4 .2 .4 .4 .4-.3 .4 .5 .5-.3 .4 1 .4-.2 .4-.4 .4 .8 .4-.7 .4 .1 .4 .3 .4 .5 .4-.3 .4 .2 .4 .1 .4 .9 .4-.3 .4-1.3 .4 1.4 .4 .2 .4 .2 .5-.4 .4 .5 .4-.2 .4 0 .4 0 .4 .3 .4 1 .4-.8 .4 .1 .4-.1 .4 .2 .4 .6 .4-.3 .4 .8 .4-1.2 .4 .7 .4 .2 .5 .1 .4 .3 .4 .2 .4-.4 .4 .2 .4 .6 .4 .1 .4-.1 .4 0 .4-.6 .4 .2 .4 .7 .4-.1 .4 0 .4-.6 .4 1.1 .4-.4 .5-.1 .4-.5 .4 .9 .4-.1 .4 .5 .4-.4 .4 .4 .4 0 .4 .2 .4-.1 .4-.9 .4 1.4 .4-.3 .4-.5 .4 .8 .4 .3 .4-.5 .4-.7 .5 .6 .4 0 .4 .6 .4-.3 .4 .8 .4-1.3 .4 .8 .4 0 .4 .3 .4-.4 .4-.6 .4 1.1 .4-1 .4 1.2 .4 .3 .4-.5 .4 .3 .5-1 .4 1.2 .4-.2 .4 .4 .4 .2 .4-1.1 .4 .3 .4 .6 .4-.3 .4-.3 .4 .3 .4 .5 .4-.4 .4 .1 .4 1 .4-.8 .4 .4 .5-.4 .4 .6 .4-.1 .4-.2 .4-.1 .4 .2 .4-.4 .4 1 .4 .2 .4-1.4 .4 .6 .4 .6 .4 .5 .4-1 .4 .2 .4-.2 .4 1.2 .4-.7 .5 .1 .4 .3 .4 .6 .4-.3 .4 1.2 .4-1.6 .4 .3 .4 .2 .4 .9 .4-1.4 .4-.7 .4 2.1 .4-1.6 .4 1.6 .4-1.3 .4 2 .4-1.8 .5-.2 .4-1.4 .4 2.1 .4 1.4 .4-1.6 .4 .5 .4-.4 .4-1.5 .4 4.5 .4-4.5 .4 2 .4 1.3 .4 .7 .4-1.3 .4-2.7 .4 .8 .4 2.4 .5-1.6 .4-4 .4 5.9 .4-1.6 .4 .4 .4-1.2 .4-.8 .4 4.1 .4-2.9 .4-2 .4 2.4 .4-.1 .4 .8 .4 1.7 .4-2.9 .4 4.3 .4-.2 .4-1 .5 .5 .4-.1 .4 .7 .4-2 .4-1.6 .4 2.9 .4-2.1 .4-.3 .4 2.2 .4-.4 .4-.5 .4-3.2 .4 5.7 .4-6.3 .4 4.8 .4-.7 .4 0 .5 3.7 .4-4.5 .4-1.6 .4 3 .4-1.5 .4 1.9 .4 .6 .4 2.7 .4-3 .4 1.1 .4-.7 .4-.1 .4-3.8 .4 5.5 .4-.6 .4 3 .4-11.1 .5 8.2 .4-4.5 .4 3.9 .4-4.8 .4 4.3 .4 2.4 .4-2.6 .4 3.6 .4-4.6 .4 3.2 .4-5.7 .4 3.6 .4-1.8 .4 2.5 .4 1.2 .4-4.9 .4 3 .4-.2 .5-1.5 .4 2.2 .4 1 .4-.9 .4 .6 .4 0 .4 .3 .4-1.3 .4 1.9 .4 .7 .4-1.4 .4 1.3 .4 3.3 .4-3.8 .4-1.3 .4 .2 .4 3.5 .5-2.2 .4 1.7 .4-3.6 .4 1.3 .4 3.4 .4-1.1 .4 .1 .4-1.1 .4-5.4 .4 4.9 .4 .3 .4-2.1 .4 5 .4-3.5 .4-1.2 .4-3 .4 3.8 .5-1.9 .4 3.8 .4 .3 .4-1.3 .4 2.2 .4-3.5 .4 1.7 .4 0 .4-1.9 .4 5.3 .4-3.8 .4 1.3 .4 1.7 .4-7.7 .4 5.9 .4 .1 .4-3.3 .4 4.6 .5-5 .4 2.2 .4 2.2 .4-2.7 .4 2.5 .4-.5 .4 0 .4-1.5 .4 .6 .4-.4 .4 2 .4 1.3 .4-.2 .4-2.4 .4 0 .4-.4 .4 2.2 .5 .2 .4-1.2 .4 .5 .4 2 .4-3.3 .4 2.9 .4-.1 .4-4.6 .4 1.5 .4 4.3 .4-2.8 .4-.8 .4 .7 .4-2.6 .4 1.6 .4 2.6 .4 2.5 .5-3.5 .4-4.4 .4-.4 .4 6.5 .4-2.3 .4 2.6 .4-5.3 .4 2.7 .4 .3 .4-1.8 .4 5.1 .4-2 .4-3.3 .4 4.5 .4-1.2 .4-2.4 .4-1.2 .4 5.1 .5-1.1 .4-2.6 .4 1.7 .4 2.6 .4 2 .4 1 .4-6.6 .4 4.2 .4 5.3 .4-2.3 .4 7.4 .4-.7 .4-2.3 .4 .3 .4 3.6 .4-4 .4 .2 .5-1.7 .4-1.7 .4-.8 .4-.7 .4-3.1 .4 1.6 .4-4.1 .4 1 .4-3.1" stroke="#0000ff" stroke-width="0.8" stroke-opacity="0.8"/>
<path d="M62 816.1l.2-.2 .1 6 .2 1.8 .1 1.4 .2 2.2 .1 2.6 .2 1.5 .1-1 .2 3.3 .1 3 .2-.7 .2 2 .1 1.4 .2 1.4 .1-1.8 .2 .5 .1 3.6 .2 .4 .1 .6 .2 1 .1-.6 .2-.3 .2 1.4 .2-.7 .4 0 .4 0 .4 2.2 .4 1.7 .5 1.5 .4 1.6 .4 3 .4 1 .4 .4 .4-1.4 .4-.4 .4 0 .4-3.1 .4 2.1 .4 .4 .4 .9 .4-1.2 .4 1 .4 3.2 .4-.6 .4-.2 .5 1.9 .4-.3 .4-.9 .4-5.1 .4 2.6 .4 .5 .4 1.5 .4 1.4 .4-1.7 .4 3.8 .4-1.2 .4-2.6 .4 2.5 .4-1.1 .4-.3 .4 .8 .4-.8 .4-1 .5 2.9 .4 .6 .4 2.4 .4 1.6 .4-4.1 .4 2.4 .4-1.9 .4-.8 .4-2.6 .4 3.4 .4-1.9 .4 4.2 .4-2.1 .4 .4 .4 1.6 .4-.1 .4-.2 .5-1.6 .4 1 .4-4.3 .4 3.6 .4-.1 .4 .9 .4 .9 .4 1.8 .4 .2 .4 2 .4 .1 .4-1.4 .4-2.8 .4-2.2 .4 3.4 .4-1.5 .4 2.2 .5-1.7 .4 2.3 .4-3.1 .4 4.8 .4-2.5 .4 1.3 .4-.8 .4-1.8 .4 1.5 .4-2.4 .4 2 .4-.6 .4 .9 .4 4.1 .4-1 .4-.8 .4 .4 .4-2.1 .5-.6 .4 0 .4-1.4 .4 1 .4 1.4 .4-.8 .4 2.2 .4-.4 .4 1.9 .4-.3 .4-.7 .4-1.5 .4 1.6 .4-3.1 .4 .7 .4 .6 .4 2 .5-.6 .4 .6 .4-.2 .4 1.1 .4-1.3 .4-.8 .4 .3 .4-1.3 .4 2 .4-.3 .4-1 .4 .9 .4 1.6 .4 .3 .4-1.3 .4 2.6 .4-2.5 .5 1.8 .4-2.1 .4-1.7 .4 .7 .4 1.7 .4-2.4 .4 4.5 .4 1.1 .4-1.6 .4 1.1 .4-2.5 .4 .2 .4-1.2 .4-.8 .4-.8 .4 1.6 .4 1.3 .4 1.4 .5 .2 .4-.3 .4 .2 .4 1.4 .4-2.4 .4 .5 .4-1.1 .4-3.6 .4 3.7 .4-1.7 .4 3.4 .4-1.2 .4 2.1 .4 0 .4-2.3 .4 .9 .4 .4 .5-.6 .4-.5 .4-2.5 .4 1.1 .4 2.5 .4 .2 .4-1.1 .4 2.3 .4 .5 .4-3.2 .4 1.1 .4-.8 .4-2 .4-.4 .4 .7 .4 2.9 .4 1 .5 .6 .4-.6 .4 1.4 .4-2.3 .4 1.2 .4-2.1 .4-.9 .4-1.2 .4 2.4 .4-.7 .4-.7 .4 1.7 .4 4 .4-2.9 .4-.7 .4 2.3 .4 .3 .4-2.3 .5-2.1 .4 3.5 .4-2.4 .4-2 .4 4.6 .4-.9 .4 .3 .4 1.7 .4 2.3 .4-4.8 .4-.2 .4-2.4 .4 3.1 .4-3.2 .4 1.1 .4 2.1 .4-1 .5 2.2 .4-4 .4-.7 .4-1.8 .4-.5 .4 0 .4 1.8 .4-2.1 .4 1.4 .4 2 .4 3.1 .4-1.8 .4 5.9 .4-3.8 .4 1.2 .4 .5 .4 1.6 .5-2 .4-1.4 .4 .2 .4-2.5 .4-.7 .4 5.9 .4-3.1 .4 5.4 .4-2.2 .4-2.4 .4-1.4 .4 2.3 .4 1.6 .4 1.3 .4-.3 .4-1.8 .4-1.9 .4-1.4 .5 1.4 .4-6.1 .4 2 .4-5.6 .4-6.1 .4 2.9 .4 6.1 .4 7.1 .4-2.3 .4 3.5 .4 .7 .4 4.5 .4-5.6 .4 .7 .4 .9 .4 2.9 .4-4 .5-4 .4 1.6 .4 4.6 .4-2.4 .4-1.1 .4 2 .4 3.1 .4 1.5 .4-3.8 .4 .1 .4-4 .4 6.3 .4-.3 .4-10.1 .4 5.7 .4-.5 .4-.2 .5 5.4 .4-1.3 .4-8.4 .4 3.8 .4-6.6 .4 1.9 .4 2 .4 4.3 .4-3.3 .4 3 .4 2.6 .4 2.4 .4 3.2 .4-5.4 .4 3.8 .4-6.4 .4 4 .4-2.8 .5-1 .4-2.3 .4 0 .4 2.4 .4 3.5 .4-2.2 .4 5 .4-4.8 .4-.8 .4 3.9 .4-5.1 .4 4.1 .4 1.6 .4-3.7 .4 .3 .4 4.8 .4 2.9 .5 1.8 .4-10.3 .4 4 .4-2.6 .4-2.9 .4 4.8 .4 2.4 .4-3.4 .4 .3 .4-.5 .4 .5 .4-3.3 .4 3.1 .4-6.5 .4-.3 .4 .9 .4-.1 .5 4.7 .4 3.4 .4 1 .4-1.3 .4 1.6 .4 .8 .4 .7 .4-4.4 .4-2.9 .4 6.8 .4-4.7 .4-1.8 .4 1.3 .4 3 .4-.8 .4 3.1 .4 1.4 .4-2.7 .5-2.1 .4 1.3 .4-2.2 .4 3.4 .4-3.7 .4 1.5 .4 .7 .4 .9 .4-1.4 .4 5.7 .4-1.8 .4-5.3 .4 3.9 .4 0 .4-6 .4 5.3 .4-.3 .5-5.8 .4 4.7 .4 .6 .4-1.1 .4 2.4 .4 1.8 .4-1 .4-2.8 .4 4.3 .4-5.9 .4 1.1 .4-4.5 .4 .9 .4-6.4 .4 6.7 .4-.4 .4 5.1 .5 1.7 .4 .3 .4 3.4 .4-7.3 .4-.8 .4 2.4 .4 .2 .4 1.3 .4-.1 .4 2.2 .4-.5 .4 3.5 .4-2.6 .4 .6 .4-3.2 .4-.8 .4 1.4 .4-4.7 .5 4.3 .4 .3 .4-.3 .4-2.4 .4 2.5 .4-.2 .4-1.8 .4 4.8 .4 2.5 .4-3.4 .4-.7 .4-2.2 .4 1.3 .4 4 .4 .9 .4-1.5 .4 4.6 .5-8.6 .4 4.2 .4-3.4 .4-.5 .4-4.1 .4-3 .4-.2 .4-.7 .4 3.9" stroke="#4060a0" stroke-width="0.9" stroke-opacity="0.9"/>
<path d="M62 812.9l.2 3 .1 5.6 .2 3.3 .1 2.1 .2-1.1 .1 1.9 .2 3.2 .1 2.6 .2 .6 .1-.4 .2 2.4 .2 1.5 .1-.3 .2 1.2 .1 2.2 .2-.8 .1 1.4 .2-.2 .1 .9 .2 .2 .1 .7 .2-2 .2 .9 .2 2.8 .4-1.5 .4-.7 .4 6.8 .4 1.3 .5 3.2 .4-1.3 .4-.2 .4-1.6 .4 2.1 .4-2.1 .4 2.1 .4 .2 .4 .8 .4 3.1 .4-.3 .4 1.2 .4-3.2 .4 .5 .4-.9 .4-.1 .4 1.4 .5-.9 .4 1.3 .4 2.4 .4-.3 .4-1.7 .4 .1 .4 1.7 .4-.9 .4 1.8 .4-2.2 .4 1.7 .4 .3 .4-1 .4 3.5 .4-3.2 .4 2.1 .4-2 .4-.3 .5 1.3 .4-.6 .4 .7 .4-.6 .4 1.6 .4 1.1 .4-1.8 .4 .3 .4-.7 .4 1 .4 .1 .4-2.3 .4 1.1 .4 .6 .4-.9 .4 1.9 .4 2.9 .5 1.1 .4-1.6 .4-.5 .4-1.7 .4-1.8 .4 1.2 .4 .7 .4 2.6 .4-.1 .4-1.2 .4 1.8 .4 1.5 .4-2.4 .4 1.5 .4-1.5 .4 0 .4-1.9 .5 2.6 .4-1.1 .4 0 .4 2.5 .4 .5 .4 .6 .4-4.4 .4 1.6 .4-1.1 .4 .6 .4 1 .4 0 .4 2.9 .4-3 .4 3 .4-.9 .4-.7 .4-.5 .5-2.4 .4 3.6 .4-2.3 .4-.5 .4 3.1 .4 .8 .4-1.7 .4 1.6 .4 1 .4-4.6 .4-.3 .4 2.6 .4-2.5 .4 1.6 .4 2.1 .4 3 .4-2.7 .5-1.4 .4 2 .4-.6 .4-1.2 .4-.4 .4-1 .4-.8 .4 3.8 .4-.6 .4-.2 .4 1.6 .4-1.6 .4 .3 .4-1.5 .4 .9 .4 .4 .4-2.1 .5 .9 .4 2.6 .4-.1 .4 2.9 .4-1.7 .4-.6 .4-4.5 .4 2.8 .4-1.2 .4-.8 .4 2.4 .4 .9 .4 .6 .4-.2 .4 .4 .4 .4 .4-.1 .4-.6 .5-1.2 .4 .3 .4 1.8 .4-1.5 .4 1.3 .4 .9 .4-1.3 .4-.3 .4-.3 .4-.1 .4-.5 .4-.3 .4-2.2 .4 4.2 .4 .1 .4 1.1 .4-.1 .5-1.3 .4 .3 .4-.8 .4 .6 .4-.3 .4-.9 .4 .7 .4-.1 .4 3.7 .4-2.1 .4-.2 .4 1.6 .4-2.2 .4-3.6 .4 3 .4 1.7 .4-1.5 .5 3 .4-1.3 .4 .2 .4-.5 .4-1.3 .4-.2 .4-.6 .4 0 .4 1.1 .4-1.7 .4 2.4 .4 1.9 .4-3 .4 2.8 .4 1.3 .4-3.7 .4 .7 .4-.2 .5-3.2 .4 .9 .4 1.8 .4 .7 .4 2.4 .4 .3 .4-3 .4 0 .4-1.5 .4 1.5 .4-2.3 .4 1.5 .4-.8 .4 3.8 .4-.8 .4 2.7 .4-2.3 .5 1.8 .4-6.5 .4 1.2 .4-.1 .4-2.4 .4-.4 .4 .2 .4 7 .4-5.5 .4 6 .4-1.1 .4 1.9 .4-8.2 .4 5.6 .4 1.8 .4 .1 .4 1.5 .5-3.1 .4 .8 .4 3.8 .4 2.3 .4-4.8 .4-.2 .4-3.3 .4 2.5 .4-.7 .4 .6 .4 2.3 .4-2.9 .4 1 .4 1.2 .4 .1 .4-3.1 .4 .9 .4-2 .5-3.5 .4 2.1 .4 .4 .4-3 .4-1.3 .4 4.7 .4 1.2 .4 .4 .4-.8 .4 3 .4-3 .4 1.4 .4 4.9 .4 .1 .4-.7 .4-.8 .4 .1 .5-1.3 .4-2.1 .4 1.7 .4-2.9 .4 2.7 .4 4.1 .4-1.3 .4 .2 .4 .1 .4 5.1 .4-4.4 .4-2 .4-.5 .4 .8 .4 .4 .4-6.3 .4 6.4 .5-.4 .4-1.8 .4-1.8 .4-3.2 .4-2.9 .4 1.5 .4-3.4 .4 5.8 .4 3.4 .4-2.9 .4 5.3 .4 .7 .4 2.4 .4-1.7 .4-2.6 .4-1.8 .4 6.9 .4-5.6 .5-.8 .4 4 .4-2.2 .4 1.7 .4-5 .4 4.5 .4 2.4 .4-3.7 .4-1 .4 2.3 .4 1.7 .4 2.1 .4-2.7 .4 .5 .4 .1 .4-2 .4 6.6 .5-4 .4-2.4 .4-2.8 .4 2.2 .4 .9 .4 3.5 .4-1.5 .4 1.9 .4 2.3 .4-1.3 .4-10.2 .4 1.2 .4 .5 .4-.1 .4 .4 .4-2.9 .4 7.8 .5-.6 .4-2.2 .4 3.4 .4-4 .4 5.3 .4-3 .4 0 .4 0 .4 .4 .4-1.1 .4 .4 .4 5.9 .4-5.9 .4 .6 .4 4.2 .4-4.6 .4 1.7 .4 0 .5 .5 .4 1.1 .4-.4 .4 2.8 .4 2.2 .4-3.1 .4-2.6 .4 3.7 .4-1.5 .4-1.7 .4 2.1 .4-5.7 .4 5.5 .4 4.3 .4-6.3 .4 2.6 .4 1.6 .5-4.3 .4 .4 .4 1.3 .4 1.1 .4-3 .4 4.2 .4 1.3 .4-1.2 .4 .9 .4-7.5 .4 1 .4-.2 .4-6 .4 .5 .4-.4 .4 3.7 .4 6.8 .5-2.2 .4 4.4 .4-1.6 .4-1.9 .4-1.8 .4 2 .4 4.2 .4-3.8 .4 1.1 .4-1.5 .4-.5 .4 2.2 .4 2 .4-.1 .4-5.6 .4 1.8 .4 .6 .4-6.7 .5 3.7 .4 1.8 .4 2.2 .4 1.5 .4-2.1 .4-2.1 .4-2 .4 1.4 .4 4.1 .4-2.6 .4-2.4 .4 6.7 .4-2.5 .4 4.5 .4-1.9 .4-2.7 .4-3.2 .5 .9 .4 4.1 .4-1.5 .4-3.2 .4-3.8 .4 1 .4-1.3 .4 4.7 .4-2.5" stroke="#303890" stroke-width="0.7" stroke-opacity="0.7"/>
<path d="M62 805.3l.2 3 .1 3.1 .2 2.3 .1 1.1 .2 1.2 .1 2.4 .2 1.9 .1 .2 .2 .2 .1 1 .2 .3 .2 .1 .1 1.6 .2 1.8 .1 .5 .2 .5 .1 .9 .2 .6 .1-.1 .2 .1 .1 1.2 .2 1.2 .2-.2 .2-.6 .4 .7 .4 .7 .4 .1 .4 1 .5 1.5 .4 1.5 .4 1 .4 .4 .4 0 .4 .4 .4 .7 .4 .6 .4 .9 .4 1.4 .4 1.2 .4 .1 .4-.5 .4-.1 .4-1 .4-1.3 .4 .7 .5 2 .4 1.5 .4 1 .4 .5 .4 .4 .4 .9 .4 .5 .4 .4 .4 1.1 .4 1.2 .4-.3 .4-1 .4 .1 .4 1 .4 .6 .4-.7 .4 .3 .4 1.5 .5 0 .4-.5 .4 .6 .4 .7 .4-.3 .4-.2 .4 0 .4-.8 .4-.6 .4-.9 .4-1.3 .4-.9 .4-.3 .4 .7 .4 .8 .4 .3 .4-1.2 .5-1.5 .4-.1 .4 1.2 .4 2.7 .4 2.2 .4 1 .4 .5 .4 .2 .4-.5 .4-.5 .4 .8 .4 1.1 .4 .4 .4 0 .4 .2 .4-.1 .4-.4 .5 .5 .4 1.1 .4 0 .4-.7 .4 .2 .4 .9 .4 .6 .4-.1 .4-.3 .4 .7 .4 .5 .4 .2 .4 .7 .4-.7 .4-1.6 .4 .3 .4 .7 .4-.9 .5-2 .4-2.2 .4-1.6 .4-.9 .4 .1 .4 1.4 .4 2.1 .4 1.9 .4 1.8 .4 1.3 .4 .3 .4 1.3 .4 1.4 .4 0 .4 .2 .4 .2 .4 .6 .5 .9 .4 .5 .4 .2 .4 .1 .4-.1 .4-.3 .4 .1 .4 .1 .4 .1 .4 1 .4-.1 .4-.7 .4 .9 .4 .1 .4-.9 .4 0 .4 .7 .5 .1 .4-.9 .4-.1 .4 .6 .4-.1 .4-.7 .4-.4 .4 .2 .4-.6 .4-.5 .4-.8 .4-1.9 .4-.9 .4-.7 .4-.5 .4 .4 .4 .4 .4 1.2 .5 2.1 .4 1.4 .4 .6 .4 .7 .4 .9 .4 .7 .4 .1 .4-.3 .4 .1 .4 .5 .4-.2 .4 .1 .4 .8 .4 .7 .4-.5 .4-.8 .4-.1 .5 0 .4 1 .4 .5 .4-.4 .4 0 .4-.6 .4-.5 .4 .3 .4 .8 .4 .2 .4-.5 .4-.2 .4 .2 .4 0 .4-.4 .4-.9 .4-.9 .5-1 .4-1.4 .4-1.4 .4-.7 .4-.2 .4 .1 .4 .4 .4 1 .4 1.3 .4 1 .4 1.2 .4 1.7 .4 1 .4 0 .4 .2 .4 .4 .4-.1 .4-.2 .5 .9 .4 1.3 .4-.8 .4-1.2 .4 .7 .4 .7 .4 0 .4 0 .4-.7 .4-.6 .4 .7 .4 .7 .4-.5 .4 .3 .4 0 .4-1.2 .4-.3 .5-2 .4-3.3 .4-2 .4-1.2 .4 .1 .4 .1 .4-2.2 .4 0 .4 4.3 .4 3.6 .4 1.5 .4 .7 .4-.4 .4-.4 .4-.4 .4-.7 .4 1.5 .5 1.3 .4-1.4 .4-1.1 .4 0 .4 .5 .4 1.2 .4 1.3 .4 1.1 .4 1.4 .4 .5 .4 1 .4-.1 .4-1 .4 1.8 .4-.4 .4-2.1 .4-1 .4-1.2 .5-.2 .4-1.2 .4-4.6 .4-5.7 .4-2 .4 2.7 .4 4 .4 5.2 .4 5.9 .4 2.8 .4-.3 .4 1 .4 .6 .4-3 .4-2.5 .4 1.4 .4 2.7 .5 1.1 .4-.2 .4-1.2 .4-.9 .4 0 .4-.9 .4-1.4 .4 .5 .4 .9 .4-1.2 .4-1.2 .4 .8 .4 1.2 .4 .2 .4-1.1 .4 .9 .4 .7 .5-2 .4-.1 .4-1.5 .4-4.3 .4-1.9 .4 1 .4 1.8 .4 1.9 .4 1.9 .4 2.2 .4 .3 .4-1 .4-.2 .4-1.3 .4-.9 .4 1.2 .4 2 .4 1.9 .5 .2 .4-.9 .4-1.7 .4-.7 .4 .8 .4-1.1 .4-1.2 .4 .4 .4 2.3 .4 2.5 .4-2.4 .4-3.5 .4-1.1 .4-.7 .4-.1 .4 .2 .4-.7 .5 .6 .4 2.8 .4 .8 .4-.2 .4 1.6 .4 2.3 .4 1.8 .4-.2 .4-.2 .4 1.1 .4-2.5 .4-4.9 .4-2.9 .4-1.5 .4 1.5 .4 4.9 .4 3 .5 .9 .4 2.4 .4 1.2 .4-1.9 .4-1.9 .4-.2 .4 1 .4-.6 .4-1.7 .4 .9 .4 .9 .4-.7 .4-.6 .4 0 .4 .9 .4 1.1 .4-.7 .4-1 .5 .5 .4 1.3 .4-.7 .4-1.8 .4-.7 .4-1.9 .4 .3 .4 2.4 .4-1.8 .4-1 .4 .3 .4-1.9 .4-1.1 .4 .4 .4 .7 .4 1.7 .4 .4 .5-.5 .4 2.8 .4 4.8 .4 2.5 .4-.2 .4-.1 .4-1.2 .4-1.9 .4-.1 .4-.4 .4-3.7 .4-5.4 .4-2.1 .4 2.2 .4 2.4 .4 2.7 .4 4.2 .5 2.3 .4-.2 .4 .4 .4 .1 .4-.6 .4-.6 .4 .3 .4 1.1 .4-.3 .4-1.4 .4-.3 .4 1.6 .4 3.1 .4 1.3 .4-.9 .4-.5 .4-1.4 .4-.9 .5-.3 .4-2 .4-.8 .4 1.3 .4 .4 .4 1.7 .4 2.6 .4-.7 .4-1.8 .4-.6 .4 .7 .4 1.8 .4 .7 .4-.1 .4-.1 .4-.7 .4-1.3 .5-1 .4 0 .4-.3 .4-1.7 .4-2.3 .4-3.6 .4-3.2 .4 1.1 .4 5.3" stroke="#00ffff" stroke-width="0.95"/>
<path d="M62 805.3l.2 2.6 .1 2.9 .2 2.8 .1 1.9 .2 1.2 .1 .5 .2 1 .1 1.8 .2 1 .1 1 .2 .9 .2 .7 .1 1 .2 .1 .1 .1 .2 .7 .1 .8 .2 1.2 .1 .5 .2 .2 .1 1.3 .2 .5 .2-.2 .2 .1 .4 .6 .4 1.2 .4 .4 .4 .2 .5 1.1 .4 1.7 .4 1.6 .4 1 .4 .6 .4-.2 .4-.1 .4 1 .4 .8 .4 .6 .4 1.2 .4 .7 .4-1 .4-.9 .4-.1 .4 0 .4 1 .5 1.7 .4 .9 .4 .6 .4 .7 .4 .6 .4 .3 .4-.5 .4 .5 .4 1.7 .4 .2 .4-.4 .4 .6 .4 .6 .4-.3 .4-.3 .4 .8 .4 .4 .4-.1 .5 .5 .4 .4 .4 .2 .4 .4 .4-.2 .4-.7 .4-.3 .4 .2 .4 .4 .4-.2 .4-.9 .4-.6 .4-.3 .4-.1 .4-.2 .4-.5 .4-.9 .5-1 .4-.2 .4 1.3 .4 1.9 .4 1.7 .4 2 .4 1 .4-.6 .4 .1 .4 .6 .4 0 .4 .6 .4 .9 .4 .1 .4-.3 .4 .2 .4 .4 .5 .3 .4 .2 .4 0 .4-.3 .4-.2 .4 .4 .4 .3 .4-.3 .4 .4 .4 1.2 .4 .6 .4-.3 .4 .5 .4 .5 .4-1 .4-1.4 .4-1.1 .4-.8 .5-.5 .4-.9 .4-2 .4-1.5 .4 .7 .4 1.6 .4 1 .4 .8 .4 1.7 .4 2.3 .4 1.8 .4 .7 .4 .2 .4 .1 .4-.4 .4 .4 .4 1 .5 0 .4-.6 .4 .3 .4 .7 .4 .6 .4 .2 .4-.1 .4-.3 .4 .5 .4 .6 .4-.4 .4 .3 .4 1.2 .4-.3 .4-1 .4-.4 .4 1.3 .5 1.3 .4-1.2 .4-.7 .4 .3 .4-.3 .4 .1 .4 .3 .4 .2 .4-.3 .4-1.2 .4-1.3 .4-1.3 .4-2.2 .4-1.2 .4 1.2 .4 1.6 .4 1.1 .4 1.2 .5 1.5 .4 1.2 .4 .3 .4 .5 .4 .5 .4-.2 .4 .2 .4 1.4 .4 .6 .4-.6 .4-.8 .4-.8 .4-.1 .4 .1 .4 0 .4 .5 .4 .7 .5 0 .4 .2 .4 .2 .4-.3 .4 .4 .4 .3 .4-.6 .4-.8 .4-.3 .4 .9 .4 .6 .4-.2 .4-.1 .4-.2 .4-.2 .4-.3 .4 .2 .5 .4 .4-1.4 .4-2.9 .4-1.7 .4-.6 .4-.4 .4 .4 .4 1.2 .4 2.5 .4 3 .4 1.1 .4 0 .4 0 .4-.2 .4-.1 .4 .9 .4 .6 .4-1.2 .5-.5 .4 .2 .4 0 .4 1.3 .4 1.6 .4 0 .4-1.2 .4-.3 .4 .2 .4 .7 .4 0 .4-.1 .4 .8 .4 .3 .4-1.2 .4-3.4 .4-1.2 .5 .6 .4-1.7 .4-2.7 .4-1.7 .4-.8 .4-.2 .4 1.2 .4 1.1 .4 1.9 .4 3.4 .4 2.3 .4 1.3 .4 .9 .4 1.5 .4 3.2 .4 .1 .4-3.5 .5-1.4 .4-.3 .4 .1 .4 1.3 .4 .6 .4 .6 .4 1.2 .4-1.1 .4-3.3 .4-1 .4 2.4 .4 .7 .4-1.1 .4 1.1 .4 1.6 .4-.7 .4-1 .4-1.3 .5-1.7 .4-3.3 .4-6.5 .4-5.8 .4-2 .4 2 .4 5.7 .4 6.7 .4 4.6 .4 2 .4 .5 .4-.2 .4 1.6 .4 .1 .4-1.1 .4 1.8 .4 .3 .5-1.9 .4-2.3 .4-.6 .4 2.7 .4 1 .4-.6 .4 1.4 .4 1.2 .4-.3 .4-1.7 .4-1.9 .4-.1 .4 1.4 .4 .1 .4-.4 .4 2.2 .4 1.7 .5-2.9 .4-4 .4-2.6 .4-2.7 .4 .4 .4 2.1 .4 .5 .4-.1 .4 2 .4 3.4 .4 0 .4-.4 .4 1.7 .4-.2 .4-.2 .4 1 .4 0 .4-1.5 .5 .4 .4 1.1 .4 0 .4 1.1 .4-.4 .4-1.1 .4 0 .4 1.1 .4 1.2 .4-.8 .4-.8 .4 1.3 .4 2 .4 1 .4-2 .4-1.7 .4 1.7 .5-.1 .4-1.3 .4 0 .4-2.2 .4-.4 .4 2.7 .4 .5 .4-.7 .4 .5 .4 .3 .4-2.2 .4-3.5 .4-1.6 .4 .4 .4-1.6 .4-1 .4 3.1 .5 2.9 .4 3.2 .4 2.3 .4 0 .4 1.5 .4-.5 .4-3 .4-1.6 .4 .3 .4 .9 .4 .8 .4 .7 .4-.4 .4-.5 .4 .8 .4 .1 .4 .2 .4 1 .5-.1 .4-.1 .4 .9 .4 .1 .4-1.4 .4-.5 .4-1.7 .4-.9 .4 2.8 .4 1.2 .4-.9 .4 .8 .4 .4 .4-.4 .4-.2 .4-1.2 .4 1.1 .5 2.4 .4 0 .4-.9 .4-1.9 .4-1.7 .4 1.2 .4 2.4 .4-.2 .4-1.3 .4-2.2 .4-4.2 .4-4 .4-2 .4 1.2 .4 2.1 .4 1.9 .4 4.1 .5 3.3 .4-.9 .4-1.8 .4 1.1 .4 2.1 .4-.6 .4-1 .4 .2 .4 1.2 .4 1.9 .4-.5 .4-1 .4 .7 .4-.8 .4-1.7 .4 0 .4 .6 .4 .5 .5 .9 .4 0 .4 .5 .4 .8 .4-.4 .4-.9 .4-1.2 .4-.1 .4 1.2 .4 2.6 .4 1 .4-1.6 .4 .3 .4 1.8 .4 1.6 .4 .8 .4-1.8 .5-1.6 .4-.7 .4-2.3 .4-2.8 .4-2.9 .4-1.7 .4-.7 .4-.3 .4 2" stroke="#008080" stroke-width="0.95"/>
<path d="M62 805.2l.2 2.5 .1 3 .2 2.8 .1 1.5 .2 .8 .1 .7 .2 1.4 .1 1.4 .2 .8 .1 .4 .2 .2 .2 1 .1 1.5 .2 .9 .1 .7 .2 .7 .1 .8 .2 .7 .1 0 .2 .7 .1 1.3 .2 .3 .2-.1 .2-.2 .4 .6 .4 1.2 .4 .2 .4-.3 .5 .6 .4 1.8 .4 1.7 .4 .5 .4 .6 .4 .7 .4 0 .4 .3 .4 2.2 .4 1.9 .4 .2 .4 .3 .4 .1 .4-1.2 .4-1.9 .4-.6 .4 1.5 .5 2.1 .4 .5 .4 .8 .4 1.6 .4 .8 .4-.2 .4-.1 .4 1.4 .4 1.6 .4-.2 .4-1.5 .4-.5 .4 1.1 .4 .4 .4-.1 .4 .5 .4 .7 .4 1 .5 1.1 .4 .2 .4 .3 .4 .5 .4-.3 .4-.8 .4-.2 .4-.2 .4-.5 .4-1.4 .4-1.7 .4-.7 .4 .4 .4 .5 .4 1 .4 1 .4-1 .5-1.6 .4-.5 .4 .5 .4 1.5 .4 2.2 .4 1.6 .4 .6 .4 .8 .4 .1 .4-.1 .4 0 .4-.4 .4 .1 .4 .8 .4 1.3 .4 .2 .4-.6 .5 .5 .4 .1 .4-.2 .4 .1 .4-.1 .4 .2 .4 .4 .4 .3 .4 .5 .4 .2 .4-.1 .4-.1 .4-.8 .4-.3 .4 1.1 .4 .1 .4-.9 .4-.2 .5-1.3 .4-1.8 .4-.6 .4-.3 .4-.1 .4 .1 .4 .7 .4 1.4 .4 1.6 .4 2.5 .4 2.2 .4 .2 .4-.2 .4 .5 .4 .5 .4 0 .4 .6 .5 .6 .4-.4 .4 0 .4 1 .4 .6 .4-.3 .4 .2 .4 .8 .4 .3 .4-.1 .4 .2 .4-.4 .4-.8 .4-.1 .4 .3 .4 1.1 .4 .8 .5-.9 .4-.9 .4 .4 .4 1.1 .4 .5 .4-.8 .4-.3 .4-.1 .4-1.2 .4-1.1 .4-1.4 .4-2 .4-.5 .4 .4 .4-.1 .4 .5 .4 1.7 .4 1.8 .5 1.6 .4 1.2 .4 .1 .4-.7 .4-.4 .4 .1 .4 .5 .4-.4 .4 .1 .4 2 .4 .9 .4-.7 .4-.4 .4 0 .4 .4 .4-.1 .4-.5 .5-.1 .4 0 .4 .1 .4 .5 .4 .3 .4 0 .4 0 .4-.4 .4-.2 .4 .7 .4 1 .4 .2 .4-.8 .4-1 .4-.3 .4-.2 .4-.7 .5-1.6 .4-1.2 .4-.1 .4-.8 .4-1 .4 1 .4 1.3 .4 .2 .4 1.3 .4 2.5 .4 1.1 .4-.2 .4 .9 .4 .3 .4-.6 .4 .3 .4 .2 .4-.3 .5 0 .4 1 .4 1.7 .4 .7 .4-.5 .4-1.1 .4-1.2 .4 .3 .4-.2 .4-1.6 .4-.4 .4 1.6 .4 1.7 .4 .1 .4-1.1 .4-.6 .4-.9 .5-1.1 .4-.6 .4-2 .4-1.1 .4 1.2 .4 .5 .4-.1 .4 1.7 .4 1.9 .4 .4 .4 .7 .4 1.8 .4 .8 .4-.2 .4-.1 .4-.2 .4 .3 .5-.1 .4-.2 .4 1.4 .4-.5 .4-2 .4-.4 .4-.5 .4 .5 .4 2.5 .4 1.6 .4-.9 .4-2 .4-.1 .4-.2 .4-.9 .4 1.3 .4 .9 .4-1.6 .5-1.3 .4-2.4 .4-4 .4-1.2 .4-.2 .4 .4 .4 3.2 .4 2.9 .4 2.2 .4 .2 .4-1.1 .4 2.2 .4 2.7 .4 .4 .4 0 .4 .6 .4-.8 .5-1.7 .4-.6 .4 0 .4-.3 .4-.4 .4 1.3 .4 2.6 .4 1.1 .4-1.9 .4-2.6 .4-1.2 .4 1 .4 2 .4 .6 .4-2 .4-1.3 .4 .9 .5 0 .4-1.4 .4-2.5 .4-4.1 .4-.3 .4 4 .4 2.9 .4 1.4 .4 1 .4 .9 .4 .8 .4 0 .4 .9 .4 .6 .4-.7 .4-.4 .4 .1 .4 1 .5 1.6 .4-.2 .4-1.5 .4-2.3 .4-2.2 .4 .3 .4 1.9 .4 0 .4-.3 .4 1.6 .4 .7 .4 .1 .4-.4 .4-1.7 .4 .3 .4 2.3 .4 .3 .5-1.3 .4 .5 .4 .9 .4 .3 .4-.2 .4-1.3 .4 1.1 .4 1.9 .4-.5 .4-.9 .4-1.2 .4-2.4 .4-2.4 .4-2 .4 .2 .4 2.9 .4 2.5 .5 1.2 .4 .8 .4 1 .4 .6 .4 0 .4 .2 .4-.3 .4-1.4 .4 1 .4 3 .4-2.8 .4-4.2 .4 .3 .4 .5 .4 .2 .4 .4 .4-1.3 .4 .3 .5 3.3 .4 1 .4-1.2 .4 .4 .4 2.4 .4 2.1 .4-1.9 .4-2.8 .4 1 .4 2.8 .4 .6 .4-1.9 .4-2 .4-1.2 .4-.8 .4 1.2 .4 .2 .5-.9 .4 2.3 .4 2 .4-1.3 .4-1.6 .4 .7 .4 1.9 .4 .3 .4-.8 .4-.2 .4 .3 .4-1.8 .4-4 .4-1.3 .4 2.9 .4 2.6 .4 1.4 .5 .7 .4-.3 .4 2.1 .4 2.1 .4-.2 .4-.8 .4-1.8 .4 .3 .4 2.5 .4-.6 .4-3.4 .4-1.8 .4 .8 .4 .8 .4-.6 .4-.5 .4 1.5 .4 .2 .5-2.6 .4-.9 .4 1.6 .4 1.6 .4 .6 .4-.1 .4-.5 .4-.9 .4 .6 .4 2.6 .4 1.2 .4-2.4 .4-.9 .4 1.4 .4-1.5 .4-1.6 .4 .7 .5 .6 .4 .1 .4-.7 .4-2.2 .4-3.7 .4-3.6 .4-.9 .4 2.6 .4 3.8" stroke="#ff8000" stroke-width="0.95"/>
<path d="M62 787.7l.2 3 .1 5 .2 1.1 .1 2.8 .2 2.4 .1 1.7 .2-.1 .1 2.4 .2-.2 .1 1.3 .2-1.6 .2 4.7 .1-1.8 .2 2.4 .1 .5 .2-.8 .1-1.4 .2 2.5 .1 2 .2-.9 .1 .6 .2 1.2 .2-2 .2 .4 .4-4.5 .4 .6 .4-1 .4-3 .5 2.8 .4 3.9 .4 3.7 .4 .1 .4-.6 .4-2 .4-1.2 .4 2 .4 4 .4 2.5 .4 2.4 .4 3.1 .4-1.7 .4-3.4 .4-5.3 .4-3.9 .4 3.1 .5 6.5 .4 4.9 .4 2.8 .4 1.4 .4 2.8 .4 2.1 .4-1.9 .4 .7 .4 .9 .4-1.4 .4 2.5 .4 .3 .4 .2 .4 2.7 .4-.9 .4 1.2 .4 .8 .4-.6 .5 .2 .4-1 .4 1.8 .4-.4 .4-1.6 .4 1.6 .4 .1 .4 .7 .4-2.3 .4-3.3 .4-2.8 .4-4.2 .4-.2 .4 4 .4 2.4 .4 1.9 .4-4.9 .5-4.6 .4 1.4 .4 .6 .4 6.8 .4 3.7 .4 6 .4 .7 .4 .4 .4 2 .4-2.9 .4 2.4 .4 .2 .4-.7 .4 2.4 .4-3.1 .4 .8 .4 2 .5-1.5 .4 2.1 .4-1.1 .4 1 .4-2.7 .4 4.7 .4-1 .4 1 .4-.9 .4-1.1 .4 2 .4-1.7 .4 4.1 .4-4.6 .4-.1 .4-1.4 .4 0 .4-1.2 .5-4.2 .4-3.1 .4-3.3 .4 0 .4-4 .4 1.4 .4 4.1 .4 3.6 .4 3 .4 2.2 .4 6.2 .4 1.1 .4-1.2 .4 2.4 .4 .2 .4 .4 .4 1.5 .5-.4 .4-2.6 .4 3.1 .4-.2 .4-.3 .4-.3 .4 .1 .4 2 .4-1.2 .4-1.2 .4 3.4 .4-2.5 .4 1.8 .4 .4 .4 .8 .4-2.3 .4-2 .5 4.4 .4-2 .4 .6 .4 .9 .4-1.7 .4 .9 .4-1.2 .4-1.1 .4-.2 .4-5.6 .4-.5 .4-2.9 .4-1.4 .4-1.1 .4-.4 .4 1.3 .4 .2 .4 2.9 .5 4.9 .4 3.2 .4 .7 .4 2.8 .4 .3 .4-1.3 .4-.9 .4 2.8 .4 .1 .4-.7 .4 .5 .4-.3 .4-.6 .4 2.2 .4-.5 .4-.8 .4-.6 .5 1.7 .4 1.1 .4-.1 .4-1.8 .4 1.4 .4-.5 .4 0 .4 .8 .4-1.9 .4 .2 .4 1.7 .4-.1 .4-1.8 .4-.2 .4-3.2 .4-1.6 .4-.5 .5-2.5 .4-.7 .4-2.8 .4 .7 .4-1.4 .4 .7 .4 3.9 .4 1.8 .4 1.8 .4 3.9 .4 1.1 .4-1.9 .4 4 .4 .4 .4-1.5 .4 1.9 .4 1.2 .4-1.5 .5 1.9 .4-1.4 .4 .2 .4 1.7 .4-.3 .4 .6 .4 .3 .4-1.5 .4-.7 .4 1.1 .4 .3 .4-1.1 .4-.6 .4 1.6 .4-2.7 .4 .8 .4-2.3 .5-3.4 .4 .7 .4-4.3 .4-.1 .4-.1 .4-1.5 .4 3.2 .4-1.6 .4 2.9 .4 2.9 .4 3 .4 .5 .4 3.3 .4-1.5 .4 .2 .4 1 .4 1.4 .5 0 .4-1.1 .4 2.3 .4-2.4 .4-.1 .4 2.5 .4-2.5 .4 1.5 .4-1.5 .4 .5 .4 .7 .4-.8 .4 1.1 .4-1.7 .4 .7 .4-.6 .4-1.4 .4-.8 .5-.2 .4-4.7 .4-1.6 .4-1 .4-1 .4 .8 .4 1 .4 2.7 .4 2.9 .4 .5 .4 2.1 .4 .6 .4 .9 .4 1.3 .4-.8 .4 1 .4-2 .5 2.9 .4 0 .4-1 .4-.3 .4 1.1 .4-1.9 .4 .4 .4 0 .4 .1 .4 2.5 .4-1.7 .4 1.2 .4-1.5 .4 .2 .4-1.8 .4 .5 .4 .8 .5-4 .4-2.2 .4-2.2 .4-1.9 .4-.4 .4-.1 .4 1.1 .4 1.1 .4 3.5 .4 2.7 .4 2.7 .4-1.2 .4 1.6 .4 .7 .4 .3 .4-2.1 .4-.3 .4-.6 .5-.3 .4-4.2 .4 .1 .4-.4 .4 .9 .4 2.6 .4 4.3 .4-1.3 .4 1.8 .4 1.1 .4-1.4 .4 1.8 .4 1 .4-3.5 .4 3.3 .4 1.9 .4-2.9 .5 1.2 .4 .1 .4-.6 .4 1.7 .4-1.1 .4-1.4 .4-1 .4 1.7 .4-1.8 .4-.5 .4-5.1 .4-2.2 .4-2.8 .4-2.9 .4 1.3 .4 1.7 .4 3.1 .5 3.3 .4 3.6 .4 1.8 .4 2.6 .4-1.7 .4 1.5 .4-.1 .4-1.1 .4-1.5 .4-3.3 .4-2.2 .4-2.3 .4-1.2 .4 .4 .4 5.2 .4 2.5 .4 2.4 .4 .8 .5 1.9 .4-1.7 .4-.1 .4 .5 .4 .5 .4 .2 .4 .8 .4-.2 .4-.8 .4-.5 .4 1.4 .4-2.1 .4-2 .4 .1 .4-.9 .4-.1 .4 .5 .5 .9 .4 .2 .4 1.6 .4 2.4 .4-.2 .4-.4 .4-.3 .4-2.1 .4 1.6 .4-3.5 .4-2.9 .4-2.5 .4-.9 .4 .5 .4 1.4 .4 2.8 .4 .9 .5 3.5 .4-.7 .4 2.9 .4 0 .4 4.1 .4-3 .4-.5 .4 2.5 .4-1.2 .4-1.6 .4 1.9 .4-.4 .4 2.4 .4-4.8 .4 4.9 .4-2.9 .4 1.8 .4-6 .5-.3 .4-3.4 .4-1.9 .4-1.3 .4 1.9 .4 1.9 .4 1 .4 3 .4 1.8 .4 3.1 .4-.5 .4 1.8 .4-2 .4 1.9 .4-1.9 .4 1 .4-1.8 .5 1.3 .4-3.6 .4 1.1 .4-2.3 .4-4.2 .4-2.4 .4-2.6 .4 .4 .4 6.8" stroke="#ffff00" stroke-width="0.9"/>
<path d="M62 785.1l.2 4 .1 2.1 .2 4.6 .1 .6 .2 .9 .1 2.2 .2 1.8 .1 1.1 .2 1 .1-.4 .2 .5 .2 2.5 .1 1.1 .2 1.2 .1 1.2 .2-.2 .1 2.2 .2-1.1 .1-1.2 .2-.5 .1 3.1 .2-1.4 .2-1.7 .2 .7 .4-1.6 .4-2.9 .4 .7 .4-2.4 .5-.6 .4 5.4 .4 .5 .4 3.9 .4-.4 .4-1.4 .4-1.5 .4 1.9 .4 5.5 .4 .4 .4 5.1 .4-.3 .4-.8 .4-5.4 .4-3.7 .4-3 .4 1.7 .5 6.5 .4 7.2 .4 5.2 .4-1.6 .4 2.8 .4-1.7 .4 2.7 .4-1.1 .4 3 .4 0 .4-.3 .4 1 .4 1.2 .4-1.3 .4 1.8 .4 .6 .4 1.3 .4-1.2 .5 .9 .4 1.5 .4 .3 .4 .8 .4-2.2 .4-1.1 .4 3.9 .4-1.6 .4-5.8 .4-.5 .4-6 .4-1 .4-.1 .4 1.3 .4 3.7 .4 .6 .4-2.4 .5-5.4 .4-1.5 .4 4 .4 3.1 .4 8.5 .4 5 .4 1.1 .4 1.2 .4 0 .4 .7 .4-.6 .4-.5 .4 3.4 .4-2.6 .4 0 .4 1.7 .4-2.4 .5 3.2 .4-1.1 .4 1.5 .4 .4 .4-.6 .4-.2 .4-.9 .4 1.7 .4-.9 .4 1.6 .4 .2 .4 1.4 .4-.6 .4-1.3 .4-2.2 .4 1.6 .4-4.2 .4-.6 .5-5.8 .4-3 .4-2.6 .4-4 .4 2.6 .4 1.2 .4 .8 .4 4.7 .4 4.8 .4 3.2 .4 2.3 .4 2.2 .4 2.1 .4 1.4 .4 1.6 .4-2.9 .4 .8 .5 2.9 .4 0 .4 .5 .4-.3 .4-.7 .4 .4 .4 .2 .4-.7 .4 2.2 .4 .3 .4-.4 .4 .5 .4-.6 .4-2.4 .4 2.5 .4-.6 .4-.4 .5 .8 .4-.4 .4 .4 .4 .8 .4 .6 .4-.9 .4-1.3 .4-3.3 .4-.6 .4-3 .4-2.4 .4-2 .4-2 .4-2.5 .4-.2 .4 .7 .4 2.5 .4 3.8 .5 5.7 .4 .2 .4 3.6 .4 2.3 .4-1.7 .4-.1 .4 2.4 .4 0 .4 .3 .4-.9 .4 .8 .4 1.6 .4-1.7 .4-.6 .4-.1 .4 .9 .4-.6 .5 1.2 .4-.5 .4 .8 .4 .9 .4-2.9 .4 1 .4 1.3 .4 0 .4 0 .4 1.8 .4-1.7 .4-.4 .4-.1 .4-2.2 .4-.6 .4-.6 .4-5.3 .5-3.2 .4-2 .4-1 .4-.6 .4-1.3 .4 3.7 .4 1.2 .4 2.2 .4 3.1 .4 2.2 .4 3.9 .4 2.5 .4 .3 .4 .1 .4-.7 .4 2 .4 .6 .4-2.5 .5 1.4 .4 1.8 .4-1.2 .4-1.2 .4 1 .4 .7 .4 .1 .4 .5 .4-1 .4 .2 .4-1 .4 .5 .4-.2 .4 .5 .4-2 .4-1.1 .4-1.9 .5-2.5 .4-2.5 .4-2.2 .4-.3 .4-.9 .4-.6 .4 .7 .4 1.4 .4 2.8 .4 2.2 .4 4.3 .4 1.7 .4 .8 .4-.7 .4-.5 .4 2.5 .4 2.1 .5-1.3 .4-1.3 .4 .9 .4 .4 .4 .6 .4-1 .4 .1 .4 .5 .4 1.5 .4-2.5 .4 1 .4 .7 .4-.3 .4-.8 .4 .5 .4-.9 .4-1.1 .4-1 .5-2.2 .4-2.2 .4-5.4 .4 1.4 .4 .2 .4-1.2 .4 .5 .4 6 .4-.5 .4 2.7 .4 2.5 .4 1 .4 1.1 .4-2.2 .4 2.7 .4-2.1 .4 2.2 .5 0 .4-.1 .4 0 .4 .1 .4-.3 .4-.6 .4 2 .4 1.1 .4-1.5 .4 .6 .4-.3 .4-.1 .4 .2 .4-.9 .4-1.3 .4 .3 .4-1.8 .5-2.8 .4 .6 .4-5.1 .4-.6 .4-2.1 .4-1.3 .4 1.9 .4 2.6 .4 .4 .4 6.1 .4 .7 .4 .8 .4 2.7 .4 0 .4 .2 .4-.8 .4-3 .4 .4 .5-1.9 .4 .6 .4-5 .4-.2 .4 2.2 .4 1.3 .4 4.3 .4 2 .4 .2 .4 2.5 .4 0 .4 1.1 .4-3.8 .4 2.7 .4-1.5 .4 2 .4-3.2 .5 1.8 .4 1.7 .4-1.5 .4-.7 .4 1.6 .4-.6 .4-.5 .4-1.4 .4-1.9 .4-.1 .4-4.5 .4-4.4 .4-1.4 .4-4.3 .4 1 .4 2.3 .4 6.3 .5 3 .4 3.6 .4 .2 .4 3.3 .4-.2 .4-.5 .4-.8 .4 1.9 .4-2.5 .4-4.7 .4-1.2 .4-2 .4-1.7 .4 2 .4 2.1 .4 3.8 .4 .9 .4 3.5 .5-.1 .4-.2 .4 .2 .4 1.7 .4-1.3 .4 .3 .4-.6 .4-.2 .4 1.7 .4 1.8 .4-4.2 .4-.3 .4 .3 .4-1.7 .4-1.8 .4 1.4 .4 .3 .5-.4 .4 3.4 .4-1.1 .4 1.8 .4 2 .4-3.2 .4 2.7 .4-2.2 .4-1.4 .4-1.8 .4-1.6 .4-4 .4-2.1 .4 .8 .4-.6 .4 4.2 .4 3.6 .5-1.1 .4 4.7 .4-.4 .4 3.9 .4-2.2 .4 1 .4 1.5 .4 .2 .4-.9 .4 .7 .4-1.4 .4 .1 .4 .5 .4-.7 .4-.2 .4 1.2 .4-2.6 .4-1.4 .5-2.2 .4-2.7 .4-2.2 .4 .5 .4-.6 .4 0 .4 6.1 .4 .9 .4 3.1 .4 .1 .4 .9 .4 .1 .4 .5 .4 1 .4-2.8 .4 1.5 .4-.3 .5 1 .4-1.2 .4-1.3 .4-3.3 .4-5.2 .4-2.5 .4-3.6 .4 1.7 .4 4.9" stroke="#c080ff" stroke-width="0.8"/>
<path d="M62 788.2l.2 3.8 .1 .8 .2 3.1 .1 2.3 .2 .8 .1 3.4 .2-.6 .1 .8 .2 1.8 .1 2.1 .2-.8 .2 .8 .1 2 .2 1.7 .1-.8 .2 2 .1-1 .2-.1 .1-1 .2 .1 .1 1.4 .2-.3 .2 .4 .2 .9 .4 .2 .4-4.9 .4-1.2 .4-.2 .5 2.3 .4 2.6 .4 2.9 .4 .6 .4 1 .4-2.4 .4 .2 .4 1.4 .4 1.2 .4 5.5 .4 2.7 .4-.5 .4-.3 .4-3.3 .4-6.1 .4-1 .4 2.3 .5 6.6 .4 5.1 .4 2.6 .4 1 .4 .4 .4 2.6 .4-.9 .4 .3 .4 1.8 .4-.3 .4-1.6 .4 3.6 .4-1 .4 1.9 .4-.3 .4 .2 .4 1.2 .4-.1 .5-.5 .4 1.6 .4 .4 .4 .6 .4-1.9 .4 2.2 .4-.4 .4-1.4 .4 .1 .4-3.2 .4-3.5 .4-4.3 .4 2 .4 1.6 .4 2.8 .4 .2 .4-1.4 .5-3.6 .4-2.9 .4 2.8 .4 3.9 .4 7.2 .4 4 .4 1.2 .4-.5 .4 .7 .4 1.7 .4-.4 .4-.4 .4 .5 .4 2.6 .4-3.1 .4 1.1 .4 .1 .5 1 .4 .3 .4 .6 .4-.4 .4 1.4 .4-1.6 .4 1.5 .4-.8 .4 1.2 .4 .5 .4-1.8 .4 .6 .4 1 .4-1.5 .4 0 .4-1 .4-2.3 .4-.6 .5-3.2 .4-3 .4-3 .4-3.7 .4 1.7 .4 1.5 .4 2 .4 2.8 .4 5.5 .4 3.2 .4 .7 .4 3.5 .4 1.6 .4-.7 .4-.3 .4-.1 .4-1.4 .5 3.1 .4-.1 .4-1.2 .4 1.9 .4-2 .4 1.2 .4 1.7 .4-1.4 .4 2.4 .4-2 .4 2.1 .4 .3 .4-1.9 .4-.2 .4 .5 .4 .5 .4-.3 .5 1.3 .4 .2 .4 .7 .4-1.5 .4-1.1 .4 .1 .4 1.2 .4-.5 .4-3.4 .4-.5 .4-2.6 .4-3.6 .4-4.4 .4 .5 .4 2 .4-2.2 .4 4.5 .4 1.5 .5 4.5 .4 1.4 .4 .6 .4 2.9 .4-.3 .4 1.2 .4 .4 .4-.6 .4 1.1 .4-1.8 .4 .9 .4 1.7 .4-1.1 .4 1.1 .4-.5 .4 .7 .4-.3 .5 .2 .4-.2 .4 .5 .4-.7 .4 1.9 .4 0 .4-2.7 .4 1.7 .4-.7 .4-1.3 .4 1.5 .4 .6 .4-2.8 .4 1.8 .4-2.9 .4-.9 .4-3.1 .5-.7 .4-2.9 .4-2.1 .4-1.1 .4 1.1 .4 1.1 .4 2.5 .4 3.7 .4 .1 .4 4.5 .4-.4 .4 4.5 .4-2 .4 .6 .4 1.2 .4 .3 .4-.4 .4 .7 .5 1.3 .4-1.3 .4-.3 .4 1.2 .4-1.1 .4-.3 .4 2.8 .4-2.1 .4 1.3 .4-.6 .4-.1 .4 .5 .4-.1 .4-1.1 .4 .1 .4-.7 .4-2.7 .5-2.5 .4-1.9 .4-2.8 .4 .1 .4-1.9 .4 1.7 .4 1.3 .4 1.8 .4 1 .4 2.1 .4 1.4 .4 2.2 .4 .6 .4 1.3 .4-.3 .4 1.7 .4-.7 .5 1.9 .4-2.4 .4 .7 .4 2.4 .4-1.4 .4-1.2 .4 1.4 .4 .9 .4-1 .4-1 .4 1.4 .4 .6 .4-2.9 .4 3.3 .4-2.7 .4 .6 .4-1.9 .4 .3 .5-3.7 .4-2.5 .4-1.2 .4-.4 .4 .5 .4-1.8 .4 4.8 .4-.3 .4 1.5 .4 3.2 .4-.7 .4 3.1 .4-2.3 .4 3.2 .4 .2 .4 .1 .4-.4 .5 .8 .4-1.1 .4-.5 .4 .2 .4 .3 .4 1.1 .4-.7 .4 .8 .4 1.3 .4-2.7 .4 0 .4 2.3 .4-.8 .4-1.1 .4 .8 .4-2.5 .4-.1 .5-3.1 .4-.3 .4-2.3 .4-2.5 .4 .3 .4-2.9 .4 4 .4 .7 .4 2.7 .4 2.9 .4 1.6 .4 3.7 .4-1.7 .4 1.8 .4-2.1 .4 1.3 .4-2.8 .4-.8 .5-1.5 .4-.6 .4-2.6 .4-.1 .4 .8 .4 1.8 .4 3.2 .4-.4 .4 2.8 .4 .5 .4 1.4 .4-.2 .4 1.1 .4-2.2 .4-.1 .4 .9 .4 1.4 .5 .6 .4-.9 .4-.3 .4-.3 .4 1.8 .4-1.6 .4-.8 .4-1.8 .4 2 .4-1.6 .4-2.2 .4-4 .4-4.4 .4-.9 .4-1.4 .4 3.1 .4 3.5 .5 3.8 .4 2.6 .4 1.8 .4 .6 .4 2.3 .4-1.2 .4 .7 .4-1.7 .4-.5 .4-2.9 .4-1.2 .4-2.5 .4-1.7 .4 2.4 .4 1.8 .4 2.7 .4 2.6 .4 .2 .5 .3 .4-.3 .4 1.2 .4-.9 .4 0 .4 1.6 .4-1.3 .4 0 .4-.3 .4 1.1 .4 1 .4-2.4 .4 .5 .4-1.5 .4-1.8 .4 0 .4 .8 .5-.3 .4 2.6 .4-1.6 .4 1.9 .4 1.8 .4 .6 .4-1.6 .4 .8 .4-1 .4-3.8 .4-1.5 .4-3.5 .4 1.4 .4-1 .4 .7 .4-.7 .4 6 .5 .2 .4 2.6 .4 .6 .4 .6 .4 .8 .4 .7 .4-.6 .4 1.5 .4-1 .4 .2 .4 .4 .4 1 .4-.2 .4-1.3 .4 .6 .4-.6 .4-1.2 .4-1.6 .5-1.3 .4-3.5 .4-1.7 .4-.4 .4 .3 .4 2.9 .4-.5 .4 5.8 .4 1 .4 .6 .4 1.2 .4-1.4 .4 2.3 .4-2.2 .4 .4 .4 1.6 .4-2.6 .5 .9 .4-.5 .4-1.9 .4-3.2 .4-4.8 .4-1.5 .4 .9 .4 1 .4 1.3" stroke="#800000" stroke-width="0.7" stroke-opacity="0.6"/>
<path d="M62 786.3l.2 4.2 .1 2.5 .2 2.6 .1 2.3 .2 3 .1-1.5 .2 2.4 .1-1.5 .2 2.5 .1 .2 .2 3.3 .2-.8 .1 2.2 .2 .3 .1 3 .2-1.9 .1 .6 .2 .5 .1-.2 .2-.1 .1-.1 .2 .7 .2-.6 .2 .9 .4-1.5 .4-4.4 .4 .5 .4-3.2 .5 4.7 .4 1.3 .4 3.5 .4 1.8 .4 0 .4-.6 .4-.4 .4 2.2 .4 1.5 .4 2.6 .4 5.3 .4 .6 .4-1.9 .4-7 .4-2.2 .4-5.5 .4 5.2 .5 6.8 .4 5.2 .4 2.4 .4 2 .4-.7 .4 1.6 .4 0 .4 .7 .4 .3 .4 2.8 .4 .5 .4-2.4 .4 2.7 .4 1 .4-2.1 .4 3.3 .4-.7 .4 .9 .5 0 .4-.4 .4 0 .4 2.5 .4-.4 .4-1.5 .4 1.2 .4 1.5 .4-3.6 .4-4.9 .4-3.6 .4-.7 .4-1.2 .4 2.6 .4 5.3 .4-.9 .4-2.4 .5-3.7 .4-3.1 .4 1.9 .4 7 .4 6.7 .4-.1 .4 3.8 .4 3 .4-2.1 .4 1.1 .4 .9 .4-1.5 .4 2.8 .4-2.5 .4-1.5 .4 3.4 .4-.1 .5-1 .4 2.1 .4-.2 .4 .3 .4-1.6 .4 2.3 .4 .1 .4-2.9 .4 2.3 .4 .2 .4 2.3 .4 .2 .4-2.1 .4-.5 .4 .8 .4-3 .4-.4 .4-2.2 .5-3.9 .4-5.1 .4 1.4 .4-4.6 .4 1.3 .4 1.5 .4 3.1 .4 1.6 .4 3.8 .4 5.8 .4-.2 .4 3.3 .4 .6 .4 1.5 .4 1.2 .4-1.4 .4 1.6 .5-1.1 .4 1.3 .4-1.2 .4 1.9 .4-2.5 .4 1.5 .4 1.9 .4-1.3 .4 1.9 .4-1.1 .4 .3 .4 .3 .4-1.1 .4 2.6 .4-.3 .4-.6 .4 .1 .5-.8 .4 .5 .4-.2 .4 1.6 .4-1 .4-.8 .4-.6 .4-4 .4 1.9 .4-3.3 .4-3.2 .4-2.3 .4-1.2 .4-.9 .4-2.3 .4 1.5 .4 3.4 .4 2.6 .5 2.5 .4 3.3 .4 2.3 .4 2.7 .4 .5 .4-1.3 .4 .4 .4 .5 .4-.5 .4-.5 .4 .5 .4 .1 .4-1.5 .4 1.1 .4 3.4 .4-.9 .4 0 .5-.9 .4 .3 .4-.7 .4-.1 .4 1.4 .4-.3 .4 .1 .4-.2 .4-.1 .4 1.3 .4-.8 .4-.2 .4-.3 .4-.4 .4-1.8 .4-2.3 .4-3.9 .5-.4 .4-1.5 .4-4.2 .4 .7 .4-3 .4 4.6 .4 2.5 .4 3.5 .4 2.5 .4 1.9 .4 1.5 .4 2.2 .4-.1 .4 1.6 .4-2.2 .4 3.1 .4-.5 .4-2.3 .5 1 .4 2.6 .4-1.7 .4 1.1 .4-.8 .4 .4 .4 .3 .4 .1 .4-.4 .4 .9 .4 0 .4-.8 .4 1.5 .4-2.7 .4-1.3 .4 2.4 .4-4.7 .5 0 .4-3.5 .4-2.9 .4-2.8 .4 .7 .4 1.6 .4-.8 .4 3.8 .4-.8 .4 3.5 .4 .4 .4 2.1 .4 2.3 .4 2.1 .4-.1 .4 2.3 .4-4.2 .5 3.7 .4-1 .4 .2 .4 0 .4 .2 .4 .1 .4-.3 .4 .4 .4 .8 .4-.2 .4-1.3 .4 .6 .4 1 .4-.4 .4 1 .4-2.4 .4-1.1 .4-1.5 .5-2.9 .4-.7 .4-.8 .4-2.9 .4-1.7 .4 3.2 .4 .9 .4 1.9 .4 1.6 .4 .9 .4 3 .4 .3 .4-.9 .4 1.7 .4-.7 .4 1.1 .4 2.1 .5-.9 .4-1.3 .4 2.2 .4-2.6 .4 .9 .4 .9 .4-.1 .4 2.1 .4-1.6 .4-.6 .4 .1 .4 .9 .4-.2 .4-.1 .4-.7 .4-.6 .4-2 .5-1.4 .4-.4 .4-4.6 .4-2.3 .4-1 .4 .5 .4 1 .4 1.6 .4 2.2 .4 4.6 .4 2.5 .4-.2 .4 .6 .4-.1 .4 3 .4 0 .4-1.1 .4-.7 .5-5.5 .4-2.4 .4-1.6 .4 1.6 .4 1.7 .4 .9 .4 4.9 .4 .5 .4 .3 .4-.5 .4 3.1 .4-1.3 .4-1.5 .4 2.3 .4 .6 .4-.9 .4 1.3 .5 .1 .4-1.5 .4-1.1 .4 1.5 .4-1.1 .4 2.2 .4-.6 .4-2.3 .4-.3 .4-3.2 .4-1.6 .4-3.6 .4-4 .4-1.9 .4 1.6 .4 3 .4 1.7 .5 5.6 .4 .9 .4 2.2 .4 2.4 .4 1.1 .4-1.7 .4 1 .4-1.3 .4-2 .4-2.4 .4-2.9 .4-2.2 .4 1 .4 .7 .4 3.6 .4 2.6 .4 .8 .4 2.9 .5-2.3 .4 1.9 .4-.2 .4 1.2 .4 .1 .4-.6 .4-.9 .4 .7 .4-.4 .4 2.3 .4-4.6 .4 .3 .4 1.4 .4-1.7 .4-2.5 .4 3.5 .4-2.9 .5 2.7 .4 .4 .4-1 .4 4.1 .4 .2 .4-.3 .4 .2 .4 .4 .4-2.7 .4-1.7 .4-4.3 .4-1 .4-1.6 .4-1.8 .4 .6 .4 2.7 .4 5.2 .5 1.6 .4 1.1 .4 .3 .4 2.3 .4 .8 .4-1 .4-.7 .4 1.6 .4 .8 .4-1.3 .4 1.2 .4-2.1 .4 1.4 .4-.4 .4 1.1 .4 0 .4-1.9 .4-1.3 .5-1.1 .4-3.6 .4-2.8 .4-3.3 .4 3.7 .4 2.7 .4 2.6 .4 2.1 .4 .5 .4 .7 .4 2.5 .4-2 .4 1.2 .4 .3 .4-1.3 .4-.5 .4 2.4 .5-.8 .4-2.4 .4-.3 .4-3.9 .4-4.5 .4-2.9 .4-.7 .4 1.5 .4 4.2" stroke="#ff8000" stroke-width="0.95"/>
</g>
<text x="61.8" y="926.8" font-size="10" text-anchor="middle" fill="#4a4a4a">0</text>
<text x="239.3" y="926.8" font-size="10" text-anchor="middle" fill="#4a4a4a">2000</text>
<text x="132.4" y="935.4" font-size="10.1" text-anchor="middle" fill="#4a4a4a">Frequency (MHz)</text>
<text transform="translate(29.1 835.1) rotate(-90)" font-size="10.1" text-anchor="middle" fill="#4a4a4a">Magnitude (dB)</text>
</g>
<g id="c5">
<text x="374.6" y="747.7" font-size="15.2" font-weight="bold" text-anchor="middle" fill="#000">TCL</text>
<rect x="291.7" y="757.4" width="184.1" height="154.7" fill="#fff" stroke="#a0a0a0" stroke-width="1.3"/>
<line x1="286.1" y1="912.2" x2="292.2" y2="912.2" stroke="#1a1a1a" stroke-width="1.8"/>
<text x="284.1" y="915.4" font-size="10" text-anchor="end" fill="#4a4a4a">0</text>
<line x1="291.7" y1="877.5" x2="475.8" y2="877.5" stroke="#3a3a3a" stroke-width="1"/>
<line x1="286.1" y1="877.8" x2="292.2" y2="877.8" stroke="#1a1a1a" stroke-width="1.8"/>
<text x="284.1" y="881.0" font-size="10" text-anchor="end" fill="#4a4a4a">20</text>
<line x1="291.7" y1="843.5" x2="475.8" y2="843.5" stroke="#3a3a3a" stroke-width="1"/>
<line x1="286.1" y1="843.4" x2="292.2" y2="843.4" stroke="#1a1a1a" stroke-width="1.8"/>
<text x="284.1" y="846.6" font-size="10" text-anchor="end" fill="#4a4a4a">40</text>
<line x1="291.7" y1="809.5" x2="475.8" y2="809.5" stroke="#3a3a3a" stroke-width="1"/>
<line x1="286.1" y1="809.1" x2="292.2" y2="809.1" stroke="#1a1a1a" stroke-width="1.8"/>
<text x="284.1" y="812.3" font-size="10" text-anchor="end" fill="#4a4a4a">60</text>
<line x1="291.7" y1="774.5" x2="475.8" y2="774.5" stroke="#3a3a3a" stroke-width="1"/>
<line x1="286.1" y1="774.7" x2="292.2" y2="774.7" stroke="#1a1a1a" stroke-width="1.8"/>
<text x="284.1" y="777.9" font-size="10" text-anchor="end" fill="#4a4a4a">80</text>
<clipPath id="c5c"><rect x="291.7" y="757.4" width="184.7" height="155.3"/></clipPath>
<g clip-path="url(#c5c)" fill="none" stroke-linejoin="round">
<path d="M291.7 843.3l.3 5.1 .3 3.6 .4 2.7 .3 2.2 .3 1.8 .3 1.6 .3 1.4 .3 1.2 .4 1.2 .3 1 .3 .9 .3 .9 .3 .8 .3 .8 .4 .7 .3 .7 .3 .6 .3 .6 .3 .6 .3 .5 .4 .6 .3 .5 .3 .4 .3 .5 .3 .4 .4 .5 .3 .4 .3 .4 .3 .4 .5 .5 2.5 2.6 2.6 2.1 2.6 1.8 2.6 1.6 2.6 1.4 2.6 1.2 2.5 1.1 2.6 1 2.6 1 2.6 .8 2.6 .9 2.6 .7 2.5 .7 2.6 .7 2.6 .6 2.6 .6 2.6 .6 2.6 .5 2.5 .5 2.6 .5 2.6 .5 2.6 .5 2.6 .4 2.6 .4 2.5 .4 2.6 .4 2.6 .4 2.6 .4 2.6 .3 2.6 .4 2.5 .3 2.6 .4 2.6 .3 2.6 .3 2.6 .3 2.6 .3 2.5 .3 2.6 .3 2.6 .2 2.6 .3 2.6 .3 2.6 .2 2.5 .3 2.6 .2 2.6 .3 2.6 .2 2.6 .2 2.6 .2 2.5 .2 47.9 0" stroke="#ff0000" stroke-width="1.05"/>
<path d="M291.7 826l.3 1.8 .2-9.2 .3 11.1 .3 3.5 .2 4.1 .3 2.3 .2-.5 .3 6.3 .3-4.2 .2 .7 .3-2.3 .3 5.1 .2-5.1 .3 3.1 .3-2.8 .2 .2 .3 3.5 .2-.4 .3-4.3 .3 .3 .2-3.1 .3-8.9 .3-3.6 .2-2.5 .3-5.3 .2-3.4 .3-3.4 .3-.7 .2 5.8 .3 3.4 .3 4.9 .2 5.6 .3 4.6 .3 3 .2 2.6 .3 2.1 .2 .9 .3 1.9 .3 7.3 .2-7 .3 3.7 .3 .1 .2 2.1 .3-1.1 .3-4.7 .2-5.8 .3-13.1 .2 15.3 .3 3.4 .3-.3 .2 4.6 .3-2 .3 1.2 .2 7.7 .3-11.7 .2-12.6 .3-18.4 .3 6.4 .2 23 .3 7.4 .3 4.6 .2 4.1 .3-2.6 .3 .9 .2 4.5 .3-3.4 .2-5 .3-6.7 .3-5.9 .2 .6 .3 9 .3 7.5 .2 3.1 .3 0 .3-2 .2 1.4 .3-1.2 .2 3.9 .3-4.6 .3-3.2 .2 2.4 .3-5.7 .3-.6 .2-2.6 .3-9.5 .3-13 .2 1.2 .3 15.4 .2 10.6 .3 .8 .3-1.5 .2 4.8 .3-.4 .3-5 .2 2.6 .3 2.4 .2-1.2 .3 3.2 .3-2.2 .2 1.3 .3-2.3 .3-4.8 .2-14.6 .3 3.6 .3 10.3 .2 5.9 .3 4 .2 1.8 .3-.8 .3-2.9 .2 3.1 .3-4 .3-.9 .2-1.9 .3-.5 .3-.8 .2 1.8 .3-7.9 .2 4.3 .3 4.1 .3 2.3 .2 .8 .3 3.2 .3-.7 .2 1.6 .3 2.7 .2 1 .3-4.7 .3 3.6 .2-5.9 .3-3.2 .3-6.1 .2-11.8 .3-.4 .3 5.5 .2 8.1 .3 7.8 .2 4.9 .3-.9 .3 1.8 .2-1.5 .3 2.3 .3-2.5 .2 .5 .3-5.2 .3-3.5 .2-4.6 .3 2.9 .2 7.6 .3-2.9 .3 4.3 .2-.1 .3 .1 .3-4.7 .2-3.9 .3-11.2 .3-11.2 .2 6.3 .3 16.8 .2 2.5 .3 3.7 .3-4.7 .2 3.8 .3 1.9 .3-3.2 .2-2.7 .3 3 .2 .7 .3 2.6 .3-4.3 .2 1 .3-.6 .3-3.9 .2-11.5 .3-5.8 .3 .4 .2 6.4 .3 8.9 .2 9.5 .3-.5 .3 2.6 .2 1.1 .3-5.1 .3 3 .2 3.9 .3-4.7 .3-1.2 .2-3.5 .3 4.8 .2-3.2 .3-6.4 .3-8.7 .2 4.6 .3 3.4 .3 3.5 .2 3.1 .3 .5 .2 .5 .3 .9 .3 1.5 .2-2.3 .3-2.6 .3 3.5 .2 .2 .3-5.1 .3 1.2 .2 3.7 .3 1.8 .2 2.8 .3 .6 .3 2 .2 1.7 .3 3.5 .3-3.1 .2 .3 .3-1.1 .3-.6 .2-2.7 .3-7.6 .2-8.8 .3-4.3 .3-7.9 .2 10.6 .3 11.7 .3 4.9 .2-3.6 .3 6.5 .2-1.2 .3 2.4 .3 .7 .2 .1 .3-.2 .3-2.3 .2-2.5 .3-6 .3-16.5 .2-2.8 .3 .4 .2 22.8 .3-.7 .3 1.4 .2 2.8 .3 .8 .3-1.1 .2-.3 .3-9 .3 1.1 .2-8.8 .3 7.4 .2 8.8 .3-2.5 .3-2.7 .2 5.7 .3 .9 .3-1.3 .2-.4 .3 2.8 .3-.1 .2-2 .3-6.4 .2-6.6 .3-3.1 .3 2.9 .2 8.9 .3 2 .3 3.6 .2-5.4 .3 7.8 .2-2.6 .3 0 .3 2.8 .2-.8 .3-1.2 .3 3.2 .2-4.1 .3 .7 .3-4.8 .2 .5 .3-1 .2-3.8 .3-8.2 .3 2.7 .2 7.3 .3 1.2 .3 2.6 .2 5 .3-3.2 .3-2 .2 1.1 .3-1.8 .2 1.1 .3 .1 .3-10.6 .2-6.1 .3-5 .3 3.8 .2 9.7 .3 3.6 .2 2.6 .3 .7 .3-.5 .2 1 .3 2.4 .3-2.5 .2 .3 .3 4.6 .3-4 .2 .2 .3 1.9 .2-2.3 .3 .1 .3 5 .2-1.6 .3 3.5 .3-.7 .2-6.5 .3-6.8 .3-17.8 .2 5.7 .3 12.1 .2 14.2 .3-1.3 .3 4.7 .2-2.7 .3 .2 .3-2.4 .2-.6 .3-.4 .3-6.8 .2-5.7 .3-1 .2 4.4 .3 12.3 .3 .8 .2-5.1 .3 .1 .3 .6 .2-4.3 .3 6.4 .2-2.7 .3-.1 .3-12.3 .2-5.3 .3 8.9 .3 8.5 .2 3.2 .3 .9 .3-1.4 .2 4.7 .3-6.9 .2 3.2 .3 1.1 .3 2.9 .2-2 .3 0 .3-1.6 .2-3.3 .3-.3 .3 3.2 .2-1 .3-1.8 .2-2.9 .3-11.4 .3 .7 .2 8.6 .3 4.4 .3 6.6 .2 .7 .3 1.2 .2 1.5 .3-4.9 .3-1.9 .2 1.4 .3-4.8 .3-11.8 .2 4.2 .3 5.2 .3 5.7 .2-5.7 .3 8.7 .2-6.5 .3 2 .3-1.4 .2-2 .3 .5 .3 1.1 .2-2.1 .3 4.5 .3-7.4 .2-6.9 .3-1.8 .2 5.5 .3 4.5 .3 .8 .2 3.5 .3-2.9 .3 2.2 .2 .9 .3-5.7 .3 4.2 .2 1.7 .3-1.8 .2-.2 .3-1.6 .3-5.8 .2 2.9 .3 5.6 .3-1.3 .2 .8 .3 5.4 .2 1.2 .3-.5 .3-.6 .2-2.6 .3-1.4 .3 7.5 .2-5.1 .3 3.7 .3-5.6 .2 1.1 .3-3.4 .2-4.1 .3-3.7 .3 3.8 .2 1.6 .3 2.1 .3 3 .2 .8 .3 4.2 .3-.3 .2-2.3 .3 1.2 .2-.1 .3 1.5 .3 .4 .2-2.6 .3-3 .3-4.2 .2-14.5 .3 8.3 .2 10.1 .3 .8 .3 3.2 .2-4.7 .3 7.9 .3-5 .2 1.4 .3 .1 .3-6.9 .2-12.5 .3 8.8 .2 8.3 .3 5.8 .3 0 .2 3.8 .3-.1 .3-4.1 .2 0 .3-3.7 .3-10.9 .2-21.8 .3 3.1 .2 2.5 .3-4.9 .3 11.3 .2 6.1 .3 7.7 .3 3 .2 .4 .3 4.9 .3-2 .2 1.7 .3-1.2 .2-.4 .3 4.1 .3-4 .2 .5 .3-1.4 .3-5.1 .2-8.2 .3-14.4 .2 12.8 .3 12.5 .3 5.7 .2 0 .3-.5 .3 1.8 .2-.4 .3 1 .3-2.1 .2-.9 .3-.2 .2-3.6 .3-.1 .3-2.5 .2-1.5 .3 2.7 .3 3.3 .2-1.1 .3 0 .3 1.3 .2 2 .3 .6 .2 .2 .3 1 .3 2.2 .2 1.1 .3-5 .3 .9 .2 2.4 .3 .5 .2-.9 .3-.4 .3-1.5 .2-4.9 .3-6.5 .3-7.9 .2-.2 .3 12.7 .3 6.3 .2 .4 .3 1.4 .2-4.4 .3 3.9 .3 .1 .2-2.3 .3-4.4 .3-8.5 .2-15.4 .3-1.6 .3 17.9 .2 2.5 .3 6.2 .2 9.5 .3-3.3 .3 3.6 .2-.3 .3 .2 .3-2.3 .2-1.4 .3 6.9 .2-.7 .3-2.9 .3 4.4 .2-4.3 .3 .2 .3 .1 .2-5 .3-5 .3-3.1 .2 10.6 .3-3.2 .2-1.3 .3 4 .3 1.5 .2 2.7 .3-2.8 .3-5.2 .2-6.3 .3 8.4 .3 1.6 .2 5.7 .3-2.6 .2 2.6 .3-1.3 .3 1.3 .2-4.7 .3-2 .3-15.4 .2 8.9 .3 .8 .3 5.9 .2 4.6 .3 .7 .2-5.1 .3 10.8 .3-8.3 .2 5.1 .3-6.4 .3 1.7 .2 .8 .3-4.6 .2-3 .3-9.1 .3-4.1 .2-4.4 .3-4.2 .3 4.8 .2 18.2 .3 8 .3 1 .2-3 .3 4 .2-.3 .3-4.9 .3 3.6 .2-3.5 .3-3.9 .3 .7 .2-3 .3 .5 .3-9.5 .2-17.5 .3 3.2 .2 5 .3 11.6 .3 12.3 .2-3.4 .3 2.5 .3-5.1 .2 1.4 .3 5.1 .2-.7 .3-4.4 .3-4.8 .2 5.7 .3 2.5 .3 .2 .2-1.7 .3 2.3 .3-4.4 .2 7.7 .3 2 .2-1.5 .3-1.2 .3 3.6 .2-5.3 .3-1.2 .3 7.1 .2-4.1 .3 6 .3-6.9 .2 3.2 .3-6.1 .2 .3 .3-1.1 .3 .2 .2-18 .3-6 .3 15.7 .2 10 .3 5.7 .3-5.6 .2 1.2 .3-1.3 .2-2.8 .3 1.9 .3-3.8 .2-14 .3-8.4 .3 6.9 .2 8.2 .3 10.2 .2 .6 .3 1.3 .3 .1 .2 .2 .3-3 .3 7.4 .2-3.7 .3-3.8 .3-1.4 .2-5.5 .3-14.9 .2 18.2 .3 5.3 .3 5.7 .2 1.2 .3-4.5 .3 8.1 .2-4.8 .3 1.4 .3-1.9 .2 .1 .3-6.6 .2 4 .3-5.9 .3-3 .2 5.6 .3-.4 .3 1.5 .2 1.8 .3-2.3 .2 3.4 .3-3.3 .3 4 .2-4.3 .3 3.8 .3-2.7 .2-.9 .3 8.5 .3-2.7 .2 .8 .3-1.4 .2-7.1 .3-5.9 .3-14.9 .2 1.8 .3 14.1" stroke="#000080" stroke-width="0.9" stroke-opacity="0.92"/>
<path d="M291.7 811.3l.3 5.8 .2 6.9 .3 .5 .3 4.4 .2 3.3 .3-6.6 .2 6.4 .3-1.1 .3 .1 .2-1.6 .3 5 .3 .8 .2 1.7 .3-4.5 .3 3.6 .2 .9 .3-1.6 .2 .3 .3 6.3 .3-4.3 .2-.1 .3-3.1 .3-1.6 .2-2.1 .3-14.1 .2-8.9 .3-2.7 .3 20.3 .2 12.2 .3 5.3 .3-2.9 .2 3.2 .3-1.8 .3 2.9 .2 .8 .3-1.1 .2-3.4 .3-1.2 .3-19.7 .2-21.9 .3 10.5 .3 24.1 .2 8.3 .3 3.7 .3 5.7 .2-6.7 .3 2.5 .2 2.9 .3 .5 .3-7.8 .2-4.2 .3-16.8 .3-14.5 .2 3 .3 23.7 .2 8.1 .3 3.9 .3 1.8 .2 6.8 .3 1.9 .3-5.2 .2 1.1 .3 3.7 .3-4.6 .2 2.7 .3-4.8 .2 2.5 .3-.5 .3-8.6 .2 3.6 .3-5.8 .3-.4 .2 9 .3-2.5 .3 5.4 .2 .9 .3 1.7 .2-4.9 .3 7 .3-4.8 .2 .2 .3-2.3 .3 .4 .2-6.7 .3-7.3 .3-14.3 .2 6.2 .3 10.4 .2 7.8 .3 2.4 .3 1.2 .2 1.4 .3 3.8 .3-2.8 .2 2.8 .3 4.7 .2-3.6 .3 1.5 .3 .8 .2 .9 .3 3.2 .3-6.4 .2 3.1 .3-1.9 .3-2.6 .2-1 .3-22.6 .2 13.9 .3 5.7 .3 9.9 .2 0 .3-5.7 .3 4.2 .2-1.5 .3 2.6 .3 4.8 .2-1.8 .3 1.5 .2-6.1 .3-1.6 .3 2.2 .2 1.1 .3-3.4 .3-3.3 .2-4.4 .3-6.2 .2 3.1 .3-7.9 .3 2.1 .2-6.9 .3-5.8 .3-8.2 .2 2.7 .3 3.6 .3-2.3 .2 4.2 .3-.7 .2 11.3 .3 9.3 .3 4.5 .2 5.7 .3-1.3 .3-.2 .2 4.1 .3-2.6 .3 .7 .2-4.4 .3 3.9 .2-4.3 .3-4.4 .3-14.6 .2 20 .3 6.7 .3-1.3 .2 5.5 .3-3.8 .3-8.6 .2-17.3 .3-11.9 .2 33.4 .3 9.2 .3-4.1 .2-3.2 .3 1.5 .3-3.3 .2 4.4 .3 1.6 .2 .2 .3-2.6 .3 .7 .2-1.6 .3 .8 .3 4.4 .2-2.7 .3-2 .3 6.7 .2-1.8 .3-3.9 .2 1.9 .3-2.2 .3-5.6 .2-7.1 .3-4.3 .3-4.9 .2 10.8 .3 6.7 .3 3.7 .2-2.9 .3-.2 .2 3 .3-1.9 .3 .6 .2 .4 .3-1.2 .3 1.4 .2-10.1 .3-12.6 .2-8 .3 9 .3 12 .2 7.3 .3 .9 .3 0 .2 .4 .3-.5 .3 1 .2 .1 .3-3.2 .2-1.2 .3-3.2 .3-5.6 .2 6.7 .3 2.6 .3 5 .2 .4 .3-.5 .3 1.1 .2-.5 .3 1.9 .2 5.4 .3-3.8 .3-2 .2 4.9 .3-.4 .3-1.1 .2 1.3 .3-3.9 .2-5 .3-6.7 .3 8.9 .2 6 .3 2 .3 1.7 .2-.3 .3-6.4 .3 6.1 .2-2.4 .3-2.7 .2-6.1 .3-7.7 .3 6.7 .2 1.8 .3 .2 .3 5.2 .2-3.3 .3 2.6 .3-1.5 .2-2.5 .3 2.9 .2-.4 .3 4.9 .3-6.2 .2-.9 .3 2.2 .3 2.6 .2-4.6 .3 7.1 .3-1.1 .2 1.1 .3 1 .2-4.4 .3 3.7 .3-6.1 .2 1.4 .3-4.4 .3-10.3 .2-7.6 .3 6.7 .2 6.6 .3 4.3 .3 5.7 .2-1.2 .3-2.7 .3 1.1 .2 3.8 .3-1.1 .3-4.9 .2-.7 .3-3.9 .2-10.1 .3-3.7 .3-7 .2 .6 .3 1.3 .3 10.7 .2 6.2 .3-1.2 .3-.2 .2 9.7 .3 .7 .2-1.3 .3 2 .3 .1 .2 1 .3 4.7 .3-6 .2 1.3 .3-.7 .2 1.8 .3-1.9 .3-11.8 .2-4.5 .3 5.8 .3 8.8 .2 6.8 .3-.9 .3-5.8 .2 2.8 .3-1.8 .2 5.2 .3-6.2 .3 2.4 .2 .2 .3-6.8 .3-6.9 .2 13.5 .3 .8 .3 3.5 .2-4 .3 4.4 .2 .2 .3-3.1 .3 3.3 .2 2.4 .3-4.5 .3-5.1 .2-3.2 .3 2.4 .3 1.7 .2-5.7 .3 1.5 .2 6.8 .3-1.2 .3-2.8 .2 5 .3-.7 .3 .2 .2 1.3 .3-3.2 .2 1.9 .3-3.7 .3 2.7 .2-.3 .3-.3 .3 1.7 .2-2.6 .3 2.9 .3-3.7 .2 3 .3 2.9 .2-2.3 .3-2.9 .3 3.4 .2-8.2 .3 2.5 .3-3 .2-6 .3-13.2 .3 2 .2 14.8 .3 5.4 .2 5.4 .3-1.8 .3 3.1 .2 .9 .3-3.7 .3-.6 .2-1.8 .3 8.1 .2-7.6 .3-4.8 .3-4.8 .2 8 .3 7.9 .3-1.1 .2 2 .3 9.5 .3-3.5 .2-2.3 .3-3 .2-2.1 .3-5.1 .3-10.8 .2-20.2 .3 3.5 .3 2.6 .2 15 .3 9.8 .3 2.5 .2 3 .3 4.2 .2-1.6 .3 2.3 .3-.7 .2-1.4 .3-4.5 .3 5.6 .2-.1 .3-4.1 .3 2 .2-3.6 .3-1.9 .2 4 .3-2.9 .3-9.8 .2-2.7 .3-15.5 .3-.4 .2 10.2 .3 15.7 .2 3.8 .3 3.9 .3 3.4 .2-1.9 .3 0 .3-1.5 .2 6 .3-4.8 .3-5.8 .2-20.7 .3 9.2 .2 7.7 .3 6.7 .3 5.3 .2-3.3 .3-2.5 .3 1.5 .2 .2 .3-4.2 .3 1.5 .2-3.2 .3-1.7 .2-16.8 .3 2.5 .3 12 .2 4.4 .3 2.3 .3 3.7 .2 .1 .3-1.5 .2 4.8 .3-1.3 .3-2.9 .2 .3 .3 1.3 .3 5.3 .2-4.8 .3-2.2 .3 4.5 .2-2.9 .3-9 .2-1.4 .3-3.1 .3-20.3 .2-2.5 .3 .1 .3 9.8 .2 11.1 .3 7.6 .3 8.2 .2-1.8 .3 2.8 .2-.2 .3 .6 .3 0 .2-1 .3-2.3 .3 .2 .2-3 .3 .7 .3-2.3 .2 .3 .3-8.1 .2-17 .3 8.4 .3 4 .2 8.3 .3 5.7 .3 .8 .2 2.8 .3 2.4 .2-1.3 .3-3.4 .3 4.1 .2-1.5 .3 1.1 .3-5.4 .2 1.4 .3-9.4 .3 3.1 .2 .6 .3 5.9 .2 1.2 .3 4.3 .3-.9 .2 .3 .3 3.4 .3-3.3 .2 .7 .3 .3 .3 .6 .2-6.5 .3 0 .2-5.7 .3-15.7 .3-13 .2 5.4 .3 1 .3-1.2 .2 14.1 .3 9.6 .2 4.9 .3 2.9 .3-.4 .2-2.2 .3 2.8 .3 3.1 .2-3.1 .3-4.7 .3-.2 .2-9.3 .3 0 .2 11.3 .3 4.6 .3 3.1 .2 3 .3-5.8 .3 0 .2 2 .3 4.2 .3-2.2 .2-3.7 .3-5.1 .2-9.5 .3-8.9 .3-3.4 .2 6.8 .3 15.3 .3 .5 .2 2 .3 2.9 .2 1.2 .3 .1 .3-.2 .2 6.9 .3-2.1 .3-1.4 .2 .6 .3-2.5 .3-1.3 .2 3.4 .3 .1 .2 .6 .3-2.1 .3-1.7 .2 4 .3-5.1 .3-2.6 .2-2.2 .3-2.6 .3-5.7 .2 .8 .3 9.4 .2-5.1 .3 3.6 .3-.7 .2 3.1 .3 3.6 .3-3.6 .2 5.4 .3 .1 .3-1.9 .2-3.5 .3 1.6 .2-5.2 .3-8.2 .3-.4 .2 7 .3 4.8 .3 1.7 .2-.9 .3 3.5 .2-2 .3-1.1 .3-.8 .2 3.6 .3-6.3 .3 2.2 .2-3.4 .3-11.9 .3-11.1 .2-4.2 .3 6.6 .2 16.6 .3 5.9 .3 6.5 .2 4.9 .3-4.4 .3 2.1 .2 1.6 .3-3.3 .3 2.6 .2-1.8 .3-4.4 .2-2.5 .3-8.1 .3-13 .2 6.3 .3 6.7 .3 .8 .2 2 .3 .1 .2 2.6 .3-.8 .3 1.9 .2-.2 .3-3.4 .3-2.6 .2 7.4 .3-4.1 .3-1.2 .2 4.2 .3-2.8 .2 1.6 .3-1.1 .3 .6 .2-7.1 .3-9.8 .3 12 .2 3.1 .3 3.3 .3 2.4 .2 2.5 .3-1.6 .2 2.4 .3 .3 .3 .1 .2 .7 .3-6.3 .3-9 .2-16.3 .3 1.7 .3 15.5 .2 10.2 .3-.4 .2 5.3 .3-2.9 .3 1.1 .2-1.9 .3 4 .3-2 .2-3.5 .3 1.2 .2-.7 .3-7.1 .3 2.1 .2-3.7 .3-8.8 .3-8.8 .2 5.8 .3 9.3 .3 4.4 .2 6.5 .3-2.8 .2 4.5 .3 4 .3 .1 .2-5.6 .3 6.4 .3 0 .2 .6 .3-8.8 .3-18.1 .2-7.7 .3-2 .2 .8 .3 10.3 .3 11.1 .2 11.6 .3-3.8 .3-.4 .2 5.6 .3 .1 .2 1.1 .3-1.6 .3 .2 .2-5.6 .3 2.2 .3-1.2 .2 .1 .3 1.2 .3-2 .2-1.5 .3 1.2 .2-2.8 .3-.3 .3 1 .2-5.1 .3 7.5" stroke="#ffff00" stroke-width="0.9" stroke-opacity="0.92"/>
<path d="M291.7 825.3l.3 1.4 .2 3.4 .3 5.4 .3-3.7 .2 3.6 .3-3.7 .2 2.9 .3-3.8 .3-3.3 .2-6.6 .3 .1 .3 12.8 .2 1.7 .3-6 .3 9.1 .2-1.2 .3-3.3 .2-6.3 .3-6.1 .3-10.9 .2 17.8 .3 9.7 .3-.8 .2-.1 .3 3.5 .2 1 .3-.7 .3-2.3 .2 2.5 .3-2.5 .3-2.5 .2 2.4 .3 1.5 .3-1.7 .2 .8 .3-3.5 .2-1.2 .3 1.1 .3-.6 .2-2 .3 2.1 .3-.5 .2-5.9 .3 10.8 .3-6.8 .2-4 .3 5.7 .2-7 .3-1.5 .3-2.7 .2 2.5 .3 5 .3 2.5 .2 10.6 .3-4.3 .2 4.6 .3 2.4 .3-1.3 .2 2.3 .3-1.3 .3 2.1 .2 2.4 .3-4.8 .3 4.8 .2 .5 .3-3.7 .2-4.2 .3-4.1 .3-8 .2 2.3 .3 .9 .3 8.3 .2 7.3 .3-6.1 .3 5.8 .2-5.1 .3-.7 .2-1.8 .3-14.3 .3-12.8 .2 17.4 .3 9.8 .3 2.3 .2 5.1 .3 3.9 .3-1.6 .2-.5 .3 1.6 .2-4 .3-.1 .3 4.5 .2-.4 .3-4.1 .3 .9 .2-2.5 .3-1.3 .2-.3 .3-2.5 .3-.2 .2-8.4 .3 1.7 .3 5.3 .2 1 .3 7.5 .3-7.3 .2 6.3 .3 3.1 .2 2.7 .3-6.9 .3 2.6 .2 0 .3 1.8 .3-1.3 .2 1.8 .3-.2 .3-3.1 .2 1.8 .3 4.7 .2-1.8 .3-2.9 .3-9.5 .2 .1 .3 6.4 .3 2 .2 1.8 .3 1.6 .2-1 .3 5.2 .3-3.8 .2 .3 .3-5.7 .3-.8 .2-6.7 .3 9 .3-.1 .2 3 .3 5.2 .2-3.5 .3 3.2 .3-8.9 .2-1.2 .3-3.3 .3-8.9 .2-7.1 .3 5.2 .3 8.3 .2 8 .3 4.2 .2-4.2 .3 4 .3-4.6 .2 7.2 .3-2.4 .3 6.2 .2-6.2 .3 6.4 .3-3.3 .2-.9 .3-.5 .2-.7 .3 2.7 .3-9.6 .2-15.1 .3-1.4 .3 10.3 .2 11.5 .3 3.8 .2 1.4 .3-1.2 .3-3.4 .2 2.4 .3-1.9 .3-4.5 .2-5.9 .3-9.8 .3 12.6 .2 8.7 .3 1.5 .2-.2 .3 .4 .3-3.5 .2 4.8 .3-2.1 .3 6.4 .2-3.1 .3-3.6 .3 2.8 .2 .8 .3-4.5 .2 .8 .3 2 .3 .6 .2-2.1 .3-1.7 .3-.3 .2-2.7 .3 1 .2-2.4 .3-6.7 .3-6.7 .2-2.8 .3-.1 .3 5.4 .2-1.3 .3 1.7 .3 8 .2-.7 .3 7.4 .2-2.8 .3-2.7 .3 9.2 .2-4.8 .3 4 .3 1.9 .2 1.5 .3-4.2 .3 2.7 .2-1.5 .3-2.6 .2 .7 .3-.4 .3-5.9 .2 3 .3-4.7 .3 9.1 .2 1.5 .3-1.1 .2-.5 .3 .5 .3-1.6 .2-5 .3-7.7 .3 4.2 .2 3.9 .3 5.1 .3 .3 .2 .9 .3-.8 .2 1 .3-4.3 .3 4.2 .2-1.7 .3 5 .3-3.3 .2 1.5 .3-2.9 .3 3.1 .2 1.7 .3 2.9 .2-4.5 .3 2 .3-3.3 .2-2.4 .3 1.9 .3-2.2 .2-1.9 .3-.6 .3-2.2 .2-2.2 .3 2.7 .2 4.2 .3 3.2 .3 .5 .2 2.9 .3 3.1 .3-3.2 .2 .7 .3-2.2 .2 3.7 .3-5.8 .3 5 .2-5.7 .3 3.4 .3-11.9 .2-1.9 .3 7.5 .3-.5 .2 8.5 .3 2 .2-7.4 .3 1.7 .3 3.3 .2 0 .3-5.2 .3 3.2 .2 .8 .3-2.7 .3-.7 .2-6.1 .3-3.9 .2-14.3 .3 0 .3 12.2 .2 12.5 .3-1.9 .3-2.5 .2 2.5 .3-1.6 .2 2.3 .3-.5 .3-.8 .2 3.3 .3-2.8 .3-3.9 .2-1.1 .3 5.6 .3 2 .2 1 .3-5.3 .2 6 .3 1.7 .3 1 .2-5.4 .3 1.9 .3-.9 .2 .5 .3 2.1 .3 .7 .2-4.6 .3 3 .2-3.1 .3 4.8 .3-1.9 .2 1.6 .3-2.5 .3-4.4 .2-5.1 .3-9.6 .3-4.3 .2 1.1 .3 11.4 .2 9.6 .3 6.9 .3-4 .2-.4 .3-.3 .3-1.7 .2-3.8 .3-6 .2 .5 .3 7 .3-3.4 .2 6.2 .3 .6 .3 .5 .2 .9 .3 .2 .3-1.1 .2 .5 .3-1 .2-2.4 .3-5.3 .3-10.6 .2-8.5 .3 5.6 .3 13.6 .2-.1 .3 3 .3 4.1 .2 3.6 .3-1.3 .2-1 .3 3.5 .3-2.9 .2-2.9 .3 .9 .3 3.8 .2 3.6 .3-1.4 .2-.3 .3-2.3 .3-.7 .2-6.9 .3 .5 .3-5.1 .2 .1 .3 .6 .3 4.7 .2 1.5 .3-.3 .2 1.8 .3-.5 .3 .7 .2 .2 .3 2 .3 5.8 .2-1.8 .3-1.4 .3 2.3 .2-.2 .3-1.3 .2-1.9 .3 .7 .3-5.7 .2-.2 .3-4.1 .3 4.3 .2-12.8 .3 5.7 .3-4.4 .2 6.4 .3 3.1 .2 2.8 .3 4.5 .3-.6 .2 3 .3-7 .3 6.8 .2 .9 .3-2 .2 5.5 .3 .7 .3-7 .2-3 .3-1.7 .3 1.7 .2 6.6 .3-2.6 .3 4.9 .2 1.1 .3 .7 .2-2 .3 1.5 .3-2.5 .2-.9 .3 3.1 .3-.3 .2-5.6 .3-1.8 .3 2.4 .2 5.2 .3-11.8 .2-5 .3 1.1 .3 8.2 .2 2.4 .3 4.7 .3-4.1 .2 2.2 .3 2.3 .2-3 .3-1 .3 1.6 .2-7.3 .3-11.4 .3 11.2 .2 1.2 .3 6.6 .3 6.1 .2-9.1 .3 3.3 .2-1 .3-.7 .3-.3 .2-7.6 .3-1.7 .3-3.5 .2-7.2 .3 11.2 .3-2.4 .2 5.1 .3 2.7 .2 .8 .3 1.4 .3 1.8 .2 .9 .3-3.6 .3-.7 .2 5.7 .3-4.1 .3-3.2 .2 .5 .3-3.6 .2-5.3 .3-8.3 .3 1.9 .2 9.8 .3 4.2 .3 3.1 .2-3.5 .3 6.5 .2-.6 .3-1.5 .3 0 .2 8.3 .3-5.7 .3 .2 .2-1.4 .3-2 .3-1.3 .2-1.9 .3-2.1 .2-2 .3 1.3 .3 8.5 .2-2.5 .3-1.1 .3 3.4 .2-.9 .3 5.4 .3-5.6 .2 4.8 .3-3.4 .2 3 .3-4.9 .3-2.7 .2 1.3 .3 .8 .3-5.8 .2 1.5 .3-13.2 .2 2.5 .3 7.6 .3 2 .2 5.6 .3 1.6 .3-.8 .2-3.8 .3 4.5 .3 5.5 .2-4.9 .3 4.4 .2-2.6 .3 .2 .3 4.7 .2-2.3 .3 1.4 .3-1.1 .2-1.1 .3-5.5 .3-4.3 .2 8.4 .3 1.4 .2 3.5 .3-1.3 .3 .6 .2-1.5 .3-.3 .3 2.9 .2-11.7 .3-1.2 .2-6.2 .3-10.6 .3 10.6 .2 10.6 .3-1.2 .3 6.2 .2-3.5 .3 .7 .3 2.2 .2 2.4 .3-.5 .2 1.9 .3-4.1 .3 .8 .2-.3 .3 .8 .3 2.6 .2-3.9 .3-1.7 .3 1.9 .2-.3 .3-1.2 .2-1.4 .3 2.1 .3-2.7 .2-6.6 .3-2.7 .3-9.7 .2 8 .3-1.3 .3 12.8 .2 1.7 .3-1 .2 .3 .3 5.7 .3-8 .2-15.6 .3-3.1 .3 16.6 .2 6.5 .3 .9 .2 1.9 .3 0 .3 .3 .2 2.4 .3-6.5 .3 1.4 .2-1.2 .3 2.1 .3-4.3 .2-1.2 .3 .3 .2 4.5 .3-6.2 .3 4.8 .2-6.5 .3-6.6 .3-10.5 .2 4.7 .3 11.1 .3 7.3 .2-1.3 .3 3.1 .2 4.9 .3-7.1 .3 2 .2 3.2 .3-2.8 .3 .4 .2-6.8 .3-9.1 .2-4.9 .3 10 .3 .6 .2 6 .3 1.8 .3 1.1 .2 8.5 .3-4.8 .3-.2 .2-.1 .3-4.3 .2 5.7 .3-4.7 .3 .6 .2-2.1 .3-1.1 .3 4 .2-1.5 .3 .6 .3 .8 .2-4.3 .3-6.7 .2 10.1 .3 5.8 .3-6.7 .2 5.7 .3-1.4 .3-2 .2 2.5 .3-9.2 .3-17.5 .2 7.1 .3 8.9 .2 12.4 .3-1.6 .3 .4 .2-.3 .3-.7 .3-6.3 .2 3.3 .3-4.6 .2 .2 .3 4.5 .3-4.7 .2-2.1 .3-2.8 .3-4.6 .2 4.6 .3 4 .3-.5 .2 3.4 .3-2.3 .2 .9 .3 6.6 .3-4.9 .2 1.6 .3-1.9 .3 1.5 .2 1.7 .3 .5 .3 1.4 .2 2.9 .3 1.9 .2-.2 .3-2.8 .3 1.4 .2-2.8 .3 .2 .3-9.5 .2-10.8 .3-6.8 .2 .8 .3-4.1 .3 5.7 .2 14.5 .3 5.6 .3 3.4 .2 .1 .3-2.2 .3 6.2 .2-5.4 .3 1.5 .2-1.4 .3-2.2 .3 1.6 .2 1.7 .3-8.7" stroke="#800000" stroke-width="0.9" stroke-opacity="0.92"/>
<path d="M291.7 832.5l.3 3.4 .2-4.2 .3 4.2 .3-2.3 .2-.9 .3-5.8 .2-13.5 .3 7 .3 9.6 .2 3.6 .3-1 .3 6.2 .2 1.5 .3 3.5 .3-1.8 .2 4.4 .3 .6 .2-5.9 .3 6.1 .3-2.5 .2-9.9 .3-1.7 .3-4.5 .2-.6 .3 1.3 .2-7.2 .3 3.1 .3 8.6 .2 .9 .3 2.6 .3 7.2 .2-3.7 .3 5.3 .3-2.8 .2 .1 .3 1 .2-2.3 .3-2.6 .3 1.4 .2-9.2 .3 .4 .3 3.1 .2 9.4 .3 .8 .3 5 .2-5.4 .3 6.1 .2 2.1 .3-3.1 .3-1.5 .2 2 .3 2.8 .3-14.6 .2-8.2 .3-11 .2 15 .3 14 .3 3.8 .2 4.1 .3-6.7 .3 3.2 .2-1.7 .3 3.8 .3-.9 .2 .8 .3-2.7 .2-5.3 .3 .3 .3-8.6 .2 1.4 .3-.1 .3 5.2 .2-2.9 .3-1.1 .3-1.8 .2 3.5 .3-5.6 .2 5 .3 2.2 .3 1 .2 3.8 .3 6 .3-.6 .2-2.1 .3 3.2 .3-.3 .2 1.7 .3 1.7 .2-.6 .3-1.4 .3-3.3 .2-2.8 .3-22.1 .3 11.4 .2 10.8 .3 9.7 .2-1.3 .3 1.3 .3-3.5 .2-3.2 .3 6.2 .3-18.5 .2-17.9 .3 13.2 .3 15.3 .2 9.4 .3-.6 .2 .5 .3-1.4 .3-3.8 .2 .8 .3 4.3 .3-9.7 .2-3.8 .3-9.5 .3 1.5 .2 5.3 .3 5 .2 3 .3-.9 .3 3.3 .2-3.4 .3 1 .3 1.1 .2-.5 .3-2.2 .2 .4 .3 4.9 .3 2 .2-4.6 .3-1.7 .3-7 .2-4.8 .3 6.4 .3 8.1 .2 3.7 .3 4.8 .2 .3 .3-1.7 .3 4.8 .2 .5 .3-3.6 .3-.6 .2 3.9 .3-.3 .3-1 .2-.8 .3 .4 .2 1.4 .3-7.6 .3-5.3 .2-1.8 .3-5.7 .3 1.2 .2 15.8 .3 1.6 .3-.8 .2 3.6 .3 .3 .2 .4 .3 0 .3-1.5 .2-.6 .3-2.7 .3 3.7 .2-4.9 .3 3.7 .2-7 .3-3.3 .3-9 .2 12.3 .3 2.5 .3 5.7 .2-2.7 .3 1.9 .3-5.1 .2-2.8 .3-4.8 .2 4.4 .3 3.6 .3 4.8 .2-5 .3 .6 .3 .2 .2-.9 .3 .4 .3-.5 .2 2 .3-3.1 .2-5.7 .3-2.5 .3 5.5 .2-6.8 .3 1.5 .3 0 .2 9.1 .3 1.8 .2 1.5 .3 .1 .3 1 .2 4.1 .3 3.3 .3-5.2 .2 1.8 .3-3.8 .3-.3 .2-5.3 .3-4.7 .2 .9 .3 .2 .3 5.8 .2-2.2 .3 2.6 .3 3.9 .2-3.8 .3 3 .3-5.1 .2-2.2 .3 3.8 .2 2.6 .3-3.1 .3-1.1 .2 1.8 .3-.9 .3 1.6 .2-3.5 .3 1.6 .2-7.3 .3 .3 .3-8.6 .2-6.9 .3 3.4 .3 11.6 .2 5 .3 2.8 .3 1.5 .2-3.7 .3 4.5 .2-.8 .3-.2 .3-5 .2-10.8 .3-9.2 .3 17.5 .2 4 .3 .9 .3 5.7 .2-.6 .3 1.9 .2-1.1 .3-.6 .3-.1 .2-5.9 .3 4 .3-1.6 .2-.3 .3 2.6 .3-1.1 .2-4.3 .3-6.6 .2 7 .3 2.8 .3-.1 .2 3.7 .3 3.3 .3 2.2 .2-6.1 .3 1.5 .2 1.4 .3-1.2 .3 .3 .2 .6 .3-5.7 .3-1.4 .2-6.5 .3-.2 .3 8.8 .2 1.2 .3 .3 .2 4.4 .3-.1 .3 2.4 .2 3.6 .3-1.4 .3-.2 .2-5.2 .3-2.3 .3-9.2 .2-14.9 .3 16.2 .2 9 .3 6 .3-2.3 .2-1.2 .3 1.7 .3-4 .2-4 .3 8.7 .2-12.5 .3-5.7 .3-13.4 .2 5.5 .3 13.5 .3 3.5 .2 4 .3 .3 .3 3.8 .2-3.2 .3-.8 .2 .3 .3 6.3 .3-6.5 .2 4.2 .3-5 .3 1.8 .2 .4 .3-5 .3-.7 .2-6.9 .3-.6 .2-6.9 .3 10.4 .3 4.3 .2 2.5 .3 2 .3-1.3 .2 1 .3 2.3 .3-4.4 .2 5.7 .3-5.3 .2 3.8 .3-4.1 .3-2.4 .2 .1 .3-10.8 .3 1.3 .2 3.4 .3 .9 .2 7.4 .3-1.2 .3 3.2 .2-1.9 .3 0 .3 4.3 .2-2.1 .3 .7 .3-2.5 .2 .5 .3-.5 .2 .8 .3-2.1 .3 2.9 .2-2.3 .3-9.5 .3-8.3 .2-.5 .3 9.7 .3 9.9 .2 2.5 .3 1.8 .2-1.5 .3-.4 .3-1.9 .2 .5 .3-4.3 .3-19.8 .2 10.1 .3 13 .2 0 .3 4.3 .3 1 .2-3.5 .3-1.6 .3-2.9 .2-13.7 .3 7.6 .3 7.1 .2 7.6 .3-1.2 .2 1 .3-5.8 .3 6.7 .2-7.7 .3 2.7 .3-2.2 .2 .7 .3-4.9 .3-9.6 .2-4.2 .3 7.4 .2 0 .3 3.4 .3 5.3 .2 .4 .3 .5 .3-3.4 .2 5.5 .3 3.4 .3-6.8 .2 3.5 .3-1.4 .2-4 .3 5.4 .3 2.1 .2 2.2 .3-2.2 .3 .7 .2-.2 .3 1.2 .2 2 .3-3 .3 2.1 .2 1.1 .3-7.6 .3-7.9 .2 .8 .3 6.9 .3 10.9 .2-2.1 .3 1.7 .2-1.8 .3 .9 .3-2.8 .2-.4 .3-2.2 .3-11.8 .2-7.4 .3 4.1 .3 5.9 .2 8 .3-2.1 .2-1.8 .3 3.7 .3 2.8 .2-2.8 .3-1.4 .3-1.4 .2 1.3 .3-2 .2-1.6 .3-7.8 .3 3.1 .2-3.8 .3 3.5 .3 5 .2 7.5 .3 2.2 .3-1.3 .2-2.3 .3 6.5 .2 3.5 .3-6.6 .3 2 .2 3.2 .3-3.6 .3-1.2 .2 3.7 .3-.6 .3 1 .2-1 .3-2.9 .2-5.3 .3-9.7 .3-17.1 .2 1.3 .3 19.2 .3 10.5 .2-1.7 .3-.4 .3 6.1 .2-8.1 .3 1.9 .2-9.1 .3-23.3 .3 19.7 .2 7.1 .3 7.6 .3-3.7 .2 3.5 .3 9.6 .2-6.8 .3 .8 .3 4.2 .2-.9 .3-1.4 .3 .4 .2 .3 .3-2 .3-7.9 .2-6.5 .3-22.4 .2 8.5 .3 10.7 .3 10.2 .2 5.5 .3 4.6 .3-5.7 .2 5.3 .3-3.8 .3-2.7 .2 5.7 .3-4.5 .2 .2 .3-12.3 .3-5.3 .2-8.5 .3-.1 .3 11.3 .2 7.4 .3 4.6 .2 3.7 .3 5.6 .3-2.8 .2-.1 .3 1.6 .3-4.9 .2-.3 .3 5.2 .3-8.8 .2 1.5 .3 4.2 .2-4.8 .3-9.4 .3 4.2 .2 1.7 .3 5.2 .3 2.3 .2 1.3 .3-1.2 .3 2.6 .2 .8 .3 1.7 .2-4 .3 3.4 .3-1.5 .2-5.1 .3-4.1 .3-4.3 .2-.1 .3 4.2 .2 5.5 .3 4.5 .3 .7 .2-2.8 .3 4.5 .3 1.5 .2 1.1 .3-2.7 .3 1.1 .2-1 .3 1.8 .2-1.9 .3 1.1 .3-1.7 .2-.7 .3-8.1 .3-8.3 .2 7.7 .3 6.3 .3 3.6 .2 5.2 .3-3.6 .2 1.1 .3-1.1 .3-4 .2 1.3 .3-1 .3 4 .2-13.3 .3-1.9 .3-10.9 .2-9.4 .3 12.1 .2 7.7 .3 9.4 .3-.3 .2 1.8 .3 2.5 .3 2.5 .2-4.5 .3 4.3 .2 1.1 .3-4.2 .3 1.8 .2-4.9 .3 2.4 .3-2.6 .2-9.9 .3-9.6 .3 12.3 .2 .6 .3 9.8 .2-3.7 .3 .5 .3 2.8 .2 1 .3-.8 .3-4.9 .2-7.8 .3-8.6 .3 10.7 .2 9 .3-.4 .2-3.1 .3 4.9 .3-.3 .2 2.7 .3 2.8 .3-4.1 .2-1.8 .3-1 .2-4.3 .3 2.1 .3-12.9 .2-6.2 .3 2.3 .3 10.3 .2 5.8 .3 1 .3 0 .2 4.5 .3-3.4 .2-3 .3 2.7 .3 3.3 .2-4.2 .3 2.8 .3-2.3 .2 1.1 .3-1.1 .3 2.5 .2-2.1 .3-3.1 .2-2.2 .3 .7 .3 3 .2-.1 .3-4 .3 .5 .2-5.7 .3 2.6 .3 6.2 .2-2.2 .3 4.3 .2 5.3 .3-1.3 .3-3.7 .2 .1 .3 .5 .3-7.6 .2-.6 .3 9.5 .2-7.7 .3 7.4 .3-6.3 .2 2.8 .3-1.9 .3 5.2 .2-4.4 .3 4.7 .3-5.7 .2 2.5 .3-.1 .2-2.4 .3-2.7 .3-1.3 .2 4.9 .3 .8 .3-6.4 .2-1.1 .3-.8 .3-.5 .2 6.6 .3 3.1 .2-2.1 .3 7.3 .3-2.5 .2-4.4 .3-1.1 .3 7 .2-5.7 .3-4.8 .2-3.7 .3 1.5 .3-16.3 .2 11.4 .3 5.8 .3 4 .2 6.7 .3-.2 .3 .8 .2 1.5 .3-4 .2-2.7 .3-3.3 .3 9.2 .2-9.3 .3 1" stroke="#0000ff" stroke-width="0.9" stroke-opacity="0.92"/>
<path d="M291.7 813.2l.3-2 .2 6.1 .3 .7 .3 11.1 .2 1.7 .3 .7 .2 6 .3-1.6 .3-1.1 .2-.4 .3-1.3 .3 2.6 .2-.2 .3-1.3 .3 3.9 .2-5.7 .3-5.3 .2-8.8 .3-5.2 .3 12.2 .2 2.6 .3 6.4 .3-2.1 .2 5.8 .3-3.6 .2 0 .3 5.4 .3 .9 .2 1.7 .3-1 .3-.7 .2 2.1 .3-4.5 .3-.4 .2-6.3 .3-3.1 .2-10.1 .3-6.9 .3-8.7 .2 5.5 .3 2.6 .3 12.1 .2 5.9 .3 8.7 .3-3.8 .2 13.3 .3-1.8 .2 2.6 .3-4.5 .3 6.3 .2 1.1 .3-5.6 .3 3.9 .2 5.7 .3-5.5 .2-2 .3 3.1 .3-12.9 .2-27.7 .3-2.4 .3 23.4 .2 16.1 .3 3.7 .3 2.4 .2 .8 .3-6.1 .2 3.3 .3 .7 .3-1.6 .2 .5 .3-4.3 .3-11.5 .2-17.5 .3 9 .3 13.6 .2 .2 .3 2 .2 8.2 .3-3.2 .3 4.1 .2-1.1 .3 3.3 .3-4.4 .2 2.7 .3 2.9 .3-2 .2-4.7 .3-10.1 .2-13.5 .3-12.9 .3 22.9 .2 20.7 .3 3.3 .3 1.3 .2-2.2 .3 9.4 .2-6.8 .3-3.3 .3 5.1 .2 2.3 .3-3.1 .3-4.6 .2 4.3 .3-5.6 .3-13.2 .2-8.9 .3 9.5 .2 5.6 .3 10.2 .3-1.1 .2 1.6 .3 2.7 .3-5.3 .2 7 .3-3.3 .3 1.5 .2-5.4 .3 6.9 .2-10.6 .3 6.6 .3-6 .2-1.6 .3 1.6 .3-3.6 .2-8.6 .3 1.6 .2 5.3 .3 1.6 .3 4.4 .2 .3 .3-.1 .3 3.9 .2-1.5 .3 .8 .3 .5 .2 2.8 .3 1.7 .2-2.7 .3 1.3 .3-4.5 .2 4.4 .3-1 .3 3.7 .2-17.1 .3-7.1 .3-2 .2 6.7 .3 13.2 .2 6.9 .3-.8 .3 .7 .2-4.6 .3 4.4 .3-2.6 .2 2.1 .3-4.7 .3-11.7 .2 6.1 .3 3.8 .2 1.1 .3 8.8 .3-5.5 .2 2.4 .3 3.3 .3-4.8 .2-1.9 .3 3.6 .2-6.1 .3-1.8 .3-7 .2-11.2 .3-4.7 .3-5.4 .2 5.4 .3-1.3 .3-2.6 .2 5.8 .3 12.1 .2 9.9 .3 .5 .3 3.2 .2 2.2 .3 4.9 .3-7.4 .2 1.1 .3-.1 .3 4.8 .2-5.1 .3-.3 .2 2.5 .3-4.6 .3 5 .2 .8 .3-3.5 .3-4 .2 1.5 .3-2.9 .2-11.9 .3 6.2 .3 3.1 .2 4.5 .3 5.5 .3 0 .2 3.2 .3-2.2 .3 .3 .2 6.1 .3-2.5 .2-1 .3-4.5 .3 .2 .2-2.7 .3 .1 .3-10 .2-1.9 .3 8.7 .3-.5 .2 .5 .3 1.8 .2-1.2 .3 1.9 .3 3.4 .2-.7 .3-3.2 .3 4.3 .2-1.9 .3 2.9 .2-5.3 .3 .9 .3 3.4 .2-4.7 .3-1.6 .3-6.7 .2-7 .3 13.9 .3 7.3 .2-1.5 .3 2.5 .2-3 .3 6.9 .3-3.3 .2-1.7 .3 5.1 .3-4 .2-3.1 .3-15.2 .3-13.9 .2 12.9 .3 12 .2 9.4 .3 3.9 .3-4.3 .2 4.3 .3-2.3 .3 1.4 .2-11 .3 3.8 .3-5.9 .2-6.6 .3 1 .2 7 .3 3.7 .3-1.4 .2 1.4 .3 .1 .3 1.2 .2 2.1 .3-5.9 .2 5.8 .3 .2 .3 1.4 .2 2.4 .3 0 .3 .7 .2-.3 .3 .3 .3 1.5 .2-3.6 .3-4.3 .2-6.1 .3-6.7 .3 .1 .2 10.7 .3 2.8 .3 .1 .2 3.8 .3 2.8 .3-1.6 .2-.1 .3-1.2 .2 8.7 .3-6.8 .3 1.7 .2-6.2 .3 2.4 .3-9.9 .2 1.5 .3 1.1 .2 1.7 .3 .9 .3-1.5 .2 3.1 .3-1.9 .3-2.4 .2-2.9 .3 3.7 .3 .5 .2-7.6 .3-4 .2-1.2 .3 2.7 .3 8.1 .2 3.8 .3-.1 .3 1.2 .2 5 .3-6 .3 1.1 .2 3.5 .3 1.1 .2-2.8 .3-2.2 .3 5 .2-8.4 .3 .2 .3-6 .2 1 .3-3 .3-9.8 .2-.5 .3 4 .2 8.2 .3 3 .3 4.5 .2 4.8 .3-1.5 .3-.3 .2 6.2 .3-4.1 .2-3.7 .3 3.5 .3 .2 .2-3.2 .3 3.3 .3-.9 .2-2.2 .3-.7 .3 2.9 .2-1.6 .3-7.9 .2-9.8 .3 3.4 .3 15 .2-4.8 .3 4.7 .3 1.3 .2 .3 .3-1.2 .3-.9 .2 .7 .3-1.1 .2-7.5 .3 0 .3-2.5 .2 3.4 .3 2.1 .3 4.7 .2 3.2 .3 3.4 .2-2.8 .3 .3 .3 2.3 .2-3.9 .3-2.4 .3 7.8 .2-3.4 .3-2.2 .3-1.4 .2 1.3 .3 2.1 .2-3.8 .3 6.6 .3-2 .2 1.3 .3-7.2 .3 8.3 .2-1.1 .3-2.9 .3-1.1 .2-.3 .3-1 .2-2.2 .3-7.3 .3-10.4 .2 6 .3 6.6 .3 7.1 .2-.9 .3 1.4 .3 1.9 .2 1.7 .3-3.9 .2 3.4 .3-12.1 .3-10.7 .2-12.2 .3 4.3 .3 16.3 .2 7.4 .3 5.2 .2-2.6 .3 10.4 .3-4.8 .2-.8 .3 .2 .3 .5 .2-2.1 .3 .9 .3-2 .2-9.1 .3-9 .2 10.5 .3 8.1 .3 4.2 .2 0 .3 .3 .3 1.5 .2-3 .3-.6 .3-1 .2 3.8 .3-3 .2-1.9 .3-6.2 .3-1.5 .2-8.7 .3-15 .3-1.8 .2 10.1 .3 10.6 .2 5.5 .3 8.4 .3-3.3 .2-2.5 .3 1.6 .3 .2 .2 3.8 .3 2.6 .3-3.5 .2 3.1 .3 .2 .2-2.2 .3-.3 .3-6.7 .2-10.5 .3 5.7 .3 3.9 .2 5.7 .3 2.5 .3-.6 .2 2.9 .3-.3 .2-.3 .3 3.3 .3-5.4 .2 7.6 .3-7.2 .3-12 .2-.4 .3 9 .3 3.7 .2 .8 .3 3.3 .2-1.2 .3-.8 .3 3.6 .2 .2 .3 2.1 .3-1.4 .2-1.8 .3-.3 .2 3.9 .3-5.9 .3 0 .2-4.4 .3-11 .3-14.6 .2 3.9 .3 13.4 .3 4.4 .2 2.2 .3 1.1 .2 4.8 .3-4.3 .3 5.1 .2 2.3 .3-4.7 .3 0 .2-4 .3-.9 .3-7.7 .2 1.3 .3-10 .2 2.3 .3 12.7 .3-.1 .2-2.9 .3 .5 .3-5.4 .2 1.5 .3 1.3 .2-.7 .3 2.9 .3 6 .2 3.4 .3-4.4 .3-.5 .2 1.2 .3 7 .3-5.4 .2 2 .3-5.4 .2 4.7 .3-3.1 .3 .9 .2-.3 .3-2.9 .3-8.9 .2 3.8 .3 7.5 .3 5.1 .2-.7 .3-.4 .2 5.3 .3 2.5 .3-1.2 .2-3.1 .3 .3 .3 1.9 .2-1.7 .3 4.9 .2-8.6 .3 5.6 .3-7.6 .2-3.6 .3-15.4 .3-9.8 .2 18.2 .3 14.2 .3 1.1 .2-4.3 .3 5.2 .2-3.1 .3 1.9 .3-2.8 .2-5.6 .3-12.4 .3-12.1 .2 10.4 .3 12.1 .3-1.2 .2 12.1 .3-3 .2-1.5 .3-1.4 .3 1.3 .2 4.1 .3-.1 .3 2.3 .2-.3 .3-4.3 .3-2.1 .2-1.8 .3 1.4 .2-8 .3 1.9 .3-4.4 .2 1.8 .3 2.6 .3 9.3 .2 2.8 .3 1.3 .2 .9 .3 2.8 .3-3.2 .2 5.2 .3-5.4 .3-.2 .2 .5 .3-2.1 .3 4.7 .2-5.8 .3-4.4 .2 1.3 .3-7.3 .3 .8 .2-.6 .3-.1 .3 10.3 .2-1 .3 5.1 .3-1.4 .2-1.8 .3-.5 .2-3.1 .3-11 .3-16.6 .2-.1 .3 17.2 .3 16.3 .2-4.6 .3 6.1 .2 1.6 .3 .9 .3-3.8 .2-2.6 .3-.3 .3 2.3 .2-3.3 .3 2 .3-5.3 .2-5.6 .3 1.1 .2-8.6 .3-4.3 .3-3.2 .2 11.8 .3 8.1 .3-4.2 .2 5.5 .3 5.2 .3-5.8 .2 2.3 .3-7 .2 6.1 .3-.6 .3-10.5 .2-15.1 .3 14.2 .3 5.1 .2 10.9 .3-6.7 .3 5.1 .2-1.5 .3-1.6 .2 1.4 .3 2.8 .3-3.1 .2 5.3 .3-11.3 .3-10.1 .2-9.9 .3 3.1 .2 14.6 .3 9 .3 1.9 .2 2.9 .3-.6 .3 3.9 .2-.7 .3-1.3 .3-1.3 .2 5.9 .3-4.4 .2-3.7 .3-5.1 .3-10.1 .2-5.6 .3 7 .3 9.6 .2 .7 .3 4.3 .3 4.8 .2-5.3 .3-1.8 .2 5.6 .3-.2 .3-6 .2 7.4 .3-2.3 .3-1.7 .2 3.2 .3 2.7 .2-6.5 .3 .8 .3 1.6 .2 1.1 .3 2.4 .3 .6 .2-1.1 .3-1.2 .3 1.7 .2-1.3 .3 2 .2 1.2 .3-3.8 .3-.6 .2-2.1 .3-2.6" stroke="#00ffff" stroke-width="0.9" stroke-opacity="0.92"/>
<path d="M291.7 821.3l.3-8.3 .2-12.3 .3-.5 .3-2.4 .2-1 .3 11.6 .2 11.2 .3 7.9 .3 3.7 .2 1.4 .3 2.7 .3-4 .2 2.5 .3 2.1 .3-1.9 .2-1.4 .3 .3 .2-5 .3-4.8 .3-2.7 .2-1.1 .3-7.4 .3 .1 .2 4.8 .3 3.2 .2 3.3 .3 7.6 .3-1 .2 4.4 .3 7.8 .3-1.6 .2 1.1 .3 1.6 .3 4.3 .2 1.3 .3-1.3 .2-6.8 .3 3.6 .3-9.3 .2-14.2 .3-11.3 .3 12.8 .2 13.3 .3 1.5 .3 5.7 .2-2.3 .3-.3 .2 1.1 .3 .7 .3 2.2 .2 3.2 .3-1.1 .3-4.9 .2-.7 .3 .8 .2-1.2 .3 1 .3-3.4 .2 1.5 .3-5 .3 2.5 .2 6.4 .3-.5 .3 6.4 .2 1 .3 2.2 .2-2.2 .3-3.3 .3 3.4 .2 3.8 .3-8.1 .3-.9 .2-4.8 .3-3.5 .3-7.2 .2 5.3 .3 2.3 .2 2.3 .3 5.5 .3 3.2 .2 2.7 .3-.7 .3 1.5 .2-5.4 .3 1.1 .3 2.8 .2 2.1 .3 1.6 .2 4 .3 2.5 .3-5.9 .2-.2 .3 .7 .3-8.2 .2-18.2 .3-7.4 .2 13.2 .3 14.9 .3 6.3 .2-1.7 .3 7.8 .3-.6 .2 2.1 .3-3.3 .3-.5 .2-3.7 .3 2.7 .2-4.1 .3-3.4 .3-8.3 .2-8.3 .3 10.3 .3 8.2 .2 3.4 .3-1.5 .3-.7 .2 2.5 .3-2.5 .2-5.7 .3 5.5 .3 2.6 .2-3.2 .3-13.2 .3-11.3 .2 13.1 .3 12.1 .2-1.8 .3 1.2 .3 3.9 .2 0 .3 4.1 .3 .4 .2-3.1 .3-2.7 .3-17.7 .2-9.3 .3-5.4 .2 12.8 .3 15 .3 5.3 .2 .5 .3-.2 .3 3.3 .2-5.8 .3 2.5 .3 .5 .2-2.1 .3 1.8 .2-10.3 .3 1.2 .3-.6 .2-5.1 .3 11.2 .3 4.5 .2 2.1 .3 .3 .3 3.2 .2-2 .3 3.5 .2-6.8 .3 4.6 .3-.9 .2 .2 .3-3.5 .3 3.8 .2-3.7 .3 1.7 .2-2 .3 1.7 .3-1.2 .2 1.1 .3-3.8 .3-3.7 .2-4.7 .3-3.5 .3-4.5 .2 1.2 .3 7.1 .2 7.3 .3 4.7 .3 5 .2-4.8 .3 1.9 .3-2.4 .2 6.8 .3 .5 .3-3.4 .2-3.6 .3-.8 .2-2.7 .3-13 .3 15 .2 .3 .3-.9 .3 3.8 .2-.4 .3-2 .2 1.5 .3 1.7 .3-2.8 .2-1 .3-1.6 .3-9.6 .2-3 .3 2 .3 2.4 .2 4.9 .3 .3 .2-1.1 .3 6 .3 4.8 .2-4.6 .3 3.2 .3-2.2 .2 .5 .3-2.1 .3-.1 .2 1.5 .3-3.2 .2 3.3 .3-2.7 .3-6 .2 .6 .3 .1 .3-.3 .2 .6 .3 5.3 .2-1.7 .3 .7 .3 7.4 .2-2.1 .3-2.9 .3 .4 .2 2.1 .3 3.2 .3 1.5 .2-7.5 .3 7.1 .2 .6 .3-6.6 .3 4.1 .2-2.7 .3-.3 .3-8.7 .2-13.5 .3-2.6 .3 6.9 .2 13.4 .3 1.6 .2 .4 .3 5 .3-2.4 .2-.4 .3-16.5 .3 4.2 .2 15.9 .3-4.9 .3 6.6 .2 2.1 .3-8.3 .2 6.3 .3-5.9 .3-11.7 .2-4.3 .3 6.9 .3 2.4 .2 7.5 .3 .8 .2 .9 .3 .3 .3 1.9 .2-4.1 .3 6.8 .3-.4 .2-4 .3 5.9 .3-3.4 .2-.4 .3-1.1 .2 1.6 .3 5.8 .3-2.9 .2-.8 .3-3.2 .3 2.7 .2-1.1 .3-.2 .3-1.9 .2-6.1 .3 4.1 .2-12.6 .3-6.6 .3-4 .2 9 .3 8.8 .3-2.9 .2-1.6 .3 6.7 .2 2.5 .3-4.1 .3 3 .2 2.7 .3-3 .3-.7 .2 1 .3-1.4 .3 1 .2-4.6 .3-6.6 .2-7 .3 3.5 .3 3.8 .2 6.6 .3 1.3 .3 3.9 .2-.8 .3-3.3 .3 2 .2 .2 .3 3.8 .2-1.1 .3 2.8 .3-5.5 .2 2 .3-3.2 .3-2.6 .2-9.3 .3-4.3 .3 1.2 .2 12.3 .3 9.2 .2 .7 .3-.5 .3-1.7 .2 4.7 .3-6.9 .3 .8 .2 5.2 .3-3.6 .2-4.9 .3-4 .3 .8 .2-6.5 .3-8.9 .3 1.5 .2 5.3 .3 9.2 .3 4.9 .2-1.5 .3 5.7 .2-.2 .3-.3 .3 7 .2-3.5 .3-.8 .3-2 .2 .4 .3-6.5 .3 0 .2 1.8 .3 .3 .2 2 .3 2.1 .3-2 .2 2.5 .3-7.3 .3-2.3 .2-11.9 .3 7.6 .2 5 .3 6.2 .3 1.1 .2 .9 .3-2 .3-5 .2 5.6 .3-.4 .3-.7 .2-6 .3-1.2 .2-5.4 .3-3 .3 9 .2 2.2 .3-4.4 .3 3.4 .2 4.9 .3 .3 .3 1.8 .2 1.4 .3-2.5 .2 4.2 .3-.7 .3 2.6 .2-3.4 .3-4.8 .3-5.7 .2 .3 .3 6.4 .3 5.2 .2-5 .3 7.5 .2-.6 .3 .3 .3-1.8 .2-1.8 .3-.8 .3 5.4 .2-8 .3 1.7 .2 2.9 .3-4.6 .3-5.2 .2-4.8 .3 .1 .3 7.9 .2 1.8 .3-4.5 .3 5.1 .2-1.1 .3-1.5 .2 1.1 .3 4.8 .3-1.7 .2 1.8 .3 .3 .3 .1 .2-2.3 .3 8.2 .3-4.1 .2 .1 .3 2.6 .2-.3 .3-2.8 .3-.8 .2 6.4 .3-3 .3-5.5 .2 6.1 .3-3.3 .2-.3 .3-2.1 .3-1.3 .2-8.1 .3-3.3 .3 10.8 .2-.8 .3 3.7 .3 .7 .2 2.8 .3 1.8 .2-4.5 .3-10.3 .3-7.6 .2 13.5 .3 3 .3 9.1 .2-4.1 .3 3.2 .3 2.1 .2-2.6 .3 3.6 .2-6.3 .3-1.6 .3 2 .2-.6 .3-3 .3-1.8 .2 2.4 .3-3.8 .3-8.2 .2-1.8 .3 3.4 .2-3.2 .3 8.9 .3 1.9 .2 1 .3 3.6 .3-3 .2 5.7 .3-2.2 .2 .2 .3-.6 .3 .8 .2-2.3 .3 2.4 .3 .2 .2-1 .3 2.6 .3-7.1 .2-2 .3-3.9 .2-8.3 .3 9.1 .3 6.5 .2 4 .3 1.1 .3 0 .2 1.4 .3-1.1 .3 2.3 .2-4.7 .3 5 .2-2.9 .3-2.6 .3-1.8 .2-6.8 .3-.7 .3 2.5 .2 7 .3-.5 .2-1.1 .3 1.8 .3 1 .2-2.9 .3 .9 .3-4.8 .2 3 .3-3.2 .3 4.4 .2-2 .3 5.5 .2-13 .3-7.7 .3 2.5 .2 7.7 .3 5.1 .3 4.2 .2 2 .3-3.1 .3 1.2 .2-12.4 .3-16.3 .2 11.5 .3 12.9 .3 2.6 .2 4 .3 1.2 .3-4.1 .2-.5 .3-6.5 .2-10 .3-7.7 .3 3.5 .2 11.8 .3 1.5 .3 8.4 .2 2.2 .3-2.3 .3 6.6 .2-.1 .3-.3 .2-6.1 .3 2.9 .3 1 .2-1.3 .3-3.5 .3 6.4 .2-2 .3-.5 .3-1 .2-.2 .3-2 .2-1.8 .3 4 .3-2.2 .2 .4 .3 .2 .3-3.1 .2-2.6 .3-8.6 .3-4.4 .2 5.5 .3 3 .2 9.1 .3 1 .3-2.2 .2 3.1 .3-2.2 .3-.3 .2-3.3 .3 2.5 .2-1.1 .3 1.7 .3 2.2 .2-1.8 .3 .1 .3-2.9 .2-1.1 .3 4.5 .3-7.2 .2-1.7 .3-3.2 .2 5.1 .3 2.8 .3 9.2 .2-2.8 .3-1.6 .3 2 .2-.3 .3 0 .3-1.5 .2 .6 .3-1 .2-8.4 .3-8.6 .3-1.6 .2 9.5 .3 7.3 .3 2.9 .2-.3 .3-2.2 .2 4.4 .3-1.5 .3 1.9 .2-6.1 .3 4.6 .3-4 .2 6.4 .3-6.3 .3 6.1 .2-3.2 .3-1.5 .2-1.6 .3-4.4 .3-2.2 .2-10.3 .3 14.1 .3 4.4 .2-2.1 .3 6.6 .3-2.6 .2-.8 .3 .2 .2 3.2 .3-4.6 .3 .4 .2 .6 .3-1.9 .3-4 .2-3.7 .3-1.2 .3 6.2 .2 4.4 .3-2.9 .2-3.5 .3 4.6 .3 6.3 .2-5.7 .3-.9 .3 4.3 .2 .7 .3-1.2 .2 3.8 .3-4 .3 .8 .2 3.3 .3 1 .3-1.9 .2-1.4 .3-5 .3-.1 .2-10.8 .3-2.4 .2 5.5 .3 11.3 .3-.8 .2-2.3 .3 6.3 .3-3.8 .2 1.7 .3-.1 .3-1 .2 6.5 .3-7.2 .2-.4 .3-8.9 .3-19.5 .2 16.1 .3 9.2 .3 1.8 .2 3 .3-1.6 .2 1 .3 .6 .3-8.4 .2-14.3 .3 13.4 .3 3.1 .2 .3 .3 7.1 .3-5.8 .2 .1 .3 2.7 .2-4.2 .3-7.2 .3-12.5 .2-4.5 .3 16.8" stroke="#80c000" stroke-width="0.9" stroke-opacity="0.92"/>
<path d="M291.7 787.8l.3 8 .2-5.1 .3 8.5 .3 11.5 .2 10.4 .3 7.1 .2-3.1 .3 1.2 .3 4.6 .2 1.6 .3-.5 .3 1.6 .2-6.2 .3 3 .3-4.6 .2-6.9 .3-17.3 .2-5.1 .3 12.4 .3 14.9 .2 11 .3 5.8 .3 2.9 .2-3.7 .3 2.2 .2-4.4 .3-1.8 .3-5.7 .2-23.3 .3-10.8 .3 21.4 .2 9.6 .3 11.1 .3 6.8 .2 .1 .3-6.8 .2 5.6 .3 5.3 .3-5.6 .2 1.8 .3-1.6 .3-1.4 .2 1.1 .3 1.9 .3-1.4 .2-5.8 .3-3.9 .2 .2 .3-2.2 .3 1.6 .2 7.6 .3 .9 .3-3.5 .2 .3 .3-.4 .2-.8 .3 3.1 .3 3.4 .2-5.4 .3 4.1 .3 .9 .2-1.4 .3-1.8 .3-4.2 .2-.7 .3-.1 .2-8 .3-1.8 .3 4 .2 5.1 .3 1.6 .3 2.4 .2 1.3 .3 2.1 .3 .4 .2-3.1 .3 0 .2-.7 .3 1.9 .3-.4 .2-.4 .3 3.9 .3 1.3 .2 .8 .3 1 .3-3.4 .2 2.7 .3 .4 .2-4.6 .3-5.9 .3 5 .2 4.2 .3-.2 .3 9.3 .2-6.8 .3 2.7 .2 7.2 .3-4.7 .3-3.5 .2-2.1 .3-5.7 .3 3.9 .2 8.8 .3 2.5 .3-4.9 .2 5.8 .3-4.6 .2-2.5 .3 3.9 .3-3.4 .2 .5 .3-1.4 .3-7.7 .2-10.4 .3-.4 .3 .8 .2 6.2 .3 3.1 .2 8.4 .3 2.8 .3-1.2 .2 1.7 .3 4.6 .3-1.3 .2 1.1 .3 1 .2-.4 .3 .1 .3-2.3 .2-.2 .3-7.3 .3 1.5 .2-3.3 .3-1.7 .3 .7 .2 5 .3 .8 .2 1 .3 2 .3 1.5 .2-3.6 .3 6.1 .3-4.7 .2 4.5 .3-.8 .3-2.6 .2 1.1 .3-3 .2-3.3 .3-5.9 .3-6.2 .2-.1 .3 5.3 .3 7.1 .2 4.9 .3-1.9 .3 1.7 .2-2.3 .3 1.3 .2-.1 .3 2.5 .3-3.3 .2-.6 .3-.3 .3-3.5 .2-4.1 .3 5 .2-1.7 .3 3.4 .3 3 .2 3.4 .3 4.8 .3-2 .2-2.8 .3 5.1 .3 .4 .2-3.6 .3 .3 .2 4 .3-5.6 .3-9.4 .2-13.5 .3-5 .3 0 .2 11.3 .3 3.5 .3 8.8 .2 2.5 .3 1.4 .2-3.2 .3-1.1 .3 5.6 .2-6.5 .3 5.3 .3-2.3 .2-2.5 .3-3.4 .2 3.3 .3-2 .3 1.2 .2-.5 .3-8.5 .3 2.6 .2-5.9 .3 6.8 .3 6.5 .2 .2 .3 .7 .2 3.4 .3 9 .3-11 .2 6 .3 3 .3-4.2 .2 3.3 .3-.7 .3-8 .2 2.1 .3-2.9 .2-4.9 .3 2.8 .3 4.3 .2 2.7 .3 2.3 .3 1.2 .2-1.9 .3 2.7 .2-.6 .3 .1 .3-.4 .2-4.6 .3-1.4 .3-2.8 .2-4.1 .3 6.8 .3 3 .2 3.4 .3-5.7 .2 3.2 .3 1.1 .3-5.2 .2 5.3 .3-.5 .3-2.6 .2-1.8 .3-9.4 .3-11.7 .2 8.8 .3 12.1 .2-1.6 .3 4.6 .3-.5 .2 .2 .3-4.6 .3 1 .2 5 .3-12 .3-6.5 .2-3.5 .3 10.6 .2 10.8 .3 1.4 .3-1.7 .2 .7 .3-3.2 .3 5.1 .2-1.7 .3 4.8 .2-6.3 .3 3.4 .3-1.8 .2-4.8 .3 5 .3-4.3 .2 .4 .3-9 .3-1.1 .2-9.9 .3-5.9 .2 5.2 .3 13.7 .3 8.4 .2 1.7 .3 2.7 .3-2.3 .2 4.9 .3-6.4 .3-2.1 .2 4.4 .3-5 .2 2.1 .3-10.9 .3 1.9 .2 3.1 .3 3.2 .3 4 .2-.9 .3 .8 .2 .4 .3 6.4 .3-3 .2-2.8 .3 2.5 .3-.4 .2 2 .3-1.2 .3-2.3 .2 3.9 .3-6.6 .2-7.7 .3 .4 .3-1.8 .2 8.1 .3 .7 .3 3.7 .2 1.6 .3-2.5 .3 1.8 .2-1 .3 5.6 .2-5.3 .3 .5 .3-3.6 .2 10.1 .3-3.4 .3-.5 .2 .3 .3-6.7 .3 6.1 .2-5.8 .3 3.7 .2-3.9 .3-4.8 .3-3.1 .2-4.4 .3 7.6 .3 3.4 .2 1.4 .3 6.1 .2-4.1 .3 3.9 .3-2.1 .2 7.7 .3-11.3 .3 1.1 .2-11.9 .3-9 .3 13 .2 11.8 .3-1.9 .2 1.9 .3-3.1 .3 1.4 .2 3.4 .3-5.4 .3-4.8 .2 1.4 .3-2.3 .3-5.7 .2 1.3 .3-.5 .2 2.3 .3 2.5 .3 7.6 .2-.7 .3-.7 .3 .5 .2 .5 .3 2.1 .2 .2 .3-.7 .3 .5 .2-4.9 .3 2.6 .3-1.7 .2-3.7 .3 6.3 .3-8.4 .2-1.5 .3-12.7 .2 12.4 .3 7.3 .3 0 .2 4.6 .3 2.9 .3 .4 .2-1.6 .3-1.9 .3 2.9 .2-9.2 .3 .9 .2 4.4 .3 3.3 .3 6.2 .2-.8 .3 5 .3-5.9 .2 6.6 .3-1 .3-.3 .2 .4 .3-2.8 .2-7.8 .3 1.8 .3-3.7 .2-3.5 .3-16.5 .3-2.4 .2 15.9 .3 2.6 .2 5.8 .3-4.1 .3 1.7 .2 6.1 .3-8.4 .3 2.7 .2 2.2 .3-.1 .3 2.4 .2-4.7 .3 5 .2-4.1 .3 .2 .3-14.1 .2-1.4 .3-7.6 .3 17.2 .2 3.8 .3 7.4 .3 3.2 .2-.4 .3-1.5 .2 2.9 .3-.3 .3-2.2 .2-8.5 .3 5 .3 2.6 .2-8 .3 1.2 .2-3.8 .3 5.9 .3-3.1 .2-4.2 .3 .2 .3-5.9 .2-12.1 .3 6.2 .3 7.1 .2 5.3 .3 9.3 .2 1.8 .3-1.8 .3 4.3 .2-.8 .3 4.7 .3-4.6 .2 .9 .3-2.7 .3 3.4 .2-.6 .3-1.4 .2-3.7 .3-1.7 .3-18.1 .2-9 .3 18.8 .3 7.9 .2 2.7 .3 5.3 .3 .1 .2-4.6 .3-.9 .2 3.6 .3-5.1 .3 7.2 .2-11.8 .3-4.8 .3 .7 .2 12.4 .3 .4 .2 .8 .3 1.5 .3-.2 .2-3.9 .3-1.3 .3 .9 .2 1.7 .3 1.9 .3-5.2 .2-3.7 .3-1.6 .2-4.5 .3-18.9 .3 .4 .2 12.6 .3 8.2 .3 2.5 .2 1.9 .3-5.1 .3 3.5 .2 5.1 .3-6.1 .2-6.1 .3-11 .3-5.1 .2 6.4 .3 8 .3 6.7 .2 8.1 .3-2.4 .2-4 .3 8 .3-2.1 .2-1.6 .3 4.2 .3-1.4 .2 3 .3 2 .3-5.4 .2-3 .3 2.1 .2-2.6 .3-4.8 .3-10.5 .2-8.4 .3 13.7 .3 9.5 .2 4.7 .3 2.4 .3 .2 .2 3.3 .3-4.5 .2 2.9 .3-2 .3 1.8 .2-1.6 .3-2.9 .3-1.6 .2-2.2 .3-.2 .2-2.6 .3-15 .3-8.9 .2 2.7 .3 9.7 .3 8 .2 9.4 .3 4.9 .3-2.7 .2 5.7 .3-2.9 .2-1.3 .3 .3 .3-6.7 .2 5.1 .3-2.4 .3-6.8 .2-13.7 .3-5.5 .3 7.3 .2 13.6 .3 10.7 .2-1.7 .3-1.3 .3 4.6 .2-5.1 .3-7.9 .3-7.5 .2-11.9 .3 23.4 .3 7.2 .2-.9 .3 4.9 .2-2.2 .3-.2 .3-1.4 .2-5 .3-7.8 .3-14 .2 7.7 .3 5.2 .2 10.6 .3-2.5 .3 1 .2-1.5 .3 5.2 .3 1.3 .2-5.2 .3 .5 .3 .4 .2-1.1 .3 .8 .2 2.3 .3 2.2 .3-1.5 .2-.3 .3-2.9 .3-1.5 .2 .8 .3 4.2 .3-6.1 .2 3.4 .3-7 .2 6.8 .3-7.5 .3-5.6 .2 3.7 .3 4 .3 2.3 .2 6.3 .3-2.2 .2 .4 .3-1.3 .3 3.2 .2-.6 .3 .4 .3-4.3 .2 3.2 .3-2.3 .3-5.4 .2-7.4 .3-12.2 .2 2.2 .3 6.4 .3 7.1 .2 2.1 .3 5.2 .3 2.2 .2-4.9 .3 2.1 .3-.8 .2-2.2 .3 3.4 .2-3.7 .3 3.2 .3 1 .2-.8 .3 4.1 .3-2.1 .2-.4 .3 1.5 .3 2.4 .2 2.8 .3-2 .2-3.5 .3 2.4 .3-3.5 .2-2.2 .3-10.1 .3 8 .2 4 .3-.1 .2 5 .3-.9 .3 .2 .2-2 .3 .3 .3-13 .2-11 .3 12.9 .3 9.6 .2 5.8 .3 4.5 .2-7.4 .3 3 .3-1.7 .2-14.6 .3-.1 .3 16 .2-4.1 .3 6.6 .3-.3 .2-2.4 .3-1.4 .2-2.7 .3-1.7 .3-1.9 .2-5 .3-.1 .3-1.4 .2 2.5 .3 1.8 .2-2 .3 4.2 .3 3.1 .2-.4 .3-2.1 .3-1.6 .2 5.5 .3 .1 .3 .9 .2-1.8 .3 3.4 .2-6.2 .3 9.5 .3-6.5 .2 1.9 .3 2" stroke="#ff00ff" stroke-width="0.9" stroke-opacity="0.92"/>
<path d="M291.7 826.4l.3-3.1 .2-8.9 .3 5.8 .3 4.5 .2-1.5 .3-.1 .2-2.8 .3 6.1 .3 .8 .2 2.1 .3 7.7 .3-.1 .2-.4 .3-4.9 .3 0 .2 2.2 .3 .5 .2 5 .3-4.4 .3 1.8 .2-3.6 .3-8.5 .3-2 .2-3.5 .3 5.6 .2 3.3 .3 11.2 .3-3.7 .2 5.5 .3-.8 .3-2.1 .2 .8 .3 4.3 .3 2.4 .2-2.4 .3 0 .2-.6 .3-1.3 .3 2.2 .2-.8 .3-4.1 .3-12.3 .2 1.7 .3 9.1 .3 1.6 .2 9.2 .3-5.7 .2 4.8 .3-3 .3 1 .2 3.3 .3-5.9 .3-5.1 .2-19.6 .3-15.7 .2 20.7 .3 12.9 .3 13 .2 3.7 .3 3 .3 1.4 .2-3.1 .3 .8 .3-.9 .2 0 .3 2.6 .2 0 .3-6.2 .3-1 .2-5.1 .3-21.1 .3 10.5 .2 12.7 .3 .1 .3 7.9 .2 1.2 .3-1.3 .2 3.6 .3-1.7 .3-2.9 .2-2.3 .3-1.1 .3-14.3 .2-11.9 .3-7.3 .3 5.4 .2 22.9 .3 7.6 .2 .1 .3 0 .3-1.4 .2 3.2 .3-3.1 .3 3.8 .2 1.2 .3 1.8 .2-.5 .3-2.5 .3 1 .2-1.8 .3-4.2 .3 .5 .2-11.7 .3-2.3 .3-5.3 .2-2.5 .3 15.6 .2 2.8 .3 2.3 .3 1.5 .2 .6 .3-1.6 .3 4.5 .2-3.5 .3 3.6 .3 2.4 .2-5 .3 .1 .2 4.1 .3-2.2 .3 1.6 .2-4.6 .3 .3 .3-2.2 .2-14.1 .3 12.8 .2 5.3 .3 9.5 .3-5.3 .2-1.7 .3-.2 .3 .5 .2 4 .3 .9 .3-6.1 .2-15.5 .3 13.9 .2 5.8 .3 2.8 .3-1.1 .2-2.3 .3 2.3 .3 5.4 .2-1.2 .3-4.1 .3-7.1 .2-4.5 .3 2.6 .2-1.7 .3 4.9 .3-.1 .2 3.4 .3-2.1 .3-1.5 .2 6.4 .3-6.9 .3 3.3 .2 3.1 .3-.3 .2-1.4 .3 .6 .3 2.8 .2-1.4 .3 5.7 .3-3.6 .2 4.2 .3-5 .2-.1 .3-1.2 .3-4.6 .2-2.5 .3-6.3 .3 13.1 .2-.6 .3 1.9 .3 3.7 .2-2.1 .3-6.4 .2 2.5 .3 .3 .3-2.5 .2-.1 .3 5.4 .3-4.2 .2 .5 .3 1.1 .3-.3 .2-.4 .3-.3 .2-9.3 .3-4.8 .3 8.7 .2 5.1 .3 3.3 .3 3.1 .2-1.6 .3-2.1 .2-.5 .3 1.6 .3-6.1 .2-6.5 .3-5.5 .3 10.6 .2 5.5 .3-1.8 .3 4.5 .2 0 .3-1.4 .2 1.7 .3-1.3 .3-2.1 .2-8 .3-3.7 .3-16.9 .2 8.5 .3 10.7 .3 2.9 .2 6.3 .3-2.6 .2 8 .3 1.7 .3-3.8 .2-.6 .3 .8 .3-2.9 .2 2.2 .3-8.3 .2-6.1 .3-11.4 .3 6.7 .2 15 .3 8 .3-3.3 .2 4.1 .3-5.3 .3-2.6 .2-1.1 .3 .9 .2-4.3 .3-7.3 .3 .5 .2 6.1 .3 .2 .3 5.7 .2 1.4 .3 .3 .3 3.6 .2-3.3 .3-4.5 .2 1.1 .3 4.9 .3-5.2 .2 2.8 .3-.5 .3-1 .2-3.9 .3 .2 .3 1.8 .2 2.9 .3 2.3 .2-2.4 .3 3.1 .3-.4 .2-4.6 .3-3.2 .3-7.7 .2-5.5 .3-1.6 .2 1.5 .3 12.1 .3 4.4 .2-.5 .3 5.2 .3-1.8 .2-.2 .3-.4 .3-2.8 .2-2.3 .3 3.5 .2 1 .3-6.6 .3-4.8 .2 5.6 .3 3.6 .3 7 .2 3 .3-3 .3 .9 .2-4.7 .3 6.4 .2 3.6 .3-9.8 .3-6.3 .2-20.1 .3 1.1 .3-.2 .2 21.5 .3 7.1 .2 2.3 .3 .9 .3-3.1 .2-3.6 .3 1.6 .3-22.2 .2 4.1 .3 14 .3 5.3 .2 4.6 .3-4.1 .2-2.7 .3 3.9 .3-1 .2-1.5 .3-1.2 .3 0 .2-3.6 .3-9 .3-3.7 .2 4.1 .3 9.4 .2 2.9 .3 2 .3 3 .2-.2 .3 5.2 .3-2.1 .2 3.1 .3 4.1 .3-4.7 .2 .5 .3 .5 .2 2.1 .3-3.5 .3-2.4 .2-.8 .3-1.1 .3-.5 .2-4.8 .3-6.4 .2-9.4 .3-1.9 .3 4.2 .2 12.2 .3-.3 .3 2.7 .2-1 .3 2.2 .3-2.1 .2 .5 .3-5.4 .2-12.8 .3-.6 .3-7.4 .2 7.3 .3 10 .3 1.8 .2 2 .3 1.8 .3-.6 .2-3.3 .3 5.1 .2 1.8 .3-1.6 .3-3.1 .2 .4 .3 .1 .3 .7 .2-5.1 .3 4.6 .2 4.2 .3-6 .3-.6 .2 .4 .3 6.4 .3 4.1 .2 5 .3 .7 .3-2.8 .2-5.4 .3 .9 .2-1.4 .3 1.3 .3-7.8 .2-11.3 .3 .2 .3 5.8 .2 12.1 .3-1.7 .3 1.1 .2 .7 .3 3.7 .2-3.6 .3 6.6 .3-5.6 .2 2.3 .3 1.9 .3-4.1 .2 5.2 .3-2.8 .3 1.8 .2 1.2 .3-4.2 .2 2.7 .3-9.8 .3 1.4 .2-9.2 .3-3.4 .3-3.9 .2 8.1 .3 5 .2 2.9 .3 3.8 .3-4.1 .2 6.8 .3-2.7 .3-1.9 .2 4.4 .3-.7 .3-2.7 .2-4.6 .3-.8 .2-8.2 .3 .9 .3 8.6 .2 5.2 .3 2.7 .3-.8 .2 3 .3 3.9 .3-9 .2 7.1 .3-4.6 .2 3.2 .3 .6 .3-5.9 .2-1.3 .3-10.9 .3-7.1 .2 12.8 .3 4.2 .2 9.3 .3-3.5 .3 1 .2-.6 .3 6 .3-9.2 .2 .9 .3-3.1 .3-4.2 .2-3.2 .3 5.9 .2-4.4 .3 4.9 .3 6.5 .2 8.7 .3-9.4 .3 4.1 .2 .6 .3-3.5 .3 .1 .2 3.7 .3-2.9 .2 4.7 .3-11.1 .3-8.5 .2-10.9 .3 18.1 .3 1.2 .2 3.4 .3 1.5 .3-1.6 .2 5.5 .3-8.1 .2-3.2 .3-9.8 .3 1.3 .2 6.8 .3 5.4 .3 4.7 .2 .2 .3 1 .2 1.4 .3 1 .3 3.7 .2 2.6 .3 3.5 .3-7.2 .2 4.1 .3-.7 .3 1.3 .2-2.3 .3-1.4 .2-2.5 .3-2.6 .3-2.7 .2-4.1 .3 1.4 .3 8.4 .2-3.2 .3 5.9 .3-4.1 .2-2 .3 .2 .2 3.3 .3-2.6 .3-2.7 .2 1.6 .3-3.4 .3-1.4 .2-3 .3 2 .2 5 .3 8.6 .3-9.1 .2-1.8 .3 5.1 .3 7.5 .2-7 .3 4 .3-4.2 .2-3.7 .3 8 .2-5.9 .3 .5 .3-.7 .2-2.8 .3 2.5 .3-.3 .2-4.6 .3-6.5 .3-11.5 .2 3.9 .3 9.4 .2 5 .3 6.8 .3-2.9 .2 .2 .3-1.9 .3 2.1 .2-5.4 .3-19.5 .2 .7 .3 13.9 .3 5.9 .2 7 .3-1.4 .3 6.5 .2-2.2 .3-2.9 .3 2 .2 0 .3-.5 .2-6.3 .3-1.8 .3-.4 .2-7.8 .3-2.7 .3-11.6 .2 .1 .3 4.5 .3 15.3 .2 .2 .3 10.9 .2-3.1 .3-2.3 .3-.5 .2 4.1 .3-5.4 .3 3.1 .2-2 .3 .9 .3-4.4 .2-5.6 .3 7.6 .2-.4 .3 7.2 .3-.8 .2 2 .3-2.5 .3 3.9 .2-2.6 .3-4.2 .2-2.1 .3-5.6 .3-9.9 .2-5.7 .3 4 .3 7.7 .2 3 .3 3.5 .3 .1 .2-.8 .3-3.7 .2 1.9 .3 .5 .3-4.7 .2 4 .3 4.4 .3-.8 .2-1.1 .3 5.6 .3-1.1 .2 1.6 .3 4.2 .2 1.7 .3 3.1 .3-7.1 .2 2.8 .3 4.5 .3-4.7 .2-10.6 .3-8.6 .2-12.7 .3 8.5 .3 5.2 .2 11 .3 .6 .3-2.3 .2 8.5 .3-5.3 .3 1.1 .2 6.4 .3-.8 .2 1.6 .3-11.4 .3 5.2 .2 1 .3-17.6 .3 7.6 .2 9 .3 2.1 .3 5.1 .2 1.1 .3-1.1 .2-2.8 .3 2.7 .3-1.3 .2-6 .3-1.3 .3-4.3 .2-3.2 .3 9 .3-1.3 .2 .6 .3-1.1 .2-.5 .3 1.7 .3-6.2 .2-2.8 .3-2.5 .3-5.7 .2 10.1 .3 3.7 .2 7.5 .3-.2 .3-2.6 .2 2.6 .3-2.2 .3-2.3 .2-.1 .3 1 .3-2.3 .2-1.2 .3-10.1 .2-6.4 .3 1.1 .3-11.9 .2 7.9 .3 12.6 .3 9 .2-3.8 .3 1.2 .3 2.4 .2 .6 .3 2.5 .2 .8 .3-4.8 .3 2.5 .2-2.5 .3 .8 .3 4 .2-4.9 .3 5.6 .2 .3 .3-3.6 .3-1.7 .2-2.1 .3-.2 .3-6.7 .2-.4 .3 0 .3-8 .2-5 .3-8.1 .2 3.7 .3 9.1 .3 9.3 .2 7.2 .3-1" stroke="#008080" stroke-width="0.9" stroke-opacity="0.92"/>
<path d="M291.7 831.6l.3 13.1 .2-3.8 .3-.7 .3-1.4 .2 2 .3 .5 .2-5.4 .3-2.1 .3-18.6 .2-9.3 .3 3.6 .3-.8 .2 10.3 .3 11.6 .3 10 .2 6.1 .3-5.1 .2 4.1 .3 3.8 .3-2.9 .2-3.6 .3 3.3 .3-1.7 .2 4.5 .3-3.6 .2 3.4 .3-4.3 .3 .8 .2 .1 .3 3.1 .3-5.9 .2 3.2 .3-4.5 .3-1.5 .2 6.8 .3-7.1 .2-.9 .3-8.3 .3-10.7 .2 2 .3 7.6 .3 15.7 .2-1.4 .3 4.5 .3 .9 .2 2.1 .3-2.2 .2-.5 .3 7.4 .3-4.8 .2-10.8 .3-14.7 .3-11.7 .2 1.7 .3 8.6 .2 12.8 .3 9.8 .3 2.3 .2 2.5 .3 1.8 .3 4.8 .2-.2 .3-2.9 .3-2.1 .2 4.5 .3-.8 .2-.6 .3 .3 .3-2.9 .2-.4 .3 .1 .3-9.3 .2-5.2 .3 8.5 .3 8.7 .2-3 .3 1.7 .2-1.5 .3 .9 .3 .4 .2-2.6 .3 1.7 .3-11.8 .2-5.5 .3 14.5 .3 1 .2 5.3 .3-.4 .2-1.8 .3 4.5 .3-4.8 .2-.2 .3 4 .3-.6 .2-2.2 .3-.5 .2-5.4 .3-2.4 .3-2.3 .2-5.5 .3-2.3 .3-1 .2 17.5 .3-2.4 .3 1.9 .2 2 .3-.1 .2 7.3 .3-2.3 .3 3.9 .2-7 .3 2.7 .3-1.9 .2 .3 .3-.3 .3-11 .2-17.8 .3 6.6 .2 13.7 .3 6 .3 6 .2-6.1 .3 4.9 .3-2.5 .2 3.1 .3-2.7 .2 6.7 .3-7.6 .3 2.8 .2-15.5 .3 8.2 .3-8.1 .2-8.1 .3 1.6 .3 1.5 .2 6.8 .3 10.1 .2 5.3 .3 2.6 .3-2.5 .2 2.3 .3 .6 .3-3.2 .2 4.3 .3-1.3 .3-3.4 .2 3.3 .3-2.9 .2 .5 .3-3.5 .3 .2 .2-2.2 .3-13.5 .3 4.4 .2 7.4 .3 4.7 .3 7.3 .2 1.8 .3-3.6 .2 5.2 .3-3.9 .3 2.3 .2-4 .3-6.7 .3-12.5 .2-8.2 .3 3.2 .2 14.4 .3-1.2 .3 7.7 .2 3.1 .3-5.5 .3 5.5 .2-5.1 .3 2 .3 2.3 .2-5.4 .3 4.7 .2-1.9 .3 1 .3-9.5 .2-9.4 .3 12.1 .3 1.6 .2 8.9 .3 1.1 .3-6.4 .2 1.8 .3 4.5 .2-5.5 .3 7.6 .3-2.4 .2-2.8 .3-4.1 .3-7.1 .2 2 .3 2.5 .2-1.3 .3 2.5 .3 5.9 .2-1.7 .3 2.8 .3-.5 .2 6.7 .3-9.7 .3 2.2 .2 4.2 .3-.9 .2 1.3 .3 1 .3-1.6 .2-1.5 .3 1.1 .3 2.4 .2-.5 .3-3.5 .3-6.8 .2-1.9 .3 6.5 .2 1.6 .3-.2 .3 3.5 .2-1.1 .3 1.6 .3 1.3 .2 .3 .3-3.5 .2-9.5 .3 1.5 .3 4.1 .2-5.9 .3 6.5 .3 .7 .2 3.2 .3 2.2 .3-.8 .2 1.5 .3-2.2 .2-2.8 .3 3 .3-.4 .2-2.6 .3 6.2 .3-2.7 .2-.1 .3-.3 .3-1.3 .2-.6 .3-.4 .2-.9 .3-4.4 .3-9.8 .2-3.9 .3-5.6 .3 14.4 .2 9.5 .3 2 .3 4.8 .2-3.6 .3 2.5 .2-1.7 .3-2.7 .3-.7 .2-.1 .3-3.6 .3-3.7 .2 4.8 .3-2 .2 7.2 .3 5.4 .3-1.1 .2 2.7 .3-4.2 .3 4 .2-1.7 .3-2.3 .3-1.6 .2-.4 .3-1.6 .2 5.2 .3-8.7 .3-2 .2-4 .3-10.5 .3 5.8 .2 2.8 .3 9 .3 4.4 .2-.2 .3-4.5 .2 .5 .3 6.8 .3-7 .2 1.7 .3-2.2 .3-.9 .2 .7 .3-3.9 .2-1.2 .3 1.2 .3-1.2 .2 .9 .3 .2 .3-4.8 .2-3.4 .3-3.7 .3 3.4 .2 3.6 .3 2.4 .2 4 .3 5.7 .3 .7 .2-2.5 .3 7.5 .3-3.4 .2-.5 .3-1.9 .3 3.1 .2-.9 .3 1.4 .2 .3 .3-.2 .3 .9 .2-1.7 .3-11.3 .3-4.2 .2-3.4 .3 3.1 .3 11.2 .2 0 .3 3.2 .2-4.5 .3 1.3 .3 1.3 .2 3.6 .3-4.1 .3-1.9 .2 3.8 .3-7.6 .2-1 .3-4.5 .3-3.9 .2 7.1 .3 10.9 .3-.9 .2 3 .3-4.5 .3 6 .2-.8 .3 3.5 .2-3.8 .3-8.3 .3-10.5 .2-6 .3 .8 .3-2.5 .2 15.6 .3 5.1 .3 6.6 .2-.2 .3-.8 .2-5.1 .3 5 .3-6.7 .2 4 .3-.5 .3-3.3 .2-5.3 .3-3.8 .2 .5 .3 1.2 .3-10.7 .2-2.8 .3-.9 .3 2.2 .2-3.3 .3 2.8 .3 3.1 .2 2.9 .3 8.1 .2 8.4 .3 2 .3 .2 .2 1.3 .3-.8 .3 1.1 .2 0 .3 1.7 .3 2.6 .2-8.2 .3-4.1 .2 .4 .3 5.2 .3 7.9 .2-5.4 .3 2.5 .3-2.9 .2 1.1 .3-.1 .3-10.6 .2 1.5 .3 8.1 .2 1.9 .3 1.2 .3-.3 .2-4.3 .3 2.1 .3-4.2 .2 4.5 .3-3.6 .2 5.7 .3-5.3 .3 .3 .2-10 .3 10.2 .3-3 .2-5.1 .3 2.4 .3 9.5 .2-3.9 .3 .9 .2 1.9 .3 1 .3-.2 .2 1.9 .3 .4 .3-2.9 .2 .6 .3 .1 .3 0 .2 .4 .3-.8 .2-2.1 .3-25.7 .3 7.8 .2 19 .3 7 .3-3 .2-.9 .3 .5 .2-2.5 .3 1.8 .3-15.9 .2 10.8 .3 5.5 .3 3.6 .2-2.9 .3-5.3 .3 1.1 .2 2.1 .3 2.5 .2-1 .3 3 .3-5.6 .2-.3 .3 .4 .3 1.2 .2-.7 .3 4.5 .3-2.4 .2-3.7 .3 6.2 .2-5.4 .3-10.9 .3-4.4 .2-7.5 .3 11.7 .3 4.9 .2 5.5 .3 2.8 .3 .5 .2 1.1 .3 1.9 .2-.5 .3 2.2 .3-4.8 .2 1.5 .3-5.2 .3-10.6 .2-13.1 .3 10.8 .2 6.1 .3 3.6 .3-.1 .2 5 .3-4.6 .3 2.1 .2 1.2 .3 .4 .3-4.4 .2-5.4 .3-11.5 .2 7 .3 9.8 .3 2.9 .2 1.3 .3 3.8 .3 1.9 .2-1 .3-4.1 .3 4.5 .2-3.7 .3 1.3 .2 1.7 .3-2.8 .3-.8 .2 4 .3-.9 .3-3.2 .2-1 .3 .3 .2 2.1 .3 .8 .3-5.8 .2-4 .3-7.9 .3-3.3 .2 1 .3 12.1 .3 6.7 .2 3.2 .3 .6 .2-1.9 .3 .7 .3-3.5 .2-1.7 .3 .2 .3 .3 .2-.6 .3-4.5 .3-8.3 .2-.4 .3 10.5 .2 7.9 .3 2.7 .3 1.8 .2 .5 .3-2.3 .3 3.4 .2-4.9 .3-1.1 .2-5.8 .3 1.1 .3-4.4 .2-11.1 .3 12 .3 1.3 .2 7.6 .3-2.1 .3 4.8 .2 3.2 .3-4 .2-1.6 .3-.9 .3 .1 .2-3 .3 4.9 .3 5.1 .2-5 .3 .8 .3-2.7 .2-.4 .3-6.2 .2-5.3 .3-8.6 .3 7.8 .2 5.2 .3 6 .3 1.2 .2 2.2 .3-5.2 .3 1.4 .2 1 .3 1.1 .2 1 .3 3.1 .3-10.1 .2-13.6 .3 6 .3 3.2 .2 7.7 .3-5.7 .2 3.6 .3 4.4 .3-1.3 .2 .4 .3-2.6 .3-5.3 .2 2.4 .3 3.5 .3-3.8 .2-1.4 .3 3.2 .2-3.9 .3-3.3 .3-6.9 .2-3.7 .3 10.3 .3 4 .2 2.2 .3-2.3 .3 3.5 .2-1.1 .3 4.7 .2-4.6 .3-4.6 .3-2.7 .2-5.4 .3 7.5 .3 2.8 .2-1.1 .3 5.2 .2 3.1 .3-2.9 .3-2.3 .2 7.4 .3-2.8 .3 .2 .2-.8 .3 2.7 .3 .6 .2 1.5 .3-.3 .2 2 .3-3.6 .3 1 .2-1.7 .3 .4 .3-1.1 .2-.3 .3 5 .3-11.7 .2 2.2 .3-1.1 .2-.1 .3 3.5 .3-6.5 .2 9.2 .3-3.4 .3 .9 .2 3.1 .3 3.9 .3-3.8 .2 1.1 .3 5.2 .2-1.4 .3-4.4 .3-4.1 .2 .1 .3 1.2 .3 7.3 .2-.4 .3 2.3 .2-3.8 .3 1.2 .3-4.7 .2 2 .3-.5 .3-7 .2-3.2 .3-4 .3-1.8 .2 4.3 .3 .6 .2 2.2 .3 3.2 .3 1.5 .2-.7 .3-2.6 .3-.2 .2-.2 .3 7.2 .3-4.2 .2-.8 .3-.4 .2-1.3 .3-2.6 .3-3.3 .2-15.4 .3 9.9 .3 13.3 .2 6.8 .3 3 .2 1.4 .3-2.4 .3-4.2 .2 3.2 .3 4.6 .3-5.9 .2-6 .3-2.7 .3-17.8 .2 13.9 .3 6.9 .2 6.2 .3-1 .3 4 .2-4.7 .3 5.5" stroke="#5050ff" stroke-width="0.9" stroke-opacity="0.92"/>
<path d="M291.7 832.1l.3-4.2 .2 3.4 .3 .1 .3 3.3 .2 .4 .3-1 .2-7.5 .3-4.2 .3-17.2 .2 11.1 .3 8.4 .3 12.7 .2-1.8 .3 1.2 .3 4.7 .2-1.3 .3 .4 .2-3.3 .3-.3 .3 4 .2-2.1 .3-2.6 .3-2.5 .2-13.5 .3-5 .2 12.9 .3 10.9 .3 1.6 .2-1.7 .3 1.8 .3 .8 .2 5.9 .3-5.4 .3 1.1 .2 1.6 .3-4.1 .2-12.1 .3-16.7 .3 11.1 .2 15.8 .3 7.5 .3 1.9 .2-1.3 .3-1.9 .3 2.3 .2-1 .3-.8 .2-1.2 .3 2.7 .3-5.2 .2-12.2 .3-12.9 .3-13.7 .2 6 .3 0 .2 22.6 .3 12.4 .3 8.9 .2-.7 .3-.1 .3 1.5 .2 2.6 .3-.6 .3-5 .2 3.1 .3-5.4 .2-7.4 .3-9.1 .3-5 .2 15.4 .3 5.8 .3 1.4 .2 1.7 .3-4.1 .3-2.3 .2 3.3 .3 2.9 .2-3.9 .3-.6 .3-9.8 .2-17.9 .3-3.2 .3-3.4 .2 23.4 .3 13.7 .3 5.4 .2-.9 .3 1.5 .2 2.7 .3 .2 .3-4.8 .2-3.5 .3-12.6 .3-.9 .2 13.6 .3 4.2 .2 .9 .3 9.8 .3-9.2 .2 3.3 .3-3.1 .3-2.2 .2 2 .3 3.3 .3-6.2 .2 3.4 .3-3.2 .2-.7 .3-2.4 .3 3.7 .2 2 .3-1.4 .3 1.9 .2-.5 .3-1.2 .3 3.8 .2 1.5 .3-5.1 .2 5 .3-3 .3 4.3 .2-2.3 .3 1.5 .3-5.5 .2-15.4 .3-18.9 .2 11.8 .3 13.7 .3 10 .2 2.2 .3-.4 .3 3.5 .2-3.2 .3 2.6 .3-6.7 .2 2.7 .3-2.6 .2 1.8 .3-8.9 .3 2.1 .2-8.9 .3 6.9 .3 3.3 .2 5 .3 4 .3 4.4 .2-4.6 .3 1 .2 2.3 .3-5.2 .3-.3 .2 2.1 .3-1.1 .3-1.2 .2-4.9 .3-12.1 .3-4.1 .2 2.5 .3 10.7 .2 1.1 .3 2.1 .3 6 .2 7.3 .3-5.9 .3 4.2 .2-4.9 .3 .8 .2 2.2 .3 2.8 .3 0 .2 .7 .3-4.6 .3-1.3 .2-2.5 .3-13.2 .3-8.1 .2-7.5 .3 2.1 .2 15.6 .3 11.2 .3 .1 .2 4.3 .3-1.7 .3 4.1 .2-2 .3-5.3 .3 2.3 .2-.7 .3 3.4 .2-5.5 .3-1.7 .3-7.2 .2-2.4 .3 6.4 .3 16.4 .2-5.5 .3 1.3 .2-1.8 .3 1.7 .3-2.1 .2 10 .3-12.7 .3-12.3 .2 1.9 .3 5.7 .3 7.3 .2 2.8 .3 1.6 .2-5.1 .3 1.6 .3-7.4 .2 1.6 .3-7.4 .3-6.3 .2 9.2 .3 8.4 .3 6 .2-5.5 .3-.9 .2 7 .3-.7 .3-7.3 .2 6.2 .3-2.3 .3 3.2 .2-.6 .3-.1 .2-5.1 .3 3.6 .3 .9 .2-1.3 .3-6.2 .3 1.2 .2-3.1 .3-5.9 .3 2.3 .2-6.5 .3-1.2 .2-6 .3-1.4 .3 13.8 .2 4.5 .3 1.1 .3 3.8 .2-.3 .3 6.5 .3-4.1 .2 4.6 .3-2.9 .2-2.5 .3 2.8 .3 4.2 .2-2.7 .3 .1 .3-6 .2-5.4 .3 3.9 .3 5.2 .2 3.2 .3-1 .2-.3 .3-.2 .3-1.2 .2-2 .3 1.8 .3-1.3 .2 .5 .3-4.9 .2-7.7 .3-11 .3 13.6 .2 4 .3 5.7 .3-4.8 .2 6.7 .3-1.4 .3-.7 .2 3.6 .3-.3 .2-2.4 .3 .6 .3 1.4 .2-3.3 .3-.6 .3-4.2 .2-1.3 .3 8.1 .3 2.2 .2-.3 .3 1.2 .2 1.4 .3-4 .3 .3 .2 3.7 .3-.6 .3-3.7 .2-1.4 .3-2.1 .2 .7 .3-8.8 .3-4.3 .2 6.9 .3 9.9 .3 3 .2 2.8 .3-2.4 .3-.6 .2 5.4 .3-1.1 .2 .5 .3-4.4 .3-.6 .2 2.8 .3-.5 .3-.8 .2-2.3 .3 .8 .3-1.7 .2-4.3 .3-9.3 .2-4.8 .3-7.3 .3-.6 .2-2.8 .3 1.4 .3 6.7 .2 10.5 .3 .1 .3 9.6 .2-2.8 .3 .2 .2 3.5 .3 0 .3-.7 .2-3.4 .3 4.1 .3-4.1 .2 2.7 .3 .2 .2-5 .3 7.4 .3-7.3 .2 3.5 .3-10.9 .3-3.6 .2-2.5 .3 2.6 .3 9.2 .2-3 .3 6 .2 5.6 .3-1.3 .3-1.6 .2 2.6 .3-1.3 .3 1.2 .2 2.1 .3-4.5 .3-17.5 .2 3.7 .3 15.1 .2 6.2 .3-.7 .3 1.7 .2 .7 .3-4.6 .3-.1 .2-14.7 .3-19.2 .2 6.7 .3 11.2 .3 10.8 .2 4.1 .3 .7 .3 0 .2 .8 .3-1 .3-1.5 .2-1.4 .3 .4 .2-10.1 .3-12 .3-.7 .2 5.7 .3 4.8 .3 10.8 .2-.1 .3 3.8 .3 1.8 .2 1 .3-4.3 .2-1.4 .3 4.8 .3 4.5 .2-4.6 .3-2.5 .3 4.4 .2 .2 .3-.2 .3-2.7 .2 .2 .3-4.9 .2-.1 .3-5.1 .3-11.7 .2-9.7 .3 3.8 .3 16.2 .2 14.4 .3-6 .2 6 .3-.9 .3 3.4 .2-4.9 .3 2.5 .3 .5 .2-.5 .3 .6 .3 .1 .2-10.6 .3-3 .2-11.7 .3 4.7 .3 5.7 .2 7.3 .3 3.6 .3-.7 .2 7.5 .3-3.2 .3 4 .2-3.4 .3 4.6 .2-3.1 .3-6.6 .3 7.7 .2-3.6 .3 3.6 .3-3.2 .2 2.3 .3-3.9 .2-6.8 .3-10.3 .3 .4 .2 7 .3 4.7 .3 4.8 .2-.6 .3 1.3 .3 .2 .2-2 .3 2.1 .2 4 .3-3 .3-.1 .2 .8 .3-2.1 .3-1.1 .2 2.4 .3 .4 .3-4.7 .2-4.7 .3-8.3 .2-19.1 .3 16.2 .3 8.4 .2 12.6 .3-.5 .3 6 .2 .3 .3-.6 .3-.1 .2 2.9 .3-3.7 .2-3.9 .3-.7 .3 3.1 .2 .6 .3 2.6 .3-7 .2 1.2 .3 2.9 .2 0 .3-1.2 .3-12.3 .2-2.6 .3-9.7 .3 12.3 .2 7.5 .3 3.1 .3 1.7 .2 .7 .3-4.1 .2 1.7 .3-1.3 .3-11.1 .2-15.8 .3 20.1 .3 5 .2 1.2 .3-.3 .3 .5 .2 2.6 .3-.5 .2-2.9 .3 3.3 .3-5.3 .2-2.5 .3-7.4 .3-3.9 .2-4.4 .3-7.6 .2-.8 .3 0 .3-3.8 .2 10.7 .3 5.4 .3 10.6 .2 4.6 .3 5.7 .3-2.9 .2 1.7 .3 4.7 .2-3.9 .3 .6 .3 .5 .2 3.5 .3-.2 .3-9.5 .2-10.5 .3-8.7 .3 12 .2 2.3 .3 6.1 .2 1.7 .3 1.1 .3-1.8 .2 .8 .3-1.7 .3 2.4 .2 .5 .3-3.9 .2 0 .3-5.5 .3-2 .2-6.5 .3 .7 .3 9 .2-.4 .3 8.1 .3 3.3 .2-1 .3-1.4 .2 6.4 .3-6.4 .3-.9 .2 2.4 .3-4.5 .3-13.2 .2-16.4 .3 10.8 .3 9.1 .2 12.5 .3-1.6 .2-.6 .3 .2 .3 2.7 .2 1.4 .3-4.3 .3-2.6 .2 2.3 .3 3.6 .3-.7 .2 3.4 .3-4.4 .2-1.5 .3-.8 .3-3.8 .2-1.3 .3-6.9 .3-5.6 .2-11.7 .3 3.9 .2-.7 .3 7.5 .3 13.8 .2 6.5 .3-1.3 .3 .5 .2-.9 .3-4.1 .3 4.9 .2-.3 .3 1.8 .2 .4 .3 .3 .3-.7 .2-1.1 .3-5.2 .3-12 .2 4.2 .3 10.2 .3-.6 .2 2.5 .3 5.2 .2-2.6 .3 1.2 .3-1.6 .2 1 .3-.9 .3-16.9 .2-2.2 .3 11.5 .2 7.6 .3-1.3 .3 3.4 .2-.8 .3-.3 .3 1.6 .2-2.4 .3-2 .3-8.4 .2 1.6 .3 .4 .2-.9 .3 4.2 .3-.3 .2 4.6 .3-.3 .3 1.2 .2-.3 .3 1.6 .3-2.5 .2-3.8 .3 3.7 .2-.9 .3 .6 .3 .5 .2 .7 .3-1.3 .3-1.4 .2-.5 .3 4 .3 0 .2 3.8 .3-10 .2-1.4 .3-5.9 .3-5.5 .2-4.2 .3 20.4 .3 4.2 .2-2.2 .3 4.6 .2-15.5 .3 7.3 .3-2.5 .2-2 .3-12.4 .3-3.8 .2 15.2 .3 4.9 .3-1.2 .2 2.8 .3-5 .2 1.9 .3 1.9 .3 2.1 .2-.7 .3 1.1 .3-7.4 .2 2.4 .3-.9 .3 3.8 .2-2.4 .3-7.3 .2-5.6 .3-5.5 .3 3.1 .2 12 .3 6.7 .3 6.7 .2-1.5 .3-1.1 .2-.4 .3 1.8 .3-1.7 .2-2.1 .3 4.3 .3-4.6 .2-10.2 .3-10.7 .3 3.5 .2 11.9 .3 1.6 .2 1.9 .3 3.8 .3-5.3 .2 5.7 .3-7.6" stroke="#800080" stroke-width="0.9" stroke-opacity="0.92"/>
<path d="M291.7 824.1l.3 .9 .2-4.9 .3-8.5 .3-7.4 .2-2.7 .3 17 .2 8.2 .3 3.2 .3 4.7 .2-5.2 .3 1.9 .3-7.6 .2 1.4 .3-14.8 .3 13.8 .2 2.9 .3 4.6 .2 4.1 .3 1 .3-4.2 .2-2 .3 2.9 .3 1.9 .2 .5 .3 4.1 .2-2.7 .3-3.4 .3 4.6 .2 3.5 .3-3.9 .3 5 .2-3.3 .3 9.1 .3-4.8 .2 3.6 .3-2.9 .2-.1 .3-3.4 .3-3 .2-15.7 .3-1.7 .3 22 .2 2.7 .3 .1 .3 8.9 .2-5.7 .3 .1 .2 1.8 .3-6.5 .3-2.2 .2-21.3 .3 12.8 .3 10.3 .2 6.3 .3 2.6 .2-1 .3 1.4 .3-1.8 .2 1.8 .3-.5 .3 1.4 .2-5.1 .3 2.2 .3-3.3 .2 3.5 .3 0 .2-1 .3-4 .3-6.1 .2-2.1 .3-2.5 .3-3.6 .2 6 .3 6.4 .3 3.5 .2-1.6 .3 3.6 .2 4.7 .3-3.7 .3-.7 .2-1.4 .3 1 .3-6.9 .2-8.5 .3-13.4 .3 14.2 .2 11.2 .3 3.4 .2 7.4 .3-.5 .3-2.2 .2 1.3 .3-3.2 .3-2 .2-6.8 .3-1.3 .2-7.2 .3-11.3 .3-.4 .2-1.1 .3 4.7 .3 12.1 .2 .3 .3 6.1 .3 2.1 .2 5.1 .3 .2 .2 1.1 .3 5.1 .3-5.4 .2-1.8 .3 .5 .3 3.4 .2 .5 .3-.6 .3-.5 .2-1.3 .3-1 .2-3.5 .3-8.5 .3-.5 .2 5.8 .3 5.8 .3-.1 .2 5.3 .3-2.7 .2 .1 .3-6 .3 5.9 .2 .7 .3 .9 .3-6.3 .2 7.3 .3-7.6 .3-5.3 .2 5.8 .3-1.4 .2 1 .3 1.9 .3-1.9 .2-4.9 .3 4.8 .3-2.6 .2 4.3 .3-2.8 .3-7.6 .2-5.1 .3 11.1 .2 4.8 .3 3.1 .3 3 .2-1.1 .3 3.7 .3-2.1 .2 5.7 .3-3.7 .3 3.2 .2-1.1 .3 3.2 .2-3.2 .3-.3 .3-1.6 .2-1.1 .3-3.1 .3 1.5 .2-.2 .3-1.2 .2-1.1 .3-.3 .3-1.3 .2-6 .3 1.7 .3-1.7 .2 2.6 .3 1.2 .3 1 .2 4.1 .3 2.4 .2 3.2 .3-3.1 .3 2.3 .2-2.6 .3 2.3 .3-5.1 .2 1.7 .3-4.9 .3-2 .2 5.6 .3-.1 .2 .3 .3-.5 .3 .2 .2 2 .3-4.2 .3 8 .2 1 .3-6.6 .2-9.3 .3 4.1 .3-1.4 .2 10.1 .3-3.8 .3 4.9 .2-.6 .3 2.1 .3-5.1 .2 .9 .3 .6 .2-2.6 .3 1.6 .3-3.5 .2-4.8 .3-3.2 .3-5 .2-.1 .3-2.6 .3 2.6 .2-5.1 .3 4.2 .2 1.9 .3-2.5 .3-1.7 .2 3.2 .3-2.1 .3 8.6 .2 5.1 .3 2 .2 3.8 .3 5.3 .3 1.5 .2-2.1 .3 4.5 .3-5.6 .2-.7 .3 2.5 .3 1 .2-5.7 .3-.5 .2-1 .3 .3 .3-2 .2-3.9 .3 11.6 .3-2.8 .2 2.5 .3 .5 .3-.1 .2 2.8 .3 .5 .2-3.5 .3-1.7 .3-2.6 .2-10.6 .3 1.6 .3 5.8 .2 6.8 .3 3 .3 0 .2-1.9 .3-.4 .2 2.8 .3-1.3 .3-.2 .2-1.5 .3-8.4 .3 .4 .2-1.3 .3-2.5 .2 5.5 .3-2.6 .3 3.5 .2 .4 .3-2.6 .3 3.4 .2 3.5 .3-3 .3 2.5 .2 .5 .3-2.7 .2 .8 .3-2 .3 1.6 .2-.8 .3-2.8 .3-6.7 .2-4.8 .3 11.1 .3 .5 .2 2.7 .3 4.4 .2-4.2 .3 .1 .3 1.3 .2-.5 .3-3.2 .3-4.5 .2-1 .3-1 .2 11.3 .3 2 .3-.8 .2 .5 .3 .5 .3 2.4 .2-2.2 .3-2.2 .3 3.9 .2-7.8 .3 4.1 .2-3.4 .3 2 .3 3.4 .2-3 .3-1.1 .3 4.7 .2-8.2 .3 3.1 .3 .4 .2 1.7 .3-4.9 .2-1.1 .3 .6 .3-4.6 .2-8.3 .3-2.4 .3 3.2 .2-2.7 .3 3.2 .3-8 .2 8 .3-.3 .2 7.8 .3 3.4 .3 4.3 .2-.7 .3 1.9 .3 .5 .2 2.6 .3-1.7 .2 3.4 .3-.9 .3-.9 .2-.7 .3 .9 .3-12 .2 3.5 .3 8.3 .3-3 .2-.9 .3-1 .2 5 .3-8.6 .3-13.5 .2 8.5 .3 6.9 .3 1.9 .2 8.8 .3-7.9 .3 7.9 .2-6 .3 1.9 .2 1.8 .3-3.9 .3-1.9 .2-.1 .3-3.3 .3-4.2 .2-2.9 .3 5.1 .2-1 .3 1.4 .3 3.9 .2 2.4 .3-.9 .3-2.1 .2 1.5 .3 3.2 .3-5.3 .2 5.2 .3-1.1 .2 .3 .3 0 .3-6.1 .2-16.1 .3-3.2 .3 21.9 .2 5.2 .3-1.1 .3 2 .2-2 .3-3.1 .2 2.9 .3 .5 .3-2.3 .2-4.2 .3 .7 .3-4.3 .2 7.4 .3-6.2 .3 .5 .2 1.8 .3 8.1 .2-4 .3 .9 .3 .2 .2 1.4 .3 1.3 .3 4.9 .2-1 .3 1 .2 1.3 .3-1.5 .3 4.4 .2-3.9 .3 .9 .3 1.1 .2-2.7 .3 .8 .3-3.2 .2 4.3 .3-4.7 .2-1.3 .3-4.6 .3-7.9 .2-9.6 .3 .4 .3 4.7 .2 10.2 .3 7.5 .3-3.5 .2 4.1 .3 .3 .2-1.7 .3 .3 .3 1.1 .2 2.8 .3-.6 .3 2.4 .2-3.5 .3-1 .2-2.2 .3-6.3 .3-11.9 .2 10.9 .3 5 .3 4.1 .2 2.2 .3 4.4 .3-8.5 .2 3.2 .3 3.5 .2-1.1 .3-4.6 .3 1.7 .2-4.1 .3 4 .3-4.7 .2 4.3 .3 .3 .3-11.2 .2-1.3 .3 5.9 .2-.6 .3 5.7 .3 4.5 .2-5.7 .3 7.4 .3-3.9 .2 5.2 .3-3.7 .3 5.8 .2 .5 .3-4.5 .2 .7 .3-.5 .3-.5 .2-8.9 .3 3.7 .3 2.6 .2-1.5 .3 4.9 .2-.4 .3 .5 .3-3.6 .2-8.3 .3-8 .3 10.1 .2 6 .3 3.4 .3 3.5 .2-3.4 .3 1 .2-.6 .3-1.3 .3-.3 .2 2.9 .3-4 .3-4.7 .2 6.2 .3-2 .3 2.8 .2-5.1 .3 1.7 .2 2 .3-10.7 .3 3.4 .2-6.2 .3-9.1 .3-.9 .2 4.8 .3 12.6 .2 4.1 .3 5.6 .3 2.4 .2 .4 .3-5.6 .3 2.1 .2-.4 .3-5 .3-5.1 .2-1.9 .3 5 .2 4.9 .3 4.9 .3-2.5 .2 3.8 .3-.6 .3-5.3 .2 3.7 .3 .9 .3-3.5 .2 2.6 .3-3.1 .2-6.9 .3-.4 .3-6.6 .2-1.2 .3-3.3 .3 6.4 .2 6.6 .3 2.6 .2-3.5 .3 1.6 .3-8.3 .2-1.7 .3 1.4 .3 4.3 .2 3.1 .3-.3 .3 7.8 .2 1.6 .3 1.2 .2 1.6 .3-2.6 .3-1.1 .2-.1 .3 4.8 .3-7.4 .2-6.6 .3-12.3 .3 3.7 .2 8.9 .3 1.8 .2 2.6 .3 .3 .3 .5 .2-7.8 .3 3.4 .3-2.7 .2-2.6 .3-.3 .3-8 .2 6.7 .3 8 .2 3.8 .3 4.4 .3-2.6 .2 .2 .3-.9 .3-1.2 .2 2.1 .3-2.1 .2 6.7 .3-6.2 .3 0 .2-3.6 .3-1.2 .3 6.8 .2-4 .3-.9 .3-4.7 .2-4 .3 1 .2 .5 .3 2.9 .3 .3 .2 2.7 .3 .8 .3 6.2 .2-1.5 .3-7 .3 1.7 .2 .1 .3-4.2 .2-1 .3-7.6 .3 9.3 .2 7.2 .3-2.4 .3 1.2 .2 4.8 .3-5.5 .2 2.9 .3-6.2 .3 5 .2 1.8 .3-.2 .3-.4 .2 1.5 .3 .2 .3-1.2 .2-1.1 .3-1.1 .2-1 .3 5.1 .3-7.5 .2 2.5 .3-4 .3-2.9 .2-13.5 .3-.8 .3 12 .2 7.6 .3 .9 .2-2.3 .3 1.1 .3 .7 .2 3 .3-2.6 .3 .3 .2 3.8 .3-4.2 .3 1.7 .2-2.8 .3-5.4 .2 7.5 .3-6.8 .3 .2 .2 .2 .3 5.3 .3 0 .2 2.7 .3 .7 .2 8.2 .3-10.4 .3 7.1 .2-4.4 .3-.6 .3 1.6 .2 4 .3-.7 .3-1.7 .2-.6 .3 2.4 .2-1.2 .3-1.5 .3 .5 .2-7.8 .3-12.1 .3 1.2 .2 14.8 .3-.6 .3 2.4 .2-1.5 .3 1 .2-1.9 .3-6.5 .3-11.6 .2 19 .3-2.7 .3 6.8 .2 2 .3-1.4 .2-1.7 .3-3 .3-.1 .2-6.8 .3 2.1 .3 6.2 .2 2.6 .3-.1 .3 1.3 .2-2.7 .3 4.5 .2 .1 .3-1.6 .3-1.5 .2-3.6 .3-3.7" stroke="#800000" stroke-width="0.9" stroke-opacity="0.92"/>
<path d="M291.7 836.1l.3 2.7 .2-.4 .3-5.7 .3-6.5 .2-1.3 .3-13.9 .2 3.3 .3-1.5 .3 5.7 .2 14.3 .3 4.3 .3 5.6 .2-3.6 .3 1.3 .3 1.6 .2 .2 .3 0 .2 .9 .3-1.3 .3-9.6 .2-14.3 .3 12.2 .3 11.3 .2 .8 .3 3.3 .2-4.4 .3 6.2 .3-3.1 .2 .3 .3-6.8 .3 1.8 .2 4.7 .3 2.3 .3-.3 .2 3.1 .3 2.7 .2-7.2 .3 6 .3 2.4 .2-3.1 .3-.5 .3 .8 .2 1.4 .3 1.8 .3-11.1 .2 7.2 .3-4 .2-5 .3-4.9 .3 5.8 .2 4.3 .3 .4 .3 3.2 .2-.3 .3 4.4 .2-4.7 .3-1.6 .3 1.7 .2-3.6 .3-6.8 .3-6.9 .2 6.5 .3 5.4 .3 5.6 .2 3.7 .3 3.5 .2-.9 .3-1.5 .3 2.3 .2-1 .3-1.1 .3 .9 .2-1.6 .3 3.9 .3-3.6 .2-8.1 .3-5.4 .2 4.6 .3 10.2 .3 .4 .2 3.7 .3-4.5 .3 4.9 .2 1.9 .3-4 .3 4.5 .2-13.6 .3 1.1 .2-11.4 .3 13.6 .3 6.4 .2 3.5 .3-1.6 .3 2.5 .2 1.9 .3-3.2 .2 2.4 .3-1.6 .3-1.3 .2 2.1 .3-2.4 .3-.4 .2 3.8 .3-4.1 .3-2 .2 3.4 .3-4.2 .2-9.7 .3-3.9 .3-6.9 .2 16.8 .3 7.6 .3 4.6 .2-1 .3 .7 .3 .4 .2-3.1 .3 1.4 .2-1.7 .3-7.2 .3-8.3 .2 9.1 .3 2.3 .3 7.8 .2-3.6 .3 1.1 .2 1.2 .3-2.3 .3-3.9 .2 .6 .3 1.7 .3-1.9 .2 1.6 .3-2.4 .3-4.4 .2 .8 .3 3 .2-4.3 .3 7.6 .3-5 .2 6.3 .3 2.4 .3-.5 .2-.3 .3 1.9 .3 2.5 .2-4.7 .3 .8 .2-.4 .3-9 .3-17.5 .2 12.9 .3 10.5 .3 6.5 .2-3.8 .3 1.2 .3 1.7 .2 .3 .3-1 .2-10.6 .3 .4 .3-.7 .2-6.5 .3 9.6 .3 4.1 .2 2.8 .3 .6 .2-2.5 .3 .6 .3-1.1 .2 4.1 .3-4.4 .3-5.4 .2 3.8 .3-2.5 .3-3.7 .2-.5 .3-1 .2-.1 .3 1.3 .3 .2 .2 2.3 .3 3.5 .3 .4 .2-4.3 .3 .5 .3 5.5 .2 .2 .3 2.2 .2 3.1 .3-2.8 .3-1.1 .2-4.6 .3-10.4 .3-6.1 .2 3 .3 7.4 .2 10.7 .3 4.5 .3 0 .2-4.1 .3 .4 .3 3 .2 0 .3-.6 .3-7 .2-14.2 .3 11.8 .2 7.1 .3-6.4 .3 4.8 .2-.5 .3-.5 .3-1 .2-1.2 .3 .9 .3-4.7 .2-4.9 .3-2.1 .2 5.5 .3 6.5 .3 2.8 .2 .9 .3 5.1 .3-3 .2 2.6 .3 1.2 .2 5.2 .3-3.6 .3-4.1 .2 .7 .3 .2 .3 2.9 .2 .2 .3-.2 .3-4.4 .2-.7 .3-7.9 .2 2.1 .3 6.6 .3-4.5 .2 .3 .3 1 .3 2 .2 .6 .3 1.8 .3-3 .2 1.6 .3-.9 .2 .2 .3-.7 .3-2.2 .2-2.1 .3-8.4 .3 .8 .2 9.6 .3-5.6 .3 6.1 .2 3.7 .3-2.9 .2 .9 .3 .6 .3-6.3 .2-6.1 .3 8.4 .3 6.3 .2 .2 .3 5.1 .2-5.8 .3-2.7 .3-3.9 .2-11.1 .3 2.1 .3 9.2 .2 2.6 .3 3 .3-.7 .2 4.5 .3-.7 .2-5.5 .3 3.6 .3-2.2 .2 .9 .3-2.2 .3 6.6 .2-3.3 .3 2.2 .3 1.3 .2-4 .3-1.2 .2 .9 .3 2.9 .3-3.4 .2-.4 .3-4.6 .3-3.9 .2-8.6 .3-3.6 .2 2.8 .3 11.8 .3 4.9 .2 .3 .3 3.7 .3 1.8 .2-3.8 .3 3.8 .3-5.7 .2 3.9 .3-3.3 .2 4.3 .3-3.9 .3 5.4 .2 .3 .3-7.6 .3 8.8 .2-1.7 .3-1.5 .3 3.5 .2-4.6 .3 2.4 .2-3.4 .3 1.5 .3-5.9 .2 8.1 .3-9.1 .3 6 .2-5.1 .3-3.3 .3-8.5 .2-4.3 .3 8.5 .2 6.9 .3-1.1 .3 6 .2-.5 .3 .4 .3 1 .2-2 .3-1.4 .2-2 .3-14.5 .3 .8 .2 7.5 .3 13.4 .3-4.9 .2 3.5 .3 .6 .3-2.5 .2 5.1 .3-1.9 .2-4.2 .3 3.6 .3-13.4 .2-9 .3 4.3 .3 10.4 .2 1.9 .3 7.1 .3 .5 .2-4.3 .3 .8 .2 2.2 .3-1.5 .3 5.9 .2-7.3 .3-2.3 .3 .2 .2-.5 .3-.9 .2 8.3 .3-4 .3 7.2 .2-5.3 .3 4.2 .3-5.4 .2 1.6 .3 1.8 .3-.5 .2 .2 .3 .8 .2 .5 .3-3.7 .3-4.9 .2-6.8 .3-8.6 .3-.8 .2-2.9 .3 7.8 .3 10.8 .2 4.9 .3 4.9 .2-.3 .3-2.1 .3 4.8 .2-4.1 .3-3.4 .3-20.3 .2 8 .3 12.3 .3 1.7 .2-.9 .3 3.4 .2 6.9 .3-6.2 .3-7 .2-6.4 .3-12 .3 11.2 .2 4.6 .3 4.1 .2 3 .3-2.6 .3 5.7 .2-8 .3 4.9 .3-3.1 .2 3.3 .3 3.1 .3-3.8 .2 6.3 .3-3.7 .2 4.6 .3 4.1 .3-3 .2 3.1 .3-2 .3 3.9 .2-3.7 .3 .1 .3-9.3 .2-7.3 .3-15.1 .2 13 .3 8.4 .3 1.3 .2 5.2 .3-5.5 .3 4.6 .2-1.4 .3-1.5 .2-4.3 .3-6.6 .3-4.2 .2 10.4 .3 7.3 .3-3.5 .2 3.3 .3-5.5 .3 3.6 .2-2.6 .3-7 .2-9.9 .3 10.9 .3 .8 .2 11.3 .3-7.8 .3 4.1 .2-.5 .3 3.9 .3-.1 .2-1.6 .3 2 .2 .2 .3-.5 .3-2.3 .2 .1 .3-3.9 .3-7.5 .2-4.9 .3-13 .3-.4 .2 4.7 .3 .3 .2 10.6 .3 10.6 .3 2.5 .2 .3 .3 2.3 .3-2.2 .2-3.3 .3 2.8 .2-5.7 .3-4.3 .3-2.4 .2-4.3 .3 7.9 .3 8 .2 1.3 .3 .8 .3 1.9 .2-4.2 .3 2.5 .2-1.4 .3 2.7 .3 1.1 .2-3.5 .3-1 .3 3.7 .2-4.1 .3-3.3 .3-1.3 .2-5.6 .3-13.5 .2 11.4 .3 3.6 .3 3.2 .2 4.1 .3 2.4 .3 3.5 .2-3.9 .3 1.4 .2 3.3 .3-3.3 .3 3.4 .2 .1 .3-.4 .3-8.2 .2-16.3 .3 4.8 .3 8.1 .2 6.1 .3 9.4 .2-4.7 .3 .5 .3-1.5 .2-2.5 .3 1.8 .3 3.6 .2 .3 .3-3.7 .3-10.3 .2-11.2 .3 12.7 .2 5.6 .3 11.8 .3 2.1 .2-3.2 .3-2.9 .3 3.8 .2-5.8 .3-2 .2 1.5 .3-16.6 .3 9.6 .2 6.3 .3 2.8 .3 2.7 .2-4.3 .3 .1 .3 1.8 .2-1.5 .3 2.9 .2-4.2 .3-4.9 .3-6.1 .2 5.1 .3 7.3 .3-3.3 .2 1.7 .3-2.1 .3 .8 .2-1.7 .3 4.5 .2-2.8 .3 2 .3-1.9 .2 .4 .3-.8 .3-2 .2-3.7 .3 1.4 .3-1 .2-6 .3 5.2 .2 .7 .3-.2 .3 2.2 .2 2.2 .3 5.9 .3-7.6 .2 7.6 .3-1.1 .2 .6 .3-3.4 .3 .4 .2 2.4 .3-.4 .3-1.4 .2-2.8 .3-4.6 .3-6.7 .2 10.4 .3 4.9 .2 2 .3-3.2 .3-1.7 .2 .3 .3-2.6 .3 1.3 .2-4.7 .3-3 .3-9.6 .2 2.8 .3 11.1 .2-2.4 .3 7.9 .3-5.3 .2 2.5 .3 5.4 .3-1.8 .2 2.1 .3-1.1 .2-1.6 .3 1.1 .3 .2 .2-2.1 .3-.3 .3-1.5 .2-3.9 .3 .3 .3-8.2 .2-1.5 .3-1.4 .2 12.8 .3 8.9 .3 2.8 .2-1.2 .3 1 .3-2.2 .2 2.8 .3-.3 .3-5 .2-12 .3 2 .2 6.6 .3 6.5 .3-1.6 .2 3.1 .3-2.4 .3 .3 .2-2.1 .3-2.3 .3-1.9 .2 2 .3-6.1 .2-1.3 .3 5.6 .3 .8 .2 .8 .3 1.1 .3-1.3 .2 5.8 .3 .5 .2-9.5 .3 .9 .3-.1 .2 3.3 .3-1.9 .3 .9 .2-1.4 .3-6.8 .3 2.9 .2 2.3 .3 3.4 .2 4.4 .3-2.9 .3-2.1 .2 5 .3-7.7 .3 3.2 .2 .8 .3 2.4 .3-4 .2-2.2 .3-1.7 .2 4.2 .3-4.8 .3 3.9 .2-.2 .3-.4 .3 4.3 .2-10.5 .3-7.4 .2 2.8 .3 6.4 .3 1 .2 .2 .3-.9 .3 5.7 .2 4 .3-2.3 .3-4.2 .2 4.9 .3-6.8 .2-10.6 .3-4.2 .3 3.8 .2 13 .3 4.1" stroke="#0000ff" stroke-width="0.9" stroke-opacity="0.92"/>
</g>
<text x="291.5" y="926.7" font-size="10" text-anchor="middle" fill="#4a4a4a">0</text>
<text x="475.2" y="926.7" font-size="10" text-anchor="middle" fill="#4a4a4a">2000</text>
<text x="368.2" y="935.3" font-size="10.1" text-anchor="middle" fill="#4a4a4a">Frequency (MHz)</text>
<text transform="translate(264.9 835.0) rotate(-90)" font-size="10.1" text-anchor="middle" fill="#4a4a4a">Magnitude (dB)</text>
</g>
<g id="c6">
<text x="610.4" y="747.7" font-size="15.2" font-weight="bold" text-anchor="middle" fill="#000">ACRN</text>
<rect x="533.5" y="757.4" width="177.8" height="154.8" fill="#fff" stroke="#a0a0a0" stroke-width="1.3"/>
<line x1="527.9" y1="912.3" x2="534.0" y2="912.3" stroke="#1a1a1a" stroke-width="1.8"/>
<text x="525.0" y="915.5" font-size="10" text-anchor="end" fill="#4a4a4a">0</text>
<line x1="533.5" y1="886.5" x2="711.3" y2="886.5" stroke="#3a3a3a" stroke-width="1"/>
<line x1="527.9" y1="886.5" x2="534.0" y2="886.5" stroke="#1a1a1a" stroke-width="1.8"/>
<text x="525.0" y="889.7" font-size="10" text-anchor="end" fill="#4a4a4a">20</text>
<line x1="533.5" y1="860.5" x2="711.3" y2="860.5" stroke="#3a3a3a" stroke-width="1"/>
<line x1="527.9" y1="860.7" x2="534.0" y2="860.7" stroke="#1a1a1a" stroke-width="1.8"/>
<text x="525.0" y="863.9" font-size="10" text-anchor="end" fill="#4a4a4a">40</text>
<line x1="533.5" y1="834.5" x2="711.3" y2="834.5" stroke="#3a3a3a" stroke-width="1"/>
<line x1="527.9" y1="834.9" x2="534.0" y2="834.9" stroke="#1a1a1a" stroke-width="1.8"/>
<text x="525.0" y="838.1" font-size="10" text-anchor="end" fill="#4a4a4a">60</text>
<line x1="533.5" y1="809.5" x2="711.3" y2="809.5" stroke="#3a3a3a" stroke-width="1"/>
<line x1="527.9" y1="809.1" x2="534.0" y2="809.1" stroke="#1a1a1a" stroke-width="1.8"/>
<text x="525.0" y="812.3" font-size="10" text-anchor="end" fill="#4a4a4a">80</text>
<line x1="533.5" y1="783.5" x2="711.3" y2="783.5" stroke="#3a3a3a" stroke-width="1"/>
<line x1="527.9" y1="783.3" x2="534.0" y2="783.3" stroke="#1a1a1a" stroke-width="1.8"/>
<text x="525.0" y="786.5" font-size="10" text-anchor="end" fill="#4a4a4a">100</text>
<line x1="527.9" y1="757.5" x2="534.0" y2="757.5" stroke="#1a1a1a" stroke-width="1.8"/>
<text x="525.0" y="760.7" font-size="10" text-anchor="end" fill="#4a4a4a">120</text>
<line x1="533.5" y1="757.4" x2="533.5" y2="912.2" stroke="#6a6a6a" stroke-width="1.1"/>
<clipPath id="c6c"><rect x="533.5" y="757.4" width="178.4" height="155.4"/></clipPath>
<g clip-path="url(#c6c)" fill="none" stroke-linejoin="round">
<linearGradient id="pg10" gradientUnits="userSpaceOnUse" x1="533.5" x2="569.1" y1="0" y2="0"><stop offset="0" stop-color="#ffff60" stop-opacity="0.95"/><stop offset="0.4" stop-color="#ffff60" stop-opacity="0.8"/><stop offset="0.75" stop-color="#ffff60" stop-opacity="0.25"/><stop offset="1" stop-color="#ffff60" stop-opacity="0"/></linearGradient>
<linearGradient id="pg11" gradientUnits="userSpaceOnUse" x1="533.5" x2="569.1" y1="0" y2="0"><stop offset="0" stop-color="#d0f2a8" stop-opacity="0.95"/><stop offset="0.4" stop-color="#d0f2a8" stop-opacity="0.8"/><stop offset="0.75" stop-color="#d0f2a8" stop-opacity="0.25"/><stop offset="1" stop-color="#d0f2a8" stop-opacity="0"/></linearGradient>
<linearGradient id="pg12" gradientUnits="userSpaceOnUse" x1="533.5" x2="569.1" y1="0" y2="0"><stop offset="0" stop-color="#bafafa" stop-opacity="0.95"/><stop offset="0.4" stop-color="#bafafa" stop-opacity="0.8"/><stop offset="0.75" stop-color="#bafafa" stop-opacity="0.25"/><stop offset="1" stop-color="#bafafa" stop-opacity="0"/></linearGradient>
<polygon points="533.5,761.7 533.7,770.5 533.9,778.2 534.1,783.0 534.2,785.5 534.4,787.5 534.6,789.2 534.8,790.8 535.0,792.2 535.2,793.6 535.3,794.8 535.5,796.1 535.7,797.2 535.9,798.3 536.1,799.4 536.3,800.4 536.4,801.4 536.6,802.4 536.8,803.3 537.0,804.1 537.2,804.8 537.4,805.5 537.5,806.1 537.7,806.6 537.9,807.1 538.1,807.7 538.3,808.2 538.5,808.7 538.7,809.2 538.8,809.8 539.1,810.6 539.5,811.6 540.0,812.7 540.4,813.9 540.8,815.1 541.3,816.2 541.7,817.3 542.1,818.2 542.6,819.2 543.0,820.0 543.4,820.9 543.8,821.8 544.3,822.6 544.7,823.4 545.1,824.2 545.6,825.0 546.0,825.8 546.4,826.5 546.9,827.3 547.3,828.0 547.7,828.7 548.2,829.5 548.6,830.2 549.0,830.9 549.5,831.5 549.9,832.2 550.3,832.9 550.8,833.5 551.2,834.2 551.6,834.7 552.0,835.2 552.5,835.5 552.9,835.8 553.3,836.1 553.8,836.3 554.2,836.6 554.6,836.9 555.1,837.1 555.5,837.4 555.9,837.7 556.4,837.9 556.8,838.2 557.2,838.4 557.7,838.7 558.1,838.9 558.5,839.2 559.0,839.4 559.4,839.7 559.8,839.9 560.2,840.1 560.7,840.4 561.1,840.6 561.5,840.9 562.0,841.1 562.4,841.3 562.8,841.5 563.3,841.8 563.7,842.0 564.1,842.2 564.6,842.3 565.0,842.5 565.4,842.7 565.9,842.8 566.3,843.0 566.7,843.2 567.2,843.3 567.6,843.5 568.0,843.7 568.4,843.8 568.9,844.0 569.3,844.2 569.7,844.3 570.2,844.5 570.6,844.6 570.6,857.9 570.2,857.6 569.7,857.3 569.3,857.0 568.9,856.7 568.4,856.3 568.0,856.0 567.6,855.7 567.2,855.4 566.7,855.1 566.3,854.8 565.9,854.4 565.4,854.1 565.0,853.8 564.6,853.5 564.1,853.1 563.7,852.8 563.3,852.5 562.8,852.1 562.4,851.8 562.0,851.4 561.5,851.1 561.1,850.8 560.7,850.4 560.2,850.1 559.8,849.9 559.4,849.7 559.0,849.5 558.5,849.3 558.1,849.1 557.7,848.9 557.2,848.7 556.8,848.5 556.4,848.3 555.9,848.1 555.5,847.9 555.1,847.7 554.6,847.4 554.2,847.2 553.8,847.0 553.3,846.8 552.9,846.6 552.5,846.4 552.0,846.1 551.6,845.8 551.2,845.5 550.8,845.1 550.3,844.6 549.9,844.2 549.5,843.8 549.0,843.3 548.6,842.9 548.2,842.4 547.7,842.0 547.3,841.5 546.9,841.0 546.4,840.5 546.0,840.0 545.6,839.5 545.1,839.0 544.7,838.5 544.3,838.0 543.8,837.4 543.4,836.9 543.0,836.3 542.6,835.6 542.1,834.8 541.7,834.0 541.3,833.0 540.8,832.0 540.4,831.0 540.0,830.0 539.5,829.1 539.1,828.3 538.8,827.7 538.7,827.2 538.5,826.8 538.3,826.3 538.1,825.8 537.9,825.3 537.7,824.7 537.5,824.1 537.4,823.4 537.2,822.6 537.0,821.9 536.8,821.1 536.6,820.3 536.4,819.5 536.3,818.7 536.1,817.8 535.9,816.9 535.7,816.0 535.5,815.1 535.3,814.0 535.2,813.0 535.0,811.8 534.8,810.6 534.6,809.3 534.4,807.9 534.2,806.3 534.1,804.3 533.9,801.9 533.7,799.1 533.5,796.1" fill="url(#pg10)" fill-opacity="1.0" stroke="none"/>
<polygon points="533.5,796.1 533.7,799.1 533.9,801.9 534.1,804.3 534.2,806.3 534.4,807.9 534.6,809.3 534.8,810.6 535.0,811.8 535.2,813.0 535.3,814.0 535.5,815.1 535.7,816.0 535.9,816.9 536.1,817.8 536.3,818.7 536.4,819.5 536.6,820.3 536.8,821.1 537.0,821.9 537.2,822.6 537.4,823.4 537.5,824.1 537.7,824.7 537.9,825.3 538.1,825.8 538.3,826.3 538.5,826.8 538.7,827.2 538.8,827.7 539.1,828.3 539.5,829.1 540.0,830.0 540.4,831.0 540.8,832.0 541.3,833.0 541.7,834.0 542.1,834.8 542.6,835.6 543.0,836.3 543.4,836.9 543.8,837.4 544.3,838.0 544.7,838.5 545.1,839.0 545.6,839.5 546.0,840.0 546.4,840.5 546.9,841.0 547.3,841.5 547.7,842.0 548.2,842.4 548.6,842.9 549.0,843.3 549.5,843.8 549.9,844.2 550.3,844.6 550.8,845.1 551.2,845.5 551.6,845.8 552.0,846.1 552.5,846.4 552.9,846.6 553.3,846.8 553.8,847.0 554.2,847.2 554.6,847.4 555.1,847.7 555.5,847.9 555.9,848.1 556.4,848.3 556.8,848.5 557.2,848.7 557.7,848.9 558.1,849.1 558.5,849.3 559.0,849.5 559.4,849.7 559.8,849.9 560.2,850.1 560.7,850.4 561.1,850.8 561.5,851.1 562.0,851.4 562.4,851.8 562.8,852.1 563.3,852.5 563.7,852.8 564.1,853.1 564.6,853.5 565.0,853.8 565.4,854.1 565.9,854.4 566.3,854.8 566.7,855.1 567.2,855.4 567.6,855.7 568.0,856.0 568.4,856.3 568.9,856.7 569.3,857.0 569.7,857.3 570.2,857.6 570.6,857.9 570.6,869.9 570.2,869.7 569.7,869.5 569.3,869.3 568.9,869.1 568.4,868.8 568.0,868.6 567.6,868.4 567.2,868.2 566.7,867.9 566.3,867.7 565.9,867.5 565.4,867.2 565.0,867.0 564.6,866.8 564.1,866.5 563.7,866.3 563.3,866.1 562.8,865.8 562.4,865.6 562.0,865.3 561.5,865.1 561.1,864.9 560.7,864.6 560.2,864.4 559.8,864.1 559.4,863.8 559.0,863.6 558.5,863.3 558.1,863.1 557.7,862.8 557.2,862.5 556.8,862.3 556.4,862.0 555.9,861.7 555.5,861.5 555.1,861.2 554.6,860.9 554.2,860.6 553.8,860.3 553.3,860.1 552.9,859.8 552.5,859.5 552.0,859.2 551.6,858.8 551.2,858.3 550.8,857.9 550.3,857.4 549.9,856.9 549.5,856.3 549.0,855.8 548.6,855.3 548.2,854.7 547.7,854.2 547.3,853.6 546.9,853.0 546.4,852.4 546.0,851.9 545.6,851.3 545.1,850.7 544.7,850.0 544.3,849.4 543.8,848.8 543.4,848.1 543.0,847.4 542.6,846.6 542.1,845.8 541.7,844.8 541.3,843.9 540.8,842.8 540.4,841.7 540.0,840.7 539.5,839.7 539.1,838.8 538.8,838.2 538.7,837.6 538.5,837.2 538.3,836.7 538.1,836.2 537.9,835.6 537.7,835.0 537.5,834.3 537.4,833.5 537.2,832.7 537.0,831.9 536.8,831.1 536.6,830.2 536.4,829.4 536.3,828.5 536.1,827.5 535.9,826.6 535.7,825.6 535.5,824.5 535.3,823.4 535.2,822.3 535.0,821.1 534.8,819.8 534.6,818.3 534.4,816.8 534.2,815.1 534.1,812.9 533.9,810.3 533.7,807.3 533.5,804.1" fill="url(#pg11)" fill-opacity="1.0" stroke="none"/>
<polygon points="533.5,804.1 533.7,807.3 533.9,810.3 534.1,812.9 534.2,815.1 534.4,816.8 534.6,818.3 534.8,819.8 535.0,821.1 535.2,822.3 535.3,823.4 535.5,824.5 535.7,825.6 535.9,826.6 536.1,827.5 536.3,828.5 536.4,829.4 536.6,830.2 536.8,831.1 537.0,831.9 537.2,832.7 537.4,833.5 537.5,834.3 537.7,835.0 537.9,835.6 538.1,836.2 538.3,836.7 538.5,837.2 538.7,837.6 538.8,838.2 539.1,838.8 539.5,839.7 540.0,840.7 540.4,841.7 540.8,842.8 541.3,843.9 541.7,844.8 542.1,845.8 542.6,846.6 543.0,847.4 543.4,848.1 543.8,848.8 544.3,849.4 544.7,850.0 545.1,850.7 545.6,851.3 546.0,851.9 546.4,852.4 546.9,853.0 547.3,853.6 547.7,854.2 548.2,854.7 548.6,855.3 549.0,855.8 549.5,856.3 549.9,856.9 550.3,857.4 550.8,857.9 551.2,858.3 551.6,858.8 552.0,859.2 552.5,859.5 552.9,859.8 553.3,860.1 553.8,860.3 554.2,860.6 554.6,860.9 555.1,861.2 555.5,861.5 555.9,861.7 556.4,862.0 556.8,862.3 557.2,862.5 557.7,862.8 558.1,863.1 558.5,863.3 559.0,863.6 559.4,863.8 559.8,864.1 560.2,864.4 560.7,864.6 561.1,864.9 561.5,865.1 562.0,865.3 562.4,865.6 562.8,865.8 563.3,866.1 563.7,866.3 564.1,866.5 564.6,866.8 565.0,867.0 565.4,867.2 565.9,867.5 566.3,867.7 566.7,867.9 567.2,868.2 567.6,868.4 568.0,868.6 568.4,868.8 568.9,869.1 569.3,869.3 569.7,869.5 570.2,869.7 570.6,869.9 570.6,876.5 570.2,876.4 569.7,876.2 569.3,876.0 568.9,875.8 568.4,875.6 568.0,875.5 567.6,875.3 567.2,875.1 566.7,874.9 566.3,874.7 565.9,874.5 565.4,874.3 565.0,874.1 564.6,873.9 564.1,873.8 563.7,873.6 563.3,873.4 562.8,873.2 562.4,873.0 562.0,872.8 561.5,872.6 561.1,872.4 560.7,872.2 560.2,872.0 559.8,871.7 559.4,871.5 559.0,871.3 558.5,871.1 558.1,870.9 557.7,870.6 557.2,870.4 556.8,870.2 556.4,869.9 555.9,869.7 555.5,869.5 555.1,869.2 554.6,869.0 554.2,868.7 553.8,868.5 553.3,868.3 552.9,868.0 552.5,867.7 552.0,867.5 551.6,867.1 551.2,866.8 550.8,866.3 550.3,865.9 549.9,865.4 549.5,864.9 549.0,864.5 548.6,864.0 548.2,863.5 547.7,863.0 547.3,862.5 546.9,862.0 546.4,861.5 546.0,861.0 545.6,860.4 545.1,859.9 544.7,859.3 544.3,858.8 543.8,858.2 543.4,857.6 543.0,857.0 542.6,856.3 542.1,855.5 541.7,854.6 541.3,853.7 540.8,852.7 540.4,851.7 540.0,850.7 539.5,849.8 539.1,849.0 538.8,848.3 538.7,847.8 538.5,847.4 538.3,847.0 538.1,846.5 537.9,845.9 537.7,845.3 537.5,844.6 537.4,843.8 537.2,843.0 537.0,842.2 536.8,841.4 536.6,840.6 536.4,839.7 536.3,838.8 536.1,837.9 535.9,836.9 535.7,835.9 535.5,834.8 535.3,833.8 535.2,832.6 535.0,831.4 534.8,830.1 534.6,828.7 534.4,827.1 534.2,825.4 534.1,823.3 533.9,820.6 533.7,817.6 533.5,814.4" fill="url(#pg12)" fill-opacity="1.0" stroke="none"/>
<path d="M533.5 814.4l.2 3.3 .2 3.1 .2 2.8 .1 2 .2 1.6 .2 1.3 .2 1.3 .2 1.3 .2 1.4 .1 1.5 .2 1.1 .2 .8 .2 .8 .2 1 .2 1.1 .1 .8 .2 .8 .2 1.1 .2 1.1 .2 .8 .2 .6 .1 .4 .2 .7 .2 .9 .2 .7 .2 .5 .2 .4 .2 .4 .1 .5 .3 .6 .4 .7 .5 .8 .4 .8 .4 1 .5 1 .4 .9 .4 .8 .5 .7 .4 .9 .4 .9 .4 .9 .5 .6 .4 .2 .4 .3 .5 .5 .4 .6 .4 .7 .5 .8 .4 .6 .4 .4 .5 .3 .4 .4 .4 .4 .5 .5 .4 .4 .4 .4 .5 .5 .4 .6 .4 .5 .4 .4 .5 .3 .4 .3 .4 .3 .5 .3 .4 .1 .4 .1 .5 .1 .4 .2 .4 .2 .5 .3 .4 .2 .4 .2 .5 .3 .4 .2 .4 .2 .5 .2 .4 .4 .4 .4 .4 .3 .5 .1 .4 .3 .4 .3 .5 .4 .4 .3 .4 .1 .5 0 .4 0 .4 .1 .5 .1 .4 .1 .4 .2 .5 .2 .4 .4 .4 .3 .5 .2 .4 .1 .4 .2 .4 .4 .5 .1 .4-.1 .4 0 .5 .2 .4 .2 .4 .2 .5 .3 .4 .1 .4 .1 .5 .2 .4 .2 .4 .2 .5 .1 .4 .2 .4 .3 .5 .3 .4 .1 .4 .1 .4 .2 .5 .1 .4 .2 .4 .3 .5 .5 .4 .3 .4 0 .5 0 .4 0 .4 .1 .5 .2 .4 .2 .4 .3 .5 .3 .4 .3 .4 .3 .5 .3 .4 0 .4-.1 .4 .2 .5 .2 .4 .2 .4 .2 .5 .2 .4 .4 .4 .1 .5-.1 .4-.2 .4 .1 .5 .2 .4 0 .4-.1 .5 0 .4 .1 .4 .1 .5 0 .4 0 .4 .1 .4 .2 .5 .2 .4 .1 .4-.2 .5 0 .4 .1 .4 .1 .5-.1 .4 0 .4 .1 .5 .1 .4-.1 .4-.1 .5 .1 .4 .1 .4 .2 .5 0 .4 .1 .4 .1 .4 .1 .5 .2 .4 .2 .4 .2 .5 .2 .4 .2 .4 .3 .5 .2 .4 .1 .4 .2 .5 .4 .4 .4 .4 .3 .5 .1 .4 .1 .4 .2 .5 .1 .4 .1 .4 .1 .4 .2 .5 .2 .4 .2 .4 .1 .5 .2 .4 .3 .4 .6 .5 .4 .4 .1 .4 .1 .5 .2 .4 .3 .4 .3 .5 .2 .4 .2 .4 .2 .5 .4 .4 .4 .4 .5 .4 .3 .5 .2 .4 .2 .4 .3 .5 .2 .4 .3 .4 .3 .5 .3 .4 .2 .4 .3 .5 .3 .4 .3 .4 .2 .5 .1 .4 0 .4 .2 .5 .1 .4 .1 .4 .2 .4 .2 .5 0 .4-.1 .4-.1 .5 0 .4 .2 .4 0 .5 0 .4-.1 .4 0 .5 0 .4 .3 .4 .3 .5 .3 .4 .2 .4 .1 .5-.1 .4 0 .4 .1 .4 .2 .5 .1 .4 0 .4-.1 .5 0 .4 .2 .4 0 .5 0 .4 0 .4 .1 .5 0 .4 .1 .4 .1 .5 .2 .4 .2 .4 0 .5-.1 .4 .1 .4 .1 .4 .2 .5 .1 .4 0 .4 0 .5 .1 .4 .1 .4 .1 .5 .1 .4 .1 .4 .1 .5 .1 .4 0 .4-.2 .5-.1 .4 .1 .4 .3 .5 .2 .4 .1 .4 0 .4 0 .5 0 .4-.1 .4-.1 .5 .1 .4 .1 .4 .1 .5 .1 .4 .1 .4 .1 .5 .2 .4 .3 .4 .2 .5 0 .4-.1 .4-.1 .5-.1 .4 .1 .4 .1 .4 .2 .5 .1 .4 .1 .4 0 .5 .1 .4 .1 .4 .1 .5 0 .4 0 .4 .1 .5 .2 .4 .1 .4 .2 .5 .2 .4 .1 .4 0 .5 0 .4 .1 .4 0 .4 0 .5-.1 .4 .1 .4 0 .5 .1 .4 0 .4 0 .5 0 .4 0 .4 .3 .5 .3 .4 0 .4 0 .5 0 .4-.1 .4 0 .5 .1 .4 .3 .4 .2 .4 0 .5 0 .4 0 .4 .2 .5 .1 .4 .1 .4 0 .5 0 .4 0 .4-.1 .5 .1 .4 .3 .4 .3 .5 0 .4-.2 .4 0 .5 0 .4 0 .4-.1 .4 .1 .5 .1 .4 .3 .4 .2 .5 .1 .4 0 .4 .2 .5 .2 .4 0 .4-.1 .5-.1 .4 0 .4 .1 .5 0 .4-.1 .4 0 .5 .1 .4 .2 .4 .1 .4 .2 .5 .1 .4 0 .4 0 .5 0 .4 .3 .4 .2 .5 .1 .4 0 .4 .1 .5 0 .4 0 .4-.1 .5 0 .4 .1 .4 .2 .5 .2 .4 .3 .4 .2 .4 .1 .5 0 .4 0 .4 .2 .5 .2 .4 .1 .4 0 .5 .1 .4 0 .4 .1 .5 0 .4 0 .4 .2 .5 0 .4 0 .4 .1 .5 .1 .4 .2 .4 0 .4-.1 .5 .1 .4 .1 .4 .2 .5 .3 .4 .1 .4 0 .5-.1 .4 0" stroke="#00ffff" stroke-width="1.2" stroke-opacity="0.75"/>
<path d="M533.5 812.5l.2 3 .2 3 .2 2.8 .1 2.2 .2 1.8 .2 1.6 .2 1.5 .2 1.3 .2 1.3 .1 1.2 .2 1.2 .2 1.1 .2 1.1 .2 .8 .2 .7 .1 .7 .2 .8 .2 .8 .2 .8 .2 .7 .2 1 .1 1 .2 .8 .2 .5 .2 .3 .2 .4 .2 .5 .2 .5 .1 .5 .3 .7 .4 .8 .5 .8 .4 .9 .4 1.1 .5 1.2 .4 1.1 .4 .9 .5 .8 .4 .6 .4 .6 .4 .4 .5 .5 .4 .7 .4 .6 .5 .5 .4 .4 .4 .5 .5 .4 .4 .5 .4 .5 .5 .7 .4 .6 .4 .5 .5 .5 .4 .4 .4 .4 .5 .4 .4 .4 .4 .4 .4 .4 .5 .5 .4 .4 .4 .1 .5-.1 .4-.2 .4 .1 .5 .4 .4 .5 .4 .5 .5 .4 .4 .5 .4 .3 .5 0 .4-.2 .4 .1 .5 .2 .4 .3 .4 .5 .4 .4 .5 .3 .4 .1 .4 0 .5 .1 .4 .2 .4 .2 .5 .2 .4 .3 .4 .3 .5 .3 .4 .2 .4 .1 .5 .2 .4 0 .4 .1 .5 .3 .4 .2 .4 .4 .4 .3 .5 .2 .4 .1 .4 .1 .5 .2 .4 .2 .4 .2 .5 .2 .4 .2 .4 .1 .5 .3 .4 .2 .4 .1 .5 .1 .4 .2 .4 .2 .5 .2 .4 .3 .4 .2 .4 .1 .5 0 .4 .2 .4 .3 .5 .3 .4 .1 .4 0 .5 .1 .4 .1 .4 .2 .5 .2 .4 .3 .4 .4 .5 .2 .4 .2 .4 .2 .5 0 .4 .1 .4 .2 .4 .2 .5 .2 .4 .3 .4 .2 .5 .1 .4-.1 .4-.2 .5 0 .4 .2 .4 .2 .5 .1 .4 .1 .4 .3 .5 .2 .4 .1 .4-.1 .5-.1 .4 .1 .4 .1 .4 0 .5 0 .4-.1 .4 0 .5 0 .4 .1 .4 .1 .5 .3 .4 .2 .4 .1 .5 0 .4 0 .4 0 .5-.1 .4 .1 .4 .1 .5 0 .4-.1 .4 0 .4 .2 .5 .1 .4 0 .4 .2 .5 .3 .4 .2 .4 .2 .5 .3 .4 .4 .4 .2 .5 .1 .4 .1 .4 .1 .5 .2 .4 .1 .4 .1 .5 .3 .4 .5 .4 .4 .4 .3 .5 0 .4 .2 .4 .2 .5 .2 .4 0 .4 .2 .5 .4 .4 .3 .4 .1 .5 .1 .4 .1 .4 .4 .5 .5 .4 .5 .4 .3 .5 .2 .4 .3 .4 .3 .4 .2 .5 .2 .4 .2 .4 .3 .5 .4 .4 .4 .4 .5 .5 .3 .4 .2 .4 .2 .5 .3 .4 .4 .4 .1 .5 0 .4 .1 .4 .1 .5 .2 .4 0 .4-.1 .4 0 .5 .2 .4 .1 .4 .1 .5 .1 .4-.1 .4-.1 .5 0 .4 .1 .4 .3 .5 .1 .4 .1 .4 .2 .5 .2 .4 .1 .4 0 .5 0 .4 .1 .4 .2 .4 0 .5 .1 .4 0 .4 .1 .5 .1 .4 .1 .4 .1 .5 .1 .4-.1 .4 0 .5 0 .4 0 .4 .1 .5 .2 .4 .1 .4 .1 .5 0 .4 .1 .4 .1 .4 0 .5 0 .4 0 .4 .3 .5 .2 .4 .1 .4-.1 .5-.1 .4 0 .4 .3 .5 .2 .4-.1 .4-.1 .5 0 .4 .2 .4 .1 .5 0 .4 0 .4 .1 .4 .2 .5 .2 .4 .2 .4 .1 .5 0 .4 .1 .4 .1 .5 0 .4-.1 .4 .1 .5 .1 .4 .1 .4 0 .5 0 .4 .1 .4 .1 .5 .2 .4 0 .4-.1 .4 0 .5 0 .4-.1 .4 0 .5 .2 .4 .3 .4 .2 .5 0 .4-.2 .4 0 .5 .1 .4 .2 .4 .2 .5-.1 .4 0 .4 0 .5 .3 .4 .2 .4 .1 .4 .1 .5 .2 .4 .1 .4 0 .5-.1 .4-.1 .4 .1 .5 .1 .4 0 .4 0 .5 .1 .4 .1 .4 .1 .5 0 .4 0 .4 .2 .5 .1 .4 .2 .4 0 .4 .1 .5 .3 .4 .4 .4 0 .5-.1 .4-.2 .4 0 .5 0 .4 .1 .4 0 .5 .2 .4 .2 .4 .2 .5 0 .4-.2 .4 0 .5 0 .4 0 .4 .1 .4 0 .5 0 .4 .1 .4 .1 .5 .2 .4 .1 .4 .1 .5-.1 .4 0 .4 .1 .5 0 .4 0 .4-.1 .5 .1 .4 .2 .4 .1 .5 .1 .4 .1 .4 .2 .4 .1 .5 0 .4 0 .4 0 .5 .1 .4 0 .4 0 .5 0 .4 0 .4 .1 .5 .3 .4 .3 .4 .1 .5 0 .4 0 .4 0 .5 .1 .4 .2 .4 .3 .4 .2 .5 0 .4 0 .4-.1 .5-.2 .4 .1 .4 .2 .5 .2 .4 0 .4-.1 .5 .1 .4 .3 .4 .3 .5 .1 .4 .2 .4 .2 .5 .2 .4 0 .4-.2 .4 .1 .5 .1 .4 .1 .4 0 .5 0 .4 .1 .4 0 .5 .1 .4 0" stroke="#a0ffff" stroke-width="0.9" stroke-opacity="0.7"/>
<path d="M533.5 758.7l.2 13.8 .2 5.8 .2 5.8 .1-.8 .2 8.6 .2-1.9 .2 1.4 .2-1.9 .2 5.3 .1-1 .2 2.1 .2-1 .2-.3 .2 4 .2-3.6 .1 1.3 .2 1.7 .2 .1 .2 4 .2-.2 .2 2.5 .1-.4 .2-.7 .2 3.3 .2 .3 .2 1.5 .2 1.1 .2 .5 .1-.5 .3 3 .4-1.8 .5-2.2 .4 2 .4 2 .5 1.7 .4 .4 .4-3.7 .5 4.6 .4 3.1 .4 .2 .4-2.2 .5 5 .4-.3 .4 .8 .5 1.2 .4 1.4 .4-1.5 .5 .1 .4-.6 .4 .8 .5 1.5 .4 2.9 .4 .2 .5 4.3 .4-3.4 .4 1.5 .5 1.4 .4-1.7 .4 1 .4-2.2 .5-.2 .4-.3 .4 8.2 .5 1.3 .4-.8 .4-.6 .5-1.3 .4 .8 .4 4 .5-3.9 .4-2.5 .4 1.2 .5-.5 .4 2.9 .4 1.1 .5 .5 .4 .6 .4 1 .4 .3 .5 1.2 .4-2.6 .4-.1 .5-2.4 .4 0 .4 2.5 .5 2 .4 1.7 .4-.9 .5 1.6 .4 1.2 .4-.7 .5 .8 .4-3.2 .4 1.5 .5-3.7 .4 1.6 .4 .1 .4 4.1 .5-1.3 .4-.1 .4 4.1 .5-.9 .4-.7 .4 2.2 .5-4 .4-1.8 .4 2.8 .5-2.4 .4 3.7 .4-1.7 .5 4.1 .4-4.3 .4 2.2 .5 1.1 .4 1.3 .4-4.5 .4-2.2 .5 6.6 .4-6.4 .4-.9 .5 2.9 .4 3.8 .4-3 .5 3 .4 1.6 .4 1.4 .5-3.6 .4-1.1 .4 1.9 .5-3 .4 2.7 .4-3.9 .5 1.9 .4 1.2 .4 .9 .4-1 .5 .9 .4 .7 .4 .5 .5-.6 .4-2 .4-.2 .5-1.6 .4 1.6 .4 4.2 .5-6.2 .4-1.5 .4 4.1 .5 1.4 .4 0 .4-.6 .5-1.2 .4 1.1 .4-2.2 .4 .2 .5-2.7 .4 1.3 .4-.9 .5 2 .4-1.5 .4 1.9 .5-3.9 .4 7.3 .4-3.4 .5-4.1 .4-4.2 .4 4.6 .5-.8 .4 .8 .4-2.4 .5 3.9 .4-1.2 .4 2.3 .4 1.8 .5-3.4 .4-1 .4-2.3 .5 2.2 .4 .7 .4-2.1 .5 1.3 .4 1 .4 1.9 .5-1.3 .4 2.3 .4-2.7 .5 1.4 .4 .4 .4 3.9 .5-4.6 .4 .3 .4-.3 .4 .5 .5 4.1 .4-.9 .4 4 .5-3.9 .4 6.9 .4 .9 .5-.4 .4-1.9 .4 .2 .5-5.9 .4 5 .4 3.1 .5-3.4 .4 4.8 .4 2.7 .5-3 .4 1 .4 2.2 .4-3.8 .5 2.1 .4-3.1 .4 2.3 .5-1.4 .4 3.8 .4 4 .5-5.6 .4 7.2 .4 .3 .5 1.4 .4-.9 .4-1.3 .5-.5 .4-1.5 .4-2.4 .5 3.9 .4 2.8 .4 .9 .4 .1 .5 2.9 .4-4.2 .4 2.6 .5-.7 .4-1.3 .4 1.9 .5-1.7 .4-3.3 .4 .4 .5 2.7 .4-3.4 .4 7.1 .5-1 .4 .3 .4 5 .5-9.6 .4 2.3 .4 1.9 .4-6.6 .5 2.5 .4 .5 .4 2.7 .5-.5 .4 4.2 .4-3.7 .5 2.7 .4-1 .4-2.6 .5 1 .4-.8 .4-.7 .5 1.7 .4-2.8 .4-.7 .5 2.5 .4 .8 .4 4.2 .4 .5 .5 1 .4-5.6 .4 2.1 .5-4 .4 3.6 .4-.8 .5-.8 .4-.9 .4 2.7 .5 .8 .4 1.2 .4 .2 .5 2.4 .4-2.8 .4-.2 .5-1 .4-1.7 .4 2.1 .4-.8 .5 1.2 .4-.3 .4 .3 .5 4.3 .4-2.5 .4-2.9 .5 6.4 .4-2 .4-.6 .5-1.7 .4-3.8 .4 3.5 .5 2.2 .4-1.4 .4 3.4 .5-2.4 .4 2 .4-2.1 .4 3.5 .5-7.8 .4 3.5 .4-.1 .5 1.3 .4 1.7 .4 1.1 .5-.3 .4 2.4 .4-1.3 .5 2.6 .4-2.8 .4-1.2 .5 2.5 .4-4.4 .4 2.3 .5-2.8 .4 1.8 .4-.4 .4 5.1 .5-.6 .4-2.3 .4 4.4 .5 2.6 .4-.7 .4 .3 .5-1.5 .4-3.9 .4-3.4 .5 3.6 .4-.8 .4 1.7 .5 .6 .4 1 .4 .1 .5-1.5 .4 2.4 .4-5.2 .4-.8 .5 1.5 .4-2.2 .4 3.2 .5 .3 .4-.5 .4 1.5 .5 1 .4 .5 .4-.6 .5-3.7 .4 4.5 .4-5.4 .5 .5 .4-2.2 .4 .7 .5 7 .4-5.8 .4 1.3 .4 1 .5 .9 .4-3 .4 1.5 .5-5.4 .4 1.4 .4-3.8 .5 5.4 .4 2 .4-4.2 .5 .6 .4 2.3 .4 3.4 .5-2.1 .4-2.6 .4 .7 .5-1.2 .4-.9 .4 .8 .4-1 .5 2 .4-5.4 .4 5.3 .5-1 .4 3.5 .4-3.4 .5 4.8 .4-6.2 .4 1 .5-5 .4 6.1 .4-2.7 .5-.1 .4-.8 .4 4.2 .5-.1 .4 4.9 .4-2.4 .4-2.8 .5-1.9 .4 1.8 .4-5.3 .5 .2 .4 3.5 .4 5.1 .5-.3 .4-.9 .4-2.7 .5 2.2 .4 4.8 .4-3.9 .5-4.3 .4 3.1 .4 0 .5-5.8 .4 4 .4 1.6 .4-.7 .5 1.7 .4 1.9 .4-2.6 .5 .3 .4 .3 .4 1.1 .5-3.2 .4 1.6" stroke="#ffff00" stroke-width="1.0"/>
<path d="M556.8 864.4l.4-.2 .5-.8 .4 .1 .4 2.2 .5 1.2 .4-.7 .4-.5 .4-.9 .5-.2 .4 1.4 .4 1.5 .5 1.1 .4 .2 .4-.2 .5 .1 .4-.6 .4-.5 .5 .8 .4 1.5 .4 .9 .5 .1 .4-1 .4-.3 .5 1 .4-.7 .4-1.6 .4 0 .5 1.7 .4 2 .4 .4 .5-.3 .4-.3 .4-.2 .5-.2 .4-1.5 .4 .2 .5 2.1 .4 1.1 .4 .9 .5 .4 .4-1.2 .4-1.1 .5 .4 .4 .7 .4 .5 .4 .2 .5 .7 .4 1 .4-.3 .5 0 .4 .6 .4-.4 .5-.3 .4 .7 .4 1.5 .5 1.6 .4-.4 .4-.3 .5-.5 .4-1.7 .4-.2 .5 1.1 .4 .9 .4 1.1 .4 1 .5-.4 .4-.5 .4 .6 .5-.9 .4-.2 .4 1.7 .5 .5 .4-.4 .4-.8 .5-.5 .4 .7 .4-.4 .5-1.8 .4 .1 .4 1.8 .5 .9 .4 0 .4-.1 .4-.8 .5-.4 .4 .3 .4-.6 .5 .2 .4 1 .4 1.3 .5 1.1 .4-1.3 .4-.9 .5 .1 .4-.7 .4-.9 .5-.9 .4 .9 .4 2.3 .5 1.4 .4-.2 .4-.9 .4-.5 .5 .2 .4 .3 .4 .7 .5 1.1 .4 1 .4-1 .5-1.5 .4 .9 .4 .3 .5-.8 .4 .5 .4 .6 .5 .2 .4 .1 .4 .7 .5 .2 .4-.5 .4 .6 .4 .3 .5 .8 .4 .9 .4 .1 .5-.3 .4 0 .4-.1 .5-1.2 .4-.5 .4 1.6 .5 1.9 .4 1.2 .4 1.4 .5-1.1 .4-3.3 .4-1.1 .5 .8 .4 1.2 .4 .8 .4 .7 .5 1.2 .4 1.1 .4 .9 .5 0 .4-1.8 .4-1.2 .5 .6 .4 1 .4 .9 .5 1.9 .4 .9 .4-1.2 .5-.2 .4 0 .4-1 .5-.3 .4 .9 .4-.5 .4-1.1 .5 .6 .4 1.4 .4 .7 .5-1 .4-.7 .4 1.5 .5 1.2 .4 .3 .4 .4 .5-.6 .4-1.9 .4-1.1 .5 .7 .4 .9 .4 .2 .5 .3 .4 1.4 .4 1.2 .4-.8 .5-1.8 .4-1.1 .4-.4 .5 1.2 .4 2.2 .4 1.4 .5-.5 .4-1.6 .4-.7 .5-.6 .4-.5 .4 1.3 .5 1.5 .4 .5 .4-.3 .5-.9 .4 .2 .4 .3 .4-1.3 .5-.3 .4 1.3 .4 1.3 .5 1 .4-.1 .4 0 .5 .2 .4-1.2 .4-1.2 .5-.1 .4 0 .4 .9 .5 1.6 .4-.5 .4-1.4 .5 .3 .4 .3 .4-.2 .4 0 .5-.4 .4 .3 .4 .5 .5 .2 .4-.1 .4-.7 .5 0 .4 .8 .4 .7 .5 1.3 .4 .5 .4-.6 .5 .4 .4 0 .4-.2 .5-.3 .4-1.1 .4-.1 .4 .6 .5 .7 .4 .5 .4-.6 .5-.8 .4-.2 .4-.4 .5-.3 .4 .7 .4 2 .5 1.6 .4-.9 .4-1.3 .5-.7 .4-1.4 .4-.9 .5 1 .4 1.6 .4 1.7 .4 1 .5-.2 .4-.7 .4-.9 .5-.5 .4 .2 .4 1.3 .5 1.1 .4 .3 .4 .1 .5-.4 .4-1 .4-1.4 .5-1.7 .4-.3 .4 1.5 .5 1.2 .4 .8 .4 1.9 .4 .2 .5-2.2 .4-1.2 .4-.1 .5 1 .4 1.8 .4 .2 .5-1.4 .4-.1 .4-.3 .5-1 .4 .6 .4 .4 .5 .3 .4 1.3 .4 .7 .5-.1 .4-.8 .4-1.4 .4-.4 .5 .8 .4 .2 .4 0 .5 1 .4 .8 .4-.7 .5-.7 .4-.4 .4-.2 .5 1 .4 .6 .4-.3 .5 1.1 .4 .8 .4-.5 .5-1 .4-.7 .4 .1 .4-1.5 .5-1.2 .4 2.5 .4 2.5 .5-.8 .4-1.6 .4-.8 .5 .2 .4 0 .4-.7 .5 1.4 .4 2 .4 .1 .5-.7 .4-.6 .4-.5 .5-.7 .4-.3 .4 .6 .4 1.3 .5 1.2 .4 0 .4-.7 .5-1.1 .4-1.1 .4-.1 .5-.2 .4 .2 .4 1.7 .5 1.6 .4 .6 .4-.9 .5-1.7 .4-.7 .4 .3 .5 1.8 .4 1.3 .4 .4 .4-.3 .5-1.8 .4 0 .4 1.2 .5-.3 .4-.6 .4 .1 .5 .4 .4 .1" stroke="#800080" stroke-width="0.9" stroke-dasharray="2.5 1.8"/>
<path d="M560.2 863.6l.5 .2 .4 .8 .4 .4 .5 .3 .4 .4 .4 .3 .5-.2 .4 0 .4 .3 .5 .6 .4 2.1 .4 1.2 .5-1.4 .4-2 .4-.2 .5 1 .4 .8 .4 .8 .4 1.4 .5 .7 .4-1.3 .4-2.2 .5-.5 .4 2 .4 2 .5 1.8 .4 1.2 .4-.8 .5-2.2 .4-1.7 .4 .7 .5 1.7 .4 .8 .4 1.4 .5 .8 .4-1.2 .4-1.2 .4-.4 .5 .9 .4 2 .4 .4 .5-1 .4-.9 .4-1.2 .5-.9 .4 .9 .4 2.2 .5 1.9 .4 1.5 .4 .3 .5-1.4 .4-2.5 .4-.8 .5 1.1 .4 1.5 .4 1.9 .4 .5 .5-.6 .4-.8 .4-1.6 .5 0 .4 2 .4 1.4 .5 0 .4-1 .4-1.1 .5-.7 .4 0 .4 1.6 .5 1.6 .4 .6 .4 .2 .5-1.2 .4-1.5 .4-.1 .4 0 .5 .7 .4 1.9 .4 1.9 .5 .2 .4-1.9 .4-1.8 .5 .1 .4 .8 .4 .9 .5 .8 .4-.5 .4-1.3 .5-.6 .4-1 .4-.7 .5 2 .4 2.5 .4-.1 .4-1.8 .5-1.4 .4 0 .4 1.3 .5 1.2 .4 .7 .4 .8 .5 .3 .4-.9 .4-1.2 .5-.2 .4 1.1 .4 1.1 .5 .6 .4 .7 .4-.6 .5-1.3 .4-.3 .4 .9 .4 2.1 .5 1.7 .4-.4 .4-1 .5-.9 .4-.6 .4 .6 .5 1.2 .4 .5 .4-.1 .5 .4 .4 0 .4-.8 .5 0 .4 .7 .4 1.1 .5 2.2 .4 1.4 .4-1 .4-1.8 .5-1.3 .4 .2 .4 1.7 .5 1.4 .4 .8 .4 0 .5-1.3 .4-.5 .4 .3 .5 .9 .4 1.9 .4 1.1 .5-.3 .4-.8 .4-.8 .5-.7 .4-.2 .4 1.1 .4 1.8 .5 .6 .4-.2 .4-1.7 .5-2.3 .4 .9 .4 1.7 .5 .8 .4 1.1 .4-.4 .5-1.3 .4-.4 .4-.2 .5 .4 .4 1.5 .4 1.9 .5 .3 .4-1.9 .4-2.2 .4-1.3 .5-.1 .4 1.7 .4 2.3 .5 1.5 .4 .4 .4-1.1 .5-1.8 .4-1.3 .4 .4 .5 2 .4 1.8 .4 .3 .5-1.5 .4-1.9 .4-.6 .5 .1 .4 0 .4 1.3 .4 1.8 .5 .2 .4-1.3 .4-1.4 .5-.3 .4 .4 .4 .8 .5 .6 .4 .3 .4-.2 .5-.9 .4-.2 .4 .1 .5 .4 .4 1.2 .4 .4 .5-.1 .4-1.1 .4-1.3 .4 .2 .5 1.3 .4 1.7 .4 1.1 .5-.2 .4-1.5 .4-1.9 .5-.6 .4 1.4 .4 2.6 .5 .7 .4-.7 .4-.8 .5-1.7 .4-.7 .4 .7 .5 .2 .4 .4 .4 1.5 .4 .7 .5-.9 .4-.7 .4 .1 .5-.4 .4-.2 .4 1.2 .5 .6 .4-1.3 .4-1.4 .5-.6 .4 .2 .4 1.6 .5 1.7 .4 1.1 .4 1 .5-1.3 .4-1.7 .4 .1 .4 1 .5 1.4 .4 0 .4-1.6 .5-.5 .4-.5 .4-.7 .5 .7 .4 1.2 .4 .8 .5 .7 .4 .1 .4-1.4 .5-.7 .4 .4 .4 .6 .5 1.1 .4 .1 .4-.4 .4-.6 .5-1.1 .4 .2 .4 1.6 .5 1.2 .4 .6 .4-.1 .5-1.1 .4-1.1 .4-.9 .5-1.1 .4 .8 .4 2.6 .5 1.2 .4-1.1 .4-2 .5-.8 .4 1.4 .4 1.5 .4 1.5 .5 1.3 .4-.4 .4-1.6 .5-1.7 .4-1.6 .4 .6 .5 2.6 .4 1.7 .4-.5 .5-1.3 .4-.3 .4-.2 .5-.9 .4 .6 .4 1.1 .5 .1 .4-.1 .4-.4 .4-.6 .5-.5 .4 1.1 .4 1.8 .5 .9 .4 .2 .4-.8 .5-1.9 .4-2.1 .4 0 .5 1.3 .4 1.8 .4 2.4 .5 .3 .4-2.4 .4-2.2 .5-.4 .4 .6 .4 1.8 .4 1.9 .5-.8 .4-1.7 .4 .3 .5 .5 .4-.2 .4 .5 .5 1.2 .4 .7 .4 0 .5-1 .4-2.4 .4-1.4 .5 1.8 .4 2.6 .4 1.7 .5 .3 .4-1.9 .4-1.7 .4-.2 .5 .1 .4 .7 .4 1 .5 .5 .4 .2 .4-.1 .5-.9 .4-.8" stroke="#008080" stroke-width="1.0"/>
<path d="M555.9 846.9l.5-.2 .4-.7 .4-.2 .5 1 .4 .3 .4-.1 .5 .3 .4 .5 .4 .8 .4-.2 .5-.8 .4 .6 .4 .8 .5 .5 .4 .6 .4 .9 .5 .7 .4 0 .4 0 .5 1 .4 .8 .4-1.2 .5-.2 .4 2.5 .4 .9 .5-.6 .4-.4 .4-.5 .4-.3 .5-.1 .4 .5 .4 1.4 .5 .8 .4 .3 .4 .5 .5 .9 .4 .1 .4-.8 .5 .7 .4 .4 .4-.1 .5 .7 .4 .5 .4 .8 .5 1.6 .4 .5 .4-.8 .4-.3 .5-.2 .4-.4 .4-.3 .5 0 .4 2 .4 1.3 .5-.9 .4-1.1 .4 .1 .5 1.2 .4 .6 .4-1 .5-.5 .4 1.2 .4 .3 .5 .2 .4 1 .4 .3 .4 .3 .5 .5 .4-.4 .4-.7 .5 0 .4 .6 .4 .1 .5-.3 .4-.1 .4 .2 .5 .1 .4 1 .4 .7 .5-.6 .4-.4 .4-.3 .5-.4 .4 0 .4 .5 .4 1.1 .5 .5 .4-.7 .4 .1 .5 0 .4-.9 .4-.2 .5 .2 .4 .1 .4 .8 .5 1.2 .4 .2 .4-1.1 .5-.5 .4 .3 .4-.1 .5-.7 .4-.3 .4 .2 .4 .1 .5 .8 .4 1 .4 .6 .5 1.5 .4 .6 .4-1.1 .5-1.1 .4-.2 .4 .7 .5 .3 .4 .3 .4 1 .5 .1 .4-.6 .4 .1 .5 0 .4 .9 .4 1.2 .4-.6 .5-.7 .4 .7 .4 .2 .5-.4 .4 .9 .4 1.4 .5-.3 .4-.8 .4 .1 .5 0 .4 .6 .4 1.1 .5 .3 .4 .5 .4 .6 .5 .3 .4-.2 .4-.3 .4 .2 .5 .7 .4-.2 .4-.8 .5 0 .4 .8 .4 1.2 .5 1.1 .4-.1 .4-.3 .5 0 .4 .2 .4 .2 .5 .1 .4 .7 .4 1.3 .5 .1 .4-.4 .4 .7 .4 .7 .5-1 .4-2.3 .4-.3 .5 2.1 .4 1.4 .4 0 .5 0 .4-.1 .4 0 .5 .3 .4-.4 .4-.8 .5-.3 .4 .3 .4 .6 .5 .1 .4 .3 .4 .7 .4-.1 .5-.3 .4 .3 .4 .4 .5-.4 .4-.7 .4-.2 .5 .8 .4 .8 .4 0 .5 .8 .4 .8 .4-.1 .5-.3 .4-.4 .4-.7 .5-1 .4-.4 .4 0 .4 .3 .5 1.1 .4 1.4 .4 .6 .5-.5 .4-1.3 .4-.5 .5 .1 .4-.7 .4 .2 .5 1.6 .4 .9 .4 .2 .5 .5 .4 .1 .4-.8 .5-.2 .4 .4 .4-1.2 .4-1.1 .5 .2 .4 1.2 .4 1.9 .5-.1 .4-1.5 .4-.6 .5-.1 .4 .1 .4 .7 .5 1 .4 .1 .4-.5 .5 .3 .4 .2 .4 0 .5 .8 .4 .6 .4-.6 .4-1.2 .5-.4 .4 .8 .4 .2 .5-.2 .4-.2 .4 0 .5 .2 .4 .2 .4 .1 .5-.5 .4 .3 .4 1.8 .5 .9 .4-.6 .4-1.2 .5-1.5 .4 .1 .4 1.2 .4-.1 .5 0 .4 .8 .4 .6 .5-.1 .4-.1 .4 .3 .5-.2 .4-.7 .4-.8 .5 0 .4 .4 .4 .5 .5 .2 .4 .2 .4 .5 .5 .2 .4 .1 .4-.5 .4-1 .5 0 .4 .5 .4 .6 .5 .2 .4 .3 .4 1 .5 .4 .4-.9 .4-.3 .5 .7 .4-.1 .4-.5 .5-.6 .4 .3 .4 1.2 .5 .3 .4-.7 .4-.2 .4 0 .5-.4 .4-.9 .4-.7 .5 .6 .4 .9 .4-.1 .5-.6 .4 .6 .4 1.6 .5 .8 .4-.5 .4-1.6 .5-.7 .4 .9 .4 1.4 .5-.1 .4-.9 .4 0 .4 .5 .5 .4 .4 0 .4-.5 .5 .3 .4 .5 .4-.6 .5-.6 .4 .1 .4-.4 .5 .3 .4 .3 .4-.7 .5 .7 .4 .4 .4-.2 .5 .4 .4-.2 .4 0 .4 .4 .5 .3 .4 .4 .4 .4 .5 .1 .4-1.2 .4-1.5 .5 0 .4 .9 .4 .4 .5 0 .4 .7 .4 1.2 .5 .1 .4-1.2 .4-.4 .5 .6 .4-.5 .4-.5 .4 .4 .5 1 .4 .4 .4-.4 .5 .4 .4 .4 .4-.2 .5-1 .4-1" stroke="#ffff00" stroke-width="1.1"/>
<path d="M555.9 848.2l.5 1.3 .4-.1 .4-.3 .5-.4 .4 .1 .4 .4 .5-.2 .4-.4 .4-.4 .4 .9 .5 2.1 .4 1.3 .4-.4 .5 0 .4-.6 .4-1.7 .5-.2 .4 1.4 .4 1.4 .5 1.1 .4 1.8 .4 .6 .5-1 .4 .8 .4 1.5 .5-1 .4-2.5 .4-.8 .4 1.7 .5 2 .4 1.1 .4 .9 .5 .2 .4 .1 .4-.5 .5-1 .4 0 .4 .5 .5 .6 .4 .9 .4 .4 .5 1 .4 1.4 .4-.8 .5-.8 .4 .2 .4 .4 .4 .7 .5-.2 .4 0 .4-.1 .5-.6 .4 .9 .4 1.2 .5 0 .4-.1 .4-.1 .5 .1 .4 1.1 .4 .1 .5-1 .4 .5 .4 .5 .5-.2 .4 0 .4 .2 .4 .9 .5 1.2 .4-.2 .4 .3 .5 1.6 .4 1 .4 .4 .5 .1 .4-1 .4-1.8 .5-1.2 .4 1.7 .4 1.6 .5-.7 .4 .1 .4 .2 .5-.6 .4-.4 .4-.5 .4-.8 .5 .4 .4 1.4 .4 1.1 .5 .5 .4-.6 .4-1 .5-.4 .4-.2 .4-.5 .5-.5 .4 .9 .4 1.3 .5 .6 .4 .5 .4-.7 .5-1.2 .4 .9 .4 1.4 .4-.1 .5-.7 .4-1.3 .4 .1 .5 1.7 .4 .8 .4 .4 .5-.7 .4-.8 .4 1.2 .5 .7 .4-1.1 .4-.3 .5 .5 .4 1.1 .4 2.5 .5 .8 .4-1.4 .4-.1 .4 1 .5-.9 .4-1.4 .4 .2 .5 .8 .4 .9 .4 1.8 .5 1.1 .4 0 .4-.5 .5-.7 .4-.3 .4-.1 .5 .5 .4 .4 .4-.3 .5-.4 .4 .5 .4 1 .4 .6 .5-.3 .4-1.3 .4 .1 .5 1.6 .4 1 .4 1.1 .5 .8 .4 .1 .4-.3 .5-.1 .4 .9 .4 0 .5-.3 .4 .4 .4 .7 .5 .9 .4 .5 .4 0 .4-1 .5-2.3 .4-1.6 .4-.2 .5 .9 .4 .7 .4 .6 .5 1.7 .4 1.8 .4 .2 .5-1.5 .4-1.1 .4 .6 .5 .4 .4 .1 .4 .6 .5 1.1 .4 .2 .4-.3 .4 1.2 .5-.4 .4-2.2 .4-1 .5 .7 .4 .7 .4 .4 .5 .3 .4 .3 .4 1.2 .5 .6 .4-.8 .4-1.6 .5-1.7 .4 0 .4 2.2 .5 2.3 .4-.4 .4-1.4 .4 .4 .5-.4 .4-.9 .4 .8 .5 .5 .4 .3 .4 .1 .5-.9 .4 .8 .4 1.6 .5-.5 .4-.5 .4-.3 .5-.1 .4 .6 .4 0 .5-.7 .4-1.7 .4 .1 .4 2.6 .5 1.1 .4-1.1 .4-1.2 .5-1.6 .4-1.2 .4 1.1 .5 2.5 .4 1.8 .4 .4 .5 .1 .4-.4 .4-1.5 .5-.6 .4 .5 .4-.1 .5-1 .4 .8 .4 2.2 .4 .3 .5 .1 .4 .5 .4-.7 .5-1.7 .4-1.4 .4 .8 .5 1.6 .4 .5 .4-.1 .5 .7 .4 .1 .4-.7 .5 .1 .4 0 .4-.9 .5-.8 .4 .4 .4 .6 .4 .7 .5 .8 .4 .3 .4-.4 .5-1 .4 .3 .4 1.1 .5-1 .4-1 .4 1.1 .5 .8 .4 .3 .4 .9 .5-.4 .4-1.4 .4-.1 .5 1.1 .4-.3 .4-1 .4 1 .5 0 .4-.7 .4 2.3 .5 .5 .4-3.2 .4-.8 .5-.1 .4-.7 .4 1 .5 1 .4 1.3 .4 .9 .5-.6 .4-1 .4-.9 .5 .1 .4 .9 .4-.5 .4-1.1 .5 1 .4 1.1 .4-.5 .5-.4 .4 .6 .4 1 .5-.3 .4-1.6 .4 .1 .5 1.8 .4 .9 .4-.5 .5 .1 .4-.3 .4-1.4 .5-.2 .4-.5 .4-1.2 .4 .6 .5 1.3 .4 1 .4 1.1 .5 1 .4-.2 .4-.4 .5-.5 .4-1.5 .4 .3 .5 1.2 .4-.2 .4 .3 .5 .6 .4 .7 .4-.1 .5-1.8 .4-.7 .4 1.3 .4 .3 .5-1 .4-.2 .4 .8 .5 .2 .4-.5 .4 .5 .5 .9 .4 0 .4-.8 .5-.2 .4 .5 .4-.1 .5 .2 .4 1.2 .4 .4 .5-1 .4-.2 .4 .9 .4-.8 .5-1.6 .4 .7 .4 1.5 .5-.6 .4-.3 .4 1.6 .5 .8 .4-1.6" stroke="#800000" stroke-width="0.9" stroke-dasharray="3 1.5"/>
<path d="M580.1 861l.4-.7 .5-1 .4 .7 .4 1.3 .5-.4 .4 .7 .4-.9 .5 2.2 .4-1.4 .4-2.1 .4-.7 .5 3.9 .4-1.7 .4 2.2 .5 .1 .4-.1 .4-1 .5-1.9 .4 .2 .4 .8 .5 .9 .4 .1 .4 .3 .5-1.1 .4 1.1 .4-1.1 .5-.2 .4 .1 .4 .1 .4 .5 .5-.9 .4 1.4 .4-2.1 .5 1.5 .4-.2 .4-.5 .5 .1 .4 .5 .4-.7 .5 .2 .4 .3 .4 .4 .5-.6 .4-1.6 .4 1.5 .5 2.1 .4-.3 .4 0 .4-2 .5 .9 .4-2.7 .4 1.7 .5 .9 .4 1.3 .4-.9 .5 1.6 .4 .6 .4-1.6 .5 .3 .4-1.3 .4 1.7 .5 3.5 .4-3 .4 3.3 .5-3.4 .4-.4 .4 2.1 .4 .7 .5 .5 .4-1.7 .4 1.9 .5 1 .4-.2 .4-2.4 .5 1.5 .4-.5 .4 .2 .5 .4 .4 .7 .4 2.6 .5-.1 .4 .6 .4-.2 .5-2 .4 1.9 .4 .1 .4 1.5 .5 .6 .4-.9 .4 1.4 .5-.1 .4-1.1 .4 .1 .5 .2 .4 1.4 .4 2.7 .5-1.9 .4 .4 .4-.7 .5 1.6 .4-3.6 .4 4.1 .5-1.5 .4 1.3 .4 1.1 .4-1.3 .5 1 .4 1.8 .4-1.4 .5-1.6 .4-1.3 .4 4.4 .5-.9 .4-1.3 .4 .7 .5 .7 .4 .8 .4 .5 .5-.7 .4 .2 .4 2.5 .5-.3 .4-2.1 .4 .5 .4 0 .5-.4 .4 .8 .4-1.3 .5-.1 .4 0 .4 1.4 .5-.3 .4-1.1 .4-.4 .5 .5 .4 .8 .4 2.6 .5 1.4 .4-2.5 .4 .8 .5-.4 .4 .6 .4 .5 .4-2.3 .5 1.5 .4 2 .4-1.3 .5-.1 .4-.6 .4-2.1 .5 2.4 .4 1.6 .4-.8 .5 1.2 .4-1 .4 .3 .5-.5 .4 .6 .4-1.1 .5 1.2 .4-.5 .4 1.4 .4 1.2 .5-1.7 .4 .9 .4-2.6 .5 .9 .4 .2 .4 .8 .5 .8 .4 2.8 .4-3.7 .5 1.8 .4-2.2 .4 1.5 .5-.4 .4 .5 .4 1.4 .5-.4 .4-.6 .4 .7 .4 .4 .5-1 .4-.9 .4-.6 .5 .8 .4 1 .4 1.5 .5-2.2 .4 .5 .4-.1 .5-1.3 .4 .5 .4 .6 .5 2.2 .4-.3 .4 1 .5-2.3 .4-.3 .4-1.1 .4 .9 .5 1 .4-2 .4 3.5 .5 .3 .4-1.1 .4-1.6 .5 .6 .4 .2 .4 1.1 .5-2.2 .4 2.6 .4 .5 .5-1.2 .4 .2 .4-.9 .5-1.6 .4 2.1 .4 .1 .4 .8 .5 0 .4-1.3 .4-.1 .5 .5 .4 .5 .4-.5 .5-.5 .4 1.3 .4 .4 .5 1.6 .4-3.3 .4 2.2 .5-.4 .4-.8 .4 0 .5 .5 .4 1.2 .4-.5 .4-.1 .5 .8 .4-1.8 .4 .5 .5-.8 .4 1.1 .4-.7 .5 .3 .4-.5 .4-.7 .5 .2 .4 .8 .4-1.2 .5 2.9 .4-.5 .4-.8 .5 1 .4-1.5 .4 1.2 .4-.3 .5-.9 .4 .4 .4 0 .5 1.5 .4-.5 .4-.7 .5-.2 .4 1.7 .4-.6 .5-1.6 .4 3.3 .4-1.6 .5 1.1 .4-1.8 .4 1.4 .5-1.1 .4 2.3 .4-1.6 .4-.6 .5 3 .4-2.7 .4 1.7 .5-1.1 .4 2.5 .4-3.9 .5 2.3 .4 .2 .4 1.3 .5-.2 .4-2.4 .4 1.3 .5-1.8 .4 1.1 .4-.3 .5 1.4 .4-.5 .4-2 .4 1.9 .5-.2 .4 .6 .4-1.7 .5-.1 .4 3.6 .4 .2 .5-3.2 .4 1.6" stroke="#ff00ff" stroke-width="1.1"/>
<path d="M562.8 858.6l.5 3.6 .4-3.5 .4 2.2 .5-4 .4 2.3 .4 1.4 .5-1.2 .4 2 .4 .2 .5-.1 .4-.1 .4-1.1 .4 0 .5 1.2 .4-1 .4 4 .5-1.1 .4-1.9 .4 2.1 .5-3 .4 1.5 .4 1.7 .5-.3 .4 1.2 .4 .7 .5-3.2 .4-.2 .4 1.3 .5 .8 .4 2.8 .4-1.5 .4-.9 .5-1.3 .4-1.5 .4 2.5 .5 .9 .4-1.5 .4 1.3 .5 1 .4-3.5 .4 2.2 .5-.2 .4 1.1 .4-1.1 .5-.7 .4 1.4 .4-1.5 .5 .6 .4-3.2 .4 1.3 .4 2.9 .5-1.2 .4-.8 .4 0 .5 .8 .4-.9 .4-.8 .5 .6 .4 1.6 .4-1.9 .5 1 .4 .6 .4-3.1 .5-.8 .4 .8 .4-1 .5-.6 .4 .9 .4 .4 .4-1.2 .5 1.6 .4-1.4 .4 .2 .5-.6 .4-1.8 .4 2.8 .5-4 .4 1.3 .4-1.4 .5 .8 .4 1.2 .4-2.9 .5 1 .4-2.2 .4 .9 .5 0 .4-.5 .4-2.2 .4 .9 .5 .3 .4-2.3 .4 2 .5 1.1 .4 1.5 .4-.7 .5 .2 .4 .7 .4 1.2 .5-2 .4 .2 .4 1.4 .5 1.3 .4 .5 .4-.8 .5-2.2 .4 1.5 .4 2.7 .4-1.6 .5 2.1 .4-2.7 .4 3.1 .5-.4 .4-.2 .4 .4 .5 1.2 .4 1 .4 .9 .5 .6 .4-.3 .4 1.1 .5-.3 .4 1.1 .4 .8 .5 .8 .4 0 .4-.8 .4 .9 .5-.1 .4 .5 .4 1.7 .5 .6 .4-.3 .4 2.3 .5-2.8 .4 1.6 .4 4.4 .5-3.9 .4 2.8 .4-2 .5 2 .4-1.1 .4-1.1 .5 2.2 .4 1 .4-.3 .4-1.4 .5 .2 .4-.6 .4 1.1 .5 .2 .4 .1 .4 1.3 .5 2.1 .4-1.9 .4 1.3 .5 .2 .4-.8 .4 .9 .5-.3 .4 1.3 .4 .9 .5-.7 .4 .4 .4-.1 .4-1.2 .5 1.8 .4 1.6 .4 0 .5 .1 .4-.8 .4 1.5 .5-1.9 .4 1.8 .4-.5 .5-.1 .4 .6 .4 1.2 .5 .2 .4-2 .4 .7 .5 3.2 .4-.1 .4-2.5 .4 .9 .5-2.5 .4 2.1 .4 .2 .5 1.9 .4 .9 .4 1.1 .5 1.1 .4-4.6 .4 .5 .5 2.1 .4-1.1 .4 3.4 .5-3.5 .4 1 .4-1.8 .5 4 .4-3.2 .4 1.3 .4 1.2 .5 1.5 .4-1.7 .4-.2 .5 .9 .4 1.3 .4 .3 .5-.1 .4-1.7 .4-.3 .5-1 .4 1.2 .4 2.5 .5-.2 .4 1.1 .4-.8 .5-2.1 .4 1.4 .4 0 .4-.9 .5 .3 .4 .4 .4 2.5 .5-.2 .4-1 .4-1.8 .5 .7 .4 1.8 .4-2.8 .5 3.2 .4-.6 .4-.4 .5 .3 .4-1 .4 .2 .5 .4 .4 .3 .4 1 .4 .1 .5-2.9 .4 1.3 .4-1.3 .5 1.3 .4-2.1 .4 3.3 .5 1.4 .4-2.1 .4-2.1 .5-.6 .4 .6 .4 1.8 .5-.9 .4 2.7 .4-1.1 .5 .1 .4-1.8 .4-.4 .4 2 .5-.2 .4 .8 .4-.6 .5-1.1 .4-1.7 .4 1.6 .5 .4 .4-.3 .4 .3 .5 1 .4-3.4 .4 1.9 .5 0 .4 .6 .4-.5 .5 .9 .4-1.2 .4-2.2 .4 2.6 .5 1.4 .4-3.2 .4 1.6 .5-.5 .4-.5 .4 .7 .5-1.1 .4 2.3 .4-1.5 .5 .3 .4 1.5 .4-.8 .5-1.3 .4-1 .4 .6 .5-1.5 .4 1.3 .4 .1 .4 2.8 .5-2.1 .4-1.2 .4 .6 .5-.4 .4 1.5 .4 .6 .5-1 .4-.6 .4-.1 .5-.4 .4-.9 .4 1 .5 .1 .4 .3 .4 .2 .5-.1 .4-2.7 .4 2.1 .4-.2 .5 2.1 .4 1.1 .4-.5 .5-1.6 .4 .7 .4-2.2 .5 1.9 .4 .6 .4-2.1 .5 2.1 .4-.4 .4-4 .5 2.6 .4 .9 .4 1.2 .5-1.6 .4 0 .4 3.7 .4-3.2 .5-.4 .4 .1 .4 2.7 .5-1 .4-2 .4 .3 .5 2 .4-1.7" stroke="#000080" stroke-width="0.9" stroke-opacity="0.9"/>
<path d="M559.4 856.9l.4 3.8 .4-5.4 .5 .1 .4 2 .4-.2 .5-.2 .4 1.9 .4-.4 .5 1.4 .4-4 .4 1.2 .5 .7 .4 3.9 .4-5.9 .5 1.9 .4 .5 .4-4.1 .5 4.7 .4 3.3 .4-1.9 .4 2.6 .5-6.6 .4 2.8 .4 1.5 .5-2.5 .4 5.1 .4-4.6 .5 3.9 .4-2.5 .4 1.8 .5-3.9 .4-.3 .4 3.1 .5-3 .4 1.6 .4-.8 .5 3.2 .4 2 .4-.4 .4-4.8 .5-3.8 .4 4 .4 2.3 .5-3.9 .4 2.6 .4-.7 .5-.8 .4 1 .4 1.2 .5 2.6 .4-3.8 .4 .3 .5-3 .4 2.9 .4 3.6 .5-2.6 .4-3.4 .4 2.8 .4 .1 .5 .5 .4 .4 .4-.7 .5 1.5 .4-5.7 .4 2.2 .5-1.1 .4-2 .4 .5 .5 3.1 .4-1.8 .4-1.8 .5 1.1 .4 3.2 .4-3.8 .5-.2 .4 .1 .4 1.3 .4-1.9 .5 .8 .4 .1 .4-2.6 .5-1.1 .4 .4 .4-.7 .5-.2 .4 1.7 .4 .5 .5 .6 .4-2.3 .4-5.1 .5 2.3 .4 2.6 .4 .7 .5 .4 .4-3.3 .4-1.1 .4 3.1 .5-2.8 .4 2.9 .4-3.2 .5 2 .4-3.3 .4 4 .5 .6 .4 .2 .4-.8 .5 .7 .4 2.7 .4-2.6 .5 1.1 .4 2 .4 1.3 .5-4.2 .4 3.5 .4 .8 .4-1.9 .5 2.3 .4 1.5 .4-1.4 .5 .2 .4 .1 .4-.4 .5 2.5 .4 2.8 .4 0 .5 0 .4-1.5 .4 2.9 .5 2.7 .4-2.1 .4 3.2 .5 .9 .4-4.4 .4 2.3 .4-1 .5 3.1 .4 1.8 .4 0 .5-1.7 .4-.2 .4 2 .5 .3 .4 3.1 .4-2.9 .5 2.9 .4-2.9 .4-.8 .5 .5 .4-.4 .4 5.8 .5-4.8 .4-1.1 .4 .9 .4 4.6 .5-1.6 .4-2.6 .4 5.5 .5-4 .4-.8 .4 4.4 .5-1.4 .4 3.2 .4-1 .5-.5 .4-1.6 .4 1.5 .5-.9 .4 3.8 .4-1.9 .5-2.6 .4 .8 .4 4.3 .4-2.6 .5 2.6 .4-1.9 .4-.6 .5-1.8 .4 2.6 .4 4.6 .5-.3 .4-4.1 .4 1.1 .5-2.9 .4 2.1 .4 2.9 .5-2.7 .4 3.3 .4 1.6 .5-7.9 .4 7.5 .4-3.6 .4 .2 .5 1.5 .4 2.6 .4-5.4 .5 4.6 .4 .8 .4-.9 .5-1.9 .4 .3 .4-1.6 .5 2.3 .4 .3 .4 2.7 .5-1.2 .4-2.2 .4 .9 .5-1.6 .4 2.6 .4 1 .4-.7 .5 0 .4-2.2 .4 .4 .5-2.2 .4 4.5 .4 .6 .5 1.2 .4-2.7 .4-1.7 .5 3 .4-.3 .4-.7 .5 1.4 .4 0 .4-3.3 .5 1.9 .4 .3 .4-.6 .4 .1 .5 2 .4-.3 .4-1.4 .5 1.6 .4 4 .4-5.6 .5 1.7 .4-2.1 .4 3.3 .5-3.7 .4 4.3 .4-.6 .5 1.8 .4-3 .4-.1 .5 .5 .4-.2 .4 1.1 .4-2 .5 1.8 .4 .5 .4-1.3 .5-.3 .4-.5 .4 .5 .5 3.9 .4-4.4 .4-1.7 .5 3.5 .4 1.7 .4-1.6 .5 .8 .4-2.7 .4 1.3 .5-1.7 .4 2.4 .4 2.3 .4-3.1 .5-1.3 .4 2.7 .4 .5 .5 4.3 .4-5.6 .4 2.1 .5 2 .4-.9 .4-2.2 .5-.9 .4 1.8 .4-1.5 .5 1.9 .4 0 .4-3.5 .5 1.6 .4 1.4 .4-2.8 .4 3.2 .5-1.5 .4-2.3 .4-.7 .5 3.9 .4-3.2 .4 3.2 .5-2.3 .4 1.1 .4 3.3 .5-2.6 .4-1.3 .4 1.1 .5-.8 .4-2.7 .4 5.5 .5 1.3 .4-1.5 .4 .3 .4-5.4 .5 1.7 .4 2.8 .4 .4 .5-6 .4 5.7 .4-.6 .5-2.2 .4-.1 .4 1.7 .5 2.4 .4 0 .4-4 .5 .7 .4 3.3 .4-4.2 .5 1.2 .4 1.5 .4-.8 .4-1.4 .5 1.9 .4 2 .4-2.3 .5 3 .4-4.1 .4 2.6 .5-2.3 .4 .8 .4-2.7 .5 5.2 .4-.2 .4-2.1 .5 .8 .4-.2 .4-1 .5-.5 .4-2.3 .4 3.5 .4-6.3 .5 1.8 .4 4.8 .4 4.1 .5-4.5 .4-1.2 .4 4 .5-3.8 .4 1.4" stroke="#0000ff" stroke-width="1.0"/>
<path d="M533.5 758.4l.2 8.5 .2 10.8 .2 4.7 .1 6.5 .2-3.9 .2 6.7 .2 .2 .2 .3 .2 1.7 .1-1.9 .2 3.3 .2 1.3 .2 1.9 .2-1.1 .2 5 .1 .6 .2-.1 .2 4.3 .2-1.7 .2-1.7 .2-1.1 .1 1.9 .2 1.9 .2-3.1 .2 3.9 .2 .6 .2 .9 .2 1.5 .1 1.7 .3-1.1 .4 2.8 .5-1.2 .4 1.1 .4 3.5 .5 .4 .4 .5 .4-.2 .5 .7 .4 .5 .4 .2 .4 2.6 .5 7.4 .4-8.1 .4 6.2 .5 2 .4-1.5 .4 3.2 .5-5.7 .4 1.5 .4 4.1 .5 3.7 .4-2.2 .4-1.7 .5 1.4 .4-2.7 .4 4.3 .5 1.5 .4 2.6 .4-1.9 .4 .5 .5 3.7 .4-6.2 .4 5.8 .5-.9 .4-3.3 .4 2 .5 1 .4 1.2 .4 3.2 .5-5.7 .4 1.2 .4 2.2 .5-1.2 .4 2.2 .4 2.1 .5-3.1 .4-.2 .4 .5 .4 1.5 .5 0 .4 2.6 .4-3.2 .5 1.9 .4-1 .4 4.6 .5 1.4 .4-4.4 .4-6 .5 3.4 .4 3.5 .4-3.7 .5 4.1 .4-1.2 .4-1.9 .5 2.4 .4 2 .4 .7 .4-1.9 .5-2.8 .4 4.9 .4 .4 .5-2.8 .4-2.8 .4 6.7 .5-4.2 .4-1.1 .4 4.8 .5 .8 .4-4.4 .4 2.4 .5 .7 .4 1.3 .4 2.4 .5 1.4 .4-7.6 .4-1.4 .4 3.8 .5 2.2 .4-.9 .4 .3 .5 1.8 .4-.7 .4-1.4 .5 2.6 .4 1.8 .4-1.4 .5-4.9 .4 5.4 .4-3.3 .5 1.8 .4 1.8 .4-2.4 .5-.7 .4 1 .4 1.5 .4-2.3 .5-.3 .4 1.9 .4 .2 .5 2.8 .4 0 .4-2 .5 2.9 .4-4.8 .4 1.2 .5 1.5 .4 1.7 .4-2.8 .5-.8 .4-1 .4 5.6 .5-3.2 .4-2.4 .4 1 .4-.5 .5-2.1 .4-2.3 .4 3.6 .5-1.4 .4-.2 .4-1.2 .5 1.4 .4 3.5 .4-3.2 .5-2.6 .4 2.1 .4-1.3 .5-.5 .4 .5 .4 .5 .5-5.2 .4 1.7 .4 3.3 .4 4 .5-3.4 .4-2.1 .4 .3 .5 .1 .4-1.4 .4 2.1 .5-1.7 .4 3.7 .4-2.4 .5-1.1 .4 5.2 .4-5 .5 4.6 .4-1.8 .4-3.1 .5 8.4 .4-4.3 .4 3.3 .4-1.2 .5-2.1 .4 1.6 .4 .5 .5 1.7 .4-.5 .4 .9 .5-1.8 .4 6.7 .4-4.4 .5 .6 .4-2.9 .4-.1 .5 6.5 .4-1.8 .4 3.2 .5-1.2 .4-3 .4 1.3 .4 1.8 .5 2.5 .4-.5 .4 1.5 .5-1 .4-1 .4 5.1 .5 0 .4-3.1 .4 .7 .5 1.9 .4-.3 .4-.3 .5 4.1 .4-.1 .4-3.6 .5 2.6 .4 .7 .4 1.1 .4-.1 .5-2.7 .4-.4 .4 3.7 .5-2.4 .4-.5 .4 1.7 .5-1.5 .4-1.7 .4 6.6 .5 .5 .4-1.8 .4-1.7 .5-1.4 .4 1.9 .4 5.2 .5-5 .4-1.3 .4 3.1 .4-2.3 .5 3.7 .4 .6 .4 .1 .5-5.3 .4 4 .4-.5 .5 .4 .4 3 .4-2.1 .5-1.3 .4-3 .4 6.8 .5-1.2 .4-.6 .4-.4 .5-3.5 .4 3.3 .4 2.3 .4-1.7 .5-1.6 .4 2.7 .4-3.1 .5 1.6 .4 2.6 .4 1.3 .5-4.2 .4-.3 .4 3.5 .5 .7 .4-3.3 .4 3.7 .5 1.2 .4-3.3 .4 .4 .5 .3 .4 2.1 .4-5.4 .4 3.5 .5-.8 .4-.2 .4 2.8 .5 3.9 .4-6.9 .4 .5 .5 2.7 .4-1.9 .4 .5 .5 1.8 .4 .6 .4 .9 .5-1.5 .4 1.8 .4-1.2 .5 3.3 .4-5.3 .4 3.1 .4-.1 .5-4.2 .4 3.1 .4-3 .5 1.2 .4 .7 .4 2.3 .5 .3 .4-3.5 .4 3.6 .5-.5 .4-.5 .4 1.2 .5-4.2 .4 2.4 .4 .1 .5 .5 .4 4.7 .4-5.5 .4 2.1 .5-2.6 .4 3.2 .4 2.5 .5-1.5 .4-.4 .4-2.7 .5 1.6 .4-4.3 .4 5.5 .5 2.4 .4-3.2 .4-3.7 .5 2.5 .4 3.3 .4 0 .5-2.9 .4-2.7 .4 3.4 .4-3.1 .5 5.3 .4-4.8 .4 3 .5 .5 .4-1.6 .4 .8 .5-.5 .4-1 .4-.5 .5 2.1 .4-1.3 .4 2.2 .5-.4 .4-.2 .4-.6 .5-6.2 .4 6.5 .4 3.7 .4-2.8 .5-4.3 .4 .2 .4 2.9 .5-2.1 .4-1.6 .4 5.7 .5-4.1 .4-1.6 .4 .1 .5 2.8 .4-1.3 .4 2.4 .5-5.9 .4 4.6 .4 3.3 .5-3.1 .4-.5 .4 .3 .4-1.3 .5-.7 .4 2.8 .4 .6 .5-3.7 .4-.8 .4 3.1 .5-.3 .4 2.1 .4-2.1 .5-2.2 .4-1.1 .4 3.4 .5 .2 .4 2.3 .4-4 .5-.2 .4 1.1 .4 .1 .4 5.1 .5-1.7 .4-3.1 .4-3.1 .5 4.1 .4-.3 .4-.9 .5 2.5 .4-3.2 .4 1.6 .5-3.6 .4 4.7 .4-1.3 .5 1.5 .4-2.7 .4 2 .5-1.8 .4 5.3 .4-6.5 .4 1.9 .5-1.1 .4 3.3 .4-.3 .5 .2 .4-.8 .4-1.8 .5 3.6 .4 4.1" stroke="#00c0e8" stroke-width="1.45"/>
</g>
<text x="533.3" y="926.8" font-size="10" text-anchor="middle" fill="#4a4a4a">0</text>
<text x="710.7" y="926.8" font-size="10" text-anchor="middle" fill="#4a4a4a">2000</text>
<text x="603.6" y="935.4" font-size="10.1" text-anchor="middle" fill="#4a4a4a">Frequency (MHz)</text>
<text transform="translate(500.3 835.1) rotate(-90)" font-size="10.1" text-anchor="middle" fill="#4a4a4a">Magnitude (dB)</text>
</g>
</svg>
</body></html>
